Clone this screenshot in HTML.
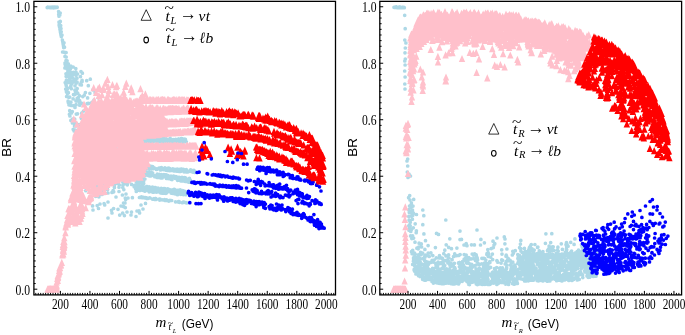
<!DOCTYPE html>
<html><head><meta charset="utf-8"><title>BR plots</title>
<style>html,body{margin:0;padding:0;background:#fff}body{width:685px;height:335px;overflow:hidden}svg{display:block;will-change:transform}</style>
</head><body>
<svg width="685" height="335" viewBox="0 0 685 335">
<rect width="685" height="335" fill="#fff"/>
<g>
<path d="M50.2,7.3h0M53.7,7.2h0M52.5,7.4h0M47.4,7.5h0M47.2,7.5h0M47.5,7.3h0M51.3,7.7h0M48.1,7.3h0M53.5,7.8h0M52.9,7.4h0M57.1,7.2h0M55.9,7.4h0M48.3,7.3h0M50.1,7.7h0M48.7,7.5h0M53.6,7.4h0M52.6,7.2h0M47.4,7.3h0M54,7.5h0M50.1,7.6h0M51.6,7.4h0M55.2,7.6h0M49.4,7.5h0M52.4,7.7h0M54.5,7.4h0M57.2,7.3h0M51.2,7.7h0M48.4,7.5h0M47.2,7.6h0M54.9,7.5h0M58.6,11.5h0M58.9,13h0M58.7,14.6h0M59,16.2h0M59,22h0M59.3,23.5h0M59.1,25h0M59.4,26.6h0M59.9,29h0M60.2,30.6h0M60.4,32h0M60.7,33.6h0M61,35h0M61.3,36.6h0M62.4,40h0M62.7,41.5h0M63,43h0M63.2,44.6h0M63.5,46h0M63.7,47.6h0M62.6,52h0M65.5,52.6h0M65,56.4h0M66,60.6h0M65.5,66h0M68,67h0M70.5,68.6h0M60.2,13.1h0M59.8,15.1h0M60.3,21.4h0M60.7,25.5h0M60.4,26.8h0M61,28.5h0M60.9,31h0M61.2,31.8h0M62,35.1h0M64,42.8h0M64.5,47.2h0M63.7,52.1h0M66.1,52.5h0M66.2,57h0M67.1,60.8h0M66.2,66.6h0M76.7,124.2h0M72.3,111.5h0M66.9,67.3h0M67.8,66.1h0M66,73.8h0M75.4,130.2h0M69.1,73.6h0M81,71.6h0M77.2,98.3h0M67,68.7h0M81.2,126.7h0M68.3,63.8h0M74.2,73.4h0M98.5,138.3h0M67.7,82.4h0M75.8,75h0M75.3,122.8h0M102.2,138.8h0M79.4,125.8h0M91.9,102.4h0M65.1,64.3h0M84,116h0M106,135.1h0M76.3,90.4h0M69.3,79.7h0M89.5,132.2h0M71.5,112.9h0M94.6,113.5h0M89.1,120.5h0M72.1,75.9h0M84.6,124.5h0M89.9,93.3h0M75.9,75.3h0M96.1,124.9h0M93.7,126.5h0M67.3,89.3h0M77,137.7h0M81.3,103.1h0M80,130h0M66.1,81.6h0M81.4,82.2h0M70.8,72.2h0M78.3,97.7h0M82.3,133.6h0M81.9,103.5h0M66.1,76.3h0M93.5,124.3h0M71.1,105.4h0M68.3,102.4h0M73.9,105.7h0M80.9,83.6h0M97.6,105.8h0M82.8,96.6h0M69.9,116h0M87.1,103.6h0M81.7,130.4h0M95.2,105.6h0M68.9,72.7h0M66.6,96.5h0M98.5,114.2h0M77.6,74h0M82.4,73.2h0M75.1,79.1h0M94,100h0M68.1,74.6h0M70.9,102.2h0M81.3,118.3h0M79.7,105.2h0M69.7,110.7h0M73.2,67h0M75.7,137.8h0M75,122.8h0M76,72.1h0M77.1,82.2h0M75.9,133.7h0M66.4,66.5h0M84.3,95.2h0M79,124.5h0M82.6,128.8h0M77.2,88.5h0M86,134.3h0M75.2,80.6h0M67,74.6h0M75,85.8h0M78.1,101h0M65.7,89.1h0M72.6,119.2h0M69,76.8h0M74.5,125.9h0M79.6,100.6h0M79.4,101.5h0M93.2,126.9h0M67.4,93.6h0M70.8,66.2h0M73.7,81.9h0M75.8,68.6h0M69.4,114.3h0M77.9,97.8h0M76.1,104.7h0M75.6,137.3h0M66.4,91.8h0M68.1,101.2h0M65.2,82.6h0M77.7,93.2h0M66.4,80.2h0M88.7,103.3h0M82.6,117.8h0M70.5,87.4h0M95.3,118.5h0M80.6,131.6h0M74.7,119.2h0M79.7,102.9h0M93.6,126.5h0M77,131.6h0M66.8,64.4h0M74.9,90.1h0M83.5,111h0M93.8,115.1h0M70.9,120.4h0M87.8,103.7h0M73,81.7h0M71.3,82.7h0M86.6,119.7h0M75.5,91.8h0M89.8,110.1h0M64.9,68h0M88.3,85.7h0M65,63h0M89.8,116h0M80.1,84.7h0M67.9,71.2h0M76.1,138.3h0M98.3,97.8h0M69.7,97.1h0M70.1,78.4h0M73.6,72.3h0M81,131.2h0M78.8,132h0M67.9,63.9h0M66.2,85.6h0M66.1,88.8h0M74.4,120.6h0M104,134.3h0M66,84.6h0M85.4,92.6h0M66.4,90.1h0M68.8,69.9h0M78.8,135h0M69.7,82.7h0M101.8,136.6h0M99.4,111.2h0M68.9,104.8h0M82.6,119.1h0M71.5,120.7h0M78.6,134.3h0M73.1,98.8h0M97.1,138.2h0M81.7,113.2h0M67.9,75.1h0M77,78.2h0M90.3,79.2h0M68.4,97.1h0M71.3,88.7h0M86.7,80.7h0M82.7,120.5h0M75.1,94.3h0M67.5,66.8h0M94.8,137.5h0M73.2,129.3h0M76.4,83.1h0M103.7,136.4h0M66.4,63.7h0M85.2,117.3h0M92.4,107.8h0M104.1,126.4h0M82.1,81.4h0M72.8,74h0M99.9,118.3h0M74.5,121.7h0M72.4,123h0M76.5,133.8h0M71,81.6h0M84.7,116.5h0M75,107.5h0M74.1,79.4h0M87.6,97.9h0M74.1,130.9h0M82.1,80.3h0M70.8,86h0M76,100.9h0M76.3,114.1h0M65.9,64.7h0M74,94.8h0M93.7,119.7h0M72.4,78h0M76.1,126h0M81.4,85h0M80.5,76.6h0M73.5,94.5h0M68.4,92.7h0M80,138h0M95.1,92.7h0M100.8,119.2h0M67.1,87.7h0M75.6,135h0M77.5,113.8h0M70.4,75.2h0M71.7,83.8h0M77.1,137.2h0M92.9,89.8h0M79.4,95.7h0M76.3,133.7h0M66.8,90.4h0M102.3,184.9h0M125.1,123.3h0M78.2,125h0M134.9,140.6h0M97.7,141.8h0M137.3,169.4h0M92.8,177.3h0M96.3,142.1h0M134.7,170.7h0M136.4,121.9h0M91,158h0M100.7,140.1h0M103.5,159.5h0M135.4,134.6h0M127.4,179.1h0M128.7,181.8h0M114.9,146.2h0M96.5,148.9h0M126.1,126.3h0M88.6,180.2h0M91.8,125.2h0M78.2,164.2h0M93,126.7h0M82.2,159.9h0M121.4,155.8h0M91,153.3h0M115.7,173.9h0M118.5,129.7h0M129.8,143.5h0M112.3,149.8h0M123.2,135.9h0M91.8,139.6h0M85.8,190.7h0M113,146.1h0M108.5,138.5h0M127.7,172.3h0M139.4,128.2h0M106.4,185.5h0M78.6,143.5h0M83.6,135.2h0M138.3,166.7h0M135.5,149.8h0M131.4,155.9h0M92.6,182.2h0M136.5,128.5h0M114.2,169.6h0M89.9,149.5h0M85,136.3h0M92.3,168h0M117.7,136.3h0M76.7,146.2h0M119.4,134.8h0M96,136.3h0M126.9,163.8h0M80,128.1h0M101.3,164h0M116.9,127.3h0M86.5,175.6h0M102.2,142.7h0M95.7,196.3h0M96,165.3h0M98.9,153.3h0M99.3,135.8h0M122.6,136.3h0M103.1,185.6h0M102,190.6h0M105.5,133h0M76.9,164.1h0M81.7,169.8h0M99.7,160.4h0M85.3,142.7h0M83,159.2h0M88.6,130.1h0M106.9,124.3h0M135.3,151h0M133.9,169.6h0M128.8,132.8h0M126.3,137.8h0M101.9,187.7h0M129.1,134.6h0M90,152h0M109.1,150.7h0M83.9,139.8h0M78.6,165h0M124.5,123.1h0M129.6,129.4h0M114.4,164h0M116.1,144.5h0M102.9,166.6h0M103.2,172.7h0M104.6,155.1h0M77.5,169.5h0M107.3,138.8h0M124.9,182.4h0M105.3,134.4h0M106.3,128.6h0M84.2,154.4h0M81.9,155.4h0M108.7,123.3h0M116.7,126.6h0M122.9,182.2h0M108.7,124.3h0M108.3,150.2h0M136.9,130.9h0M122.9,185.2h0M134.6,133.2h0M80.2,148.1h0M124.4,132.7h0M133.4,142h0M128.2,131.5h0M89.3,141h0M108.4,145.5h0M78.4,134.6h0M86.8,182.8h0M83.4,162.5h0M116.7,148.8h0M131.9,164.4h0M113.1,190.6h0M116.3,151.5h0M127.1,141.2h0M145.5,203.4h0M111.5,210.3h0M136.3,191.4h0M123.6,206.6h0M125.3,198h0M119.7,215.1h0M104.1,203.6h0M123.8,189.6h0M125.7,199.6h0M97.2,205.6h0M139,210.9h0M113.7,191.8h0M92.6,205.9h0M122.4,195h0M93,210h0M98.5,208.5h0M100,204h0M104.7,205h0M108,202h0M112,213h0M108,218h0M113.6,208.5h0M118,209.3h0M116,197h0M121,206h0M123.5,203h0M125.3,207.6h0M124.4,215.6h0M127,212h0M131.5,212h0M132.4,197.7h0M126,194h0M137,211h0M139.6,213h0M119,191.5h0M112,192.4h0M108,193h0M122.7,213h0M125,203h0M128,198h0M131,215h0M136,216.5h0M141,205h0M143,209h0M170.7,140.1h0M184.1,141.5h0M152.4,141.7h0M143,140.1h0M159.7,139.1h0M143.7,141.1h0M141.6,140.1h0M184.3,139.1h0M150.2,140.5h0M164.3,140.8h0M178.4,139.2h0M155.2,139.3h0M143.2,141.5h0M177,141.3h0M141.3,141.3h0M175.3,140.3h0M175.1,140.2h0M151.4,138.5h0M151.7,138.2h0M156.4,141.1h0M173,141.8h0M173.7,139.5h0M166.5,140h0M177.3,140.5h0M153.2,140.7h0M185.4,139.4h0M181.5,138.6h0M153,139h0M175.2,142.2h0M175.3,139.7h0M181.5,139.8h0M152,141.7h0M170,141.1h0M171.6,142.3h0M162.6,141.6h0M173.1,141.8h0M161.1,141.1h0M167.2,139.5h0M150.8,140.5h0M144.6,141.6h0M147.7,138.1h0M145.9,141.7h0M156.9,138.7h0M142.3,138.1h0M172.9,140.9h0M173.1,141.3h0M144,140.3h0M157.7,141.4h0M178.7,142h0M144,141.4h0M183.1,142.3h0M145.9,138.8h0M146.2,138.1h0M180,141.7h0M170.2,141.6h0M170.1,139.5h0M145.6,138.4h0M175.8,139.3h0M155.7,139.8h0M142,138.9h0M154,141h0M157.9,139.4h0M185.3,140.6h0M180.2,141h0M142.4,139.6h0M161.1,141.3h0M157,141h0M165.7,139.1h0M180.7,138.9h0M178.7,139.2h0M141.1,138.7h0M176.1,142.3h0M141.2,139.9h0M163.6,141.4h0M149.5,140h0M157,141.5h0M153,141.9h0M154.1,139h0M173.2,140.4h0M146.1,140.5h0M144.7,141.1h0M173.1,141.5h0M169.9,139.8h0M159.5,139.8h0M182,138.9h0M181.9,138.6h0M150.5,139.1h0M182.5,140.5h0M158.4,141.7h0M151.7,139.9h0M165.5,141.3h0M175.6,141h0M157,139.5h0M148.1,141.4h0M171.5,141.3h0M148.8,139.8h0M176.6,140.8h0M146.8,139.8h0M181.7,139.5h0M149.8,139.2h0M173.3,141.8h0M148.1,138.6h0M152.4,139.4h0M165,138.9h0M156.1,138.9h0M185.9,141.5h0M145.7,141.8h0M145.7,139.5h0M186.3,141.8h0M174.7,140.2h0M150,140.6h0M145.9,138.8h0M158.9,138.3h0M159.4,141.3h0M172.9,140.4h0M170.1,140.2h0M147.5,140.4h0M159.6,141.1h0M182.8,140.3h0M167.4,141.3h0M160.4,139.1h0M174.2,141.9h0M176.6,141.2h0M180.2,141.2h0M170.5,140.2h0M155.4,140.6h0M145.5,139.6h0M177,141.3h0M170,139.3h0M160.5,140h0M169.6,140h0M172.1,142.1h0M149.4,140.6h0M176.8,140h0M163.5,142.1h0M142.8,140.1h0M148.4,141.1h0M184.3,140.6h0M145.7,140.3h0M165.9,141.1h0M164.6,140.8h0M179.1,140.6h0M159.9,142h0M150.7,140.8h0M159.1,141.2h0M146.6,141.9h0M157.4,138.4h0M153.6,139.7h0M141.6,139.6h0M160.3,141h0M157.2,139.2h0M151.3,141h0M184.2,140.7h0M151.1,141.3h0M159,139h0M146.9,141.1h0M178.2,141h0M162.6,140.5h0M151.4,141.9h0M157.2,140.7h0M178.7,141.7h0M162.5,139.4h0M166.2,138.8h0M179.4,139.9h0M180.1,139.6h0M158.3,139.2h0M160.6,138.9h0M141.1,140.8h0M153.9,139.1h0M154.9,140h0M160.7,140.7h0M171.3,139.8h0M183.7,142h0M143.6,141.3h0M182.7,141.7h0M147.5,141.3h0M170.1,138.4h0M141.5,141.7h0M171.2,139.4h0M145.7,138.5h0M151.7,141.2h0M156.9,138.8h0M182.6,141.7h0M148.7,141.6h0M169,141.5h0M171.7,141.9h0M177.3,141.8h0M150.1,140.8h0M165.4,141.2h0M161.2,141.7h0M166.5,139.3h0M151.8,138.6h0M163.7,138.5h0M162.5,138.8h0M163.6,140.2h0M165.8,141.7h0M141.3,141.3h0M162.5,140.5h0M171.6,141.7h0M158.2,139.8h0M193.9,170.3h0M176.8,170.3h0M144.5,167.4h0M179.2,171.4h0M160.5,169.9h0M170.1,169.3h0M190.6,169.9h0M181.1,170.7h0M160.9,169.6h0M162.4,168.6h0M170.9,170.2h0M154.2,167.8h0M165.4,169.1h0M186.8,170.3h0M186.9,170.6h0M169.7,168.7h0M169.8,170.7h0M177.7,170.9h0M160.5,168h0M158.9,168.6h0M176.6,170.7h0M145.1,167.8h0M189.9,171.2h0M145.6,166.7h0M143.3,166.2h0M191.8,171.6h0M177.9,170.9h0M191.2,171.5h0M175.7,170.2h0M179.9,170.5h0M179.1,169.4h0M178.4,170h0M183.4,169.4h0M152.6,166.5h0M184.1,171.8h0M177.8,169.7h0M186.6,171.6h0M172.8,168.9h0M159,168.2h0M159.9,168.3h0M177,171.2h0M145.9,167.4h0M145.1,166.1h0M185.9,171h0M191.7,171.1h0M143.7,166.7h0M174.4,171h0M195,171.5h0M164.9,167.8h0M177.2,169.2h0M151,166.3h0M143.3,167.5h0M149.4,168.9h0M147.7,168.4h0M149.8,166.2h0M181.1,169.6h0M181.9,169.5h0M145.7,168h0M180.8,171.3h0M181.7,169.2h0M176.3,170.5h0M167.4,170.4h0M156.5,169.5h0M181,169h0M143.8,167.5h0M186.3,169.6h0M159.5,169.1h0M151.8,168.8h0M168.8,168h0M162.5,168.9h0M166.3,169.5h0M150.7,168.5h0M162.3,169.1h0M176.4,169.7h0M163.4,169.6h0M193.1,172.2h0M173,169.1h0M146.2,168.6h0M180.3,171.2h0M160.6,168.8h0M194.8,172.5h0M174.9,169.3h0M165.7,170.1h0M163,169.3h0M174.9,170.9h0M185.8,170.1h0M143.1,166.3h0M165.4,169.2h0M186.2,171.9h0M145.2,168.1h0M186,171.8h0M173.3,169h0M188.1,171.8h0M179.3,171.3h0M161.4,167.5h0M172.3,170.4h0M153.6,168.6h0M192.4,170.6h0M175.2,170.3h0M167.7,168.3h0M156.5,168.9h0M185,170.6h0M147.6,168.3h0M183.9,169.8h0M173.7,170.8h0M189.9,171.2h0M168.3,169.5h0M153,167h0M152.6,168.4h0M162.2,168.9h0M159.1,175.8h0M145.8,171.9h0M190.3,180h0M143.6,173.9h0M179.3,177.4h0M169.4,176.7h0M165.3,174.8h0M139.8,174.7h0M183.5,179.4h0M167.8,176.1h0M178.9,178.5h0M187.7,181.2h0M181,180.9h0M151.3,172.7h0M148.6,172.8h0M142.4,171.4h0M167.3,178.5h0M162.1,178h0M185.8,178.1h0M169.4,176.9h0M144.3,175.3h0M151.5,174.8h0M171.6,179.5h0M173.2,177.4h0M161.5,174.7h0M188.7,182.2h0M149.6,172.4h0M151.4,174h0M185.4,181.4h0M182,177.4h0M179.3,179.6h0M172,179.6h0M140.9,171.5h0M177.6,180.3h0M173.5,177.1h0M169.1,178.3h0M143.5,172.6h0M151.5,173.1h0M163.3,175h0M150.5,173h0M173.6,176h0M175.7,177h0M139.9,174.5h0M149.6,176h0M183.5,181h0M145.3,173.4h0M143.1,175h0M182.2,179.8h0M161.7,175.5h0M181.2,179h0M171,176.1h0M149.6,172.5h0M175.5,178.4h0M145.6,175.1h0M152,174.3h0M146.2,172.8h0M182.1,178.6h0M146.8,173.8h0M154.7,176.7h0M144,175.3h0M141,174.5h0M173.1,176.7h0M163.1,175.5h0M151.5,173.4h0M157.1,177.4h0M190.4,182.2h0M143.1,172.4h0M185.1,177.9h0M176.1,177.5h0M189.4,178.4h0M180.4,178.3h0M145.4,171.6h0M181.7,179.3h0M147.8,173.7h0M185.9,178.7h0M168,175.6h0M147.5,175h0M175.4,177h0M142.2,171.5h0M169.9,177.4h0M152.4,173.5h0M170.2,178.2h0M180.6,179.3h0M148.6,172.4h0M176.5,178h0M175.9,176.5h0M180.6,178.3h0M182.2,180.7h0M163.9,174.5h0M185.8,179.7h0M183.8,178.6h0M147.8,175.3h0M157.3,174.1h0M157.5,175.9h0M138.2,172.6h0M161.4,176.1h0M144.3,174.3h0M180.9,180.5h0M154.9,175.9h0M158,176.6h0M141.2,174.5h0M188.1,180.1h0M164.9,176.7h0M166.2,174.9h0M188.8,179.2h0M147.6,172.4h0M151.1,175.8h0M139.6,171.1h0M174.7,176.9h0M138.9,173h0M168.3,177.2h0M174.9,176.5h0M183.7,180.3h0M140.4,171.4h0M163.9,176.5h0M152.7,173.2h0M159.3,174.3h0M169.1,178.7h0M145.7,174h0M177.2,177.1h0M181.4,180.9h0M158.4,175.3h0M182.1,179.3h0M158.8,177.4h0M178.8,178.1h0M150.6,173.8h0M160.9,177.9h0M180.2,180.6h0M180.8,180.4h0M140.8,173h0M188.3,181.9h0M151.1,174.2h0M171.2,177h0M165.9,175h0M160.7,176h0M139.1,171.2h0M188.9,181.4h0M187.2,180.6h0M180.5,180.5h0M184.4,177.7h0M171.7,176.7h0M173.6,177h0M166.5,178.5h0M170.6,176.5h0M165.3,176.4h0M187.9,179.3h0M154,175.5h0M144.3,173.8h0M188.2,180.2h0M152.1,174.5h0M162.3,188.8h0M140.6,186.5h0M149.6,188.8h0M149.3,187.9h0M138.7,188.4h0M178.5,192.8h0M164.2,191.6h0M144.7,189.9h0M158.4,190.4h0M166.5,190.8h0M150.5,188h0M145.7,189h0M154.3,190.2h0M134.6,187h0M179.7,191h0M163.5,190.7h0M149.1,191.8h0M149.7,190.7h0M142.4,186.3h0M180.2,192.1h0M137.3,187.5h0M157.3,191.3h0M139.8,186.9h0M184.8,194.1h0M142.2,187.7h0M152.7,190.5h0M166.7,192.8h0M177.5,192.2h0M173.2,193h0M174.3,191.7h0M175.6,193h0M182.5,190.7h0M180.2,189.8h0M174.6,192.3h0M160.4,192.8h0M164.3,190.4h0M175.5,193.9h0M166.2,190.4h0M158,189.9h0M172.3,190.5h0M154.7,190.1h0M154.4,188.8h0M175.7,193.8h0M160.5,190.1h0M143.8,187.7h0M141.7,188.9h0M164.8,188.7h0M182.8,191.8h0M178.7,194h0M184.8,191.3h0M156.6,192.1h0M134.6,185.4h0M163.9,190.7h0M182.8,194.1h0M162.5,193.2h0M161.4,190.6h0M170.3,190.8h0M153,190.1h0M152.6,191.9h0M169.9,191.5h0M139.2,187.6h0M155.2,190.2h0M164.4,192.8h0M185.1,192.8h0M157.3,190.7h0M186.8,192.3h0M162.1,192.2h0M143,187.7h0M185.9,194.7h0M161.2,188.4h0M181.4,193.5h0M177.5,194.7h0M181.1,192.1h0M142.3,187.5h0M161.1,190.5h0M144,187.1h0M167.4,191.6h0M152.7,192.2h0M167.7,188.8h0M155.8,191.4h0M150.3,190.3h0M134.2,186.7h0M178.6,192.7h0M169.4,189.7h0M160.4,190.7h0M148.1,189.9h0M162.2,193.2h0M164.4,190.3h0M140.4,186.6h0M174.3,189.8h0M139.3,186.5h0M161.7,192.2h0M166.5,192.6h0M137.3,185.5h0M174.8,190.9h0M171.9,190.8h0M143,187.4h0M139.3,190.3h0M164.9,190.1h0M157.8,189.5h0M136.9,190h0M164.9,193.2h0M157.3,190.7h0M147.2,186.7h0M183.3,194.6h0M150.7,191.5h0M177.2,191.1h0M165.9,193.3h0M160.3,192.7h0M146.9,188.4h0M172.1,190.1h0M150.4,191.3h0M159.7,191.8h0M146.9,187.3h0M153,188h0M185.5,191.9h0M163.8,188.7h0M162.3,190h0M155.4,187.6h0M140.5,190.1h0M152.6,188.3h0M144.1,187.6h0M146.6,186.6h0M169.2,190.5h0M142.3,189.6h0M138.9,187h0M178.3,190.3h0M157.5,191.8h0M176.7,190.3h0M152.7,190.8h0M154,192.1h0M145,191.2h0M160.8,189h0M158,188.2h0M171.4,190.3h0M181.7,193h0M153.5,188.4h0M166.2,189.5h0M180.2,190.4h0M161.2,190.7h0M148.3,190.6h0M154.4,190.6h0M164.1,189.8h0M154.7,187.7h0M143.4,190.5h0M151,190.3h0M139.8,188.6h0M153.2,189.7h0M149.7,187h0M150.5,188h0M140.7,189.5h0M149,188.7h0M182.2,194h0M180.8,194.3h0M141,187.3h0M135.6,188.8h0M169.2,190.5h0M155.9,190.8h0M171.1,190.2h0M178.9,191.5h0M167.3,189.4h0M140.1,190.5h0M172.9,192.8h0M136.1,185.5h0M142.6,187h0M150.1,188.7h0M136.1,186.9h0M167.8,189.5h0M178.5,192.6h0M172,190.3h0M157.1,191h0M152.5,187h0M178.2,193.6h0M149.2,186.9h0M179.3,192.9h0M136.5,186.6h0M139.9,189.8h0M145.1,191h0M173.7,189.6h0M170.8,190.9h0M173.6,193.4h0M148.9,187.1h0M184.2,192.4h0M183.3,193.7h0M173.1,193.4h0M167.3,190.8h0M136.9,189h0M156.7,190.1h0M183.2,190.8h0M174.4,189.4h0M171.2,193.1h0M147.8,189.4h0M185.4,193.6h0M162.8,189.3h0M137.1,187.3h0M155.8,188.4h0M150.5,187.5h0M171.5,192.4h0M146.6,187.6h0M161.3,190.2h0M183.9,202.2h0M152.7,199.2h0M145,197.9h0M154.3,199.3h0M164.9,200.4h0M146.3,198.2h0M167.3,200.4h0M175.5,201.8h0M143.6,197.4h0M155.7,198.7h0M141,197.1h0M147.7,198.4h0M160,199.1h0M153.9,198.8h0M155.8,198.7h0M141.5,196.8h0M186.6,202.9h0M142.1,197.7h0M186,202.7h0M143.3,197.6h0M159.3,199.1h0M164.6,199.5h0M183.1,202.4h0M168.8,201.1h0M170,200.4h0M150.1,198h0M139.4,197.5h0M179.1,201.6h0M147.1,198.2h0M179.4,202.3h0M146.3,198.3h0M178.7,202h0M154,198.5h0M178.4,201.5h0M156.1,199.2h0M156.1,199.5h0M149.7,197.8h0M165.8,200.4h0M178.2,201.9h0M182.4,202.7h0M162.2,199.8h0M145.7,197.7h0M166.5,199.8h0M171.7,200.5h0M159.7,200.1h0M112.4,167.3h0M133.2,176.2h0M103,185.1h0M116.9,176h0M106.3,176.7h0M140.2,166.2h0M103.7,176.8h0M119.8,173.2h0M105.4,177.5h0M143.7,183.6h0M134.7,162.3h0M126.6,183.1h0M103.8,181.7h0M143.2,178.3h0M124.8,171.4h0M126.7,177h0M91.1,185.1h0M108.3,182.1h0M111,180.1h0M119.9,175.1h0M139.4,180.8h0M92.7,192.8h0M117.8,169.6h0M115.4,181.1h0M99.6,181.8h0M92.8,179.5h0M119,187.2h0M131.4,164.4h0M92.1,191.5h0M109.5,166.5h0M143.6,181.4h0M132.5,165.2h0M132.6,162.2h0M100.2,174.1h0M98.8,171.4h0M128.4,176.2h0M139.3,183.6h0M138.3,181.4h0M96.1,188.3h0M106.5,189h0M93.4,174.2h0M122.2,163.8h0M126.5,169.7h0M97.6,177h0M136.3,182.1h0M92.6,190.4h0M97.1,181.1h0M103.4,186.1h0M138.5,180.5h0M134,161.3h0M96.9,191.1h0M126.8,174.9h0M114.5,166h0M136.7,174.9h0M138.4,183.2h0M90.6,172.5h0M99,194h0M96.2,173.7h0M114.1,181.9h0M109.3,173.4h0M126.3,170.4h0M102.4,179h0M101.7,181.6h0M124,184.1h0M107.8,170.7h0M142.3,185.9h0M104.2,189h0M130.4,179.3h0M124.1,173.3h0M119,175.4h0M89.6,172.8h0M114.9,174h0M100.6,168.9h0M113.2,176.9h0M120.1,171.5h0M104.1,171.7h0M129.6,180.9h0M142.2,172.9h0M141.3,182.2h0M107.4,189.4h0M90.1,178.4h0M139.9,170.5h0M95.9,170.2h0M128.3,168.3h0M110,167.6h0M124.9,167.5h0M97.3,180.4h0M138.5,184.3h0M141.4,168.1h0M105.6,188.5h0M124.9,175.4h0M126.7,172.8h0M89.4,175.7h0M88.7,183.8h0M106.1,178.8h0M121.9,169.8h0M141.5,181.4h0M122.8,187.5h0M132,163.4h0M134.8,176.1h0M118.3,182.4h0M119.3,185h0M122.1,172.6h0M130.5,169.8h0M132.6,171.8h0M113.2,170.6h0M114.5,184.9h0M132.4,173.8h0M131.4,163.4h0M89.6,179.1h0M119.3,166.9h0M142.4,173.9h0M132.7,169.2h0M144.9,179h0M124.2,173.1h0M134,177.5h0M92.5,187.9h0M89.9,184.5h0M89.6,181.4h0M142.7,183.8h0M99.4,169.6h0M101.7,176.5h0M99.9,167.7h0M131.6,184.4h0M99,181.6h0M95.4,192.8h0M138.2,170.2h0M103,172.6h0M95.7,185.9h0M121.9,177.2h0M98.6,193.6h0M107.6,189.6h0M137.8,166.9h0M95,188h0M127,163.4h0M100.1,190.1h0M116.3,168.8h0M105,193.4h0M93.2,178.5h0M94.1,176.3h0M96.7,186h0M94.9,188.1h0M107.2,178.9h0M141.1,173.3h0M98.9,196.8h0M88.6,179.3h0M110.5,181.2h0M127.3,184.8h0M118.6,180.9h0M110,172.1h0M109.2,174.6h0M101.3,183.2h0M108.6,169.1h0M140.5,161.9h0M127.7,172.3h0M124.8,180.9h0M137.2,179.4h0M100.1,183.9h0M130.6,174.4h0M128.7,175h0M117.6,183.3h0M126.6,172.2h0M123.7,180.6h0M99.4,183.3h0M101.9,194.5h0M114.4,187.4h0M117.3,178.1h0M141.6,180.1h0M117.4,180h0M134.8,169.1h0" stroke="#add8e6" stroke-width="3.7" stroke-linecap="round" fill="none"/>
<path d="M47.6,285.4l3.2,7.2h-6.4zM47.8,285.6l3.2,7.2h-6.4zM48.1,285.5l3.2,7.2h-6.4zM48.3,285.6l3.2,7.2h-6.4zM48.5,285.6l3.2,7.2h-6.4zM48.8,285.7l3.2,7.2h-6.4zM49,285.6l3.2,7.2h-6.4zM49.3,285.3l3.2,7.2h-6.4zM49.5,285.5l3.2,7.2h-6.4zM49.7,285.6l3.2,7.2h-6.4zM50,285.6l3.2,7.2h-6.4zM50.2,285.3l3.2,7.2h-6.4zM50.4,285.4l3.2,7.2h-6.4zM50.7,285.4l3.2,7.2h-6.4zM50.9,285.3l3.2,7.2h-6.4zM51.1,285.4l3.2,7.2h-6.4zM51.4,285.6l3.2,7.2h-6.4zM51.6,285.5l3.2,7.2h-6.4zM51.8,285.5l3.2,7.2h-6.4zM52.1,285.3l3.2,7.2h-6.4zM52.3,285.5l3.2,7.2h-6.4zM52.6,285.7l3.2,7.2h-6.4zM52.8,285.6l3.2,7.2h-6.4zM53,285.5l3.2,7.2h-6.4zM53.3,285.5l3.2,7.2h-6.4zM53.5,285.6l3.2,7.2h-6.4zM53.7,285.6l3.2,7.2h-6.4zM54,285.4l3.2,7.2h-6.4zM54.2,285.6l3.2,7.2h-6.4zM54.4,285.4l3.2,7.2h-6.4zM54.7,285.5l3.2,7.2h-6.4zM54.9,285.4l3.2,7.2h-6.4zM55.1,285.4l3.2,7.2h-6.4zM55.4,285.4l3.2,7.2h-6.4zM55.6,285.5l3.2,7.2h-6.4zM55.9,285.3l3.2,7.2h-6.4zM56.1,285.4l3.2,7.2h-6.4zM56.3,285.5l3.2,7.2h-6.4zM56.6,285.3l3.2,7.2h-6.4zM56.8,285.4l3.2,7.2h-6.4zM59.5,264.2l3.2,7.2h-6.4zM63.9,237.4l3.2,7.2h-6.4zM57.7,272.1l3.2,7.2h-6.4zM61.8,258.7l3.2,7.2h-6.4zM65.4,229.1l3.2,7.2h-6.4zM59,269.3l3.2,7.2h-6.4zM63,240.7l3.2,7.2h-6.4zM63.1,245.5l3.2,7.2h-6.4zM59.6,263.9l3.2,7.2h-6.4zM64.1,243.1l3.2,7.2h-6.4zM58.4,270.5l3.2,7.2h-6.4zM64.2,241.6l3.2,7.2h-6.4zM56.7,278.3l3.2,7.2h-6.4zM56.7,281.5l3.2,7.2h-6.4zM64.5,240.7l3.2,7.2h-6.4zM63.4,237.8l3.2,7.2h-6.4zM59.2,266.8l3.2,7.2h-6.4zM62.5,251.2l3.2,7.2h-6.4zM57.8,276.7l3.2,7.2h-6.4zM67.9,217.1l3.2,7.2h-6.4zM63.1,246.9l3.2,7.2h-6.4zM58.1,272.5l3.2,7.2h-6.4zM63.9,247.6l3.2,7.2h-6.4zM63.4,245.3l3.2,7.2h-6.4zM63.3,250.2l3.2,7.2h-6.4zM61,261l3.2,7.2h-6.4zM62.8,242.7l3.2,7.2h-6.4zM60.6,261.6l3.2,7.2h-6.4zM59.6,267.7l3.2,7.2h-6.4zM65.7,223.4l3.2,7.2h-6.4zM67.9,220.6l3.2,7.2h-6.4zM65.6,222.3l3.2,7.2h-6.4zM59.5,266.6l3.2,7.2h-6.4zM67.8,219.1l3.2,7.2h-6.4zM60,263.8l3.2,7.2h-6.4zM67.9,219.1l3.2,7.2h-6.4zM63.8,243.8l3.2,7.2h-6.4zM56.7,283.3l3.2,7.2h-6.4zM57.3,274.7l3.2,7.2h-6.4zM64.5,238.1l3.2,7.2h-6.4zM69.4,215.8l3.2,7.2h-6.4zM64.3,234.1l3.2,7.2h-6.4zM64,236.7l3.2,7.2h-6.4zM58,273.8l3.2,7.2h-6.4zM62.5,250.1l3.2,7.2h-6.4zM66.8,218.9l3.2,7.2h-6.4zM80.5,202.4l3.2,7.2h-6.4zM78.5,205.8l3.2,7.2h-6.4zM81.8,202.2l3.2,7.2h-6.4zM87.6,197.3l3.2,7.2h-6.4zM80.4,203.5l3.2,7.2h-6.4zM81.3,200.9l3.2,7.2h-6.4zM73.4,214.9l3.2,7.2h-6.4zM73.9,212.4l3.2,7.2h-6.4zM78,217.3l3.2,7.2h-6.4zM83.3,192.8l3.2,7.2h-6.4zM89.3,193.5l3.2,7.2h-6.4zM82.1,196.7l3.2,7.2h-6.4zM74,197.6l3.2,7.2h-6.4zM88.6,195.7l3.2,7.2h-6.4zM77.2,210.8l3.2,7.2h-6.4zM84.5,196l3.2,7.2h-6.4zM67.5,211.9l3.2,7.2h-6.4zM67.1,216.1l3.2,7.2h-6.4zM73.9,198.3l3.2,7.2h-6.4zM81.7,200.8l3.2,7.2h-6.4zM81.1,195.9l3.2,7.2h-6.4zM88.7,195.9l3.2,7.2h-6.4zM76.6,192.4l3.2,7.2h-6.4zM76.3,210.3l3.2,7.2h-6.4zM72,207.5l3.2,7.2h-6.4zM68.5,205.1l3.2,7.2h-6.4zM85.7,204.1l3.2,7.2h-6.4zM84.3,194.8l3.2,7.2h-6.4zM88.4,195l3.2,7.2h-6.4zM73.9,201.7l3.2,7.2h-6.4zM91.1,194.1l3.2,7.2h-6.4zM79.1,216.9l3.2,7.2h-6.4zM82.1,207.4l3.2,7.2h-6.4zM73.3,217.7l3.2,7.2h-6.4zM88.8,198.1l3.2,7.2h-6.4zM91,192.4l3.2,7.2h-6.4zM75.3,219.3l3.2,7.2h-6.4zM83.7,192.9l3.2,7.2h-6.4zM75,204.7l3.2,7.2h-6.4zM72.7,213.3l3.2,7.2h-6.4zM70.8,214.6l3.2,7.2h-6.4zM74.1,193.4l3.2,7.2h-6.4zM81.1,194.2l3.2,7.2h-6.4zM80.9,214.6l3.2,7.2h-6.4zM82.1,205l3.2,7.2h-6.4zM68.6,210.5l3.2,7.2h-6.4zM69.6,208.5l3.2,7.2h-6.4zM75.5,202.5l3.2,7.2h-6.4zM83.9,196.2l3.2,7.2h-6.4zM75,216.2l3.2,7.2h-6.4zM89.7,194.9l3.2,7.2h-6.4zM79.4,207.2l3.2,7.2h-6.4zM69.2,205.2l3.2,7.2h-6.4zM70.4,207.2l3.2,7.2h-6.4zM79.7,202.2l3.2,7.2h-6.4zM71.3,203.3l3.2,7.2h-6.4zM71.5,195.1l3.2,7.2h-6.4zM72.5,217.1l3.2,7.2h-6.4zM79.5,217.7l3.2,7.2h-6.4zM66.4,219.2l3.2,7.2h-6.4zM79.2,214.7l3.2,7.2h-6.4zM81.4,211.7l3.2,7.2h-6.4zM76.2,217.9l3.2,7.2h-6.4zM77,213.4l3.2,7.2h-6.4zM75.6,209.4l3.2,7.2h-6.4zM67,218.9l3.2,7.2h-6.4zM68,214.4l3.2,7.2h-6.4zM82.5,209.9l3.2,7.2h-6.4zM77.3,177.1l3.2,7.2h-6.4zM74.6,175.2l3.2,7.2h-6.4zM74.9,172.2l3.2,7.2h-6.4zM75.2,184.4l3.2,7.2h-6.4zM72,193.7l3.2,7.2h-6.4zM74.7,185.9l3.2,7.2h-6.4zM80.1,186.3l3.2,7.2h-6.4zM72.5,189.2l3.2,7.2h-6.4zM76.6,177.5l3.2,7.2h-6.4zM71,196l3.2,7.2h-6.4zM79.3,186.9l3.2,7.2h-6.4zM75.6,191.8l3.2,7.2h-6.4zM77.1,191.7l3.2,7.2h-6.4zM70.9,194.4l3.2,7.2h-6.4zM76.5,194.9l3.2,7.2h-6.4zM73.5,181.6l3.2,7.2h-6.4zM77.3,177.5l3.2,7.2h-6.4zM73.6,188.4l3.2,7.2h-6.4zM73.9,180l3.2,7.2h-6.4zM74.4,176.4l3.2,7.2h-6.4zM79.5,179.7l3.2,7.2h-6.4zM82.2,196.3l3.2,7.2h-6.4zM76.9,183.4l3.2,7.2h-6.4zM82.6,190.9l3.2,7.2h-6.4zM79.1,190.2l3.2,7.2h-6.4zM76.5,176.4l3.2,7.2h-6.4zM81.4,192.5l3.2,7.2h-6.4zM76.2,173.7l3.2,7.2h-6.4zM74.1,180.1l3.2,7.2h-6.4zM80.3,195.5l3.2,7.2h-6.4zM73.2,190l3.2,7.2h-6.4zM83.2,192.1l3.2,7.2h-6.4zM81.1,194l3.2,7.2h-6.4zM81.5,192.2l3.2,7.2h-6.4zM76.7,186.2l3.2,7.2h-6.4zM81.3,192l3.2,7.2h-6.4zM75,193.2l3.2,7.2h-6.4zM78.2,195.4l3.2,7.2h-6.4zM72.3,195l3.2,7.2h-6.4zM82,195.6l3.2,7.2h-6.4zM77.9,177.7l3.2,7.2h-6.4zM74.3,177.2l3.2,7.2h-6.4zM74.6,182.8l3.2,7.2h-6.4zM80.5,183.7l3.2,7.2h-6.4zM79.8,188.5l3.2,7.2h-6.4zM78.7,181.2l3.2,7.2h-6.4zM79.8,191.2l3.2,7.2h-6.4zM82.4,194.9l3.2,7.2h-6.4zM73.5,181.6l3.2,7.2h-6.4zM81,187.7l3.2,7.2h-6.4zM77,179.9l3.2,7.2h-6.4zM81.4,192.3l3.2,7.2h-6.4zM75.1,171.5l3.2,7.2h-6.4zM74.1,171.8l3.2,7.2h-6.4zM76.6,191.7l3.2,7.2h-6.4zM76.9,186.5l3.2,7.2h-6.4zM74.4,179.8l3.2,7.2h-6.4zM78.8,180.2l3.2,7.2h-6.4zM75.2,186.9l3.2,7.2h-6.4zM74.6,173.6l3.2,7.2h-6.4zM125.9,139.1l3.2,7.2h-6.4zM133.7,108l3.2,7.2h-6.4zM77.1,175.8l3.2,7.2h-6.4zM140.1,134.5l3.2,7.2h-6.4zM135.5,112.1l3.2,7.2h-6.4zM133.9,120.6l3.2,7.2h-6.4zM81.5,149.7l3.2,7.2h-6.4zM112,132.8l3.2,7.2h-6.4zM140.1,160.7l3.2,7.2h-6.4zM120.2,139.3l3.2,7.2h-6.4zM100.8,160.2l3.2,7.2h-6.4zM101.8,146.8l3.2,7.2h-6.4zM141.1,144.5l3.2,7.2h-6.4zM135.8,162.4l3.2,7.2h-6.4zM127.9,168.8l3.2,7.2h-6.4zM98.1,109.6l3.2,7.2h-6.4zM140,110.3l3.2,7.2h-6.4zM116.7,100.9l3.2,7.2h-6.4zM129.3,158.3l3.2,7.2h-6.4zM130.4,124.5l3.2,7.2h-6.4zM125.1,123.2l3.2,7.2h-6.4zM99.7,109.9l3.2,7.2h-6.4zM138.9,112l3.2,7.2h-6.4zM86.6,126.5l3.2,7.2h-6.4zM96,133.4l3.2,7.2h-6.4zM96.9,187.5l3.2,7.2h-6.4zM97.7,138.7l3.2,7.2h-6.4zM93.3,134.4l3.2,7.2h-6.4zM135.9,157.9l3.2,7.2h-6.4zM97.3,111.1l3.2,7.2h-6.4zM108.8,150.3l3.2,7.2h-6.4zM129.7,123l3.2,7.2h-6.4zM141.9,147.5l3.2,7.2h-6.4zM120.6,121.5l3.2,7.2h-6.4zM92,103.1l3.2,7.2h-6.4zM129.8,161.8l3.2,7.2h-6.4zM133.8,107.1l3.2,7.2h-6.4zM120.9,163.2l3.2,7.2h-6.4zM99.3,134.3l3.2,7.2h-6.4zM99.9,114.3l3.2,7.2h-6.4zM113.4,146.7l3.2,7.2h-6.4zM140.7,109.3l3.2,7.2h-6.4zM78.9,136.3l3.2,7.2h-6.4zM137,160.8l3.2,7.2h-6.4zM103.9,151.8l3.2,7.2h-6.4zM85.2,161.2l3.2,7.2h-6.4zM139,109.1l3.2,7.2h-6.4zM126.1,155.5l3.2,7.2h-6.4zM79,154.6l3.2,7.2h-6.4zM94.2,117l3.2,7.2h-6.4zM133.4,131.1l3.2,7.2h-6.4zM79.3,177.3l3.2,7.2h-6.4zM74.3,157.1l3.2,7.2h-6.4zM94.4,102.1l3.2,7.2h-6.4zM115.1,174.3l3.2,7.2h-6.4zM135.2,107.1l3.2,7.2h-6.4zM120.6,129.2l3.2,7.2h-6.4zM116.1,117.4l3.2,7.2h-6.4zM113.7,99.3l3.2,7.2h-6.4zM76.1,145.1l3.2,7.2h-6.4zM78.7,157.2l3.2,7.2h-6.4zM117.3,135l3.2,7.2h-6.4zM117.6,118.2l3.2,7.2h-6.4zM109.4,109.3l3.2,7.2h-6.4zM124.5,164.8l3.2,7.2h-6.4zM99.3,114.7l3.2,7.2h-6.4zM94.9,115.1l3.2,7.2h-6.4zM112.2,138.7l3.2,7.2h-6.4zM126.1,115.4l3.2,7.2h-6.4zM142.1,166.1l3.2,7.2h-6.4zM127.4,157.2l3.2,7.2h-6.4zM100.3,112.2l3.2,7.2h-6.4zM107.7,106.3l3.2,7.2h-6.4zM85.4,171.4l3.2,7.2h-6.4zM132.8,142.4l3.2,7.2h-6.4zM115.7,145.4l3.2,7.2h-6.4zM128.2,133.5l3.2,7.2h-6.4zM136.3,109.3l3.2,7.2h-6.4zM89.8,152.9l3.2,7.2h-6.4zM132.2,141.1l3.2,7.2h-6.4zM139.8,147.9l3.2,7.2h-6.4zM97.9,156.7l3.2,7.2h-6.4zM109.9,158.1l3.2,7.2h-6.4zM81.7,153.5l3.2,7.2h-6.4zM88.8,140.4l3.2,7.2h-6.4zM121.1,164.6l3.2,7.2h-6.4zM79,166.3l3.2,7.2h-6.4zM108.8,135l3.2,7.2h-6.4zM126.8,119.5l3.2,7.2h-6.4zM125.2,141.9l3.2,7.2h-6.4zM141.3,154.2l3.2,7.2h-6.4zM90.9,134.3l3.2,7.2h-6.4zM135,157.6l3.2,7.2h-6.4zM91.8,186.2l3.2,7.2h-6.4zM93.5,111.2l3.2,7.2h-6.4zM130,106.4l3.2,7.2h-6.4zM126.5,114.4l3.2,7.2h-6.4zM86,145.8l3.2,7.2h-6.4zM141.8,96.6l3.2,7.2h-6.4zM119.9,153.8l3.2,7.2h-6.4zM114.4,124.5l3.2,7.2h-6.4zM74.6,168.3l3.2,7.2h-6.4zM83,159.1l3.2,7.2h-6.4zM105.7,107.1l3.2,7.2h-6.4zM114.4,130.4l3.2,7.2h-6.4zM136.8,106.2l3.2,7.2h-6.4zM96.4,170l3.2,7.2h-6.4zM130.9,97.1l3.2,7.2h-6.4zM82.4,163.2l3.2,7.2h-6.4zM112.5,140.4l3.2,7.2h-6.4zM119.2,159l3.2,7.2h-6.4zM136,165.6l3.2,7.2h-6.4zM139,113.8l3.2,7.2h-6.4zM106.7,164.6l3.2,7.2h-6.4zM96.2,130l3.2,7.2h-6.4zM81,139.1l3.2,7.2h-6.4zM94.3,120.5l3.2,7.2h-6.4zM81.8,176.1l3.2,7.2h-6.4zM120.4,131.8l3.2,7.2h-6.4zM113.3,159.1l3.2,7.2h-6.4zM95.3,183.9l3.2,7.2h-6.4zM87,138.7l3.2,7.2h-6.4zM92.4,121.2l3.2,7.2h-6.4zM125.1,116.6l3.2,7.2h-6.4zM145.4,158.5l3.2,7.2h-6.4zM122.6,154.1l3.2,7.2h-6.4zM96.5,102.6l3.2,7.2h-6.4zM75.1,131.3l3.2,7.2h-6.4zM82.4,144l3.2,7.2h-6.4zM124.9,122.8l3.2,7.2h-6.4zM96.4,135.9l3.2,7.2h-6.4zM106.9,166.7l3.2,7.2h-6.4zM135.6,99.4l3.2,7.2h-6.4zM123.6,123.2l3.2,7.2h-6.4zM88.1,183.7l3.2,7.2h-6.4zM122.8,153l3.2,7.2h-6.4zM87.4,110.3l3.2,7.2h-6.4zM122.3,151.4l3.2,7.2h-6.4zM137.1,109l3.2,7.2h-6.4zM100.9,166.1l3.2,7.2h-6.4zM132.3,120.7l3.2,7.2h-6.4zM112.7,107.2l3.2,7.2h-6.4zM132.9,123.9l3.2,7.2h-6.4zM130.6,118l3.2,7.2h-6.4zM90.2,133.5l3.2,7.2h-6.4zM121.5,141.9l3.2,7.2h-6.4zM77.7,160.4l3.2,7.2h-6.4zM106.4,107.6l3.2,7.2h-6.4zM126.7,105.4l3.2,7.2h-6.4zM109.5,113.2l3.2,7.2h-6.4zM106.6,107.8l3.2,7.2h-6.4zM100.7,141.7l3.2,7.2h-6.4zM115.1,103.3l3.2,7.2h-6.4zM129.1,150.7l3.2,7.2h-6.4zM112.8,119.5l3.2,7.2h-6.4zM138,116.9l3.2,7.2h-6.4zM128.1,103.6l3.2,7.2h-6.4zM97.5,116.2l3.2,7.2h-6.4zM100.7,108l3.2,7.2h-6.4zM109.6,113.8l3.2,7.2h-6.4zM122.3,146.1l3.2,7.2h-6.4zM108.8,167.9l3.2,7.2h-6.4zM91.3,144.6l3.2,7.2h-6.4zM122.2,110.4l3.2,7.2h-6.4zM101.2,183.5l3.2,7.2h-6.4zM90.8,154.1l3.2,7.2h-6.4zM76.7,138.8l3.2,7.2h-6.4zM88.2,168.7l3.2,7.2h-6.4zM124.3,97.6l3.2,7.2h-6.4zM91.2,142.4l3.2,7.2h-6.4zM90,176.9l3.2,7.2h-6.4zM97.8,135.7l3.2,7.2h-6.4zM123.5,98.6l3.2,7.2h-6.4zM86,176.3l3.2,7.2h-6.4zM119,121.3l3.2,7.2h-6.4zM115.6,165.1l3.2,7.2h-6.4zM91.8,108l3.2,7.2h-6.4zM112.6,152.5l3.2,7.2h-6.4zM86.4,152.9l3.2,7.2h-6.4zM95.4,124.3l3.2,7.2h-6.4zM138.4,136.9l3.2,7.2h-6.4zM111.9,107.7l3.2,7.2h-6.4zM122.7,153l3.2,7.2h-6.4zM140.4,151.4l3.2,7.2h-6.4zM125.2,121.1l3.2,7.2h-6.4zM101.1,147l3.2,7.2h-6.4zM79.4,167.9l3.2,7.2h-6.4zM108.9,161.3l3.2,7.2h-6.4zM74.7,142.3l3.2,7.2h-6.4zM126.5,158.9l3.2,7.2h-6.4zM91.2,138l3.2,7.2h-6.4zM89.3,135.9l3.2,7.2h-6.4zM140.6,118.8l3.2,7.2h-6.4zM100.6,160.4l3.2,7.2h-6.4zM83.4,117.9l3.2,7.2h-6.4zM84.1,135.6l3.2,7.2h-6.4zM79.8,152.6l3.2,7.2h-6.4zM116.7,130.7l3.2,7.2h-6.4zM106.4,113.3l3.2,7.2h-6.4zM75.3,161.6l3.2,7.2h-6.4zM135.8,158.4l3.2,7.2h-6.4zM88.5,170.3l3.2,7.2h-6.4zM117.6,115.5l3.2,7.2h-6.4zM113.6,166.4l3.2,7.2h-6.4zM86.8,163.6l3.2,7.2h-6.4zM91,122l3.2,7.2h-6.4zM98.8,146.8l3.2,7.2h-6.4zM104.9,142.6l3.2,7.2h-6.4zM120.2,163.6l3.2,7.2h-6.4zM132.6,166.7l3.2,7.2h-6.4zM110.4,114.6l3.2,7.2h-6.4zM115.5,101.3l3.2,7.2h-6.4zM125.3,133.6l3.2,7.2h-6.4zM81,153l3.2,7.2h-6.4zM91.1,105.4l3.2,7.2h-6.4zM115.8,109.7l3.2,7.2h-6.4zM117.1,106.8l3.2,7.2h-6.4zM91.8,121.3l3.2,7.2h-6.4zM113.5,166.3l3.2,7.2h-6.4zM127.6,117.7l3.2,7.2h-6.4zM121.3,163.1l3.2,7.2h-6.4zM140.7,116.1l3.2,7.2h-6.4zM123,121.6l3.2,7.2h-6.4zM132.8,126.3l3.2,7.2h-6.4zM127.4,101.8l3.2,7.2h-6.4zM112,111l3.2,7.2h-6.4zM138.9,141l3.2,7.2h-6.4zM82.8,145.3l3.2,7.2h-6.4zM100.9,165.5l3.2,7.2h-6.4zM131.4,106.6l3.2,7.2h-6.4zM102.6,143.1l3.2,7.2h-6.4zM123.5,117.8l3.2,7.2h-6.4zM109.3,165.1l3.2,7.2h-6.4zM101.5,139.5l3.2,7.2h-6.4zM143.1,156.1l3.2,7.2h-6.4zM107.7,157.9l3.2,7.2h-6.4zM141.3,108.8l3.2,7.2h-6.4zM119.8,125.3l3.2,7.2h-6.4zM129.6,170.8l3.2,7.2h-6.4zM80.3,134.4l3.2,7.2h-6.4zM95.3,170.5l3.2,7.2h-6.4zM86.1,147.7l3.2,7.2h-6.4zM86.5,113.2l3.2,7.2h-6.4zM105.5,129l3.2,7.2h-6.4zM82.7,121.4l3.2,7.2h-6.4zM118.7,124.3l3.2,7.2h-6.4zM127,167.2l3.2,7.2h-6.4zM81.9,174.9l3.2,7.2h-6.4zM92.3,121l3.2,7.2h-6.4zM137.2,127.4l3.2,7.2h-6.4zM129.1,129.4l3.2,7.2h-6.4zM116.5,97.4l3.2,7.2h-6.4zM93.7,131.7l3.2,7.2h-6.4zM100.1,132.9l3.2,7.2h-6.4zM129.9,120l3.2,7.2h-6.4zM92.7,159.7l3.2,7.2h-6.4zM136.1,109.3l3.2,7.2h-6.4zM98.9,175.6l3.2,7.2h-6.4zM139,109.8l3.2,7.2h-6.4zM129.1,161.7l3.2,7.2h-6.4zM114.5,140.4l3.2,7.2h-6.4zM89.8,129.3l3.2,7.2h-6.4zM81.4,128l3.2,7.2h-6.4zM132.9,118.3l3.2,7.2h-6.4zM79,167.9l3.2,7.2h-6.4zM108.2,135.2l3.2,7.2h-6.4zM81.8,153.1l3.2,7.2h-6.4zM112.4,143.1l3.2,7.2h-6.4zM139.2,160.6l3.2,7.2h-6.4zM100.8,131.5l3.2,7.2h-6.4zM125.5,108.4l3.2,7.2h-6.4zM76.6,153.4l3.2,7.2h-6.4zM127.1,137.8l3.2,7.2h-6.4zM100.4,117.9l3.2,7.2h-6.4zM133.3,117.5l3.2,7.2h-6.4zM88.9,125.5l3.2,7.2h-6.4zM128.2,114.4l3.2,7.2h-6.4zM111,160.9l3.2,7.2h-6.4zM115.5,173.1l3.2,7.2h-6.4zM141.4,149.6l3.2,7.2h-6.4zM138.3,131.3l3.2,7.2h-6.4zM143,150.4l3.2,7.2h-6.4zM120.7,173.9l3.2,7.2h-6.4zM118.6,121.4l3.2,7.2h-6.4zM105.1,145.9l3.2,7.2h-6.4zM99.2,165.6l3.2,7.2h-6.4zM91.5,121.1l3.2,7.2h-6.4zM87,154.6l3.2,7.2h-6.4zM88.9,152.9l3.2,7.2h-6.4zM129.4,165.1l3.2,7.2h-6.4zM106.8,104.7l3.2,7.2h-6.4zM133,161.8l3.2,7.2h-6.4zM108,158l3.2,7.2h-6.4zM98.9,170.4l3.2,7.2h-6.4zM88.7,112l3.2,7.2h-6.4zM119.7,125.7l3.2,7.2h-6.4zM90.2,104.6l3.2,7.2h-6.4zM97.4,145.1l3.2,7.2h-6.4zM109.5,138.8l3.2,7.2h-6.4zM108.9,115.5l3.2,7.2h-6.4zM84.7,112.7l3.2,7.2h-6.4zM103.9,130.6l3.2,7.2h-6.4zM100,163.1l3.2,7.2h-6.4zM127.9,130.6l3.2,7.2h-6.4zM106,125.2l3.2,7.2h-6.4zM84.8,131.7l3.2,7.2h-6.4zM132.5,153.3l3.2,7.2h-6.4zM103.8,114l3.2,7.2h-6.4zM140.4,173.6l3.2,7.2h-6.4zM97.9,142.7l3.2,7.2h-6.4zM121.3,142.4l3.2,7.2h-6.4zM102.6,155.2l3.2,7.2h-6.4zM93.3,132.2l3.2,7.2h-6.4zM94.4,128.5l3.2,7.2h-6.4zM85.9,163l3.2,7.2h-6.4zM133.6,110.6l3.2,7.2h-6.4zM102.5,105.4l3.2,7.2h-6.4zM129.8,154l3.2,7.2h-6.4zM126.4,157.2l3.2,7.2h-6.4zM86,113.9l3.2,7.2h-6.4zM102.9,120.8l3.2,7.2h-6.4zM126.2,113.3l3.2,7.2h-6.4zM85.3,130.3l3.2,7.2h-6.4zM78.4,147.6l3.2,7.2h-6.4zM76.5,138.8l3.2,7.2h-6.4zM116.6,140l3.2,7.2h-6.4zM118.5,128.9l3.2,7.2h-6.4zM141.7,150.5l3.2,7.2h-6.4zM87,133.4l3.2,7.2h-6.4zM112.1,96.9l3.2,7.2h-6.4zM104.6,161l3.2,7.2h-6.4zM127.9,135.8l3.2,7.2h-6.4zM119.5,126.9l3.2,7.2h-6.4zM124.9,127.1l3.2,7.2h-6.4zM93.4,155.4l3.2,7.2h-6.4zM137.5,143.6l3.2,7.2h-6.4zM142.8,169.4l3.2,7.2h-6.4zM130.3,151.7l3.2,7.2h-6.4zM117.4,137.6l3.2,7.2h-6.4zM80.5,171.4l3.2,7.2h-6.4zM94.5,107.4l3.2,7.2h-6.4zM106.7,166.5l3.2,7.2h-6.4zM128,159l3.2,7.2h-6.4zM110.5,166.1l3.2,7.2h-6.4zM122.4,123.2l3.2,7.2h-6.4zM82.8,168.7l3.2,7.2h-6.4zM124.3,101.6l3.2,7.2h-6.4zM114,167.8l3.2,7.2h-6.4zM121.1,132.7l3.2,7.2h-6.4zM134.3,99.6l3.2,7.2h-6.4zM76.5,141.2l3.2,7.2h-6.4zM127.2,166.8l3.2,7.2h-6.4zM84.1,175l3.2,7.2h-6.4zM87.8,144.7l3.2,7.2h-6.4zM109.1,172.2l3.2,7.2h-6.4zM141.5,117.7l3.2,7.2h-6.4zM131.1,157.3l3.2,7.2h-6.4zM137.3,139.2l3.2,7.2h-6.4zM124.5,168.3l3.2,7.2h-6.4zM124.6,149.9l3.2,7.2h-6.4zM86.4,109.6l3.2,7.2h-6.4zM110.5,122.2l3.2,7.2h-6.4zM115,169.9l3.2,7.2h-6.4zM84.4,152.6l3.2,7.2h-6.4zM102.5,149.2l3.2,7.2h-6.4zM83.2,123.8l3.2,7.2h-6.4zM124.7,131.4l3.2,7.2h-6.4zM120.9,148.8l3.2,7.2h-6.4zM123.6,131.2l3.2,7.2h-6.4zM96.2,189.9l3.2,7.2h-6.4zM74.7,149.8l3.2,7.2h-6.4zM111.6,107.8l3.2,7.2h-6.4zM126.8,96.6l3.2,7.2h-6.4zM97.2,151.3l3.2,7.2h-6.4zM135,97.7l3.2,7.2h-6.4zM87.3,176.7l3.2,7.2h-6.4zM139.2,146.2l3.2,7.2h-6.4zM125.6,102.9l3.2,7.2h-6.4zM129.2,122.5l3.2,7.2h-6.4zM120.1,159.5l3.2,7.2h-6.4zM127.7,149.6l3.2,7.2h-6.4zM140.6,121l3.2,7.2h-6.4zM85.7,110.8l3.2,7.2h-6.4zM133.3,111.8l3.2,7.2h-6.4zM116.5,150.5l3.2,7.2h-6.4zM114.2,97.9l3.2,7.2h-6.4zM105.3,119.2l3.2,7.2h-6.4zM91.9,175.9l3.2,7.2h-6.4zM80.9,142.5l3.2,7.2h-6.4zM98.8,170.2l3.2,7.2h-6.4zM118.7,113.9l3.2,7.2h-6.4zM80.1,128.4l3.2,7.2h-6.4zM122,137.3l3.2,7.2h-6.4zM92.1,111.3l3.2,7.2h-6.4zM105.7,112.4l3.2,7.2h-6.4zM85.6,156.7l3.2,7.2h-6.4zM111.5,128.8l3.2,7.2h-6.4zM128.9,165.6l3.2,7.2h-6.4zM86.4,161l3.2,7.2h-6.4zM122.9,105.2l3.2,7.2h-6.4zM103.5,115.5l3.2,7.2h-6.4zM98.8,122.1l3.2,7.2h-6.4zM90.5,135.1l3.2,7.2h-6.4zM105.9,111.4l3.2,7.2h-6.4zM111.2,143.5l3.2,7.2h-6.4zM123.6,144.2l3.2,7.2h-6.4zM109,110l3.2,7.2h-6.4zM83.4,162.6l3.2,7.2h-6.4zM82.4,127.5l3.2,7.2h-6.4zM117.1,166.2l3.2,7.2h-6.4zM125.5,131.8l3.2,7.2h-6.4zM106.4,96.7l3.2,7.2h-6.4zM121.1,111.4l3.2,7.2h-6.4zM127,107.5l3.2,7.2h-6.4zM123.7,96.7l3.2,7.2h-6.4zM138,153.2l3.2,7.2h-6.4zM115.9,115.4l3.2,7.2h-6.4zM109.7,129l3.2,7.2h-6.4zM111.8,153.1l3.2,7.2h-6.4zM94.5,144.9l3.2,7.2h-6.4zM105,160.5l3.2,7.2h-6.4zM113.4,123l3.2,7.2h-6.4zM126.1,171.8l3.2,7.2h-6.4zM101.8,124.4l3.2,7.2h-6.4zM128.1,116.9l3.2,7.2h-6.4zM100.5,126l3.2,7.2h-6.4zM129.8,167.2l3.2,7.2h-6.4zM124,157.7l3.2,7.2h-6.4zM94.2,102.3l3.2,7.2h-6.4zM133.5,118.5l3.2,7.2h-6.4zM110.1,132l3.2,7.2h-6.4zM106.5,137l3.2,7.2h-6.4zM85.7,123.5l3.2,7.2h-6.4zM137.1,128.4l3.2,7.2h-6.4zM139.9,137.6l3.2,7.2h-6.4zM131.2,132.6l3.2,7.2h-6.4zM140.8,138.8l3.2,7.2h-6.4zM118.1,121l3.2,7.2h-6.4zM102.9,133l3.2,7.2h-6.4zM101.5,169.9l3.2,7.2h-6.4zM124.3,156.7l3.2,7.2h-6.4zM75.5,161.5l3.2,7.2h-6.4zM95.7,115.7l3.2,7.2h-6.4zM141.3,118.9l3.2,7.2h-6.4zM116.5,127.5l3.2,7.2h-6.4zM98.1,158.6l3.2,7.2h-6.4zM111.7,108.2l3.2,7.2h-6.4zM97,136.6l3.2,7.2h-6.4zM140.8,107.6l3.2,7.2h-6.4zM91.8,179.1l3.2,7.2h-6.4zM117.5,132.8l3.2,7.2h-6.4zM132.9,174.6l3.2,7.2h-6.4zM131.4,142.6l3.2,7.2h-6.4zM78,133.1l3.2,7.2h-6.4zM114.6,133.8l3.2,7.2h-6.4zM81.7,121.5l3.2,7.2h-6.4zM80.7,141l3.2,7.2h-6.4zM80.7,132l3.2,7.2h-6.4zM111.6,124.3l3.2,7.2h-6.4zM86.5,145.7l3.2,7.2h-6.4zM101.5,179.5l3.2,7.2h-6.4zM138.9,130.9l3.2,7.2h-6.4zM119.5,150.8l3.2,7.2h-6.4zM101.3,107.4l3.2,7.2h-6.4zM113.4,128l3.2,7.2h-6.4zM136.5,129.1l3.2,7.2h-6.4zM103.7,112l3.2,7.2h-6.4zM123.2,139.5l3.2,7.2h-6.4zM91.2,172.6l3.2,7.2h-6.4zM135.6,132.6l3.2,7.2h-6.4zM145.1,162.2l3.2,7.2h-6.4zM110.8,142l3.2,7.2h-6.4zM86.8,158.7l3.2,7.2h-6.4zM93.1,158.6l3.2,7.2h-6.4zM119.4,113l3.2,7.2h-6.4zM97.2,149.5l3.2,7.2h-6.4zM109.8,155.9l3.2,7.2h-6.4zM96.8,161.9l3.2,7.2h-6.4zM90.4,139.1l3.2,7.2h-6.4zM115.9,169.1l3.2,7.2h-6.4zM134.8,159.4l3.2,7.2h-6.4zM119.3,99.6l3.2,7.2h-6.4zM93.8,178l3.2,7.2h-6.4zM135.3,146.6l3.2,7.2h-6.4zM139.9,138.9l3.2,7.2h-6.4zM124.9,147.8l3.2,7.2h-6.4zM75.9,128.9l3.2,7.2h-6.4zM79.3,156.6l3.2,7.2h-6.4zM85.8,124.6l3.2,7.2h-6.4zM106.6,173.2l3.2,7.2h-6.4zM128.2,118.4l3.2,7.2h-6.4zM142.5,149.7l3.2,7.2h-6.4zM137.8,110.2l3.2,7.2h-6.4zM108.3,172.3l3.2,7.2h-6.4zM92.3,163.5l3.2,7.2h-6.4zM90.6,117.4l3.2,7.2h-6.4zM101.2,145.6l3.2,7.2h-6.4zM138.8,130.8l3.2,7.2h-6.4zM99.7,167.1l3.2,7.2h-6.4zM104,147l3.2,7.2h-6.4zM142,141.9l3.2,7.2h-6.4zM132.2,115.5l3.2,7.2h-6.4zM100.1,174.8l3.2,7.2h-6.4zM94.4,157.7l3.2,7.2h-6.4zM101.9,152.2l3.2,7.2h-6.4zM133.1,120.9l3.2,7.2h-6.4zM114.9,154.4l3.2,7.2h-6.4zM83.3,171.4l3.2,7.2h-6.4zM134.3,138.5l3.2,7.2h-6.4zM81.5,136.2l3.2,7.2h-6.4zM85,117.7l3.2,7.2h-6.4zM102.7,110.8l3.2,7.2h-6.4zM116.7,114.7l3.2,7.2h-6.4zM113.8,138.8l3.2,7.2h-6.4zM135.9,98l3.2,7.2h-6.4zM130.8,151.4l3.2,7.2h-6.4zM90.1,171.8l3.2,7.2h-6.4zM127.8,118.4l3.2,7.2h-6.4zM122,132.3l3.2,7.2h-6.4zM78.8,158.5l3.2,7.2h-6.4zM85.4,149.5l3.2,7.2h-6.4zM80.4,143.6l3.2,7.2h-6.4zM96.2,140.9l3.2,7.2h-6.4zM132.3,166.1l3.2,7.2h-6.4zM98.4,106.8l3.2,7.2h-6.4zM130,136.1l3.2,7.2h-6.4zM103,126.6l3.2,7.2h-6.4zM106.6,138.6l3.2,7.2h-6.4zM135.5,142.3l3.2,7.2h-6.4zM122.9,150.4l3.2,7.2h-6.4zM116.5,120.1l3.2,7.2h-6.4zM138,104.1l3.2,7.2h-6.4zM75,156.9l3.2,7.2h-6.4zM136.4,141.8l3.2,7.2h-6.4zM96.2,165.2l3.2,7.2h-6.4zM89.1,158.4l3.2,7.2h-6.4zM122.7,98.5l3.2,7.2h-6.4zM98,154l3.2,7.2h-6.4zM83.5,161.1l3.2,7.2h-6.4zM132.5,125.9l3.2,7.2h-6.4zM133.8,107.6l3.2,7.2h-6.4zM75.9,166.3l3.2,7.2h-6.4zM87.3,134.5l3.2,7.2h-6.4zM104.7,108.2l3.2,7.2h-6.4zM106.2,118.4l3.2,7.2h-6.4zM97.8,158.8l3.2,7.2h-6.4zM103.1,169.3l3.2,7.2h-6.4zM107.2,180.7l3.2,7.2h-6.4zM106.6,170l3.2,7.2h-6.4zM85.3,146.5l3.2,7.2h-6.4zM91.6,150.5l3.2,7.2h-6.4zM76.5,139.3l3.2,7.2h-6.4zM96.4,153l3.2,7.2h-6.4zM82.1,125.5l3.2,7.2h-6.4zM75.4,132.6l3.2,7.2h-6.4zM109,97.9l3.2,7.2h-6.4zM90.5,104.3l3.2,7.2h-6.4zM88.4,146.4l3.2,7.2h-6.4zM134.8,136.6l3.2,7.2h-6.4zM91.8,177.4l3.2,7.2h-6.4zM128.9,105.8l3.2,7.2h-6.4zM104.2,154.1l3.2,7.2h-6.4zM125.3,153.1l3.2,7.2h-6.4zM94.6,144.3l3.2,7.2h-6.4zM106.3,123.6l3.2,7.2h-6.4zM96.1,122.9l3.2,7.2h-6.4zM90.9,107.5l3.2,7.2h-6.4zM111.3,165.8l3.2,7.2h-6.4zM87,121.4l3.2,7.2h-6.4zM88.4,141l3.2,7.2h-6.4zM81.1,160.2l3.2,7.2h-6.4zM109.2,159.1l3.2,7.2h-6.4zM105.4,132.5l3.2,7.2h-6.4zM128.8,159.1l3.2,7.2h-6.4zM116.1,146.1l3.2,7.2h-6.4zM108.5,177.4l3.2,7.2h-6.4zM93.8,172.4l3.2,7.2h-6.4zM97.1,132l3.2,7.2h-6.4zM123.5,112.8l3.2,7.2h-6.4zM116,116.9l3.2,7.2h-6.4zM127.1,118l3.2,7.2h-6.4zM98.4,178.3l3.2,7.2h-6.4zM93.8,134.5l3.2,7.2h-6.4zM106.2,133.1l3.2,7.2h-6.4zM137.8,132.6l3.2,7.2h-6.4zM81.4,164.9l3.2,7.2h-6.4zM111.3,120.2l3.2,7.2h-6.4zM83.2,178.2l3.2,7.2h-6.4zM114.7,174.8l3.2,7.2h-6.4zM113.9,122.1l3.2,7.2h-6.4zM88.2,164.8l3.2,7.2h-6.4zM131.7,157l3.2,7.2h-6.4zM115.9,127.9l3.2,7.2h-6.4zM101.5,106.3l3.2,7.2h-6.4zM131.6,139.4l3.2,7.2h-6.4zM130.2,127.1l3.2,7.2h-6.4zM119.9,174.5l3.2,7.2h-6.4zM110.5,128.7l3.2,7.2h-6.4zM132.7,157.4l3.2,7.2h-6.4zM79.6,140.1l3.2,7.2h-6.4zM109.6,136.2l3.2,7.2h-6.4zM117.4,119.3l3.2,7.2h-6.4zM110.4,134.5l3.2,7.2h-6.4zM111.4,127.6l3.2,7.2h-6.4zM98.8,97.6l3.2,7.2h-6.4zM78.1,137.2l3.2,7.2h-6.4zM135.9,152.9l3.2,7.2h-6.4zM74.9,133.4l3.2,7.2h-6.4zM119.9,102.7l3.2,7.2h-6.4zM101.8,143.9l3.2,7.2h-6.4zM118.3,107.6l3.2,7.2h-6.4zM130.1,100.8l3.2,7.2h-6.4zM123.2,123.1l3.2,7.2h-6.4zM92.3,152.1l3.2,7.2h-6.4zM95.9,169.9l3.2,7.2h-6.4zM98.6,148.8l3.2,7.2h-6.4zM76.2,140.8l3.2,7.2h-6.4zM120.1,142.5l3.2,7.2h-6.4zM138.9,102.2l3.2,7.2h-6.4zM76.3,158.9l3.2,7.2h-6.4zM91.6,133.2l3.2,7.2h-6.4zM126.2,147.4l3.2,7.2h-6.4zM98.1,153l3.2,7.2h-6.4zM92.3,146.2l3.2,7.2h-6.4zM99.6,173.9l3.2,7.2h-6.4zM78.8,128.2l3.2,7.2h-6.4zM83.9,125.7l3.2,7.2h-6.4zM117,108.2l3.2,7.2h-6.4zM111.5,110.2l3.2,7.2h-6.4zM134.7,117.3l3.2,7.2h-6.4zM134,118.5l3.2,7.2h-6.4zM97.2,162.4l3.2,7.2h-6.4zM136.8,151.1l3.2,7.2h-6.4zM92.6,148.8l3.2,7.2h-6.4zM91.9,163.7l3.2,7.2h-6.4zM96.7,105.9l3.2,7.2h-6.4zM131.1,141.4l3.2,7.2h-6.4zM99.8,181.3l3.2,7.2h-6.4zM79.4,169.1l3.2,7.2h-6.4zM123.4,104.5l3.2,7.2h-6.4zM104.3,139.8l3.2,7.2h-6.4zM99.2,119.8l3.2,7.2h-6.4zM126.9,172.1l3.2,7.2h-6.4zM125.8,108.7l3.2,7.2h-6.4zM95.7,123.6l3.2,7.2h-6.4zM89.8,127.8l3.2,7.2h-6.4zM137.9,158l3.2,7.2h-6.4zM107.3,151.1l3.2,7.2h-6.4zM93,121.4l3.2,7.2h-6.4zM111.1,170.6l3.2,7.2h-6.4zM109.6,133.3l3.2,7.2h-6.4zM140,132.7l3.2,7.2h-6.4zM122.8,126.1l3.2,7.2h-6.4zM95.3,139.4l3.2,7.2h-6.4zM142.2,158.2l3.2,7.2h-6.4zM134.6,132.5l3.2,7.2h-6.4zM89.8,169l3.2,7.2h-6.4zM104.4,115.4l3.2,7.2h-6.4zM128.1,105l3.2,7.2h-6.4zM90.4,132.6l3.2,7.2h-6.4zM143.9,157.5l3.2,7.2h-6.4zM112.4,152.7l3.2,7.2h-6.4zM100,136.7l3.2,7.2h-6.4zM143.5,153.4l3.2,7.2h-6.4zM105.5,120.5l3.2,7.2h-6.4zM110.5,139.5l3.2,7.2h-6.4zM115.7,116.4l3.2,7.2h-6.4zM85.8,129.8l3.2,7.2h-6.4zM139.8,119.2l3.2,7.2h-6.4zM106.7,148.3l3.2,7.2h-6.4zM123.4,162.9l3.2,7.2h-6.4zM96.3,102.9l3.2,7.2h-6.4zM122.4,118.1l3.2,7.2h-6.4zM110,99.7l3.2,7.2h-6.4zM120.3,123.3l3.2,7.2h-6.4zM91.2,114.3l3.2,7.2h-6.4zM134.4,140.1l3.2,7.2h-6.4zM122.4,134.3l3.2,7.2h-6.4zM123.7,147.8l3.2,7.2h-6.4zM81.4,128.7l3.2,7.2h-6.4zM136.4,97.6l3.2,7.2h-6.4zM96.3,118.8l3.2,7.2h-6.4zM96.1,166.2l3.2,7.2h-6.4zM130.3,151.7l3.2,7.2h-6.4zM138.9,99.3l3.2,7.2h-6.4zM102.7,170.7l3.2,7.2h-6.4zM129.9,143.6l3.2,7.2h-6.4zM131.1,117.4l3.2,7.2h-6.4zM106.8,167.1l3.2,7.2h-6.4zM89.2,148l3.2,7.2h-6.4zM127.9,115.5l3.2,7.2h-6.4zM99.4,105.7l3.2,7.2h-6.4zM128,152.1l3.2,7.2h-6.4zM128.1,107.7l3.2,7.2h-6.4zM92.6,146.1l3.2,7.2h-6.4zM115.5,121l3.2,7.2h-6.4zM98.4,127.4l3.2,7.2h-6.4zM105.8,183.1l3.2,7.2h-6.4zM135.8,126.2l3.2,7.2h-6.4zM140.6,122.7l3.2,7.2h-6.4zM82.6,131.8l3.2,7.2h-6.4zM87.3,120.5l3.2,7.2h-6.4zM107,125.8l3.2,7.2h-6.4zM131.3,166.3l3.2,7.2h-6.4zM109.2,128.2l3.2,7.2h-6.4zM139.5,155.1l3.2,7.2h-6.4zM76.5,164l3.2,7.2h-6.4zM113.6,176.9l3.2,7.2h-6.4zM110.9,160.6l3.2,7.2h-6.4zM120.4,137.4l3.2,7.2h-6.4zM87.9,165l3.2,7.2h-6.4zM94.3,107.8l3.2,7.2h-6.4zM113.1,113.2l3.2,7.2h-6.4zM81.1,156.5l3.2,7.2h-6.4zM83.4,117.4l3.2,7.2h-6.4zM99,134.8l3.2,7.2h-6.4zM88.8,149.1l3.2,7.2h-6.4zM129.5,154.4l3.2,7.2h-6.4zM132,166.2l3.2,7.2h-6.4zM124.7,136l3.2,7.2h-6.4zM102.4,173.9l3.2,7.2h-6.4zM134.1,125.5l3.2,7.2h-6.4zM75.9,143.6l3.2,7.2h-6.4zM137.6,161.8l3.2,7.2h-6.4zM126.1,166.6l3.2,7.2h-6.4zM106.5,153.8l3.2,7.2h-6.4zM89.5,110.5l3.2,7.2h-6.4zM123.2,152.7l3.2,7.2h-6.4zM104.6,187.7l3.2,7.2h-6.4zM105,101.9l3.2,7.2h-6.4zM136.2,167l3.2,7.2h-6.4zM125.5,144l3.2,7.2h-6.4zM84.7,145.8l3.2,7.2h-6.4zM93.7,119.5l3.2,7.2h-6.4zM121.9,151.4l3.2,7.2h-6.4zM111.8,145.9l3.2,7.2h-6.4zM98.3,126.6l3.2,7.2h-6.4zM104.9,99.7l3.2,7.2h-6.4zM128,169.6l3.2,7.2h-6.4zM128,116.3l3.2,7.2h-6.4zM118.1,171.2l3.2,7.2h-6.4zM89.6,106.7l3.2,7.2h-6.4zM129.2,158.9l3.2,7.2h-6.4zM112.2,150.7l3.2,7.2h-6.4zM122,159.7l3.2,7.2h-6.4zM110.5,169.4l3.2,7.2h-6.4zM83.5,137.5l3.2,7.2h-6.4zM106,150.5l3.2,7.2h-6.4zM102.9,137.6l3.2,7.2h-6.4zM75.3,166l3.2,7.2h-6.4zM107.2,153.5l3.2,7.2h-6.4zM95.2,141.3l3.2,7.2h-6.4zM135.9,119.7l3.2,7.2h-6.4zM125.7,173.3l3.2,7.2h-6.4zM102.7,118.9l3.2,7.2h-6.4zM82.5,153.7l3.2,7.2h-6.4zM126.9,140.7l3.2,7.2h-6.4zM78.5,167l3.2,7.2h-6.4zM133.9,160.6l3.2,7.2h-6.4zM119.6,106l3.2,7.2h-6.4zM105.1,120.5l3.2,7.2h-6.4zM128,108.1l3.2,7.2h-6.4zM99.4,151.7l3.2,7.2h-6.4zM106.5,174.9l3.2,7.2h-6.4zM127.3,128.3l3.2,7.2h-6.4zM118.8,107.1l3.2,7.2h-6.4zM120.1,158l3.2,7.2h-6.4zM115.5,112.9l3.2,7.2h-6.4zM112.1,121l3.2,7.2h-6.4zM94.4,171.9l3.2,7.2h-6.4zM93.4,138.7l3.2,7.2h-6.4zM86.2,115l3.2,7.2h-6.4zM89.8,128.5l3.2,7.2h-6.4zM130.2,135.4l3.2,7.2h-6.4zM124.5,133.2l3.2,7.2h-6.4zM125.7,140.9l3.2,7.2h-6.4zM89.3,113.5l3.2,7.2h-6.4zM124.4,148.8l3.2,7.2h-6.4zM126.6,138.2l3.2,7.2h-6.4zM93.2,116.8l3.2,7.2h-6.4zM114.7,127.9l3.2,7.2h-6.4zM95.5,123.4l3.2,7.2h-6.4zM139.5,159.5l3.2,7.2h-6.4zM93.1,147.4l3.2,7.2h-6.4zM117.3,137.9l3.2,7.2h-6.4zM99.3,100.8l3.2,7.2h-6.4zM92.9,178.2l3.2,7.2h-6.4zM122.3,130.8l3.2,7.2h-6.4zM96,106.1l3.2,7.2h-6.4zM121.6,162.2l3.2,7.2h-6.4zM94.2,104.8l3.2,7.2h-6.4zM77.2,155.5l3.2,7.2h-6.4zM87.8,138.5l3.2,7.2h-6.4zM92.3,112.3l3.2,7.2h-6.4zM122.6,145.7l3.2,7.2h-6.4zM138.7,107.1l3.2,7.2h-6.4zM91.9,146l3.2,7.2h-6.4zM108.7,100.4l3.2,7.2h-6.4zM84.6,154.5l3.2,7.2h-6.4zM83.5,124.8l3.2,7.2h-6.4zM125,106.9l3.2,7.2h-6.4zM132.8,135.8l3.2,7.2h-6.4zM122.8,127.2l3.2,7.2h-6.4zM86.2,135.2l3.2,7.2h-6.4zM102.5,149.6l3.2,7.2h-6.4zM103.9,173.6l3.2,7.2h-6.4zM142.1,170.2l3.2,7.2h-6.4zM132.3,151.6l3.2,7.2h-6.4zM92.9,105.8l3.2,7.2h-6.4zM97.8,135.7l3.2,7.2h-6.4zM81.5,164.5l3.2,7.2h-6.4zM97.5,110.4l3.2,7.2h-6.4zM125.3,132.3l3.2,7.2h-6.4zM134.1,129.2l3.2,7.2h-6.4zM100.1,163.3l3.2,7.2h-6.4zM137.7,169.7l3.2,7.2h-6.4zM100.8,122.8l3.2,7.2h-6.4zM133.3,125.8l3.2,7.2h-6.4zM115,148.5l3.2,7.2h-6.4zM115.2,105.1l3.2,7.2h-6.4zM123.8,158.2l3.2,7.2h-6.4zM91.5,171.6l3.2,7.2h-6.4zM113.3,170.7l3.2,7.2h-6.4zM129.3,134.8l3.2,7.2h-6.4zM124.4,125.8l3.2,7.2h-6.4zM110,173.4l3.2,7.2h-6.4zM139.2,162.5l3.2,7.2h-6.4zM140.4,165.3l3.2,7.2h-6.4zM136.9,110.8l3.2,7.2h-6.4zM126.8,175.9l3.2,7.2h-6.4zM147.6,159l3.2,7.2h-6.4zM116.2,127.5l3.2,7.2h-6.4zM107.1,103.9l3.2,7.2h-6.4zM136,150.3l3.2,7.2h-6.4zM96.8,154.6l3.2,7.2h-6.4zM127.8,176.1l3.2,7.2h-6.4zM83.2,129.7l3.2,7.2h-6.4zM90.4,117.8l3.2,7.2h-6.4zM94.3,101.9l3.2,7.2h-6.4zM96.2,161.4l3.2,7.2h-6.4zM118.2,125.3l3.2,7.2h-6.4zM125,165.3l3.2,7.2h-6.4zM108.3,124l3.2,7.2h-6.4zM108.5,155.9l3.2,7.2h-6.4zM110.1,113.4l3.2,7.2h-6.4zM100.1,130.1l3.2,7.2h-6.4zM82.3,177.8l3.2,7.2h-6.4zM141.2,128.2l3.2,7.2h-6.4zM117.6,176.1l3.2,7.2h-6.4zM115.5,131.2l3.2,7.2h-6.4zM138.9,121.2l3.2,7.2h-6.4zM75.4,136.6l3.2,7.2h-6.4zM92.8,131.8l3.2,7.2h-6.4zM91.5,164.8l3.2,7.2h-6.4zM79.3,163.6l3.2,7.2h-6.4zM94.3,146.4l3.2,7.2h-6.4zM128,161l3.2,7.2h-6.4zM104.3,150.3l3.2,7.2h-6.4zM88.7,179.3l3.2,7.2h-6.4zM113.7,151.9l3.2,7.2h-6.4zM87.7,136.1l3.2,7.2h-6.4zM80.8,165.2l3.2,7.2h-6.4zM139.2,113.2l3.2,7.2h-6.4zM129.8,154.2l3.2,7.2h-6.4zM75.4,138l3.2,7.2h-6.4zM125.4,106.8l3.2,7.2h-6.4zM98,126.9l3.2,7.2h-6.4zM86,135.2l3.2,7.2h-6.4zM98,173.2l3.2,7.2h-6.4zM81.5,156.9l3.2,7.2h-6.4zM141.9,106.5l3.2,7.2h-6.4zM123.6,132.1l3.2,7.2h-6.4zM119.3,169.6l3.2,7.2h-6.4zM109,162.6l3.2,7.2h-6.4zM105.3,114.4l3.2,7.2h-6.4zM98.3,117.9l3.2,7.2h-6.4zM128.6,120.3l3.2,7.2h-6.4zM89,129.7l3.2,7.2h-6.4zM78.8,125.9l3.2,7.2h-6.4zM129.1,157.2l3.2,7.2h-6.4zM123.6,96.5l3.2,7.2h-6.4zM76.7,138.1l3.2,7.2h-6.4zM112.9,157.4l3.2,7.2h-6.4zM137.4,136.3l3.2,7.2h-6.4zM100.5,156.2l3.2,7.2h-6.4zM93.5,171.7l3.2,7.2h-6.4zM92.5,127.3l3.2,7.2h-6.4zM111,99.9l3.2,7.2h-6.4zM119.1,174.5l3.2,7.2h-6.4zM131.7,134.1l3.2,7.2h-6.4zM105.2,138.7l3.2,7.2h-6.4zM128.4,164l3.2,7.2h-6.4zM120.7,126.6l3.2,7.2h-6.4zM75.5,129.3l3.2,7.2h-6.4zM132.4,172.8l3.2,7.2h-6.4zM112.2,119l3.2,7.2h-6.4zM82.9,127.8l3.2,7.2h-6.4zM80.1,168.8l3.2,7.2h-6.4zM98,129.4l3.2,7.2h-6.4zM78.5,138.4l3.2,7.2h-6.4zM125.9,146.6l3.2,7.2h-6.4zM98.9,136.3l3.2,7.2h-6.4zM116.4,135.8l3.2,7.2h-6.4zM97,108.3l3.2,7.2h-6.4zM127,167l3.2,7.2h-6.4zM119.8,118.3l3.2,7.2h-6.4zM103.2,122.4l3.2,7.2h-6.4zM138,157.4l3.2,7.2h-6.4zM86.7,121.9l3.2,7.2h-6.4zM78.4,125.6l3.2,7.2h-6.4zM116.7,157.9l3.2,7.2h-6.4zM132.1,131.8l3.2,7.2h-6.4zM90.4,159.9l3.2,7.2h-6.4zM75.5,144.1l3.2,7.2h-6.4zM93.2,133.3l3.2,7.2h-6.4zM92,127.7l3.2,7.2h-6.4zM100.6,127.7l3.2,7.2h-6.4zM136,167.6l3.2,7.2h-6.4zM140.6,140.5l3.2,7.2h-6.4zM83,144.8l3.2,7.2h-6.4zM82.7,127.2l3.2,7.2h-6.4zM123.8,157l3.2,7.2h-6.4zM102,103l3.2,7.2h-6.4zM141,103.7l3.2,7.2h-6.4zM86.7,129.8l3.2,7.2h-6.4zM135.6,133.2l3.2,7.2h-6.4zM93.2,151.8l3.2,7.2h-6.4zM91.3,133.2l3.2,7.2h-6.4zM133,114.2l3.2,7.2h-6.4zM94.6,158.2l3.2,7.2h-6.4zM89.5,148l3.2,7.2h-6.4zM91.9,110.6l3.2,7.2h-6.4zM117.8,147.5l3.2,7.2h-6.4zM81,151l3.2,7.2h-6.4zM79.9,171l3.2,7.2h-6.4zM117.6,147.5l3.2,7.2h-6.4zM105.3,148.5l3.2,7.2h-6.4zM113.9,165.6l3.2,7.2h-6.4zM130.2,117.3l3.2,7.2h-6.4zM106.5,118.7l3.2,7.2h-6.4zM90.4,164.9l3.2,7.2h-6.4zM105.6,164.6l3.2,7.2h-6.4zM133.2,121.9l3.2,7.2h-6.4zM107.1,130.9l3.2,7.2h-6.4zM108.8,147.8l3.2,7.2h-6.4zM81.8,143.1l3.2,7.2h-6.4zM86.7,139.2l3.2,7.2h-6.4zM111,147.6l3.2,7.2h-6.4zM94.8,130.3l3.2,7.2h-6.4zM128.9,144l3.2,7.2h-6.4zM89.3,132l3.2,7.2h-6.4zM121.5,153.8l3.2,7.2h-6.4zM98.7,99.9l3.2,7.2h-6.4zM113.5,152.6l3.2,7.2h-6.4zM129.1,132.5l3.2,7.2h-6.4zM94.4,182.7l3.2,7.2h-6.4zM94,143.4l3.2,7.2h-6.4zM82.6,116.7l3.2,7.2h-6.4zM79.6,136.4l3.2,7.2h-6.4zM126.7,172.9l3.2,7.2h-6.4zM139.9,130.9l3.2,7.2h-6.4zM93.1,110.9l3.2,7.2h-6.4zM138.7,151.8l3.2,7.2h-6.4zM85.2,142.7l3.2,7.2h-6.4zM82,121.8l3.2,7.2h-6.4zM127.5,145.5l3.2,7.2h-6.4zM118,101.3l3.2,7.2h-6.4zM86.2,119.6l3.2,7.2h-6.4zM111.9,152.6l3.2,7.2h-6.4zM108.8,110l3.2,7.2h-6.4zM113.8,126.2l3.2,7.2h-6.4zM102.8,139.8l3.2,7.2h-6.4zM84.3,145.2l3.2,7.2h-6.4zM139.8,139.9l3.2,7.2h-6.4zM107.8,146.3l3.2,7.2h-6.4zM87.8,123.4l3.2,7.2h-6.4zM74.9,155.4l3.2,7.2h-6.4zM129.5,137.3l3.2,7.2h-6.4zM90.5,181.1l3.2,7.2h-6.4zM79.6,133.9l3.2,7.2h-6.4zM100.3,165.6l3.2,7.2h-6.4zM112.2,148.5l3.2,7.2h-6.4zM116.9,139.4l3.2,7.2h-6.4zM135.5,163.1l3.2,7.2h-6.4zM93.5,157.8l3.2,7.2h-6.4zM118.3,107.8l3.2,7.2h-6.4zM83.6,155.3l3.2,7.2h-6.4zM137.5,97.4l3.2,7.2h-6.4zM93.6,180l3.2,7.2h-6.4zM115.6,155.1l3.2,7.2h-6.4zM118.9,155.6l3.2,7.2h-6.4zM112.3,107.4l3.2,7.2h-6.4zM122.3,104.1l3.2,7.2h-6.4zM91.7,151l3.2,7.2h-6.4zM101.3,138.3l3.2,7.2h-6.4zM147.1,158l3.2,7.2h-6.4zM117.1,127.4l3.2,7.2h-6.4zM126.8,98.4l3.2,7.2h-6.4zM97.2,154.2l3.2,7.2h-6.4zM108.6,157.2l3.2,7.2h-6.4zM92.9,145.6l3.2,7.2h-6.4zM90.5,170.2l3.2,7.2h-6.4zM100.3,120.9l3.2,7.2h-6.4zM92.4,103.3l3.2,7.2h-6.4zM124.3,128.9l3.2,7.2h-6.4zM124.5,111.9l3.2,7.2h-6.4zM132.2,162.1l3.2,7.2h-6.4zM121.4,151.7l3.2,7.2h-6.4zM108.7,146.3l3.2,7.2h-6.4zM100.2,115.5l3.2,7.2h-6.4zM111.7,142.3l3.2,7.2h-6.4zM130.4,104.8l3.2,7.2h-6.4zM125.9,154l3.2,7.2h-6.4zM111,99.9l3.2,7.2h-6.4zM135.8,154.5l3.2,7.2h-6.4zM114.3,112.3l3.2,7.2h-6.4zM121.8,174.3l3.2,7.2h-6.4zM108.3,174.6l3.2,7.2h-6.4zM81.8,152l3.2,7.2h-6.4zM98.6,110.8l3.2,7.2h-6.4zM77.4,159.8l3.2,7.2h-6.4zM141,170.5l3.2,7.2h-6.4zM138.3,148.8l3.2,7.2h-6.4zM110.4,104.2l3.2,7.2h-6.4zM110.4,127.9l3.2,7.2h-6.4zM126.5,140.8l3.2,7.2h-6.4zM105.1,165.4l3.2,7.2h-6.4zM85.7,143.1l3.2,7.2h-6.4zM131.1,125.9l3.2,7.2h-6.4zM77.6,164.3l3.2,7.2h-6.4zM109.7,160.5l3.2,7.2h-6.4zM87.5,163.5l3.2,7.2h-6.4zM111.8,164.9l3.2,7.2h-6.4zM102.4,149.7l3.2,7.2h-6.4zM100,100.2l3.2,7.2h-6.4zM141.2,159.5l3.2,7.2h-6.4zM137.3,123.7l3.2,7.2h-6.4zM122.2,154.8l3.2,7.2h-6.4zM92.8,136l3.2,7.2h-6.4zM124.7,143.7l3.2,7.2h-6.4zM139.1,103.1l3.2,7.2h-6.4zM124.8,148l3.2,7.2h-6.4zM93.1,117.9l3.2,7.2h-6.4zM112.1,106.5l3.2,7.2h-6.4zM79.5,144.8l3.2,7.2h-6.4zM130.4,131.5l3.2,7.2h-6.4zM121.8,133.9l3.2,7.2h-6.4zM119,147.2l3.2,7.2h-6.4zM140.2,127.9l3.2,7.2h-6.4zM131.6,158.9l3.2,7.2h-6.4zM140.5,131.5l3.2,7.2h-6.4zM121,102.3l3.2,7.2h-6.4zM128.7,111.6l3.2,7.2h-6.4zM127,149.2l3.2,7.2h-6.4zM133.7,157.1l3.2,7.2h-6.4zM87.2,129.1l3.2,7.2h-6.4zM137.6,171.8l3.2,7.2h-6.4zM78.6,128l3.2,7.2h-6.4zM120.7,138.9l3.2,7.2h-6.4zM112.9,142.6l3.2,7.2h-6.4zM84.8,145.3l3.2,7.2h-6.4zM106,102.1l3.2,7.2h-6.4zM84.2,181.7l3.2,7.2h-6.4zM122.1,110.5l3.2,7.2h-6.4zM105.2,169.3l3.2,7.2h-6.4zM105,135.2l3.2,7.2h-6.4zM94.8,188.4l3.2,7.2h-6.4zM83.8,149.3l3.2,7.2h-6.4zM127.4,100.2l3.2,7.2h-6.4zM106,127l3.2,7.2h-6.4zM94.8,161l3.2,7.2h-6.4zM126.4,124.5l3.2,7.2h-6.4zM115.2,165.7l3.2,7.2h-6.4zM105.8,104.7l3.2,7.2h-6.4zM84.9,114.1l3.2,7.2h-6.4zM123,129.3l3.2,7.2h-6.4zM91.3,120.1l3.2,7.2h-6.4zM84.7,162.2l3.2,7.2h-6.4zM105.7,155.1l3.2,7.2h-6.4zM106.6,105.2l3.2,7.2h-6.4zM121.3,104.9l3.2,7.2h-6.4zM138,132.4l3.2,7.2h-6.4zM112,120.8l3.2,7.2h-6.4zM83.5,162.7l3.2,7.2h-6.4zM136,98.8l3.2,7.2h-6.4zM119.6,156.2l3.2,7.2h-6.4zM105.4,110.5l3.2,7.2h-6.4zM94.3,108.2l3.2,7.2h-6.4zM116.7,123.1l3.2,7.2h-6.4zM89.5,158.9l3.2,7.2h-6.4zM98.1,104.1l3.2,7.2h-6.4zM112.7,175.3l3.2,7.2h-6.4zM87.7,125.9l3.2,7.2h-6.4zM91.2,157.6l3.2,7.2h-6.4zM80.1,164.7l3.2,7.2h-6.4zM82.3,142l3.2,7.2h-6.4zM102.9,150.2l3.2,7.2h-6.4zM111.4,100.6l3.2,7.2h-6.4zM116.9,129.9l3.2,7.2h-6.4zM102,154.6l3.2,7.2h-6.4zM128.4,112.1l3.2,7.2h-6.4zM86.1,159.5l3.2,7.2h-6.4zM147.3,160.1l3.2,7.2h-6.4zM110.2,179.2l3.2,7.2h-6.4zM135.8,142.3l3.2,7.2h-6.4zM104.1,103.7l3.2,7.2h-6.4zM90.2,164.1l3.2,7.2h-6.4zM125,156l3.2,7.2h-6.4zM124.5,134.7l3.2,7.2h-6.4zM135.1,170.1l3.2,7.2h-6.4zM134.8,161.9l3.2,7.2h-6.4zM133.4,140.3l3.2,7.2h-6.4zM132.9,159.6l3.2,7.2h-6.4zM138.7,99.5l3.2,7.2h-6.4zM108.4,105.8l3.2,7.2h-6.4zM90.7,109.3l3.2,7.2h-6.4zM124.1,136l3.2,7.2h-6.4zM111.6,148.5l3.2,7.2h-6.4zM104.5,163l3.2,7.2h-6.4zM130.3,148.8l3.2,7.2h-6.4zM109.5,179.2l3.2,7.2h-6.4zM98.8,146l3.2,7.2h-6.4zM107.2,125.6l3.2,7.2h-6.4zM103,136.9l3.2,7.2h-6.4zM109.7,164.5l3.2,7.2h-6.4zM123,144l3.2,7.2h-6.4zM89.2,111.2l3.2,7.2h-6.4zM112.3,100.5l3.2,7.2h-6.4zM111.8,113.2l3.2,7.2h-6.4zM140.9,139.3l3.2,7.2h-6.4zM118.2,107.3l3.2,7.2h-6.4zM121.9,105l3.2,7.2h-6.4zM96.9,168.3l3.2,7.2h-6.4zM141.3,155l3.2,7.2h-6.4zM78.6,136.6l3.2,7.2h-6.4zM129.1,170.2l3.2,7.2h-6.4zM119.8,132.6l3.2,7.2h-6.4zM113.3,160.8l3.2,7.2h-6.4zM136,111.9l3.2,7.2h-6.4zM101.1,188.3l3.2,7.2h-6.4zM76.6,169.9l3.2,7.2h-6.4zM129.7,97.1l3.2,7.2h-6.4zM100.5,104.5l3.2,7.2h-6.4zM99.6,167.7l3.2,7.2h-6.4zM115.8,147.2l3.2,7.2h-6.4zM97.8,117.6l3.2,7.2h-6.4zM119.4,127.7l3.2,7.2h-6.4zM116.4,176.2l3.2,7.2h-6.4zM136.7,145.4l3.2,7.2h-6.4zM91.6,163.6l3.2,7.2h-6.4zM127.4,152.8l3.2,7.2h-6.4zM96.3,169l3.2,7.2h-6.4zM120.8,149l3.2,7.2h-6.4zM98.3,142.4l3.2,7.2h-6.4zM129.4,103.4l3.2,7.2h-6.4zM93.2,153.3l3.2,7.2h-6.4zM89.3,118.7l3.2,7.2h-6.4zM93.9,149.9l3.2,7.2h-6.4zM143,157.3l3.2,7.2h-6.4zM112.4,144.2l3.2,7.2h-6.4zM139.3,103.2l3.2,7.2h-6.4zM116.4,167.3l3.2,7.2h-6.4zM103.6,144.5l3.2,7.2h-6.4zM90,121.6l3.2,7.2h-6.4zM136.6,163.7l3.2,7.2h-6.4zM111.7,151.7l3.2,7.2h-6.4zM74.5,139.2l3.2,7.2h-6.4zM89.2,141.5l3.2,7.2h-6.4zM92.9,175.9l3.2,7.2h-6.4zM114.3,162.1l3.2,7.2h-6.4zM81.8,175.9l3.2,7.2h-6.4zM144.9,161.9l3.2,7.2h-6.4zM126.6,127.1l3.2,7.2h-6.4zM117,163l3.2,7.2h-6.4zM83.4,127.8l3.2,7.2h-6.4zM115.7,109.4l3.2,7.2h-6.4zM109.2,97.8l3.2,7.2h-6.4zM107.3,109.3l3.2,7.2h-6.4zM97.3,148.7l3.2,7.2h-6.4zM119.7,133.8l3.2,7.2h-6.4zM105.2,126.9l3.2,7.2h-6.4zM139.3,162.9l3.2,7.2h-6.4zM111.5,178.4l3.2,7.2h-6.4zM123.8,102.4l3.2,7.2h-6.4zM93.9,155.1l3.2,7.2h-6.4zM107.7,148.3l3.2,7.2h-6.4zM139.9,123.6l3.2,7.2h-6.4zM87.6,107.3l3.2,7.2h-6.4zM96.5,102.8l3.2,7.2h-6.4zM111.2,97.9l3.2,7.2h-6.4zM109,162.2l3.2,7.2h-6.4zM83.1,128.3l3.2,7.2h-6.4zM122.2,125.3l3.2,7.2h-6.4zM141.7,169.2l3.2,7.2h-6.4zM81,158.8l3.2,7.2h-6.4zM123.3,161.3l3.2,7.2h-6.4zM109.3,116.9l3.2,7.2h-6.4zM120.7,163.1l3.2,7.2h-6.4zM131.7,146.1l3.2,7.2h-6.4zM110.4,169.3l3.2,7.2h-6.4zM94.6,146.2l3.2,7.2h-6.4zM138.4,165.8l3.2,7.2h-6.4zM111.6,152.7l3.2,7.2h-6.4zM108,145.6l3.2,7.2h-6.4zM139.2,146.2l3.2,7.2h-6.4zM124.3,107.9l3.2,7.2h-6.4zM97.2,130.6l3.2,7.2h-6.4zM128.3,132.2l3.2,7.2h-6.4zM97.7,110.3l3.2,7.2h-6.4zM104.7,130.2l3.2,7.2h-6.4zM141.8,170.4l3.2,7.2h-6.4zM101.3,97.1l3.2,7.2h-6.4zM99.2,113.5l3.2,7.2h-6.4zM83.8,159.4l3.2,7.2h-6.4zM92.3,162.6l3.2,7.2h-6.4zM95.7,121.9l3.2,7.2h-6.4zM122.3,149.3l3.2,7.2h-6.4zM95,137.3l3.2,7.2h-6.4zM84.7,153.5l3.2,7.2h-6.4zM134.1,168.7l3.2,7.2h-6.4zM114.8,104.2l3.2,7.2h-6.4zM95.1,190.1l3.2,7.2h-6.4zM84.4,133.2l3.2,7.2h-6.4zM133.1,128.9l3.2,7.2h-6.4zM81.3,166.2l3.2,7.2h-6.4zM130.5,115.6l3.2,7.2h-6.4zM85.5,166.4l3.2,7.2h-6.4zM108.5,121.2l3.2,7.2h-6.4zM127.2,162.4l3.2,7.2h-6.4zM77.2,158.2l3.2,7.2h-6.4zM140.4,131.3l3.2,7.2h-6.4zM122.1,146.2l3.2,7.2h-6.4zM110.3,99.6l3.2,7.2h-6.4zM104.6,128.7l3.2,7.2h-6.4zM90.4,126.5l3.2,7.2h-6.4zM139.5,140.4l3.2,7.2h-6.4zM83.3,146.2l3.2,7.2h-6.4zM131.8,133.8l3.2,7.2h-6.4zM145.1,155.2l3.2,7.2h-6.4zM99.6,107.3l3.2,7.2h-6.4zM129.9,151.4l3.2,7.2h-6.4zM117,154.1l3.2,7.2h-6.4zM80.7,164.5l3.2,7.2h-6.4zM123.3,121l3.2,7.2h-6.4zM130.8,158.2l3.2,7.2h-6.4zM80.6,171.2l3.2,7.2h-6.4zM120.3,147.9l3.2,7.2h-6.4zM105,160.9l3.2,7.2h-6.4zM79.7,145.6l3.2,7.2h-6.4zM89.5,110.4l3.2,7.2h-6.4zM105.6,159.9l3.2,7.2h-6.4zM105,98.6l3.2,7.2h-6.4zM133.8,107.4l3.2,7.2h-6.4zM112.9,147.1l3.2,7.2h-6.4zM82.2,161.7l3.2,7.2h-6.4zM80.8,142.6l3.2,7.2h-6.4zM131.5,107.2l3.2,7.2h-6.4zM118.7,121.2l3.2,7.2h-6.4zM113,132.9l3.2,7.2h-6.4zM80.7,137l3.2,7.2h-6.4zM103.5,145.2l3.2,7.2h-6.4zM134.1,167.5l3.2,7.2h-6.4zM126.7,115.7l3.2,7.2h-6.4zM87,130.4l3.2,7.2h-6.4zM144.2,155.7l3.2,7.2h-6.4zM137.3,99.8l3.2,7.2h-6.4zM122,171.3l3.2,7.2h-6.4zM80.2,146.9l3.2,7.2h-6.4zM124.9,113.7l3.2,7.2h-6.4zM123.8,138.9l3.2,7.2h-6.4zM108.6,108.4l3.2,7.2h-6.4zM94.7,113.2l3.2,7.2h-6.4zM126.6,139.7l3.2,7.2h-6.4zM115.7,126.5l3.2,7.2h-6.4zM77.2,157.8l3.2,7.2h-6.4zM105.1,148.7l3.2,7.2h-6.4zM112.9,150.8l3.2,7.2h-6.4zM132.4,143.2l3.2,7.2h-6.4zM142.2,156.6l3.2,7.2h-6.4zM114.6,109l3.2,7.2h-6.4zM84,138.4l3.2,7.2h-6.4zM118.9,118.4l3.2,7.2h-6.4zM75,165.4l3.2,7.2h-6.4zM110,137.1l3.2,7.2h-6.4zM100,146.9l3.2,7.2h-6.4zM110.4,144.6l3.2,7.2h-6.4zM82.7,118.1l3.2,7.2h-6.4zM110.4,140.2l3.2,7.2h-6.4zM110.7,106.5l3.2,7.2h-6.4zM112.4,112.6l3.2,7.2h-6.4zM84.3,122.1l3.2,7.2h-6.4zM98.9,186.1l3.2,7.2h-6.4zM91.6,126.3l3.2,7.2h-6.4zM81.6,161.4l3.2,7.2h-6.4zM77.7,143l3.2,7.2h-6.4zM83,119.9l3.2,7.2h-6.4zM116.6,109l3.2,7.2h-6.4zM129.8,142l3.2,7.2h-6.4zM92.8,114.9l3.2,7.2h-6.4zM118,146.4l3.2,7.2h-6.4zM113.2,126.8l3.2,7.2h-6.4zM110,109.9l3.2,7.2h-6.4zM133.4,129l3.2,7.2h-6.4zM118.9,168.4l3.2,7.2h-6.4zM90.5,104l3.2,7.2h-6.4zM107.4,108.4l3.2,7.2h-6.4zM93.6,121.7l3.2,7.2h-6.4zM106.3,139.9l3.2,7.2h-6.4zM96.1,165l3.2,7.2h-6.4zM74.6,162.5l3.2,7.2h-6.4zM127.2,127.4l3.2,7.2h-6.4zM136.4,109.9l3.2,7.2h-6.4zM106.1,122.9l3.2,7.2h-6.4zM113.1,147.3l3.2,7.2h-6.4zM78.4,157.3l3.2,7.2h-6.4zM125.4,134.7l3.2,7.2h-6.4zM75.4,149.9l3.2,7.2h-6.4zM90.8,147.1l3.2,7.2h-6.4zM139.5,103.1l3.2,7.2h-6.4zM111.6,148.4l3.2,7.2h-6.4zM82.6,175.8l3.2,7.2h-6.4zM129.9,134.1l3.2,7.2h-6.4zM131.9,102l3.2,7.2h-6.4zM116,165.7l3.2,7.2h-6.4zM118.9,167.4l3.2,7.2h-6.4zM101.3,147.2l3.2,7.2h-6.4zM136.1,122.5l3.2,7.2h-6.4zM103,159.3l3.2,7.2h-6.4zM128.1,136.2l3.2,7.2h-6.4zM102.5,151.6l3.2,7.2h-6.4zM108,99.2l3.2,7.2h-6.4zM99,159.1l3.2,7.2h-6.4zM109.9,122.5l3.2,7.2h-6.4zM124.9,146.4l3.2,7.2h-6.4zM120.1,104.5l3.2,7.2h-6.4zM100,178.4l3.2,7.2h-6.4zM122.1,96.9l3.2,7.2h-6.4zM107,140.3l3.2,7.2h-6.4zM101.6,118.6l3.2,7.2h-6.4zM120.4,101.7l3.2,7.2h-6.4zM95.7,152.2l3.2,7.2h-6.4zM83.6,118.1l3.2,7.2h-6.4zM106.9,123.8l3.2,7.2h-6.4zM139.5,103.3l3.2,7.2h-6.4zM82.3,126.3l3.2,7.2h-6.4zM106,131.5l3.2,7.2h-6.4zM105.1,158.5l3.2,7.2h-6.4zM139.5,109.9l3.2,7.2h-6.4zM140.7,163.7l3.2,7.2h-6.4zM79,156.1l3.2,7.2h-6.4zM128.5,173.1l3.2,7.2h-6.4zM119.9,131.7l3.2,7.2h-6.4zM101,117.7l3.2,7.2h-6.4zM105.6,139.1l3.2,7.2h-6.4zM113.3,133.8l3.2,7.2h-6.4zM113,130.7l3.2,7.2h-6.4zM123.8,143.5l3.2,7.2h-6.4zM135.5,169.9l3.2,7.2h-6.4zM109.2,143.2l3.2,7.2h-6.4zM128.4,128.7l3.2,7.2h-6.4zM101.8,161.4l3.2,7.2h-6.4zM131.5,133.2l3.2,7.2h-6.4zM106.1,154.8l3.2,7.2h-6.4zM127.5,165.8l3.2,7.2h-6.4zM105.2,107.8l3.2,7.2h-6.4zM138.9,166l3.2,7.2h-6.4zM111,146l3.2,7.2h-6.4zM110.2,140.6l3.2,7.2h-6.4zM141.2,113.5l3.2,7.2h-6.4zM102.2,154l3.2,7.2h-6.4zM128.7,125.4l3.2,7.2h-6.4zM101.4,171.9l3.2,7.2h-6.4zM140.3,147.1l3.2,7.2h-6.4zM100.8,136.9l3.2,7.2h-6.4zM99.3,136.2l3.2,7.2h-6.4zM132.5,150.4l3.2,7.2h-6.4zM102.3,144.6l3.2,7.2h-6.4zM107.1,158.2l3.2,7.2h-6.4zM116.6,114.2l3.2,7.2h-6.4zM98.1,121.7l3.2,7.2h-6.4zM101.8,99.5l3.2,7.2h-6.4zM114.8,152.4l3.2,7.2h-6.4zM119.6,135.7l3.2,7.2h-6.4zM140.3,154l3.2,7.2h-6.4zM120.1,136.2l3.2,7.2h-6.4zM135.4,109.1l3.2,7.2h-6.4zM97,120.7l3.2,7.2h-6.4zM81.9,122.2l3.2,7.2h-6.4zM95.4,132.4l3.2,7.2h-6.4zM100.2,161l3.2,7.2h-6.4zM77.2,152.3l3.2,7.2h-6.4zM123.5,102.7l3.2,7.2h-6.4zM125.1,111.9l3.2,7.2h-6.4zM129.7,157.9l3.2,7.2h-6.4zM111.8,159.7l3.2,7.2h-6.4zM103.4,177.1l3.2,7.2h-6.4zM99.5,138.2l3.2,7.2h-6.4zM89.5,130.6l3.2,7.2h-6.4zM87.9,142.5l3.2,7.2h-6.4zM116.8,171l3.2,7.2h-6.4zM110,114.5l3.2,7.2h-6.4zM124.2,117.7l3.2,7.2h-6.4zM96.4,128.1l3.2,7.2h-6.4zM138.7,172.8l3.2,7.2h-6.4zM107.8,115.8l3.2,7.2h-6.4zM103.2,115.3l3.2,7.2h-6.4zM96.3,143.4l3.2,7.2h-6.4zM125.1,146l3.2,7.2h-6.4zM127.4,168.2l3.2,7.2h-6.4zM92.6,154.1l3.2,7.2h-6.4zM143.3,165.9l3.2,7.2h-6.4zM100.7,103.9l3.2,7.2h-6.4zM131.2,107.7l3.2,7.2h-6.4zM124.7,141.7l3.2,7.2h-6.4zM138.6,127.4l3.2,7.2h-6.4zM117.4,139.9l3.2,7.2h-6.4zM126.2,175.4l3.2,7.2h-6.4zM111.4,148.8l3.2,7.2h-6.4zM75.2,174.8l3.2,7.2h-6.4zM128.8,167.8l3.2,7.2h-6.4zM141.6,101.8l3.2,7.2h-6.4zM86.1,157.8l3.2,7.2h-6.4zM86.9,148.5l3.2,7.2h-6.4zM108.4,97.6l3.2,7.2h-6.4zM92.8,105.2l3.2,7.2h-6.4zM85.2,135.1l3.2,7.2h-6.4zM108.3,112.2l3.2,7.2h-6.4zM138.8,127.6l3.2,7.2h-6.4zM122.1,169.4l3.2,7.2h-6.4zM139.9,110.6l3.2,7.2h-6.4zM136.8,138.5l3.2,7.2h-6.4zM136.8,133.1l3.2,7.2h-6.4zM96.9,130.4l3.2,7.2h-6.4zM125.1,138.3l3.2,7.2h-6.4zM101,124.5l3.2,7.2h-6.4zM94,101l3.2,7.2h-6.4zM101.8,163.1l3.2,7.2h-6.4zM122.5,98.6l3.2,7.2h-6.4zM130.4,115.1l3.2,7.2h-6.4zM79,148.9l3.2,7.2h-6.4zM136.7,136.5l3.2,7.2h-6.4zM128.3,137.7l3.2,7.2h-6.4zM105.6,155l3.2,7.2h-6.4zM140,127.7l3.2,7.2h-6.4zM123.2,162.7l3.2,7.2h-6.4zM134.8,108.5l3.2,7.2h-6.4zM123.3,105.5l3.2,7.2h-6.4zM121.5,125.9l3.2,7.2h-6.4zM94.6,143.3l3.2,7.2h-6.4zM140,166.2l3.2,7.2h-6.4zM129.5,149l3.2,7.2h-6.4zM90.3,159.2l3.2,7.2h-6.4zM121.6,129.9l3.2,7.2h-6.4zM129.3,139.5l3.2,7.2h-6.4zM119,104l3.2,7.2h-6.4zM122.8,115.4l3.2,7.2h-6.4zM124.8,112.3l3.2,7.2h-6.4zM133.3,142.1l3.2,7.2h-6.4zM143.4,163.6l3.2,7.2h-6.4zM101.6,164.3l3.2,7.2h-6.4zM86.3,140.4l3.2,7.2h-6.4zM109.1,106l3.2,7.2h-6.4zM89.8,186.7l3.2,7.2h-6.4zM120.7,158.5l3.2,7.2h-6.4zM120.4,149.4l3.2,7.2h-6.4zM87.7,142.4l3.2,7.2h-6.4zM119.7,119.9l3.2,7.2h-6.4zM139.1,101.5l3.2,7.2h-6.4zM112,137.9l3.2,7.2h-6.4zM95.6,140l3.2,7.2h-6.4zM88.6,127l3.2,7.2h-6.4zM97.5,146.7l3.2,7.2h-6.4zM116,100.6l3.2,7.2h-6.4zM123.8,109l3.2,7.2h-6.4zM115.1,153.9l3.2,7.2h-6.4zM98.8,132l3.2,7.2h-6.4zM131.9,163.4l3.2,7.2h-6.4zM86.9,130.1l3.2,7.2h-6.4zM125.1,140.9l3.2,7.2h-6.4zM136.2,105.7l3.2,7.2h-6.4zM104.8,111.1l3.2,7.2h-6.4zM125.9,150.8l3.2,7.2h-6.4zM125,174.3l3.2,7.2h-6.4zM140.8,126.7l3.2,7.2h-6.4zM139.4,171.9l3.2,7.2h-6.4zM107.9,153.1l3.2,7.2h-6.4zM104.8,183.1l3.2,7.2h-6.4zM112.5,110.4l3.2,7.2h-6.4zM95.5,101l3.2,7.2h-6.4zM119.9,134.6l3.2,7.2h-6.4zM114.4,162.3l3.2,7.2h-6.4zM98.4,98.4l3.2,7.2h-6.4zM136.9,109.5l3.2,7.2h-6.4zM101.9,161.3l3.2,7.2h-6.4zM94.6,128.1l3.2,7.2h-6.4zM136.6,106l3.2,7.2h-6.4zM123.6,153.6l3.2,7.2h-6.4zM102.2,135.6l3.2,7.2h-6.4zM134.2,135.5l3.2,7.2h-6.4zM74.9,137.8l3.2,7.2h-6.4zM93,135.3l3.2,7.2h-6.4zM126.4,123.9l3.2,7.2h-6.4zM111.3,119.3l3.2,7.2h-6.4zM129.3,145.1l3.2,7.2h-6.4zM99.8,151.4l3.2,7.2h-6.4zM102.7,150.4l3.2,7.2h-6.4zM87.5,180.8l3.2,7.2h-6.4zM141.1,105.6l3.2,7.2h-6.4zM114.3,135.9l3.2,7.2h-6.4zM139.4,127.2l3.2,7.2h-6.4zM129.8,134l3.2,7.2h-6.4zM125.1,151.2l3.2,7.2h-6.4zM85.9,129.5l3.2,7.2h-6.4zM141.1,141.4l3.2,7.2h-6.4zM82.1,158.1l3.2,7.2h-6.4zM125.3,125.1l3.2,7.2h-6.4zM93.9,166.2l3.2,7.2h-6.4zM141.5,136.3l3.2,7.2h-6.4zM133.8,121.1l3.2,7.2h-6.4zM110.2,139.3l3.2,7.2h-6.4zM90.8,168.6l3.2,7.2h-6.4zM113.5,101.6l3.2,7.2h-6.4zM85.1,152.4l3.2,7.2h-6.4zM102.3,141.3l3.2,7.2h-6.4zM86.7,160.8l3.2,7.2h-6.4zM81.9,117.9l3.2,7.2h-6.4zM101,143.7l3.2,7.2h-6.4zM81.5,151.8l3.2,7.2h-6.4zM93.1,130.7l3.2,7.2h-6.4zM139.6,171.4l3.2,7.2h-6.4zM79.1,130.9l3.2,7.2h-6.4zM106.1,134.1l3.2,7.2h-6.4zM77,158.9l3.2,7.2h-6.4zM82.3,136.7l3.2,7.2h-6.4zM93.4,147.6l3.2,7.2h-6.4zM114.9,134.1l3.2,7.2h-6.4zM98.8,141.4l3.2,7.2h-6.4zM138.2,131.8l3.2,7.2h-6.4zM87.1,148.7l3.2,7.2h-6.4zM141.6,131.8l3.2,7.2h-6.4zM115.9,129.3l3.2,7.2h-6.4zM142.9,163.3l3.2,7.2h-6.4zM115.9,156.1l3.2,7.2h-6.4zM135.6,158.2l3.2,7.2h-6.4zM96.5,170l3.2,7.2h-6.4zM131.2,161.9l3.2,7.2h-6.4zM125.5,133.5l3.2,7.2h-6.4zM141,161.2l3.2,7.2h-6.4zM111,100.8l3.2,7.2h-6.4zM135.5,153.8l3.2,7.2h-6.4zM133.5,98.5l3.2,7.2h-6.4zM92.5,155.1l3.2,7.2h-6.4zM104.4,107.5l3.2,7.2h-6.4zM135.8,141.6l3.2,7.2h-6.4zM77.5,127.5l3.2,7.2h-6.4zM116.4,117.9l3.2,7.2h-6.4zM80.9,125l3.2,7.2h-6.4zM95.4,117l3.2,7.2h-6.4zM133.7,123l3.2,7.2h-6.4zM134.2,173.2l3.2,7.2h-6.4zM118.7,137.5l3.2,7.2h-6.4zM113.5,130.4l3.2,7.2h-6.4zM108.9,114.5l3.2,7.2h-6.4zM135.7,159.5l3.2,7.2h-6.4zM104,170.3l3.2,7.2h-6.4zM111.4,162.3l3.2,7.2h-6.4zM98.5,98l3.2,7.2h-6.4zM86.3,154.4l3.2,7.2h-6.4zM127.5,107.2l3.2,7.2h-6.4zM87.7,165.9l3.2,7.2h-6.4zM125.8,163.8l3.2,7.2h-6.4zM108.6,165.4l3.2,7.2h-6.4zM140.3,128.5l3.2,7.2h-6.4zM117.7,119.6l3.2,7.2h-6.4zM124.8,109.4l3.2,7.2h-6.4zM117.1,104.3l3.2,7.2h-6.4zM134.5,159.6l3.2,7.2h-6.4zM111.6,124.5l3.2,7.2h-6.4zM126.1,160.6l3.2,7.2h-6.4zM111.9,140.3l3.2,7.2h-6.4zM101.9,109.9l3.2,7.2h-6.4zM85.5,143.9l3.2,7.2h-6.4zM102.7,172.3l3.2,7.2h-6.4zM95,176.5l3.2,7.2h-6.4zM127.6,122.8l3.2,7.2h-6.4zM108.8,120.2l3.2,7.2h-6.4zM106.6,167.8l3.2,7.2h-6.4zM124.5,121.6l3.2,7.2h-6.4zM78.8,134.4l3.2,7.2h-6.4zM97.4,114.3l3.2,7.2h-6.4zM140.3,158.7l3.2,7.2h-6.4zM105.9,118.5l3.2,7.2h-6.4zM105,139.2l3.2,7.2h-6.4zM96,139.7l3.2,7.2h-6.4zM96.7,148.5l3.2,7.2h-6.4zM98.8,157.1l3.2,7.2h-6.4zM135.5,150.1l3.2,7.2h-6.4zM116.4,163.7l3.2,7.2h-6.4zM84.9,131.5l3.2,7.2h-6.4zM75.1,170.6l3.2,7.2h-6.4zM109.5,164.4l3.2,7.2h-6.4zM83.3,165.6l3.2,7.2h-6.4zM138.3,145.4l3.2,7.2h-6.4zM137.6,135.8l3.2,7.2h-6.4zM106.1,170.6l3.2,7.2h-6.4zM129.4,146l3.2,7.2h-6.4zM110.6,152.5l3.2,7.2h-6.4zM116,150.3l3.2,7.2h-6.4zM91.9,171.2l3.2,7.2h-6.4zM126.8,123.6l3.2,7.2h-6.4zM131.4,99.5l3.2,7.2h-6.4zM112.7,120l3.2,7.2h-6.4zM115,167.9l3.2,7.2h-6.4zM120.9,135.3l3.2,7.2h-6.4zM127.8,131.9l3.2,7.2h-6.4zM84.8,155.2l3.2,7.2h-6.4zM91.5,160.7l3.2,7.2h-6.4zM142.2,160.9l3.2,7.2h-6.4zM128.2,155.7l3.2,7.2h-6.4zM141.3,138.3l3.2,7.2h-6.4zM88.1,120l3.2,7.2h-6.4zM84.7,119.3l3.2,7.2h-6.4zM75.4,155.5l3.2,7.2h-6.4zM126.5,121.4l3.2,7.2h-6.4zM138,131.8l3.2,7.2h-6.4zM114,110l3.2,7.2h-6.4zM83.6,159.2l3.2,7.2h-6.4zM101.3,165.1l3.2,7.2h-6.4zM119,136.7l3.2,7.2h-6.4zM131.4,114.2l3.2,7.2h-6.4zM130.3,138.6l3.2,7.2h-6.4zM89.2,109.9l3.2,7.2h-6.4zM101.4,150.7l3.2,7.2h-6.4zM93.7,112.1l3.2,7.2h-6.4zM106,111.1l3.2,7.2h-6.4zM85.4,118.5l3.2,7.2h-6.4zM115.4,171.4l3.2,7.2h-6.4zM105.2,138.6l3.2,7.2h-6.4zM105.3,176.8l3.2,7.2h-6.4zM113.5,149.5l3.2,7.2h-6.4zM93.2,157.5l3.2,7.2h-6.4zM105.1,109l3.2,7.2h-6.4zM95.9,106.5l3.2,7.2h-6.4zM115.4,122.6l3.2,7.2h-6.4zM100,152.9l3.2,7.2h-6.4zM108.4,152.4l3.2,7.2h-6.4zM118.8,148.7l3.2,7.2h-6.4zM82.8,136.4l3.2,7.2h-6.4zM114.4,153.6l3.2,7.2h-6.4zM139.5,155.1l3.2,7.2h-6.4zM107.4,75.7l3.2,7.2h-6.4zM93.7,84l3.2,7.2h-6.4zM112.5,81l3.2,7.2h-6.4zM98,84.9l3.2,7.2h-6.4zM73.8,115.2l3.2,7.2h-6.4zM84,100.4l3.2,7.2h-6.4zM92.6,99.9l3.2,7.2h-6.4zM77,120.4l3.2,7.2h-6.4zM108.1,82.7l3.2,7.2h-6.4zM142.3,91.7l3.2,7.2h-6.4zM130.8,85.8l3.2,7.2h-6.4zM116.9,81.7l3.2,7.2h-6.4zM115,90.8l3.2,7.2h-6.4zM96.1,88.7l3.2,7.2h-6.4zM82.1,110.7l3.2,7.2h-6.4zM140.5,85l3.2,7.2h-6.4zM140.5,94.3l3.2,7.2h-6.4zM91.9,100.2l3.2,7.2h-6.4zM145.4,90.2l3.2,7.2h-6.4zM116.9,90.3l3.2,7.2h-6.4zM124.2,92.2l3.2,7.2h-6.4zM102.6,85.8l3.2,7.2h-6.4zM116.1,83.1l3.2,7.2h-6.4zM98.9,91.7l3.2,7.2h-6.4zM115.8,92.9l3.2,7.2h-6.4zM113.3,90.8l3.2,7.2h-6.4zM86.7,108l3.2,7.2h-6.4zM120.8,94.2l3.2,7.2h-6.4zM103.8,85.4l3.2,7.2h-6.4zM118.3,92.9l3.2,7.2h-6.4zM108.1,90.3l3.2,7.2h-6.4zM123.6,96.4l3.2,7.2h-6.4zM99.4,83.5l3.2,7.2h-6.4zM107.6,94.3l3.2,7.2h-6.4zM85.8,103.9l3.2,7.2h-6.4zM124.2,93.4l3.2,7.2h-6.4zM108.9,86.9l3.2,7.2h-6.4zM105.3,79.5l3.2,7.2h-6.4zM126.3,79.6l3.2,7.2h-6.4zM105.4,96.4l3.2,7.2h-6.4zM118,93.6l3.2,7.2h-6.4zM123.7,88.6l3.2,7.2h-6.4zM132.4,88l3.2,7.2h-6.4zM125.3,82.9l3.2,7.2h-6.4zM102,91.1l3.2,7.2h-6.4zM131.2,84.2l3.2,7.2h-6.4zM94.3,96.4l3.2,7.2h-6.4zM114.4,90.6l3.2,7.2h-6.4zM176.5,96.7l3.2,7.2h-6.4zM161,96.7l3.2,7.2h-6.4zM180.8,96.6l3.2,7.2h-6.4zM179.8,96.9l3.2,7.2h-6.4zM141,97.1l3.2,7.2h-6.4zM161.8,96.7l3.2,7.2h-6.4zM176.2,96l3.2,7.2h-6.4zM168.6,96l3.2,7.2h-6.4zM176,96.2l3.2,7.2h-6.4zM158,96.2l3.2,7.2h-6.4zM179.9,96.5l3.2,7.2h-6.4zM154.1,96.6l3.2,7.2h-6.4zM148.4,96.7l3.2,7.2h-6.4zM169.5,96.7l3.2,7.2h-6.4zM170.1,96.9l3.2,7.2h-6.4zM174.1,96.4l3.2,7.2h-6.4zM168.8,96.5l3.2,7.2h-6.4zM153.4,96.2l3.2,7.2h-6.4zM179.3,96.7l3.2,7.2h-6.4zM187.7,96.6l3.2,7.2h-6.4zM164.5,96.3l3.2,7.2h-6.4zM174.6,96.5l3.2,7.2h-6.4zM186.6,96.6l3.2,7.2h-6.4zM158.4,96.2l3.2,7.2h-6.4zM141.3,96.9l3.2,7.2h-6.4zM160.6,96.3l3.2,7.2h-6.4zM141.7,96.4l3.2,7.2h-6.4zM184.4,96.2l3.2,7.2h-6.4zM176.5,96.7l3.2,7.2h-6.4zM172.3,96.5l3.2,7.2h-6.4zM151.6,96.6l3.2,7.2h-6.4zM168.5,96.9l3.2,7.2h-6.4zM165,96.3l3.2,7.2h-6.4zM184.8,96.5l3.2,7.2h-6.4zM156.2,96.5l3.2,7.2h-6.4zM146.7,96l3.2,7.2h-6.4zM183.7,96.4l3.2,7.2h-6.4zM179.5,96.1l3.2,7.2h-6.4zM162.8,96.1l3.2,7.2h-6.4zM179.5,96.5l3.2,7.2h-6.4zM158.9,96.3l3.2,7.2h-6.4zM149.7,96.1l3.2,7.2h-6.4zM173.9,96.2l3.2,7.2h-6.4zM144.3,96.3l3.2,7.2h-6.4zM161.9,96.9l3.2,7.2h-6.4zM158.5,96.3l3.2,7.2h-6.4zM188.1,96.6l3.2,7.2h-6.4zM162.2,96.3l3.2,7.2h-6.4zM150.4,96.1l3.2,7.2h-6.4zM162.9,96.5l3.2,7.2h-6.4zM144.3,96.4l3.2,7.2h-6.4zM147.7,96.5l3.2,7.2h-6.4zM156.4,96.6l3.2,7.2h-6.4zM178.5,96.3l3.2,7.2h-6.4zM158.3,96l3.2,7.2h-6.4zM149.7,96.5l3.2,7.2h-6.4zM179.7,96l3.2,7.2h-6.4zM188.3,96.8l3.2,7.2h-6.4zM157.5,96.4l3.2,7.2h-6.4zM173,96.2l3.2,7.2h-6.4zM157.5,96.6l3.2,7.2h-6.4zM163.5,96.3l3.2,7.2h-6.4zM167.4,96l3.2,7.2h-6.4zM162.8,96.2l3.2,7.2h-6.4zM147.4,96.4l3.2,7.2h-6.4zM174.5,96.4l3.2,7.2h-6.4zM164.2,96.6l3.2,7.2h-6.4zM160.3,96.9l3.2,7.2h-6.4zM149.8,95.9l3.2,7.2h-6.4zM167.7,96.6l3.2,7.2h-6.4zM158.3,96.3l3.2,7.2h-6.4zM156.3,96.1l3.2,7.2h-6.4zM179,96.8l3.2,7.2h-6.4zM153.1,96.5l3.2,7.2h-6.4zM162.2,96l3.2,7.2h-6.4zM176,96.4l3.2,7.2h-6.4zM189,96.8l3.2,7.2h-6.4zM184.6,96.2l3.2,7.2h-6.4zM144.5,96.8l3.2,7.2h-6.4zM144.5,96.7l3.2,7.2h-6.4zM147.9,96.6l3.2,7.2h-6.4zM141.7,95.8l3.2,7.2h-6.4zM182.8,96.4l3.2,7.2h-6.4zM161.8,96.9l3.2,7.2h-6.4zM178.6,96.1l3.2,7.2h-6.4zM174.7,96.3l3.2,7.2h-6.4zM162.4,96.2l3.2,7.2h-6.4zM150.5,96.2l3.2,7.2h-6.4zM152.8,96.1l3.2,7.2h-6.4zM183.1,96.3l3.2,7.2h-6.4zM167.3,96.7l3.2,7.2h-6.4zM173.3,96.1l3.2,7.2h-6.4zM187.1,96.8l3.2,7.2h-6.4zM181.4,96.2l3.2,7.2h-6.4zM180.9,96.5l3.2,7.2h-6.4zM140.6,96.3l3.2,7.2h-6.4zM174.3,96.4l3.2,7.2h-6.4zM186.9,96.7l3.2,7.2h-6.4zM181.2,96.9l3.2,7.2h-6.4zM156.3,96.8l3.2,7.2h-6.4zM139.1,97l3.2,7.2h-6.4zM143.4,96.4l3.2,7.2h-6.4zM161.3,96l3.2,7.2h-6.4zM171.1,96.7l3.2,7.2h-6.4zM150.3,96.1l3.2,7.2h-6.4zM177.9,96.4l3.2,7.2h-6.4zM139.9,96.1l3.2,7.2h-6.4zM186.7,96.2l3.2,7.2h-6.4zM153.6,96.4l3.2,7.2h-6.4zM183.8,96.7l3.2,7.2h-6.4zM158.4,96.6l3.2,7.2h-6.4zM140.4,95.7l3.2,7.2h-6.4zM157.8,96.5l3.2,7.2h-6.4zM146.1,95.8l3.2,7.2h-6.4zM182.1,96.1l3.2,7.2h-6.4zM141.8,95.8l3.2,7.2h-6.4zM143,96.1l3.2,7.2h-6.4zM168.2,96.6l3.2,7.2h-6.4zM153.4,96.4l3.2,7.2h-6.4zM155.8,96.5l3.2,7.2h-6.4zM144.4,107.6l3.2,7.2h-6.4zM139,110.4l3.2,7.2h-6.4zM149.4,107l3.2,7.2h-6.4zM148.3,106.2l3.2,7.2h-6.4zM152.1,107.5l3.2,7.2h-6.4zM177.6,107.4l3.2,7.2h-6.4zM187.2,105.9l3.2,7.2h-6.4zM166.2,106.1l3.2,7.2h-6.4zM153.3,106.6l3.2,7.2h-6.4zM187.2,104.5l3.2,7.2h-6.4zM176,105.7l3.2,7.2h-6.4zM168.6,105.7l3.2,7.2h-6.4zM174.6,106.3l3.2,7.2h-6.4zM154.3,106.3l3.2,7.2h-6.4zM139.2,103l3.2,7.2h-6.4zM183.9,104.7l3.2,7.2h-6.4zM158.7,107.4l3.2,7.2h-6.4zM140.8,110.3l3.2,7.2h-6.4zM149.2,109.8l3.2,7.2h-6.4zM160.5,107l3.2,7.2h-6.4zM168.9,105.1l3.2,7.2h-6.4zM164.1,107.5l3.2,7.2h-6.4zM178.1,107l3.2,7.2h-6.4zM172.7,105.1l3.2,7.2h-6.4zM159.3,106.6l3.2,7.2h-6.4zM141,108.9l3.2,7.2h-6.4zM144.1,107.1l3.2,7.2h-6.4zM152.2,104.5l3.2,7.2h-6.4zM186.2,106.4l3.2,7.2h-6.4zM175.3,106.7l3.2,7.2h-6.4zM166.9,107.8l3.2,7.2h-6.4zM142.1,105.6l3.2,7.2h-6.4zM149.8,107.3l3.2,7.2h-6.4zM158.5,108.7l3.2,7.2h-6.4zM150.5,105.1l3.2,7.2h-6.4zM184.4,106.8l3.2,7.2h-6.4zM160.2,106l3.2,7.2h-6.4zM175.3,105.1l3.2,7.2h-6.4zM174.7,105.4l3.2,7.2h-6.4zM178.9,104.8l3.2,7.2h-6.4zM184.3,107.3l3.2,7.2h-6.4zM140.2,103.6l3.2,7.2h-6.4zM184.3,107.2l3.2,7.2h-6.4zM153.4,108.4l3.2,7.2h-6.4zM167.7,105.7l3.2,7.2h-6.4zM173,106.1l3.2,7.2h-6.4zM146,109.3l3.2,7.2h-6.4zM174.5,105.5l3.2,7.2h-6.4zM160.1,107.4l3.2,7.2h-6.4zM157.4,105.3l3.2,7.2h-6.4zM165.1,108.2l3.2,7.2h-6.4zM143.7,104.6l3.2,7.2h-6.4zM162.9,108.6l3.2,7.2h-6.4zM188.1,104.4l3.2,7.2h-6.4zM170.8,105.2l3.2,7.2h-6.4zM149.2,104.1l3.2,7.2h-6.4zM163.7,108.5l3.2,7.2h-6.4zM186.8,105.6l3.2,7.2h-6.4zM183.5,106.7l3.2,7.2h-6.4zM142.7,109.9l3.2,7.2h-6.4zM152.5,109.6l3.2,7.2h-6.4zM145.5,109.7l3.2,7.2h-6.4zM164.4,106.7l3.2,7.2h-6.4zM148.1,106.5l3.2,7.2h-6.4zM176.6,106.5l3.2,7.2h-6.4zM187.5,106.2l3.2,7.2h-6.4zM183.8,104.8l3.2,7.2h-6.4zM175.5,106.7l3.2,7.2h-6.4zM182.7,105.6l3.2,7.2h-6.4zM161.9,107.9l3.2,7.2h-6.4zM151.7,105.8l3.2,7.2h-6.4zM180.9,106.7l3.2,7.2h-6.4zM163.2,104.7l3.2,7.2h-6.4zM176.8,106l3.2,7.2h-6.4zM150.8,105.9l3.2,7.2h-6.4zM145.8,109.2l3.2,7.2h-6.4zM178.5,107.8l3.2,7.2h-6.4zM172.4,105.2l3.2,7.2h-6.4zM159.9,108.9l3.2,7.2h-6.4zM139,105.2l3.2,7.2h-6.4zM146.4,104.1l3.2,7.2h-6.4zM152.6,107.3l3.2,7.2h-6.4zM142.3,109.7l3.2,7.2h-6.4zM160.3,105.1l3.2,7.2h-6.4zM144,106.8l3.2,7.2h-6.4zM156.3,106.6l3.2,7.2h-6.4zM144.3,105.5l3.2,7.2h-6.4zM164,105l3.2,7.2h-6.4zM163.8,107.9l3.2,7.2h-6.4zM168.2,105.3l3.2,7.2h-6.4zM170.3,105l3.2,7.2h-6.4zM146,102.9l3.2,7.2h-6.4zM165.3,105.4l3.2,7.2h-6.4zM152.8,104.3l3.2,7.2h-6.4zM183.3,104.9l3.2,7.2h-6.4zM172.4,107.4l3.2,7.2h-6.4zM161.2,107l3.2,7.2h-6.4zM155.5,108.4l3.2,7.2h-6.4zM172.9,104.9l3.2,7.2h-6.4zM173.8,105.1l3.2,7.2h-6.4zM162.8,105.3l3.2,7.2h-6.4zM163,107.2l3.2,7.2h-6.4zM175.3,105.7l3.2,7.2h-6.4zM141.7,106.2l3.2,7.2h-6.4zM184.3,106.3l3.2,7.2h-6.4zM169.7,107.4l3.2,7.2h-6.4zM170.6,108l3.2,7.2h-6.4zM186.3,106.8l3.2,7.2h-6.4zM179,105l3.2,7.2h-6.4zM152.1,107.9l3.2,7.2h-6.4zM167.7,107.8l3.2,7.2h-6.4zM177.3,105.7l3.2,7.2h-6.4zM147.5,107.7l3.2,7.2h-6.4zM144.5,106.6l3.2,7.2h-6.4zM152.6,106l3.2,7.2h-6.4zM171.4,106.9l3.2,7.2h-6.4zM169.6,105l3.2,7.2h-6.4zM183.3,106.8l3.2,7.2h-6.4zM183.9,106.5l3.2,7.2h-6.4zM171,107.8l3.2,7.2h-6.4zM175.9,106.8l3.2,7.2h-6.4zM141,102.5l3.2,7.2h-6.4zM174.5,107.5l3.2,7.2h-6.4zM158.1,105.1l3.2,7.2h-6.4zM160.8,108.1l3.2,7.2h-6.4zM176.4,105l3.2,7.2h-6.4zM149,104.6l3.2,7.2h-6.4zM175.9,105.5l3.2,7.2h-6.4zM183,105.8l3.2,7.2h-6.4zM148.6,106l3.2,7.2h-6.4zM145.9,109.5l3.2,7.2h-6.4zM140.1,105.9l3.2,7.2h-6.4zM157.7,104.2l3.2,7.2h-6.4zM150,109.9l3.2,7.2h-6.4zM181.5,105.9l3.2,7.2h-6.4zM182.2,107.5l3.2,7.2h-6.4zM181.4,106.9l3.2,7.2h-6.4zM167.1,106.6l3.2,7.2h-6.4zM174.5,106.7l3.2,7.2h-6.4zM187.2,104.9l3.2,7.2h-6.4zM183.5,107l3.2,7.2h-6.4zM160.9,108.2l3.2,7.2h-6.4zM153.2,105.9l3.2,7.2h-6.4zM167.6,108.1l3.2,7.2h-6.4zM151,108.9l3.2,7.2h-6.4zM171.5,107.8l3.2,7.2h-6.4zM153.8,107.6l3.2,7.2h-6.4zM183,107.4l3.2,7.2h-6.4zM173.6,107.5l3.2,7.2h-6.4zM170.4,106.6l3.2,7.2h-6.4zM148.5,106.7l3.2,7.2h-6.4zM187.4,107.5l3.2,7.2h-6.4zM141.1,104.9l3.2,7.2h-6.4zM150.9,108.8l3.2,7.2h-6.4zM148,108.5l3.2,7.2h-6.4zM148.7,105.5l3.2,7.2h-6.4zM187.1,104.7l3.2,7.2h-6.4zM167.8,105.8l3.2,7.2h-6.4zM176.4,104.8l3.2,7.2h-6.4zM172.5,105.6l3.2,7.2h-6.4zM186.4,105.4l3.2,7.2h-6.4zM172.1,104.8l3.2,7.2h-6.4zM185.5,106.5l3.2,7.2h-6.4zM184.3,106.9l3.2,7.2h-6.4zM142,108.6l3.2,7.2h-6.4zM157.9,105.1l3.2,7.2h-6.4zM183.1,106.7l3.2,7.2h-6.4zM156.3,104.3l3.2,7.2h-6.4zM171.1,104.9l3.2,7.2h-6.4zM150.8,103.6l3.2,7.2h-6.4zM147.5,108.4l3.2,7.2h-6.4zM152.2,109.6l3.2,7.2h-6.4zM152.8,108.4l3.2,7.2h-6.4zM175.4,106.8l3.2,7.2h-6.4zM168.9,105.3l3.2,7.2h-6.4zM180,107.6l3.2,7.2h-6.4zM165.3,105.5l3.2,7.2h-6.4zM143.3,104.6l3.2,7.2h-6.4zM187.1,105.4l3.2,7.2h-6.4zM152.9,106.8l3.2,7.2h-6.4zM140.7,109.1l3.2,7.2h-6.4zM177.6,105.6l3.2,7.2h-6.4zM140.5,110.1l3.2,7.2h-6.4zM179.1,107.1l3.2,7.2h-6.4zM149.4,109.7l3.2,7.2h-6.4zM170.7,104.9l3.2,7.2h-6.4zM187.6,106.7l3.2,7.2h-6.4zM148.1,109.4l3.2,7.2h-6.4zM168.6,107l3.2,7.2h-6.4zM140.4,104.1l3.2,7.2h-6.4zM181,117.2l3.2,7.2h-6.4zM149.3,116.3l3.2,7.2h-6.4zM169.9,118.1l3.2,7.2h-6.4zM180.6,118.4l3.2,7.2h-6.4zM180.5,119.7l3.2,7.2h-6.4zM190.5,117.2l3.2,7.2h-6.4zM158.3,121.2l3.2,7.2h-6.4zM156.6,122.2l3.2,7.2h-6.4zM156.8,120.4l3.2,7.2h-6.4zM152.6,121.2l3.2,7.2h-6.4zM154,119.1l3.2,7.2h-6.4zM177.3,119.7l3.2,7.2h-6.4zM146.4,116.8l3.2,7.2h-6.4zM150.2,121.6l3.2,7.2h-6.4zM174.7,119.5l3.2,7.2h-6.4zM181.8,117.8l3.2,7.2h-6.4zM165.3,117.4l3.2,7.2h-6.4zM157.7,120.2l3.2,7.2h-6.4zM152.8,121.6l3.2,7.2h-6.4zM150.3,119.2l3.2,7.2h-6.4zM175.3,118.1l3.2,7.2h-6.4zM174.2,118.6l3.2,7.2h-6.4zM141.6,115.8l3.2,7.2h-6.4zM173.6,119.8l3.2,7.2h-6.4zM175,119.9l3.2,7.2h-6.4zM174.3,119.7l3.2,7.2h-6.4zM183.4,118.7l3.2,7.2h-6.4zM167.2,118.1l3.2,7.2h-6.4zM151.5,116.6l3.2,7.2h-6.4zM144.9,118.6l3.2,7.2h-6.4zM154.5,120l3.2,7.2h-6.4zM182.9,117.8l3.2,7.2h-6.4zM186.4,119.2l3.2,7.2h-6.4zM149.2,120.3l3.2,7.2h-6.4zM149.5,116.2l3.2,7.2h-6.4zM150.7,117.4l3.2,7.2h-6.4zM139.4,114.8l3.2,7.2h-6.4zM181.8,119.5l3.2,7.2h-6.4zM184.8,117.2l3.2,7.2h-6.4zM140.2,123.2l3.2,7.2h-6.4zM158.9,118.8l3.2,7.2h-6.4zM176.1,118.9l3.2,7.2h-6.4zM156.5,117.5l3.2,7.2h-6.4zM145.1,121.5l3.2,7.2h-6.4zM187,117l3.2,7.2h-6.4zM150.8,119.8l3.2,7.2h-6.4zM153.1,119.5l3.2,7.2h-6.4zM165.6,118.4l3.2,7.2h-6.4zM145.2,118.9l3.2,7.2h-6.4zM182,117.5l3.2,7.2h-6.4zM167.5,120.3l3.2,7.2h-6.4zM169.2,118.7l3.2,7.2h-6.4zM188.2,119l3.2,7.2h-6.4zM191.8,117.4l3.2,7.2h-6.4zM164.6,119.2l3.2,7.2h-6.4zM183.5,118.8l3.2,7.2h-6.4zM168.2,119.2l3.2,7.2h-6.4zM186.2,117.9l3.2,7.2h-6.4zM146,116.8l3.2,7.2h-6.4zM151.9,116.7l3.2,7.2h-6.4zM190.8,118.2l3.2,7.2h-6.4zM181.3,118.4l3.2,7.2h-6.4zM166.6,118.3l3.2,7.2h-6.4zM186.2,118.1l3.2,7.2h-6.4zM160.5,120.8l3.2,7.2h-6.4zM185,119.7l3.2,7.2h-6.4zM164.5,119.1l3.2,7.2h-6.4zM182.8,118.3l3.2,7.2h-6.4zM149.7,119.4l3.2,7.2h-6.4zM155.2,118.1l3.2,7.2h-6.4zM179.9,118.2l3.2,7.2h-6.4zM172.1,118.4l3.2,7.2h-6.4zM145.1,122.1l3.2,7.2h-6.4zM180.1,119.2l3.2,7.2h-6.4zM171.3,118.1l3.2,7.2h-6.4zM165.6,120.6l3.2,7.2h-6.4zM180.6,118.8l3.2,7.2h-6.4zM172.4,118.1l3.2,7.2h-6.4zM141.9,122.9l3.2,7.2h-6.4zM140,117.1l3.2,7.2h-6.4zM160.2,120.6l3.2,7.2h-6.4zM175.9,119.8l3.2,7.2h-6.4zM188.3,117.5l3.2,7.2h-6.4zM152.2,116.9l3.2,7.2h-6.4zM156.5,117.2l3.2,7.2h-6.4zM189.9,118.3l3.2,7.2h-6.4zM165,117.6l3.2,7.2h-6.4zM187.3,117.5l3.2,7.2h-6.4zM179.8,117.8l3.2,7.2h-6.4zM153.3,117.1l3.2,7.2h-6.4zM167.4,118.5l3.2,7.2h-6.4zM169.3,119.8l3.2,7.2h-6.4zM151,116.9l3.2,7.2h-6.4zM166.3,118.9l3.2,7.2h-6.4zM162.7,118.9l3.2,7.2h-6.4zM147.7,116.5l3.2,7.2h-6.4zM177.5,119.1l3.2,7.2h-6.4zM175.5,119.2l3.2,7.2h-6.4zM166.2,118.2l3.2,7.2h-6.4zM187.4,118.3l3.2,7.2h-6.4zM163.3,118.4l3.2,7.2h-6.4zM159,122.2l3.2,7.2h-6.4zM160.5,121.1l3.2,7.2h-6.4zM145.6,120.5l3.2,7.2h-6.4zM153.4,117.8l3.2,7.2h-6.4zM155.1,118.9l3.2,7.2h-6.4zM173.1,118.7l3.2,7.2h-6.4zM184.6,117.4l3.2,7.2h-6.4zM184.3,118.2l3.2,7.2h-6.4zM181,118.3l3.2,7.2h-6.4zM152.6,122.3l3.2,7.2h-6.4zM172.7,119.6l3.2,7.2h-6.4zM166.7,120l3.2,7.2h-6.4zM189.7,118.8l3.2,7.2h-6.4zM190.4,117.7l3.2,7.2h-6.4zM154.8,122.1l3.2,7.2h-6.4zM183.2,119.5l3.2,7.2h-6.4zM162.1,119.1l3.2,7.2h-6.4zM189.2,117.3l3.2,7.2h-6.4zM147.8,116.9l3.2,7.2h-6.4zM155,119.1l3.2,7.2h-6.4zM159.3,119.4l3.2,7.2h-6.4zM140.9,118.1l3.2,7.2h-6.4zM165.9,117.6l3.2,7.2h-6.4zM164.5,121l3.2,7.2h-6.4zM173.6,120.2l3.2,7.2h-6.4zM184.6,118.4l3.2,7.2h-6.4zM140.1,115.2l3.2,7.2h-6.4zM169.5,120.1l3.2,7.2h-6.4zM156.6,117.4l3.2,7.2h-6.4zM179.2,118.7l3.2,7.2h-6.4zM163.8,117.8l3.2,7.2h-6.4zM168.4,119.4l3.2,7.2h-6.4zM176.7,119.9l3.2,7.2h-6.4zM143,122.7l3.2,7.2h-6.4zM156,119.1l3.2,7.2h-6.4zM157.2,121.4l3.2,7.2h-6.4zM162.4,117.5l3.2,7.2h-6.4zM164.1,117.9l3.2,7.2h-6.4zM139.8,115.1l3.2,7.2h-6.4zM159.2,119.3l3.2,7.2h-6.4zM139,115.9l3.2,7.2h-6.4zM186.8,118.4l3.2,7.2h-6.4zM190.9,118.2l3.2,7.2h-6.4zM189.6,118.7l3.2,7.2h-6.4zM159.5,117.2l3.2,7.2h-6.4zM146.8,122l3.2,7.2h-6.4zM174.1,118.3l3.2,7.2h-6.4zM147.7,120.7l3.2,7.2h-6.4zM188.3,117.5l3.2,7.2h-6.4zM191.8,118.1l3.2,7.2h-6.4zM150,117.2l3.2,7.2h-6.4zM176.7,120l3.2,7.2h-6.4zM149.8,117.6l3.2,7.2h-6.4zM146.6,117.1l3.2,7.2h-6.4zM151,119l3.2,7.2h-6.4zM151.6,120.8l3.2,7.2h-6.4zM151.7,117.9l3.2,7.2h-6.4zM161.2,117.9l3.2,7.2h-6.4zM141.7,115.7l3.2,7.2h-6.4zM139.3,121.4l3.2,7.2h-6.4zM141.6,119.4l3.2,7.2h-6.4zM186.1,118.6l3.2,7.2h-6.4zM155.2,119l3.2,7.2h-6.4zM161.6,118.7l3.2,7.2h-6.4zM141.8,116.3l3.2,7.2h-6.4zM146.6,117.1l3.2,7.2h-6.4zM156.5,117.2l3.2,7.2h-6.4zM171.6,118.2l3.2,7.2h-6.4zM166.1,120l3.2,7.2h-6.4zM165.4,120.3l3.2,7.2h-6.4zM180.3,118.4l3.2,7.2h-6.4zM150.3,116.2l3.2,7.2h-6.4zM175.7,118.4l3.2,7.2h-6.4zM154.4,116.9l3.2,7.2h-6.4zM148.5,122.7l3.2,7.2h-6.4zM164,120.9l3.2,7.2h-6.4zM183.8,117.7l3.2,7.2h-6.4zM151,122.4l3.2,7.2h-6.4zM151.5,120.3l3.2,7.2h-6.4zM188.6,118.1l3.2,7.2h-6.4zM161.5,121.7l3.2,7.2h-6.4zM184.7,119.6l3.2,7.2h-6.4zM176.5,118l3.2,7.2h-6.4zM141.5,115l3.2,7.2h-6.4zM187.9,118.3l3.2,7.2h-6.4zM185.8,119.6l3.2,7.2h-6.4zM151.6,123l3.2,7.2h-6.4zM153.5,117.4l3.2,7.2h-6.4zM153.4,123l3.2,7.2h-6.4zM193.5,127.5l3.2,7.2h-6.4zM167,129.6l3.2,7.2h-6.4zM185.6,128.4l3.2,7.2h-6.4zM160,128.7l3.2,7.2h-6.4zM168.7,129.5l3.2,7.2h-6.4zM174.6,129.1l3.2,7.2h-6.4zM150.4,129.4l3.2,7.2h-6.4zM192.2,127.8l3.2,7.2h-6.4zM185,128.4l3.2,7.2h-6.4zM164.7,129.7l3.2,7.2h-6.4zM179.1,128.5l3.2,7.2h-6.4zM169.2,129.3l3.2,7.2h-6.4zM190.1,128.3l3.2,7.2h-6.4zM160.3,129.9l3.2,7.2h-6.4zM170.9,129.3l3.2,7.2h-6.4zM152.9,129.3l3.2,7.2h-6.4zM153.9,130.7l3.2,7.2h-6.4zM180.2,128.1l3.2,7.2h-6.4zM145.3,127.2l3.2,7.2h-6.4zM173.3,129.1l3.2,7.2h-6.4zM158.9,128.1l3.2,7.2h-6.4zM173,129l3.2,7.2h-6.4zM164,129l3.2,7.2h-6.4zM159.1,128.6l3.2,7.2h-6.4zM186.1,128l3.2,7.2h-6.4zM180.4,128.5l3.2,7.2h-6.4zM152.3,128.4l3.2,7.2h-6.4zM177.9,128.9l3.2,7.2h-6.4zM192.2,127.5l3.2,7.2h-6.4zM154,127.7l3.2,7.2h-6.4zM150,128.8l3.2,7.2h-6.4zM180.7,128.8l3.2,7.2h-6.4zM173.3,128.6l3.2,7.2h-6.4zM160.8,128.5l3.2,7.2h-6.4zM155.2,129.7l3.2,7.2h-6.4zM168.1,128.9l3.2,7.2h-6.4zM155,131l3.2,7.2h-6.4zM175.6,128.8l3.2,7.2h-6.4zM157.7,128.7l3.2,7.2h-6.4zM183.2,127.9l3.2,7.2h-6.4zM176.9,129l3.2,7.2h-6.4zM175.8,128.3l3.2,7.2h-6.4zM141,131.5l3.2,7.2h-6.4zM149.7,129l3.2,7.2h-6.4zM176.8,128.8l3.2,7.2h-6.4zM155.7,130.1l3.2,7.2h-6.4zM192,127.7l3.2,7.2h-6.4zM162,129.8l3.2,7.2h-6.4zM189.6,128l3.2,7.2h-6.4zM192.8,127.9l3.2,7.2h-6.4zM194.5,127.4l3.2,7.2h-6.4zM178,128.3l3.2,7.2h-6.4zM145.8,128.4l3.2,7.2h-6.4zM193.9,127.5l3.2,7.2h-6.4zM156.9,130.9l3.2,7.2h-6.4zM195.9,127.7l3.2,7.2h-6.4zM159.4,130.3l3.2,7.2h-6.4zM142.8,126l3.2,7.2h-6.4zM142.7,128.3l3.2,7.2h-6.4zM153,131l3.2,7.2h-6.4zM164.9,129.9l3.2,7.2h-6.4zM167.3,129.1l3.2,7.2h-6.4zM158.7,128l3.2,7.2h-6.4zM165.4,130l3.2,7.2h-6.4zM195.4,127.9l3.2,7.2h-6.4zM144.7,129l3.2,7.2h-6.4zM187.4,127.7l3.2,7.2h-6.4zM142.8,127.4l3.2,7.2h-6.4zM143.9,131l3.2,7.2h-6.4zM180.3,128.8l3.2,7.2h-6.4zM141.9,130.8l3.2,7.2h-6.4zM185,127.9l3.2,7.2h-6.4zM143.6,132.6l3.2,7.2h-6.4zM184.8,127.8l3.2,7.2h-6.4zM149.9,130.2l3.2,7.2h-6.4zM148.9,129.1l3.2,7.2h-6.4zM147.7,127.1l3.2,7.2h-6.4zM167.1,129.3l3.2,7.2h-6.4zM188.1,127.6l3.2,7.2h-6.4zM159.6,128.2l3.2,7.2h-6.4zM171.1,128.7l3.2,7.2h-6.4zM158.2,130.9l3.2,7.2h-6.4zM176.7,128.8l3.2,7.2h-6.4zM174.1,128.6l3.2,7.2h-6.4zM178.7,128.9l3.2,7.2h-6.4zM144.2,131.6l3.2,7.2h-6.4zM159,128.5l3.2,7.2h-6.4zM177,128.9l3.2,7.2h-6.4zM148.7,127.8l3.2,7.2h-6.4zM168,128.9l3.2,7.2h-6.4zM168.4,129.5l3.2,7.2h-6.4zM140.5,128.9l3.2,7.2h-6.4zM150.7,127.8l3.2,7.2h-6.4zM173.1,129.2l3.2,7.2h-6.4zM166.2,129.3l3.2,7.2h-6.4zM179.6,128.8l3.2,7.2h-6.4zM195.1,127.4l3.2,7.2h-6.4zM149.3,131.6l3.2,7.2h-6.4zM174.1,129.1l3.2,7.2h-6.4zM147.5,131.1l3.2,7.2h-6.4zM145.9,127.1l3.2,7.2h-6.4zM146,128.6l3.2,7.2h-6.4zM163.1,129.7l3.2,7.2h-6.4zM193.4,127.6l3.2,7.2h-6.4zM172.6,128.8l3.2,7.2h-6.4zM161.2,128.8l3.2,7.2h-6.4zM139.3,127.5l3.2,7.2h-6.4zM180.9,128.6l3.2,7.2h-6.4zM178.8,128.5l3.2,7.2h-6.4zM162.8,128.8l3.2,7.2h-6.4zM153.1,131.6l3.2,7.2h-6.4zM173.1,128.8l3.2,7.2h-6.4zM170,129l3.2,7.2h-6.4zM156,129.1l3.2,7.2h-6.4zM164,130.1l3.2,7.2h-6.4zM190.7,127.7l3.2,7.2h-6.4zM165.4,128.9l3.2,7.2h-6.4zM194.3,127.3l3.2,7.2h-6.4zM166.9,128.7l3.2,7.2h-6.4zM165.7,129.2l3.2,7.2h-6.4zM139.8,126.8l3.2,7.2h-6.4zM168,129.1l3.2,7.2h-6.4zM156.6,127.8l3.2,7.2h-6.4zM157.8,128.9l3.2,7.2h-6.4zM145,130l3.2,7.2h-6.4zM151.8,129.5l3.2,7.2h-6.4zM180.2,128.1l3.2,7.2h-6.4zM167.9,129.3l3.2,7.2h-6.4zM190.9,128l3.2,7.2h-6.4zM187.6,128.1l3.2,7.2h-6.4zM152,130.9l3.2,7.2h-6.4zM182.8,128.3l3.2,7.2h-6.4zM192.7,127.4l3.2,7.2h-6.4zM191.7,127.7l3.2,7.2h-6.4zM170.5,129.3l3.2,7.2h-6.4zM148.7,129.4l3.2,7.2h-6.4zM139.9,125.9l3.2,7.2h-6.4zM194.5,127.4l3.2,7.2h-6.4zM163.8,128.7l3.2,7.2h-6.4zM193.1,127.7l3.2,7.2h-6.4zM188.6,127.8l3.2,7.2h-6.4zM165.9,129l3.2,7.2h-6.4zM173.2,129l3.2,7.2h-6.4zM172.3,129l3.2,7.2h-6.4zM157,131l3.2,7.2h-6.4zM140.1,126.9l3.2,7.2h-6.4zM177.7,129l3.2,7.2h-6.4zM188.2,127.8l3.2,7.2h-6.4zM193.7,127.6l3.2,7.2h-6.4zM172.1,129l3.2,7.2h-6.4zM174.2,142.6l3.2,7.2h-6.4zM190.2,142.1l3.2,7.2h-6.4zM189.9,142.1l3.2,7.2h-6.4zM178,142l3.2,7.2h-6.4zM175.4,142.1l3.2,7.2h-6.4zM195.7,142.3l3.2,7.2h-6.4zM161.1,142.8l3.2,7.2h-6.4zM145.6,142.8l3.2,7.2h-6.4zM176,141.9l3.2,7.2h-6.4zM165.2,142.1l3.2,7.2h-6.4zM196,141.9l3.2,7.2h-6.4zM175.2,142.3l3.2,7.2h-6.4zM146.1,143l3.2,7.2h-6.4zM171.7,142.4l3.2,7.2h-6.4zM154,142.1l3.2,7.2h-6.4zM157.6,142l3.2,7.2h-6.4zM150.5,142.4l3.2,7.2h-6.4zM161.3,142.6l3.2,7.2h-6.4zM147.1,142.1l3.2,7.2h-6.4zM168.8,142.5l3.2,7.2h-6.4zM156.9,142.1l3.2,7.2h-6.4zM146.1,142.3l3.2,7.2h-6.4zM160.6,142.6l3.2,7.2h-6.4zM152.7,142.3l3.2,7.2h-6.4zM181.5,142l3.2,7.2h-6.4zM141.2,143.2l3.2,7.2h-6.4zM191.1,142.1l3.2,7.2h-6.4zM155.2,142.4l3.2,7.2h-6.4zM151,142.7l3.2,7.2h-6.4zM189.5,142.4l3.2,7.2h-6.4zM161.8,142.7l3.2,7.2h-6.4zM192.4,142l3.2,7.2h-6.4zM177.1,142l3.2,7.2h-6.4zM195.2,142.4l3.2,7.2h-6.4zM162.4,142.6l3.2,7.2h-6.4zM155.7,142l3.2,7.2h-6.4zM168.3,142l3.2,7.2h-6.4zM165,142.6l3.2,7.2h-6.4zM171.9,142.1l3.2,7.2h-6.4zM151.1,142.5l3.2,7.2h-6.4zM168,142.7l3.2,7.2h-6.4zM148.8,142.4l3.2,7.2h-6.4zM164.5,142.3l3.2,7.2h-6.4zM149.6,142.3l3.2,7.2h-6.4zM169.9,142.1l3.2,7.2h-6.4zM157.3,142.4l3.2,7.2h-6.4zM192.6,142.2l3.2,7.2h-6.4zM158.7,142l3.2,7.2h-6.4zM168.5,142.2l3.2,7.2h-6.4zM145.6,142.4l3.2,7.2h-6.4zM174.1,142.2l3.2,7.2h-6.4zM180.9,142.4l3.2,7.2h-6.4zM142.6,141.9l3.2,7.2h-6.4zM169,142.4l3.2,7.2h-6.4zM170.7,142.1l3.2,7.2h-6.4zM158.6,142.6l3.2,7.2h-6.4zM161.6,142.4l3.2,7.2h-6.4zM152,142.6l3.2,7.2h-6.4zM166.3,142l3.2,7.2h-6.4zM182,142.5l3.2,7.2h-6.4zM195.3,142.6l3.2,7.2h-6.4zM179,142.3l3.2,7.2h-6.4zM154.1,142.6l3.2,7.2h-6.4zM162.9,142.2l3.2,7.2h-6.4zM145.7,142.6l3.2,7.2h-6.4zM179.5,142.5l3.2,7.2h-6.4zM147.7,142.1l3.2,7.2h-6.4zM175.3,142l3.2,7.2h-6.4zM189.5,142.6l3.2,7.2h-6.4zM175,142.1l3.2,7.2h-6.4zM171.1,142.5l3.2,7.2h-6.4zM158.7,142.5l3.2,7.2h-6.4zM173.3,142.6l3.2,7.2h-6.4zM183.2,142.4l3.2,7.2h-6.4zM170.1,142.6l3.2,7.2h-6.4zM173.4,142.5l3.2,7.2h-6.4zM156.7,142.1l3.2,7.2h-6.4zM170.8,142.1l3.2,7.2h-6.4zM194.3,142l3.2,7.2h-6.4zM190,142.1l3.2,7.2h-6.4zM149.9,142.5l3.2,7.2h-6.4zM157.4,142.8l3.2,7.2h-6.4zM174.2,142l3.2,7.2h-6.4zM156.7,142.1l3.2,7.2h-6.4zM167.1,142.4l3.2,7.2h-6.4zM157,142.6l3.2,7.2h-6.4zM164.4,142.6l3.2,7.2h-6.4zM177.7,142.1l3.2,7.2h-6.4zM186.3,141.9l3.2,7.2h-6.4zM152.4,141.9l3.2,7.2h-6.4zM193.2,142.2l3.2,7.2h-6.4zM187,142.6l3.2,7.2h-6.4zM144.2,143l3.2,7.2h-6.4zM140.2,142.8l3.2,7.2h-6.4zM184.2,142.2l3.2,7.2h-6.4zM189.7,142.4l3.2,7.2h-6.4zM167.4,142.2l3.2,7.2h-6.4zM148.1,142l3.2,7.2h-6.4zM169.9,142.4l3.2,7.2h-6.4zM149.7,142.5l3.2,7.2h-6.4zM143.5,142.2l3.2,7.2h-6.4zM177.1,142l3.2,7.2h-6.4zM168.8,142.1l3.2,7.2h-6.4zM189.3,142l3.2,7.2h-6.4zM192.1,142.6l3.2,7.2h-6.4zM194,142l3.2,7.2h-6.4zM177.9,142l3.2,7.2h-6.4zM194.4,142.4l3.2,7.2h-6.4zM141.1,142l3.2,7.2h-6.4zM145,142.3l3.2,7.2h-6.4zM192.4,142.5l3.2,7.2h-6.4zM157.6,142.7l3.2,7.2h-6.4zM139.6,142.6l3.2,7.2h-6.4zM161.2,142l3.2,7.2h-6.4zM191.4,142.4l3.2,7.2h-6.4zM195.8,142.3l3.2,7.2h-6.4zM174.4,142l3.2,7.2h-6.4zM166.1,142.7l3.2,7.2h-6.4zM170.8,142.4l3.2,7.2h-6.4zM165.2,142.2l3.2,7.2h-6.4zM139.7,142.1l3.2,7.2h-6.4zM149.6,142l3.2,7.2h-6.4zM142.1,142.8l3.2,7.2h-6.4zM195.7,142.4l3.2,7.2h-6.4zM186.3,142l3.2,7.2h-6.4zM187.4,142.1l3.2,7.2h-6.4zM187.7,142l3.2,7.2h-6.4zM156,142.4l3.2,7.2h-6.4zM151.7,142.2l3.2,7.2h-6.4zM180.4,142.5l3.2,7.2h-6.4zM195,142.3l3.2,7.2h-6.4zM159,142.4l3.2,7.2h-6.4zM172.4,142.4l3.2,7.2h-6.4zM191.3,142.3l3.2,7.2h-6.4zM193.8,142.2l3.2,7.2h-6.4zM164.4,142l3.2,7.2h-6.4zM157.5,142.4l3.2,7.2h-6.4zM139.7,142.4l3.2,7.2h-6.4zM145.6,142.2l3.2,7.2h-6.4zM189.4,142.6l3.2,7.2h-6.4zM145.5,142.6l3.2,7.2h-6.4zM166.7,142l3.2,7.2h-6.4zM156,142.4l3.2,7.2h-6.4zM163.2,142.4l3.2,7.2h-6.4zM142.8,142.6l3.2,7.2h-6.4zM173.9,142.1l3.2,7.2h-6.4zM171.3,142.7l3.2,7.2h-6.4zM189.8,142.3l3.2,7.2h-6.4zM168.7,142.5l3.2,7.2h-6.4zM164.9,142.5l3.2,7.2h-6.4zM147.1,152.2l3.2,7.2h-6.4zM175.2,152.4l3.2,7.2h-6.4zM165,151.3l3.2,7.2h-6.4zM145.3,152.8l3.2,7.2h-6.4zM152.8,151.6l3.2,7.2h-6.4zM147.5,150.7l3.2,7.2h-6.4zM166.8,154l3.2,7.2h-6.4zM133.2,152.7l3.2,7.2h-6.4zM159.4,152.7l3.2,7.2h-6.4zM169.7,151.3l3.2,7.2h-6.4zM118.8,151.1l3.2,7.2h-6.4zM158.7,152.6l3.2,7.2h-6.4zM190.3,152.8l3.2,7.2h-6.4zM168.9,151.1l3.2,7.2h-6.4zM180,149.8l3.2,7.2h-6.4zM187,151.8l3.2,7.2h-6.4zM153.4,153l3.2,7.2h-6.4zM160.3,154.7l3.2,7.2h-6.4zM127.4,149.5l3.2,7.2h-6.4zM164.4,150.4l3.2,7.2h-6.4zM135.7,154.7l3.2,7.2h-6.4zM159.3,150.7l3.2,7.2h-6.4zM146.4,150.4l3.2,7.2h-6.4zM137.7,149.9l3.2,7.2h-6.4zM194.2,153.2l3.2,7.2h-6.4zM146.1,149.7l3.2,7.2h-6.4zM194.1,154.1l3.2,7.2h-6.4zM125.4,154l3.2,7.2h-6.4zM161,154.6l3.2,7.2h-6.4zM152.4,151.5l3.2,7.2h-6.4zM118.7,152.3l3.2,7.2h-6.4zM136.6,154l3.2,7.2h-6.4zM135.5,154l3.2,7.2h-6.4zM144,153.6l3.2,7.2h-6.4zM173.7,154.3l3.2,7.2h-6.4zM162.9,151.1l3.2,7.2h-6.4zM138.5,150.4l3.2,7.2h-6.4zM126,150.8l3.2,7.2h-6.4zM142.7,153.7l3.2,7.2h-6.4zM118.5,151.9l3.2,7.2h-6.4zM157.6,150l3.2,7.2h-6.4zM172.1,150.3l3.2,7.2h-6.4zM176,150l3.2,7.2h-6.4zM186.5,150.8l3.2,7.2h-6.4zM125.4,149.9l3.2,7.2h-6.4zM133.9,149.8l3.2,7.2h-6.4zM142.5,154.5l3.2,7.2h-6.4zM147.2,151.3l3.2,7.2h-6.4zM176.7,149.5l3.2,7.2h-6.4zM124.8,154l3.2,7.2h-6.4zM143.5,150.1l3.2,7.2h-6.4zM132.3,153.3l3.2,7.2h-6.4zM194.2,151.3l3.2,7.2h-6.4zM173.5,151.7l3.2,7.2h-6.4zM133.9,150.9l3.2,7.2h-6.4zM144.5,150.5l3.2,7.2h-6.4zM179.9,149.6l3.2,7.2h-6.4zM148.1,153.2l3.2,7.2h-6.4zM120.6,154.5l3.2,7.2h-6.4zM166,152.8l3.2,7.2h-6.4zM133,150.2l3.2,7.2h-6.4zM183.8,154.6l3.2,7.2h-6.4zM119.2,153.7l3.2,7.2h-6.4zM133.6,149.5l3.2,7.2h-6.4zM164.5,149.6l3.2,7.2h-6.4zM183.6,153.8l3.2,7.2h-6.4zM140.3,149.9l3.2,7.2h-6.4zM158,153.3l3.2,7.2h-6.4zM121,153l3.2,7.2h-6.4zM127.6,151.2l3.2,7.2h-6.4zM130.9,149.6l3.2,7.2h-6.4zM159.7,150.8l3.2,7.2h-6.4zM189.1,154.2l3.2,7.2h-6.4zM174.6,152l3.2,7.2h-6.4zM168.4,151l3.2,7.2h-6.4zM154.6,152.2l3.2,7.2h-6.4zM150.8,151.6l3.2,7.2h-6.4zM184.5,154.6l3.2,7.2h-6.4zM175.4,153.9l3.2,7.2h-6.4zM141.8,149.5l3.2,7.2h-6.4zM135.4,151.9l3.2,7.2h-6.4zM177.6,153.2l3.2,7.2h-6.4zM189.4,153.5l3.2,7.2h-6.4zM141.3,149.4l3.2,7.2h-6.4zM155.6,150.9l3.2,7.2h-6.4zM185.8,154.2l3.2,7.2h-6.4zM160,153.4l3.2,7.2h-6.4zM174.7,152l3.2,7.2h-6.4zM152.5,154.4l3.2,7.2h-6.4zM180.2,152.3l3.2,7.2h-6.4zM195,149.9l3.2,7.2h-6.4zM178,152.2l3.2,7.2h-6.4zM143.1,149.8l3.2,7.2h-6.4zM163.3,154l3.2,7.2h-6.4zM131.7,154.1l3.2,7.2h-6.4zM195,150.2l3.2,7.2h-6.4zM161.1,151.8l3.2,7.2h-6.4zM144.2,149.8l3.2,7.2h-6.4zM138.9,154.4l3.2,7.2h-6.4zM183.5,154.4l3.2,7.2h-6.4zM156.9,151.9l3.2,7.2h-6.4zM122.8,151.5l3.2,7.2h-6.4zM163.4,154.7l3.2,7.2h-6.4zM123,152.8l3.2,7.2h-6.4zM121.7,154.5l3.2,7.2h-6.4zM133.8,153l3.2,7.2h-6.4zM167.5,150.3l3.2,7.2h-6.4zM154,151.5l3.2,7.2h-6.4zM131.9,151.3l3.2,7.2h-6.4zM122.9,153.1l3.2,7.2h-6.4zM193.8,152.1l3.2,7.2h-6.4zM149.2,152l3.2,7.2h-6.4zM129.2,153.2l3.2,7.2h-6.4zM171.9,149.7l3.2,7.2h-6.4zM147.5,149.8l3.2,7.2h-6.4zM172.7,149.2l3.2,7.2h-6.4zM185.9,149.5l3.2,7.2h-6.4zM183.2,150.2l3.2,7.2h-6.4zM159.3,153.1l3.2,7.2h-6.4zM191.2,154l3.2,7.2h-6.4zM129.9,153.1l3.2,7.2h-6.4zM151.5,150l3.2,7.2h-6.4zM154,154.4l3.2,7.2h-6.4zM119.5,153l3.2,7.2h-6.4zM160.3,154l3.2,7.2h-6.4zM155.1,150.5l3.2,7.2h-6.4zM184.4,149.7l3.2,7.2h-6.4zM171.7,150.7l3.2,7.2h-6.4zM122.2,150l3.2,7.2h-6.4zM184.3,150l3.2,7.2h-6.4zM189.6,149.9l3.2,7.2h-6.4zM190.4,149.4l3.2,7.2h-6.4zM169.4,152.1l3.2,7.2h-6.4zM164.5,154.3l3.2,7.2h-6.4zM135.7,154.7l3.2,7.2h-6.4zM162.4,153.6l3.2,7.2h-6.4zM137.5,154.7l3.2,7.2h-6.4zM174.2,151.7l3.2,7.2h-6.4zM135,154l3.2,7.2h-6.4zM161.7,154.6l3.2,7.2h-6.4zM186.9,153.3l3.2,7.2h-6.4zM174.3,150l3.2,7.2h-6.4zM182.7,153.1l3.2,7.2h-6.4zM125.6,149.5l3.2,7.2h-6.4zM125.9,150.3l3.2,7.2h-6.4zM177.6,153.4l3.2,7.2h-6.4zM172.2,151.2l3.2,7.2h-6.4zM191.2,149.9l3.2,7.2h-6.4zM135.8,151.6l3.2,7.2h-6.4zM138.3,153.2l3.2,7.2h-6.4zM183.1,153.3l3.2,7.2h-6.4zM143.2,152.3l3.2,7.2h-6.4zM142.6,152.2l3.2,7.2h-6.4zM159.4,150l3.2,7.2h-6.4zM183.9,153.6l3.2,7.2h-6.4zM178.7,149.6l3.2,7.2h-6.4zM136.2,153.3l3.2,7.2h-6.4zM181,152.6l3.2,7.2h-6.4zM190.8,151.5l3.2,7.2h-6.4zM135.7,151.8l3.2,7.2h-6.4zM141.5,151.2l3.2,7.2h-6.4zM179,150.9l3.2,7.2h-6.4zM173.6,152.4l3.2,7.2h-6.4zM119.7,152l3.2,7.2h-6.4zM185.6,152.7l3.2,7.2h-6.4zM184.4,152.7l3.2,7.2h-6.4zM195.6,149.3l3.2,7.2h-6.4zM151.2,150.2l3.2,7.2h-6.4zM177,150.7l3.2,7.2h-6.4zM169.9,152.8l3.2,7.2h-6.4zM119.3,152.5l3.2,7.2h-6.4zM143.7,150.5l3.2,7.2h-6.4zM168.4,152.6l3.2,7.2h-6.4zM134.7,153.1l3.2,7.2h-6.4zM123.9,149.4l3.2,7.2h-6.4zM187.2,154.3l3.2,7.2h-6.4zM191.9,154.7l3.2,7.2h-6.4zM175.8,152.3l3.2,7.2h-6.4zM159.3,152.1l3.2,7.2h-6.4zM191.6,154.5l3.2,7.2h-6.4zM152,150.2l3.2,7.2h-6.4zM159.9,151.5l3.2,7.2h-6.4zM181.1,154.3l3.2,7.2h-6.4zM166.4,149.6l3.2,7.2h-6.4zM159.7,149.8l3.2,7.2h-6.4zM159.9,153.7l3.2,7.2h-6.4zM170.5,151.7l3.2,7.2h-6.4zM130.3,154.3l3.2,7.2h-6.4zM186,151.8l3.2,7.2h-6.4zM122.1,152.9l3.2,7.2h-6.4zM149.3,151.3l3.2,7.2h-6.4zM147.5,150.6l3.2,7.2h-6.4zM129,152.7l3.2,7.2h-6.4zM158.4,151.5l3.2,7.2h-6.4zM176.5,151.9l3.2,7.2h-6.4zM130.6,150.6l3.2,7.2h-6.4zM161.6,152.8l3.2,7.2h-6.4zM167.4,153.3l3.2,7.2h-6.4zM145.9,153.4l3.2,7.2h-6.4zM163.5,150.5l3.2,7.2h-6.4zM127.8,152.6l3.2,7.2h-6.4zM184.1,154.4l3.2,7.2h-6.4zM181.7,153.7l3.2,7.2h-6.4zM164,150.5l3.2,7.2h-6.4zM141.1,153.9l3.2,7.2h-6.4zM139.3,151.8l3.2,7.2h-6.4zM160.8,149.2l3.2,7.2h-6.4zM126.7,150.2l3.2,7.2h-6.4zM180.1,153.5l3.2,7.2h-6.4zM124.8,150l3.2,7.2h-6.4zM195,150l3.2,7.2h-6.4zM180.4,152.4l3.2,7.2h-6.4zM186,153.2l3.2,7.2h-6.4zM125.6,153.4l3.2,7.2h-6.4zM173.8,149.3l3.2,7.2h-6.4zM191.5,150.7l3.2,7.2h-6.4zM154.2,152l3.2,7.2h-6.4zM161.3,152.3l3.2,7.2h-6.4zM123.1,153.9l3.2,7.2h-6.4zM158.8,149.7l3.2,7.2h-6.4zM157.2,150.2l3.2,7.2h-6.4zM151.7,153.1l3.2,7.2h-6.4zM176.8,150l3.2,7.2h-6.4zM140.4,154.5l3.2,7.2h-6.4zM167,150.1l3.2,7.2h-6.4zM165.6,150.5l3.2,7.2h-6.4zM123.8,152.8l3.2,7.2h-6.4zM126.7,149.9l3.2,7.2h-6.4zM170.9,154.5l3.2,7.2h-6.4zM123.4,153.3l3.2,7.2h-6.4zM129.1,149.4l3.2,7.2h-6.4zM119.3,149.2l3.2,7.2h-6.4zM175,154.2l3.2,7.2h-6.4zM119,149.9l3.2,7.2h-6.4zM121.7,151.4l3.2,7.2h-6.4zM143.1,150.2l3.2,7.2h-6.4zM181.6,149.7l3.2,7.2h-6.4zM167.3,149.9l3.2,7.2h-6.4zM169,149.8l3.2,7.2h-6.4zM133.4,154.6l3.2,7.2h-6.4zM138.8,151.6l3.2,7.2h-6.4zM169.5,154.7l3.2,7.2h-6.4zM160.8,149.8l3.2,7.2h-6.4zM170.2,152.9l3.2,7.2h-6.4zM163.6,151.3l3.2,7.2h-6.4zM182,149.5l3.2,7.2h-6.4zM160.6,152.1l3.2,7.2h-6.4zM189.6,153.5l3.2,7.2h-6.4zM136.7,151.2l3.2,7.2h-6.4zM164.5,151.2l3.2,7.2h-6.4zM122.9,154.7l3.2,7.2h-6.4zM153.4,149.9l3.2,7.2h-6.4zM129.9,149.2l3.2,7.2h-6.4zM189.1,149.9l3.2,7.2h-6.4zM162,154.4l3.2,7.2h-6.4zM177.9,152.4l3.2,7.2h-6.4zM140.2,152.9l3.2,7.2h-6.4zM180.9,150.3l3.2,7.2h-6.4zM135.8,151.4l3.2,7.2h-6.4zM164.7,154.1l3.2,7.2h-6.4zM164.1,150.6l3.2,7.2h-6.4zM174.6,149.9l3.2,7.2h-6.4zM126.4,149.2l3.2,7.2h-6.4zM163,152.3l3.2,7.2h-6.4zM154.2,152.2l3.2,7.2h-6.4zM132.7,150.3l3.2,7.2h-6.4zM163.6,151.4l3.2,7.2h-6.4zM156.9,154.2l3.2,7.2h-6.4zM154.5,153.3l3.2,7.2h-6.4zM122.7,151.8l3.2,7.2h-6.4zM122.2,150.2l3.2,7.2h-6.4zM132.7,151.3l3.2,7.2h-6.4zM130.4,154.3l3.2,7.2h-6.4zM141.4,150.8l3.2,7.2h-6.4zM123.5,151.2l3.2,7.2h-6.4zM179.2,152.2l3.2,7.2h-6.4zM187.7,152.6l3.2,7.2h-6.4zM168.2,151.5l3.2,7.2h-6.4zM183.2,151.6l3.2,7.2h-6.4zM128.9,150.4l3.2,7.2h-6.4zM180.2,149.4l3.2,7.2h-6.4zM132.1,152.6l3.2,7.2h-6.4zM171.2,151.7l3.2,7.2h-6.4zM168.9,151.5l3.2,7.2h-6.4zM164,149.3l3.2,7.2h-6.4zM150.1,154.6l3.2,7.2h-6.4zM162.9,151l3.2,7.2h-6.4zM166.6,154.6l3.2,7.2h-6.4zM154.3,151.4l3.2,7.2h-6.4zM182.1,153.9l3.2,7.2h-6.4zM145.6,121.8l3.2,7.2h-6.4zM147.7,115.5l3.2,7.2h-6.4zM162.3,115.7l3.2,7.2h-6.4zM163.9,126.2l3.2,7.2h-6.4zM153.1,117.7l3.2,7.2h-6.4zM147.9,111.1l3.2,7.2h-6.4zM165.6,124.4l3.2,7.2h-6.4zM154.3,123l3.2,7.2h-6.4zM163.2,121.8l3.2,7.2h-6.4zM142.1,121.4l3.2,7.2h-6.4zM164.3,117.9l3.2,7.2h-6.4zM151.4,121.3l3.2,7.2h-6.4zM144.5,112.9l3.2,7.2h-6.4zM142.3,121.7l3.2,7.2h-6.4zM143.7,114.5l3.2,7.2h-6.4zM159.1,111.1l3.2,7.2h-6.4zM149.8,120.8l3.2,7.2h-6.4zM155.2,120.5l3.2,7.2h-6.4zM155,120.3l3.2,7.2h-6.4zM150.1,113.2l3.2,7.2h-6.4zM158.3,125.9l3.2,7.2h-6.4zM158.8,121.6l3.2,7.2h-6.4zM155.7,124.9l3.2,7.2h-6.4zM153.8,124.7l3.2,7.2h-6.4zM144.9,116.3l3.2,7.2h-6.4zM154.8,120.3l3.2,7.2h-6.4zM163.6,117.5l3.2,7.2h-6.4zM165.1,122.5l3.2,7.2h-6.4zM150.6,120.7l3.2,7.2h-6.4zM147.7,109.4l3.2,7.2h-6.4zM147.7,125.3l3.2,7.2h-6.4zM143.8,115.5l3.2,7.2h-6.4zM152.1,111.2l3.2,7.2h-6.4zM162.4,111.5l3.2,7.2h-6.4zM154.6,113.8l3.2,7.2h-6.4zM157.8,110.7l3.2,7.2h-6.4zM153.3,125.4l3.2,7.2h-6.4zM139.5,112.3l3.2,7.2h-6.4zM141.1,125.1l3.2,7.2h-6.4zM158.5,113.2l3.2,7.2h-6.4zM153.2,123l3.2,7.2h-6.4zM140.4,112.1l3.2,7.2h-6.4zM166.4,126.4l3.2,7.2h-6.4zM147.7,109.4l3.2,7.2h-6.4zM157.4,112.4l3.2,7.2h-6.4zM164.9,126.8l3.2,7.2h-6.4zM161.7,123.9l3.2,7.2h-6.4zM161.6,125l3.2,7.2h-6.4zM150,122.8l3.2,7.2h-6.4zM139.4,122.3l3.2,7.2h-6.4zM161.8,117.5l3.2,7.2h-6.4zM159.5,120.1l3.2,7.2h-6.4zM145.5,113.5l3.2,7.2h-6.4zM159.4,126.7l3.2,7.2h-6.4zM157.2,123.6l3.2,7.2h-6.4zM157.4,111.3l3.2,7.2h-6.4zM146.4,120l3.2,7.2h-6.4zM160.9,116.8l3.2,7.2h-6.4zM159.2,115.1l3.2,7.2h-6.4zM148.1,111.8l3.2,7.2h-6.4zM151,120l3.2,7.2h-6.4zM142.2,127l3.2,7.2h-6.4zM139.2,123l3.2,7.2h-6.4zM149.1,127.2l3.2,7.2h-6.4zM159,116l3.2,7.2h-6.4zM162.7,121.7l3.2,7.2h-6.4zM151.8,121.6l3.2,7.2h-6.4zM158.8,115l3.2,7.2h-6.4zM144.7,121.5l3.2,7.2h-6.4zM143.7,117l3.2,7.2h-6.4z" fill="#ffc0cb"/>
<path d="M291.5,176.2h0M276.6,170.1h0M309.6,181.8h0M312,183.3h0M263.4,168.9h0M266.3,169.7h0M277.4,174.7h0M287.5,174.6h0M308.7,182h0M310.5,183.5h0M270.2,171.7h0M267.4,167.5h0M269.3,167.6h0M290.2,177.7h0M296.7,178.3h0M260.3,170.2h0M262.6,169.8h0M260.7,168.6h0M266.1,173.5h0M316.9,184.7h0M319.5,186.8h0M258.2,167.2h0M260.3,167.1h0M268.1,171.2h0M269.6,171.1h0M271.2,171.5h0M273.9,171.9h0M293.6,178.3h0M295.9,178.7h0M297,176.9h0M292.4,175.5h0M284.4,175.6h0M304.7,180.2h0M306.5,180h0M275.3,171.6h0M277,172.2h0M290.8,176.7h0M292.8,178.4h0M304.6,180.8h0M313.1,182h0M277.5,173.3h0M279.9,174.7h0M270.9,171.8h0M259.7,170.7h0M262.4,169.5h0M296.2,179h0M298.2,178.7h0M264.6,169.4h0M277.1,171.8h0M270.8,169.9h0M273.2,170.1h0M263.2,167.3h0M265.4,168.3h0M265.2,170.7h0M267.3,171h0M262.2,169.7h0M298,176.8h0M300.1,179h0M316.6,185.2h0M278.8,173.2h0M281.6,173.9h0M283.1,172.3h0M288.5,174.3h0M289.8,175.2h0M292.2,176.1h0M277.1,171h0M300.9,180.1h0M283.2,176.5h0M305.4,180.8h0M257,169.2h0M264.3,170.3h0M295.8,178.6h0M298.2,178.8h0M284.6,174.4h0M308.5,181.6h0M280.7,173.4h0M309.3,180.1h0M312.5,183.5h0M290.3,176.8h0M292.9,177.6h0M299.6,179.8h0M311.1,183.6h0M279.8,171.9h0M311.4,182.2h0M321,191h0M212.2,175h0M220.1,175.8h0M221.8,176.7h0M219.8,175.8h0M220.4,175h0M223.1,175.5h0M235.8,177.9h0M217.8,175.3h0M219.9,176.2h0M221.9,176.2h0M224.9,176h0M217.2,175.6h0M232.3,177.9h0M218.5,174.9h0M216.1,175h0M218.4,175.6h0M221.1,175.5h0M254.3,181.5h0M232.7,178.2h0M197.1,172.5h0M246.6,180h0M239.5,178.8h0M250.3,180.3h0M215.7,175.1h0M218.5,175.3h0M228.7,177.2h0M230.4,177.3h0M248.2,180.8h0M199.1,172.1h0M213.4,174.7h0M225.3,176.8h0M207.7,173.9h0M249,180.5h0M239.2,179h0M227.3,176.2h0M207.1,173.5h0M238.2,178.2h0M221,175.4h0M215.2,174.9h0M233.3,177.1h0M321,203.8h0M296.9,190.9h0M298.8,192.1h0M277.6,185.4h0M300.5,194.1h0M294.7,192.9h0M294.6,191.5h0M286.2,189.3h0M289,192.2h0M287.6,188.5h0M277.8,188.1h0M283.3,187.3h0M262.2,182h0M264.7,184h0M274,186.2h0M277.1,187.8h0M279.6,188.1h0M302.9,197.2h0M258.2,179.4h0M279.1,186.6h0M271.6,185.1h0M319.4,202.8h0M307,198.4h0M273.2,185.3h0M297.8,192h0M321.2,204.4h0M316,202.9h0M259.1,183.4h0M302,195.9h0M304.7,197.6h0M278.7,185.2h0M272.7,186.7h0M275.7,186.3h0M307,195.3h0M309.4,196.5h0M258.2,182.1h0M286.5,185.3h0M280.8,188.7h0M302,194.4h0M275.9,188.3h0M278.6,189.2h0M256.3,184.3h0M315.5,199.9h0M300.7,194.3h0M302.4,195.6h0M300.9,193.3h0M279.7,184h0M308.8,198.1h0M283.1,188.2h0M269.1,182.7h0M302.3,194.4h0M305.1,197h0M293.4,192h0M270.1,186h0M273,184.8h0M283.3,189h0M269.4,184.4h0M271.1,185.7h0M287.8,190.8h0M290.7,190.1h0M273.6,184.8h0M316.9,200.9h0M282.1,188.8h0M259.6,182.8h0M261.3,182.9h0M314.9,203.5h0M262.6,182h0M316.1,202.1h0M319.5,203.9h0M256.5,181.9h0M258.7,181.2h0M256.2,184.4h0M277.1,187.8h0M279,188.1h0M273.6,188h0M256.1,182.5h0M260.6,185.3h0M274.1,186.6h0M300.9,193.3h0M258.1,182h0M261,182.5h0M266.9,185.5h0M268.5,185.6h0M312.1,200.7h0M314.1,201.1h0M298.1,192.6h0M273.7,187.7h0M276.2,187.7h0M284.4,188.4h0M295.4,190.1h0M297.5,189.3h0M265.1,185.8h0M299.7,192.7h0M302.3,193.8h0M297.6,194.7h0M271.7,185.8h0M261.5,181.6h0M261.3,181.6h0M284.5,186.6h0M293,193.7h0M278.7,186.9h0M281.3,187.7h0M299.4,196h0M259.1,181.5h0M260.9,182.5h0M233.6,185.9h0M235.9,186.5h0M223.5,186.1h0M225.8,186.4h0M195.5,183.3h0M193.2,182.3h0M236.9,186.5h0M206.9,184.1h0M209.8,183.9h0M214.7,184h0M228.8,186.1h0M194.3,183.1h0M197.3,182.5h0M199.1,182.5h0M204.2,183.7h0M219.1,186.6h0M222,186.2h0M225.9,185.6h0M228.9,185.9h0M213.2,184h0M230.6,186.6h0M233,186.2h0M220.7,185.5h0M237.8,187.4h0M240.3,188.2h0M236.3,187.9h0M238.9,187.8h0M236,186.2h0M237.9,187.3h0M228.8,187.1h0M231.3,186.5h0M212.5,184.4h0M219.8,185h0M222.2,185.6h0M232.9,186.8h0M200.7,184.1h0M202.2,184h0M205.7,183.3h0M201.5,182.6h0M204,182.8h0M223.8,186.3h0M223,185.4h0M193.3,182.1h0M195,182.8h0M233.1,187.4h0M235.4,187.7h0M211.3,184.2h0M214.2,184.9h0M214.7,185.5h0M217.4,186h0M230.6,187.2h0M231.5,186.1h0M222.1,186.4h0M210.1,183.5h0M238.3,186.1h0M226.6,187.1h0M228.6,186.8h0M214.9,185.7h0M216.6,185.7h0M200.1,182.7h0M194.3,182.1h0M219.5,185.5h0M215.2,186.1h0M191.9,182.4h0M231.2,187.5h0M236.2,185.6h0M239.2,186.8h0M235.8,186.9h0M238,187.5h0M241.5,188.2h0M277.7,194.7h0M265.9,193.8h0M285.4,195h0M280.4,196.6h0M304.2,203.6h0M266.8,192.1h0M268.8,193.6h0M309.2,205.8h0M261.1,193.6h0M256,192.8h0M298,203.6h0M310.1,203.6h0M257,190.4h0M256.4,192.6h0M259.1,193.4h0M310.4,204.3h0M308.2,204.2h0M302.1,202.7h0M254.3,190.7h0M255.9,191h0M281.3,197.1h0M301.9,202.8h0M304.9,203.3h0M280.5,196h0M304.3,203.1h0M306.5,203.7h0M302.7,201.2h0M298.9,199.5h0M253.4,190.4h0M262,192.5h0M264,193h0M252.2,189.9h0M254.3,188.9h0M296.1,200.6h0M297.8,199.5h0M261.5,191.4h0M271.1,197h0M273.8,195.9h0M286.8,195.5h0M279.2,196.4h0M280.1,197.7h0M283,197.6h0M246.5,188h0M289.2,196.8h0M302.6,202.3h0M304.8,202.8h0M310,203.7h0M267.8,193.8h0M270.5,192.6h0M253.2,191.2h0M254.9,192h0M287.8,195.8h0M290,195.5h0M262.3,193.6h0M268.7,192h0M270.3,192.7h0M248.7,192.6h0M255.2,189.2h0M257.2,190.8h0M265.5,193.1h0M268.2,190.6h0M267.2,191.4h0M269.8,192.1h0M271.7,191.6h0M252.9,190.1h0M288.4,195.1h0M275.6,193h0M269.2,193.8h0M272.9,195.2h0M275.7,196.3h0M191.6,194.9h0M209.5,198.1h0M255,202.2h0M205.6,194.5h0M208.2,195.5h0M216.6,194.6h0M203.1,194.9h0M256.1,206.6h0M239.1,199.4h0M241.7,201.8h0M198.9,192h0M247,203.3h0M207,195.6h0M188.8,192.8h0M202,193.3h0M251.5,203.5h0M210.1,195.4h0M212.8,196.6h0M245.1,200.3h0M247,199.9h0M242.8,204.6h0M244.6,205.3h0M242.8,201.7h0M224.7,197.5h0M227,198.1h0M233.2,201.4h0M254.2,204.2h0M250.5,200.7h0M223.7,201.2h0M225.5,199.7h0M232.2,197.8h0M203,194.8h0M230.7,199h0M232.5,198h0M222.8,197.9h0M204.5,194.3h0M207.3,195.4h0M227.6,201h0M229.9,200.1h0M214.9,196.5h0M222.1,198.8h0M209.1,195.3h0M199.2,192.7h0M191.7,192.6h0M199.1,195.9h0M199.8,194.6h0M226.7,198.9h0M240.1,203.6h0M204.7,193.6h0M239.2,198.3h0M241.4,199h0M236.1,201.5h0M188.2,192.9h0M208.5,197h0M210.4,195.2h0M203.6,195.4h0M235.8,202.1h0M253.9,201h0M256.4,201.7h0M207.8,196.5h0M197.6,196.7h0M190.2,195.2h0M191.7,192.6h0M199,193.9h0M219.7,197.1h0M195.6,192.4h0M244.5,201.4h0M243.9,201.3h0M254.9,201.8h0M257.1,201.9h0M215.3,195.6h0M214.6,197.2h0M216.5,197.8h0M213.2,195.1h0M258.9,203.2h0M260.5,204.1h0M250.9,202h0M249,200.8h0M200.5,192.9h0M226.1,198.7h0M217.5,195.8h0M219.6,196h0M244.2,202.1h0M247.1,202.9h0M188.6,191.3h0M205,198.4h0M224.1,198.4h0M226,198.8h0M217.5,199.9h0M236,199.3h0M246.5,200.2h0M248.4,201.8h0M207.2,194.8h0M190.9,194.3h0M193.3,194.8h0M219,194.9h0M189.8,195.4h0M195.7,193.3h0M209.5,197.3h0M212.5,196h0M202.8,196.4h0M256.7,204.7h0M259.6,204.6h0M198.9,193.5h0M190.3,193.4h0M193.2,194.1h0M248.9,200.1h0M244.6,200.6h0M257.4,204.8h0M206.1,195.2h0M208.5,197.2h0M258.4,204.6h0M206.6,195.2h0M247.3,201.6h0M249,201.5h0M212,197.4h0M213.6,196.7h0M232,197.9h0M234.9,198.8h0M215.6,195h0M219.4,195.7h0M221.6,197h0M194,196.2h0M195.8,195.1h0M235.9,198.4h0M204.2,195h0M191.7,194.7h0M193.5,194.9h0M202.3,194h0M238.7,201.8h0M228.3,198.7h0M230.3,197.8h0M197.4,194h0M199.2,193.5h0M208,196.7h0M209.8,197.3h0M238.1,200h0M196.7,194.5h0M259.1,201.7h0M260.9,202.4h0M245.1,201.1h0M246.7,201.1h0M245,200.5h0M224,196.9h0M226.3,198.8h0M256.9,203.6h0M259.1,202.9h0M243.6,199.9h0M246.3,199.7h0M224.5,199.8h0M316.3,224.4h0M317.9,226.3h0M309.1,219.9h0M311.7,221.5h0M304.4,216.5h0M291.1,213.4h0M293,214.6h0M304.1,216.9h0M289.3,209.1h0M309.5,217.9h0M311.4,217.7h0M291.4,212.4h0M293.5,213.6h0M296.1,213.1h0M298.4,214.3h0M270.9,205.1h0M321.9,227.9h0M324.2,228.2h0M309.5,217.6h0M311.8,218.8h0M307.2,218.5h0M291.8,212.2h0M298.5,214.2h0M308,220h0M261.1,203.9h0M263.4,205.6h0M289.6,211.8h0M315,224.8h0M279.1,208.9h0M273.3,209.4h0M276.1,210.5h0M322,226.6h0M260.6,203.3h0M265.4,208.3h0M290.3,211.8h0M292.4,212.9h0M320.1,223.6h0M322.3,227.3h0M269.5,207.8h0M298.2,215.3h0M300.8,215.4h0M303.5,213.6h0M306.2,217.6h0M301.4,215.1h0M304.2,214.5h0M318.3,224.6h0M319.9,227.7h0M265.4,204h0M314,220.6h0M261.8,203.2h0M269.9,208.8h0M272.7,208.3h0M317.6,219.7h0M320.1,222.4h0M322.6,227.1h0M314.5,225.2h0M316.6,226.4h0M314.3,223.7h0M317.1,224.3h0M301.7,218.3h0M319.3,223.9h0M310.2,221.5h0M276.8,210.2h0M281.1,206.8h0M264.4,205.1h0M297,212.3h0M280,207.9h0M282.4,208.7h0M272.3,209h0M274.1,208.3h0M277.4,207.5h0M280.4,208.6h0M319,228.6h0M320.8,223.5h0M285.8,211.6h0M319.1,227.2h0M287.9,207.5h0M313.9,214.6h0M295,214.5h0M287.3,209.4h0M290.1,210.7h0M289.6,208.7h0M292.4,209.2h0M311.7,218.6h0M314.4,220.8h0M263,204.1h0M276.5,204h0M278.7,205.2h0M263.8,207.6h0M310,217.5h0M312.7,219.9h0M262.1,202h0M264.6,203.9h0M303.3,215.1h0M296.7,213.8h0M294.9,214.4h0M296.8,214.3h0M269.9,208.4h0M282.1,208.1h0M284.9,209.6h0M279.1,208.6h0M282,205h0M319.4,222.5h0M321.4,224h0M288.6,209.9h0M312.8,220.1h0M315.1,222.4h0M296.4,214.8h0M272.1,207.9h0M264.2,202.6h0M269.1,206.7h0M272.1,205.5h0M316.5,222.5h0M281.3,210h0M277.5,209.3h0M279.8,207.5h0M263.7,204h0M310.5,221.6h0M320,227h0M273.4,209.8h0M275.4,208.3h0M189.8,202.7h0M196,203.6h0M198.5,203.7h0M201,203.6h0" stroke="#0000ff" stroke-width="3.7" stroke-linecap="round" fill="none"/>
<path d="M191.2,96.5l3.2,7.2h-6.4zM194.3,96.3l3.2,7.2h-6.4zM198,96.8l3.2,7.2h-6.4zM191,96.5l3.2,7.2h-6.4zM200.4,96.7l3.2,7.2h-6.4zM200.3,96.4l3.2,7.2h-6.4zM192.6,96.3l3.2,7.2h-6.4zM192.7,96.1l3.2,7.2h-6.4zM192.9,96.5l3.2,7.2h-6.4zM198.6,96.9l3.2,7.2h-6.4zM190.7,96.7l3.2,7.2h-6.4zM196.8,96.3l3.2,7.2h-6.4zM190.4,96.8l3.2,7.2h-6.4zM191.7,96.2l3.2,7.2h-6.4zM230.2,110.3l3.2,7.2h-6.4zM312.4,134.5l3.2,7.2h-6.4zM303.6,131.1l3.2,7.2h-6.4zM196.8,105.9l3.2,7.2h-6.4zM220.9,109.1l3.2,7.2h-6.4zM207.4,108l3.2,7.2h-6.4zM232.2,110.6l3.2,7.2h-6.4zM304.4,131.1l3.2,7.2h-6.4zM221.8,107l3.2,7.2h-6.4zM191.4,106.3l3.2,7.2h-6.4zM287.1,122.3l3.2,7.2h-6.4zM309.1,133.2l3.2,7.2h-6.4zM296.3,128.7l3.2,7.2h-6.4zM266.9,116.6l3.2,7.2h-6.4zM274.7,117.6l3.2,7.2h-6.4zM284.1,121.6l3.2,7.2h-6.4zM285.2,121.9l3.2,7.2h-6.4zM266.6,115.3l3.2,7.2h-6.4zM230.7,108.6l3.2,7.2h-6.4zM265.4,116.3l3.2,7.2h-6.4zM205.2,107l3.2,7.2h-6.4zM265.7,113.5l3.2,7.2h-6.4zM317.6,141.2l3.2,7.2h-6.4zM196.8,107l3.2,7.2h-6.4zM229.8,109.3l3.2,7.2h-6.4zM258.1,113.7l3.2,7.2h-6.4zM204.7,107.3l3.2,7.2h-6.4zM223.2,108.7l3.2,7.2h-6.4zM268,116.3l3.2,7.2h-6.4zM298.2,127.8l3.2,7.2h-6.4zM287.7,122.4l3.2,7.2h-6.4zM290.2,124.2l3.2,7.2h-6.4zM306.2,132.7l3.2,7.2h-6.4zM263,114.6l3.2,7.2h-6.4zM282.5,121.2l3.2,7.2h-6.4zM271.2,118.1l3.2,7.2h-6.4zM296.7,128.3l3.2,7.2h-6.4zM279.5,119l3.2,7.2h-6.4zM229.3,109.4l3.2,7.2h-6.4zM298.3,128.7l3.2,7.2h-6.4zM269.5,115.6l3.2,7.2h-6.4zM258.8,114.9l3.2,7.2h-6.4zM321,148.7l3.2,7.2h-6.4zM235.7,108.9l3.2,7.2h-6.4zM322.7,151.7l3.2,7.2h-6.4zM243.6,111l3.2,7.2h-6.4zM259.6,113.6l3.2,7.2h-6.4zM244.9,111.8l3.2,7.2h-6.4zM289.2,123.7l3.2,7.2h-6.4zM275.9,118.6l3.2,7.2h-6.4zM253,111.9l3.2,7.2h-6.4zM248.8,111.2l3.2,7.2h-6.4zM301.1,129.2l3.2,7.2h-6.4zM258.7,112.1l3.2,7.2h-6.4zM242.7,111.2l3.2,7.2h-6.4zM220,108.7l3.2,7.2h-6.4zM306.6,132.3l3.2,7.2h-6.4zM264.3,115.2l3.2,7.2h-6.4zM283.1,120.4l3.2,7.2h-6.4zM235.2,109.4l3.2,7.2h-6.4zM191,106.6l3.2,7.2h-6.4zM228.5,108.6l3.2,7.2h-6.4zM217.2,107.9l3.2,7.2h-6.4zM233.1,109.9l3.2,7.2h-6.4zM203.5,107.8l3.2,7.2h-6.4zM233.4,111l3.2,7.2h-6.4zM203.7,107.6l3.2,7.2h-6.4zM244.8,110.7l3.2,7.2h-6.4zM228.7,110.2l3.2,7.2h-6.4zM248.6,111.6l3.2,7.2h-6.4zM282,120.4l3.2,7.2h-6.4zM310.4,135.9l3.2,7.2h-6.4zM274.7,117l3.2,7.2h-6.4zM295,126.3l3.2,7.2h-6.4zM314.5,139.5l3.2,7.2h-6.4zM239.6,112.3l3.2,7.2h-6.4zM253.7,112.5l3.2,7.2h-6.4zM221.7,109l3.2,7.2h-6.4zM216.6,109.5l3.2,7.2h-6.4zM232.2,107.8l3.2,7.2h-6.4zM297.2,126.8l3.2,7.2h-6.4zM215.5,109.5l3.2,7.2h-6.4zM311.6,134.6l3.2,7.2h-6.4zM296.1,126.6l3.2,7.2h-6.4zM259.7,111.7l3.2,7.2h-6.4zM253.1,111.8l3.2,7.2h-6.4zM266.8,115l3.2,7.2h-6.4zM219.3,109.2l3.2,7.2h-6.4zM319.9,147.4l3.2,7.2h-6.4zM214.5,108.2l3.2,7.2h-6.4zM267.7,112.6l3.2,7.2h-6.4zM310.8,135l3.2,7.2h-6.4zM198.9,107.9l3.2,7.2h-6.4zM289.6,121l3.2,7.2h-6.4zM317.5,141.6l3.2,7.2h-6.4zM281.4,121.2l3.2,7.2h-6.4zM296.4,126.5l3.2,7.2h-6.4zM234.7,108.3l3.2,7.2h-6.4zM296.3,124.8l3.2,7.2h-6.4zM232.9,108.5l3.2,7.2h-6.4zM272.6,117.8l3.2,7.2h-6.4zM283.1,119.7l3.2,7.2h-6.4zM208.9,108.3l3.2,7.2h-6.4zM277,119.2l3.2,7.2h-6.4zM193.7,106.3l3.2,7.2h-6.4zM215.3,107.9l3.2,7.2h-6.4zM226.6,107.9l3.2,7.2h-6.4zM316.6,141.3l3.2,7.2h-6.4zM220,110.3l3.2,7.2h-6.4zM268.6,116.6l3.2,7.2h-6.4zM312.9,137.5l3.2,7.2h-6.4zM238,109.9l3.2,7.2h-6.4zM218.8,107.9l3.2,7.2h-6.4zM305.2,131.5l3.2,7.2h-6.4zM309.8,135.8l3.2,7.2h-6.4zM318.7,149.7l3.2,7.2h-6.4zM241.1,112.2l3.2,7.2h-6.4zM288.1,121.3l3.2,7.2h-6.4zM238.1,109.3l3.2,7.2h-6.4zM235,108.9l3.2,7.2h-6.4zM253.2,112.2l3.2,7.2h-6.4zM296.3,127.1l3.2,7.2h-6.4zM230.8,109.4l3.2,7.2h-6.4zM284.9,120.7l3.2,7.2h-6.4zM227.7,110.6l3.2,7.2h-6.4zM223.9,109.8l3.2,7.2h-6.4zM216.8,107.4l3.2,7.2h-6.4zM309.1,133.6l3.2,7.2h-6.4zM283,120l3.2,7.2h-6.4zM270,116.5l3.2,7.2h-6.4zM206.7,107.2l3.2,7.2h-6.4zM315.7,142.3l3.2,7.2h-6.4zM270.1,116.7l3.2,7.2h-6.4zM296.4,129.2l3.2,7.2h-6.4zM219.3,108.5l3.2,7.2h-6.4zM291.8,124.7l3.2,7.2h-6.4zM218.6,109.3l3.2,7.2h-6.4zM293.7,124.1l3.2,7.2h-6.4zM265.2,114.8l3.2,7.2h-6.4zM269.2,116.1l3.2,7.2h-6.4zM191.1,104.7l3.2,7.2h-6.4zM208.2,107.5l3.2,7.2h-6.4zM248.1,110.7l3.2,7.2h-6.4zM216.4,108.3l3.2,7.2h-6.4zM271.4,116.7l3.2,7.2h-6.4zM219,109.1l3.2,7.2h-6.4zM315.3,140.8l3.2,7.2h-6.4zM266.4,114.8l3.2,7.2h-6.4zM244.6,111.6l3.2,7.2h-6.4zM276.8,118.5l3.2,7.2h-6.4zM191.9,107.1l3.2,7.2h-6.4zM236.1,110l3.2,7.2h-6.4zM317,142.6l3.2,7.2h-6.4zM252.8,112.1l3.2,7.2h-6.4zM231.4,109.2l3.2,7.2h-6.4zM317.1,143.8l3.2,7.2h-6.4zM245.1,111.9l3.2,7.2h-6.4zM304,130.9l3.2,7.2h-6.4zM247.5,111.9l3.2,7.2h-6.4zM219.8,108.9l3.2,7.2h-6.4zM236.5,109.6l3.2,7.2h-6.4zM286,123.4l3.2,7.2h-6.4zM195.3,107.7l3.2,7.2h-6.4zM307.1,133.8l3.2,7.2h-6.4zM295.3,126.9l3.2,7.2h-6.4zM199.4,108.3l3.2,7.2h-6.4zM280.1,120.1l3.2,7.2h-6.4zM302.7,131.9l3.2,7.2h-6.4zM252.1,111.3l3.2,7.2h-6.4zM309.4,131.1l3.2,7.2h-6.4zM276.4,117.6l3.2,7.2h-6.4zM281.2,119.6l3.2,7.2h-6.4zM208.2,107.4l3.2,7.2h-6.4zM201.7,107.3l3.2,7.2h-6.4zM279.1,118.8l3.2,7.2h-6.4zM316.9,142.5l3.2,7.2h-6.4zM228.4,108.4l3.2,7.2h-6.4zM214.1,108l3.2,7.2h-6.4zM322.9,154.3l3.2,7.2h-6.4zM229.6,107.6l3.2,7.2h-6.4zM311.8,138.7l3.2,7.2h-6.4zM213.2,107l3.2,7.2h-6.4zM210.2,108.3l3.2,7.2h-6.4zM283.6,121.4l3.2,7.2h-6.4zM196.1,105.9l3.2,7.2h-6.4zM287.3,122.8l3.2,7.2h-6.4zM195.6,106.3l3.2,7.2h-6.4zM229.2,107.2l3.2,7.2h-6.4zM243.6,110.8l3.2,7.2h-6.4zM303.1,129.4l3.2,7.2h-6.4zM323.3,162.8l3.2,7.2h-6.4zM211.9,120l3.2,7.2h-6.4zM265.9,124.3l3.2,7.2h-6.4zM288,135.5l3.2,7.2h-6.4zM322.8,162.5l3.2,7.2h-6.4zM242.9,120.5l3.2,7.2h-6.4zM279.9,131.3l3.2,7.2h-6.4zM313.5,149.5l3.2,7.2h-6.4zM321.2,159.5l3.2,7.2h-6.4zM245.8,123.2l3.2,7.2h-6.4zM274,127.8l3.2,7.2h-6.4zM308.1,143.5l3.2,7.2h-6.4zM251.8,123.2l3.2,7.2h-6.4zM321.2,157.1l3.2,7.2h-6.4zM260.3,123.4l3.2,7.2h-6.4zM222.9,118.9l3.2,7.2h-6.4zM198.7,118.8l3.2,7.2h-6.4zM291,134.1l3.2,7.2h-6.4zM297.6,139.2l3.2,7.2h-6.4zM276.7,131.1l3.2,7.2h-6.4zM316.5,149.9l3.2,7.2h-6.4zM200.3,117.8l3.2,7.2h-6.4zM214.5,117.9l3.2,7.2h-6.4zM243.4,121.6l3.2,7.2h-6.4zM202.2,118.8l3.2,7.2h-6.4zM309.2,144.4l3.2,7.2h-6.4zM223.3,119.5l3.2,7.2h-6.4zM223.8,118.7l3.2,7.2h-6.4zM235.8,121.2l3.2,7.2h-6.4zM229.2,121.5l3.2,7.2h-6.4zM264,125.5l3.2,7.2h-6.4zM284.1,132.9l3.2,7.2h-6.4zM227.1,121l3.2,7.2h-6.4zM227.2,119.9l3.2,7.2h-6.4zM286.9,134.3l3.2,7.2h-6.4zM288.9,133.9l3.2,7.2h-6.4zM236.2,121.9l3.2,7.2h-6.4zM197.6,118.3l3.2,7.2h-6.4zM193.3,116.9l3.2,7.2h-6.4zM230.3,120.2l3.2,7.2h-6.4zM247,121.7l3.2,7.2h-6.4zM217.6,119.7l3.2,7.2h-6.4zM264.1,125.5l3.2,7.2h-6.4zM308.2,143.8l3.2,7.2h-6.4zM226.8,119.6l3.2,7.2h-6.4zM281,131.3l3.2,7.2h-6.4zM246,121.5l3.2,7.2h-6.4zM259.4,124l3.2,7.2h-6.4zM204.1,119.5l3.2,7.2h-6.4zM236.2,121.1l3.2,7.2h-6.4zM303.7,141.3l3.2,7.2h-6.4zM248.4,124l3.2,7.2h-6.4zM208.1,118.2l3.2,7.2h-6.4zM219.2,119l3.2,7.2h-6.4zM322.5,162.4l3.2,7.2h-6.4zM298.6,138.8l3.2,7.2h-6.4zM280.6,130.9l3.2,7.2h-6.4zM268.9,127.3l3.2,7.2h-6.4zM217.8,119.3l3.2,7.2h-6.4zM221.6,118.4l3.2,7.2h-6.4zM294.6,138.1l3.2,7.2h-6.4zM319.9,156.3l3.2,7.2h-6.4zM251.7,123.9l3.2,7.2h-6.4zM239,121.6l3.2,7.2h-6.4zM313,145.7l3.2,7.2h-6.4zM214.1,118.8l3.2,7.2h-6.4zM243,122.2l3.2,7.2h-6.4zM286,133.3l3.2,7.2h-6.4zM197.1,118.4l3.2,7.2h-6.4zM313.4,149.9l3.2,7.2h-6.4zM223.7,121.2l3.2,7.2h-6.4zM284,132.5l3.2,7.2h-6.4zM211,120.5l3.2,7.2h-6.4zM315.5,149.9l3.2,7.2h-6.4zM300.7,138.9l3.2,7.2h-6.4zM209,118.5l3.2,7.2h-6.4zM277.1,129.1l3.2,7.2h-6.4zM233.8,121.6l3.2,7.2h-6.4zM203.4,119.1l3.2,7.2h-6.4zM194,116.7l3.2,7.2h-6.4zM260,125.6l3.2,7.2h-6.4zM214.7,119.3l3.2,7.2h-6.4zM318.7,154l3.2,7.2h-6.4zM227.2,121.2l3.2,7.2h-6.4zM311.2,147.5l3.2,7.2h-6.4zM222.4,119.7l3.2,7.2h-6.4zM290.6,133.9l3.2,7.2h-6.4zM235.7,122.4l3.2,7.2h-6.4zM209.3,118.5l3.2,7.2h-6.4zM212.8,119.1l3.2,7.2h-6.4zM261.3,124.4l3.2,7.2h-6.4zM216.3,118.9l3.2,7.2h-6.4zM261.1,123.9l3.2,7.2h-6.4zM280.7,131.4l3.2,7.2h-6.4zM211.3,119.3l3.2,7.2h-6.4zM296.9,138.3l3.2,7.2h-6.4zM284.8,133.2l3.2,7.2h-6.4zM233.1,121.5l3.2,7.2h-6.4zM313.7,147.7l3.2,7.2h-6.4zM204.1,119.3l3.2,7.2h-6.4zM198.2,118.5l3.2,7.2h-6.4zM251.3,124.1l3.2,7.2h-6.4zM307.1,144l3.2,7.2h-6.4zM323.4,161.2l3.2,7.2h-6.4zM318.6,154.8l3.2,7.2h-6.4zM245.2,122l3.2,7.2h-6.4zM211.8,118.2l3.2,7.2h-6.4zM204.9,118l3.2,7.2h-6.4zM203.2,117.4l3.2,7.2h-6.4zM246,122.6l3.2,7.2h-6.4zM254.6,122.4l3.2,7.2h-6.4zM285.5,132.1l3.2,7.2h-6.4zM247.2,123.3l3.2,7.2h-6.4zM198.1,119.8l3.2,7.2h-6.4zM219.8,119.8l3.2,7.2h-6.4zM274.2,129.5l3.2,7.2h-6.4zM205.9,117.6l3.2,7.2h-6.4zM282.7,131.8l3.2,7.2h-6.4zM202.5,118.4l3.2,7.2h-6.4zM243.2,121.3l3.2,7.2h-6.4zM209.1,119.5l3.2,7.2h-6.4zM299.2,138.5l3.2,7.2h-6.4zM260.2,125.3l3.2,7.2h-6.4zM203.1,119.1l3.2,7.2h-6.4zM205.7,118.7l3.2,7.2h-6.4zM243.8,122l3.2,7.2h-6.4zM198.3,118.6l3.2,7.2h-6.4zM197.1,115.6l3.2,7.2h-6.4zM240.4,122.3l3.2,7.2h-6.4zM233.4,120.8l3.2,7.2h-6.4zM322.1,161.6l3.2,7.2h-6.4zM280.6,130.6l3.2,7.2h-6.4zM296.8,138.2l3.2,7.2h-6.4zM241.8,121.9l3.2,7.2h-6.4zM283.5,133.1l3.2,7.2h-6.4zM246.6,122.2l3.2,7.2h-6.4zM242.7,121.8l3.2,7.2h-6.4zM312.4,147.6l3.2,7.2h-6.4zM317.8,153.3l3.2,7.2h-6.4zM233.9,121l3.2,7.2h-6.4zM211.9,119.2l3.2,7.2h-6.4zM264.3,123.9l3.2,7.2h-6.4zM316.5,152l3.2,7.2h-6.4zM243.1,122.5l3.2,7.2h-6.4zM251.9,123.6l3.2,7.2h-6.4zM291.2,137.2l3.2,7.2h-6.4zM230.6,120.7l3.2,7.2h-6.4zM244.6,122.8l3.2,7.2h-6.4zM278.5,130.5l3.2,7.2h-6.4zM203.4,116.5l3.2,7.2h-6.4zM218.4,117.8l3.2,7.2h-6.4zM252.7,124.5l3.2,7.2h-6.4zM287,134.1l3.2,7.2h-6.4zM242.2,121l3.2,7.2h-6.4zM294.5,135.3l3.2,7.2h-6.4zM228.3,118.2l3.2,7.2h-6.4zM317.7,150.8l3.2,7.2h-6.4zM276.8,129.6l3.2,7.2h-6.4zM266.6,126.5l3.2,7.2h-6.4zM229.6,120.2l3.2,7.2h-6.4zM256.7,124l3.2,7.2h-6.4zM295,136.8l3.2,7.2h-6.4zM204.4,118.1l3.2,7.2h-6.4zM286.5,134.2l3.2,7.2h-6.4zM261.3,125.7l3.2,7.2h-6.4zM243.1,120.9l3.2,7.2h-6.4zM261,123.5l3.2,7.2h-6.4zM232.6,121.9l3.2,7.2h-6.4zM216.5,119.2l3.2,7.2h-6.4zM298.9,139.9l3.2,7.2h-6.4zM282.8,131.9l3.2,7.2h-6.4zM310,146.5l3.2,7.2h-6.4zM318.7,155l3.2,7.2h-6.4zM200.4,120.5l3.2,7.2h-6.4zM323.6,161.6l3.2,7.2h-6.4zM196.9,120.2l3.2,7.2h-6.4zM283,133.4l3.2,7.2h-6.4zM267.8,125.8l3.2,7.2h-6.4zM213.2,119.2l3.2,7.2h-6.4zM306.3,145.3l3.2,7.2h-6.4zM225.8,129.2l3.2,7.2h-6.4zM236.2,131.9l3.2,7.2h-6.4zM224.8,129.9l3.2,7.2h-6.4zM277.6,138.8l3.2,7.2h-6.4zM249,130.8l3.2,7.2h-6.4zM291.8,144.7l3.2,7.2h-6.4zM295.4,147.7l3.2,7.2h-6.4zM297.7,147.7l3.2,7.2h-6.4zM198.1,127.6l3.2,7.2h-6.4zM307.4,154l3.2,7.2h-6.4zM265.8,135.9l3.2,7.2h-6.4zM230.7,130.1l3.2,7.2h-6.4zM301.2,149.5l3.2,7.2h-6.4zM269.6,136l3.2,7.2h-6.4zM253.1,132.8l3.2,7.2h-6.4zM238.1,130.4l3.2,7.2h-6.4zM293.8,145.2l3.2,7.2h-6.4zM287.9,142.1l3.2,7.2h-6.4zM231,129.8l3.2,7.2h-6.4zM241.3,131.5l3.2,7.2h-6.4zM250.6,133.2l3.2,7.2h-6.4zM242.2,132l3.2,7.2h-6.4zM239.1,129.6l3.2,7.2h-6.4zM304.9,151.2l3.2,7.2h-6.4zM235.2,131.1l3.2,7.2h-6.4zM309.4,154.1l3.2,7.2h-6.4zM293.6,145.2l3.2,7.2h-6.4zM248.5,130.6l3.2,7.2h-6.4zM219.5,129.7l3.2,7.2h-6.4zM294.6,146.3l3.2,7.2h-6.4zM208.7,127.9l3.2,7.2h-6.4zM225,129.8l3.2,7.2h-6.4zM267.6,135l3.2,7.2h-6.4zM238.3,129.7l3.2,7.2h-6.4zM227.2,130.4l3.2,7.2h-6.4zM202.4,127.9l3.2,7.2h-6.4zM198.2,128.1l3.2,7.2h-6.4zM255.5,133.9l3.2,7.2h-6.4zM312.1,155.9l3.2,7.2h-6.4zM216.4,128.8l3.2,7.2h-6.4zM286.1,143.5l3.2,7.2h-6.4zM227.5,129.8l3.2,7.2h-6.4zM241.5,130.8l3.2,7.2h-6.4zM233.5,131l3.2,7.2h-6.4zM217.4,130.5l3.2,7.2h-6.4zM320.7,166.6l3.2,7.2h-6.4zM321,165.7l3.2,7.2h-6.4zM224,130.4l3.2,7.2h-6.4zM212.2,129.2l3.2,7.2h-6.4zM298.4,147.9l3.2,7.2h-6.4zM264.4,135.4l3.2,7.2h-6.4zM266,136.6l3.2,7.2h-6.4zM222.6,127.7l3.2,7.2h-6.4zM254.3,133.6l3.2,7.2h-6.4zM322.6,169.3l3.2,7.2h-6.4zM313.6,157.2l3.2,7.2h-6.4zM285.1,141.4l3.2,7.2h-6.4zM280.8,140.5l3.2,7.2h-6.4zM221.9,128.9l3.2,7.2h-6.4zM250,132.6l3.2,7.2h-6.4zM319.7,163.6l3.2,7.2h-6.4zM275.8,137.9l3.2,7.2h-6.4zM280.4,139.6l3.2,7.2h-6.4zM224.7,129.3l3.2,7.2h-6.4zM274.3,139.3l3.2,7.2h-6.4zM259.4,133.5l3.2,7.2h-6.4zM235.1,130.6l3.2,7.2h-6.4zM260.5,134.3l3.2,7.2h-6.4zM296.6,147.2l3.2,7.2h-6.4zM223.2,129.4l3.2,7.2h-6.4zM258.4,132.3l3.2,7.2h-6.4zM211.5,127.2l3.2,7.2h-6.4zM214.2,127.3l3.2,7.2h-6.4zM201.6,127.8l3.2,7.2h-6.4zM245.9,131.9l3.2,7.2h-6.4zM220.5,128.4l3.2,7.2h-6.4zM207,128.2l3.2,7.2h-6.4zM265.7,134.7l3.2,7.2h-6.4zM284,141.5l3.2,7.2h-6.4zM244,131l3.2,7.2h-6.4zM313.6,159.3l3.2,7.2h-6.4zM256,134l3.2,7.2h-6.4zM265,135.5l3.2,7.2h-6.4zM236.2,132.8l3.2,7.2h-6.4zM238.3,132.7l3.2,7.2h-6.4zM302.4,150.6l3.2,7.2h-6.4zM204.3,128.3l3.2,7.2h-6.4zM201.6,128.2l3.2,7.2h-6.4zM260.6,135.2l3.2,7.2h-6.4zM261.3,133.6l3.2,7.2h-6.4zM321.2,166.8l3.2,7.2h-6.4zM231.4,131.1l3.2,7.2h-6.4zM273.8,137.3l3.2,7.2h-6.4zM259.9,134.4l3.2,7.2h-6.4zM319.6,165.5l3.2,7.2h-6.4zM306.5,151.2l3.2,7.2h-6.4zM259.2,132.9l3.2,7.2h-6.4zM223.4,129.5l3.2,7.2h-6.4zM272.6,136.6l3.2,7.2h-6.4zM260.6,134.4l3.2,7.2h-6.4zM220.4,128.9l3.2,7.2h-6.4zM254.2,132.7l3.2,7.2h-6.4zM205,127.6l3.2,7.2h-6.4zM301.7,149.5l3.2,7.2h-6.4zM200.3,127.8l3.2,7.2h-6.4zM318.1,161.2l3.2,7.2h-6.4zM239.4,132l3.2,7.2h-6.4zM228.6,131l3.2,7.2h-6.4zM300.3,148.2l3.2,7.2h-6.4zM272.3,137.3l3.2,7.2h-6.4zM226.1,129.8l3.2,7.2h-6.4zM227.9,130.3l3.2,7.2h-6.4zM225.5,130.2l3.2,7.2h-6.4zM254.5,133.7l3.2,7.2h-6.4zM272.8,136.2l3.2,7.2h-6.4zM275.2,137.8l3.2,7.2h-6.4zM257.2,133.9l3.2,7.2h-6.4zM232.6,130.2l3.2,7.2h-6.4zM199.5,128.9l3.2,7.2h-6.4zM249.3,131.6l3.2,7.2h-6.4zM304,149l3.2,7.2h-6.4zM311.4,154.8l3.2,7.2h-6.4zM239.7,131.2l3.2,7.2h-6.4zM318.3,163.4l3.2,7.2h-6.4zM256.9,133.4l3.2,7.2h-6.4zM246.4,132.2l3.2,7.2h-6.4zM314.4,157l3.2,7.2h-6.4zM310.8,155.9l3.2,7.2h-6.4zM315.9,159.8l3.2,7.2h-6.4zM235.7,130l3.2,7.2h-6.4zM316.3,160.9l3.2,7.2h-6.4zM205,126.7l3.2,7.2h-6.4zM279.6,139.6l3.2,7.2h-6.4zM239.1,130.9l3.2,7.2h-6.4zM255.2,133.1l3.2,7.2h-6.4zM217.1,129.3l3.2,7.2h-6.4zM255.5,134.6l3.2,7.2h-6.4zM250.5,132.7l3.2,7.2h-6.4zM233.1,130.6l3.2,7.2h-6.4zM273.3,138.2l3.2,7.2h-6.4zM288,141.7l3.2,7.2h-6.4zM270.1,137.2l3.2,7.2h-6.4zM300.1,148.6l3.2,7.2h-6.4zM201.1,126.3l3.2,7.2h-6.4zM242.2,132.8l3.2,7.2h-6.4zM218.6,130l3.2,7.2h-6.4zM314.2,158l3.2,7.2h-6.4zM285.7,142.4l3.2,7.2h-6.4zM221.3,128.7l3.2,7.2h-6.4zM277.7,139.8l3.2,7.2h-6.4zM263.1,134.3l3.2,7.2h-6.4zM319.7,163.1l3.2,7.2h-6.4zM276.1,137.7l3.2,7.2h-6.4zM241.7,132l3.2,7.2h-6.4zM302.9,149l3.2,7.2h-6.4zM301,148.9l3.2,7.2h-6.4zM285.6,142.7l3.2,7.2h-6.4zM285.7,141.5l3.2,7.2h-6.4zM309.3,152l3.2,7.2h-6.4zM233.1,130.7l3.2,7.2h-6.4zM218,129.5l3.2,7.2h-6.4zM319,162.5l3.2,7.2h-6.4zM273.3,137.5l3.2,7.2h-6.4zM311,155.8l3.2,7.2h-6.4zM229.8,130.7l3.2,7.2h-6.4zM288.3,143.8l3.2,7.2h-6.4zM270.2,138.1l3.2,7.2h-6.4zM282.9,141.5l3.2,7.2h-6.4zM238.9,132.1l3.2,7.2h-6.4zM294.6,145.4l3.2,7.2h-6.4zM262.2,146.6l3.2,7.2h-6.4zM302.4,167l3.2,7.2h-6.4zM303.6,165.8l3.2,7.2h-6.4zM314,171.7l3.2,7.2h-6.4zM258.8,146.1l3.2,7.2h-6.4zM289.9,159.1l3.2,7.2h-6.4zM262.5,146.8l3.2,7.2h-6.4zM278.7,153.6l3.2,7.2h-6.4zM279.3,155.1l3.2,7.2h-6.4zM258.1,147.1l3.2,7.2h-6.4zM269.6,150.6l3.2,7.2h-6.4zM320.1,175l3.2,7.2h-6.4zM276.8,151.3l3.2,7.2h-6.4zM283.5,155.3l3.2,7.2h-6.4zM323.1,175.9l3.2,7.2h-6.4zM290.4,159.5l3.2,7.2h-6.4zM279.7,155.2l3.2,7.2h-6.4zM257,143.6l3.2,7.2h-6.4zM296.6,161.9l3.2,7.2h-6.4zM283.4,154.1l3.2,7.2h-6.4zM304.8,167.3l3.2,7.2h-6.4zM269.6,150.8l3.2,7.2h-6.4zM314.6,172.7l3.2,7.2h-6.4zM309.3,168l3.2,7.2h-6.4zM292.8,159.3l3.2,7.2h-6.4zM308.3,167.9l3.2,7.2h-6.4zM300,164.7l3.2,7.2h-6.4zM283.3,155.3l3.2,7.2h-6.4zM308.8,168.8l3.2,7.2h-6.4zM313.6,174l3.2,7.2h-6.4zM267.3,148.8l3.2,7.2h-6.4zM274.5,150.7l3.2,7.2h-6.4zM279.9,154.2l3.2,7.2h-6.4zM282,153.3l3.2,7.2h-6.4zM302.3,165.4l3.2,7.2h-6.4zM314.6,171.6l3.2,7.2h-6.4zM291.3,157.5l3.2,7.2h-6.4zM270.5,148.4l3.2,7.2h-6.4zM287.7,157.2l3.2,7.2h-6.4zM282.5,154.8l3.2,7.2h-6.4zM292.7,158.5l3.2,7.2h-6.4zM312.7,171.7l3.2,7.2h-6.4zM263.7,147.6l3.2,7.2h-6.4zM261.7,146.2l3.2,7.2h-6.4zM287.3,157.9l3.2,7.2h-6.4zM267.4,149.9l3.2,7.2h-6.4zM286.1,158.9l3.2,7.2h-6.4zM270.2,152.7l3.2,7.2h-6.4zM286.1,155.3l3.2,7.2h-6.4zM264.8,147.1l3.2,7.2h-6.4zM313.5,171.3l3.2,7.2h-6.4zM285.2,156.5l3.2,7.2h-6.4zM298.2,161.7l3.2,7.2h-6.4zM277.1,154l3.2,7.2h-6.4zM311.3,172.5l3.2,7.2h-6.4zM260.2,145.7l3.2,7.2h-6.4zM284.5,154.8l3.2,7.2h-6.4zM268.6,149.2l3.2,7.2h-6.4zM295.9,162l3.2,7.2h-6.4zM284.3,156.3l3.2,7.2h-6.4zM323.6,175.5l3.2,7.2h-6.4zM301.6,166.7l3.2,7.2h-6.4zM299.8,165l3.2,7.2h-6.4zM306.1,166.5l3.2,7.2h-6.4zM288,158l3.2,7.2h-6.4zM256.1,143.4l3.2,7.2h-6.4zM319.3,177.4l3.2,7.2h-6.4zM260.9,147.1l3.2,7.2h-6.4zM307.3,167.4l3.2,7.2h-6.4zM313.2,171.8l3.2,7.2h-6.4zM272.8,151.7l3.2,7.2h-6.4zM293.9,159.7l3.2,7.2h-6.4zM286.2,156.7l3.2,7.2h-6.4zM290.8,157.6l3.2,7.2h-6.4zM271.6,150.2l3.2,7.2h-6.4zM273.7,151.7l3.2,7.2h-6.4zM274.9,151.5l3.2,7.2h-6.4zM266.4,148.1l3.2,7.2h-6.4zM322,176.9l3.2,7.2h-6.4zM314.6,171.9l3.2,7.2h-6.4zM307.5,165.7l3.2,7.2h-6.4zM292.2,157.6l3.2,7.2h-6.4zM265.4,148.8l3.2,7.2h-6.4zM287.4,157.2l3.2,7.2h-6.4zM293.5,160.3l3.2,7.2h-6.4zM260.8,146.4l3.2,7.2h-6.4zM262.5,145.7l3.2,7.2h-6.4zM308.9,171.2l3.2,7.2h-6.4zM259,145.6l3.2,7.2h-6.4zM271.3,149.9l3.2,7.2h-6.4zM277.8,153l3.2,7.2h-6.4zM271.2,151.2l3.2,7.2h-6.4zM279.3,152.5l3.2,7.2h-6.4zM305.4,166.1l3.2,7.2h-6.4zM275,153.1l3.2,7.2h-6.4zM277.2,153l3.2,7.2h-6.4zM270.2,147.8l3.2,7.2h-6.4zM296.6,163.3l3.2,7.2h-6.4zM304.6,167.9l3.2,7.2h-6.4zM303.5,166.2l3.2,7.2h-6.4zM314.6,172.4l3.2,7.2h-6.4zM323,177.5l3.2,7.2h-6.4zM257.1,145.8l3.2,7.2h-6.4zM319,173.5l3.2,7.2h-6.4zM320.2,176l3.2,7.2h-6.4zM299.9,163.3l3.2,7.2h-6.4zM264,147.3l3.2,7.2h-6.4zM276.4,152.6l3.2,7.2h-6.4zM259.6,145.9l3.2,7.2h-6.4zM272.5,150.6l3.2,7.2h-6.4zM308.7,168.4l3.2,7.2h-6.4zM314.7,174.1l3.2,7.2h-6.4zM299.1,164.4l3.2,7.2h-6.4zM272.6,148.5l3.2,7.2h-6.4zM268.6,151.8l3.2,7.2h-6.4zM277.8,152.9l3.2,7.2h-6.4zM318.8,175.8l3.2,7.2h-6.4zM314.5,172.8l3.2,7.2h-6.4zM263.1,148l3.2,7.2h-6.4zM308.2,167.9l3.2,7.2h-6.4zM310,157.9l3.2,7.2h-6.4zM317.1,160.3l3.2,7.2h-6.4zM319.2,172.4l3.2,7.2h-6.4zM316.2,147.1l3.2,7.2h-6.4zM320.6,155l3.2,7.2h-6.4zM320.1,171.2l3.2,7.2h-6.4zM308.6,162.9l3.2,7.2h-6.4zM315.5,158.6l3.2,7.2h-6.4zM313.8,161.9l3.2,7.2h-6.4zM320.3,168l3.2,7.2h-6.4zM318.8,172.5l3.2,7.2h-6.4zM310.8,154.3l3.2,7.2h-6.4zM201.2,153.4l3.2,7.2h-6.4zM204.2,152.2l3.2,7.2h-6.4zM201.8,149.3l3.2,7.2h-6.4zM207.2,146l3.2,7.2h-6.4zM201.9,142.7l3.2,7.2h-6.4zM205.9,146.9l3.2,7.2h-6.4zM201.2,145.7l3.2,7.2h-6.4zM202.5,143.2l3.2,7.2h-6.4zM205.5,143.6l3.2,7.2h-6.4zM201.4,146.2l3.2,7.2h-6.4zM209.9,150.7l3.2,7.2h-6.4zM201.3,152.4l3.2,7.2h-6.4zM244.8,146.5l3.2,7.2h-6.4zM241.9,149.3l3.2,7.2h-6.4zM237.1,151.8l3.2,7.2h-6.4zM239.4,149.4l3.2,7.2h-6.4zM244.7,147.6l3.2,7.2h-6.4zM228.1,143.5l3.2,7.2h-6.4zM240.5,147.8l3.2,7.2h-6.4zM243.5,152.4l3.2,7.2h-6.4zM231.1,145.3l3.2,7.2h-6.4zM237.5,143.6l3.2,7.2h-6.4zM228,144.1l3.2,7.2h-6.4zM231.9,147.5l3.2,7.2h-6.4zM229.9,149.8l3.2,7.2h-6.4zM241.2,151.1l3.2,7.2h-6.4zM256.4,154l3.2,7.2h-6.4zM259.5,154.3l3.2,7.2h-6.4z" fill="#ff0000"/>
<path d="M198.8,157h0M204.2,142.7h0M211.3,158.8h0M227.4,161.5h0M232.8,162.4h0M237.3,159.7h0M243.5,164.2h0M247.1,164.2h0M257.8,167.7h0M225,151.5h0M238,153h0M241.5,153.5h0M202,150h0M199.5,160h0" stroke="#0000ff" stroke-width="3.7" stroke-linecap="round" fill="none"/>
</g><g>
<path d="M402,7.6h0M397.7,7.6h0M399.9,7.1h0M402.4,7.6h0M400.3,7.4h0M403.3,7.7h0M399.7,7.1h0M399,7.2h0M398.4,7.5h0M395.7,7.1h0M398.7,7.5h0M399.1,7.6h0M404.3,7.7h0M397,7.4h0M399.7,7.2h0M403.6,7.6h0M403.9,7.3h0M398.8,7.4h0M394.4,7.3h0M400.5,7.7h0M394,7.3h0M398.9,7.3h0M396.2,7.2h0M396.7,7.1h0M396.4,7.1h0M403,7.5h0M398.8,7.3h0M400.8,7.3h0M402.5,7.6h0M395.9,7.4h0M397.3,7.7h0M395.9,7.1h0M404.7,15.3h0M405.2,28.7h0M404.8,40h0M405.9,43h0M405.3,48h0M405,52.8h0M405.3,59h0M404.8,61h0M405.1,65h0M404.7,71h0M405.1,77h0M404.8,84h0M405,89h0M407.7,159h0M407.7,166h0M407.3,172h0M409,174h0M410.5,176h0M408,177.5h0M407,161h0M408.8,210h0M417.4,258.1h0M413.3,227.8h0M415,242.2h0M411.8,238.6h0M416.9,248.2h0M412.7,250.3h0M410.3,205.8h0M413.7,199.4h0M408.8,225.8h0M412.8,215.3h0M418.9,255.7h0M417.1,259h0M410.3,222.2h0M412.5,210.1h0M411.3,229.8h0M410,200h0M411.1,207.1h0M414.5,253h0M410.2,225.8h0M412.4,219.2h0M414.4,260.3h0M409,209.7h0M410.4,229h0M410.6,235.9h0M415.1,254.1h0M409.8,228.4h0M411.1,211.5h0M409.3,220.6h0M418.8,247h0M411.4,202.9h0M411.2,216h0M413,206.1h0M416.2,232.7h0M409,230.2h0M412.2,214.3h0M409.5,206h0M410.8,231.5h0M408.6,197.7h0M409.5,228.3h0M413.6,238.1h0M409.3,212.4h0M416.4,230.8h0M415,256.6h0M409.7,195.6h0M409.1,220.2h0M415.2,223.8h0M409.5,224.8h0M409.7,230h0M411.5,251.7h0M409.9,228.3h0M412.6,235.9h0M414.5,257.7h0M414.2,261.5h0M408.8,216.4h0M422.8,210h0M423.8,215.7h0M445.8,220h0M422.8,224.7h0M416.5,214.5h0M413.5,213h0M439.2,271.8h0M476.7,277.4h0M420.3,267.3h0M515,281.6h0M442,283.6h0M500.8,281.5h0M429.1,270.6h0M482.9,278.8h0M436.8,271.1h0M447.5,274.4h0M479.2,279.6h0M514.7,279.2h0M438.5,280.7h0M414.8,266.3h0M510.1,275.1h0M448,280.1h0M496.6,273.9h0M444.3,280.6h0M439,273.1h0M461.9,275.8h0M483.1,274.2h0M468.7,284.3h0M481.5,281.5h0M502,277h0M484.2,275.7h0M501.7,274h0M508.7,273.9h0M438.1,273.9h0M448.5,274.3h0M470.3,277.1h0M420.9,275.7h0M424.6,279.3h0M503.4,272.8h0M448.3,278.1h0M472.1,275.6h0M420.1,264.8h0M414.2,269.3h0M488,280.3h0M479.1,277.3h0M462.2,277.9h0M497.7,279.3h0M492.5,276.9h0M505.2,283.2h0M442.5,283.5h0M414.1,263.3h0M459.6,282.2h0M427.5,278.9h0M505.9,277.3h0M455.4,277h0M457.2,278.1h0M418.8,263.7h0M473.3,275.2h0M506.8,283.3h0M417.4,272.5h0M429.2,279.4h0M452.9,273.5h0M474.1,275.2h0M464.1,272.6h0M504.7,282.9h0M482.8,272.2h0M498.2,277.4h0M453.2,283.1h0M439.9,282.5h0M418.4,266.1h0M464.7,279.8h0M486.7,280.5h0M508.4,281.6h0M432.1,280h0M512.6,273.1h0M432.5,270.9h0M414.6,262.6h0M459.9,281.6h0M474.5,281.7h0M467,274.9h0M455.9,272.7h0M506.3,282.2h0M433.4,283.1h0M448.5,283.1h0M443.2,282.3h0M462.2,281.3h0M509.7,274.2h0M448.8,277.1h0M420,276.6h0M498.2,283.5h0M450.2,281.1h0M433.4,280.4h0M434.5,271.3h0M436.6,275.1h0M436.5,271.4h0M506.2,278h0M511.7,275.2h0M506.5,277.8h0M419.4,276h0M500.5,272.1h0M455.6,272.9h0M507.5,280.5h0M491.8,274.5h0M482.2,281.6h0M416.5,270.5h0M439.6,276.9h0M448.6,278.9h0M444.5,282.1h0M440.8,275h0M440.9,272.1h0M503.8,278.6h0M442.5,275.3h0M505.7,274h0M433.5,280.5h0M416.2,262.3h0M440.7,278.6h0M492.6,280.8h0M487.9,284.4h0M454.3,284h0M498.4,280.9h0M497.7,274.8h0M422.8,275.6h0M495.6,275.7h0M455.8,282.7h0M428.9,277.3h0M463.4,276.1h0M503.6,275.6h0M470.2,277.7h0M476.3,283.9h0M415.6,267h0M456.8,273.2h0M435.8,279h0M437.8,275.1h0M496.5,283.3h0M452.1,275.4h0M489.7,274.6h0M428.5,272.4h0M459,273h0M431.9,271.9h0M508.5,276.7h0M429.1,277.4h0M450.2,272.7h0M429.4,276.6h0M450.3,277.2h0M488.6,284.2h0M435.8,282.4h0M463.5,276.2h0M494.7,275.2h0M428.3,268.8h0M412.7,264.4h0M478.1,276.2h0M452.6,275.4h0M459.1,280.5h0M444.4,278.3h0M422.5,270h0M429,274.4h0M509.8,274h0M498.1,282.2h0M496.8,284.4h0M435.1,279.9h0M483.2,271.8h0M433.7,276.8h0M441.6,274.3h0M412.1,253.7h0M443,281.5h0M499,275.1h0M494.9,273.2h0M459.3,279h0M495.4,278.2h0M437,275.6h0M457.6,274.6h0M503.8,274.3h0M418.3,268.9h0M458.6,283.9h0M441.7,283.7h0M486.2,281.8h0M429.9,270.9h0M439.6,274.7h0M481.7,276.4h0M419.2,274h0M498.7,279.5h0M443.1,277.4h0M414.7,262.7h0M493.3,272h0M444.6,274.9h0M510.9,273.4h0M460.2,272.2h0M468.8,277.3h0M472.3,282.2h0M452.7,277.7h0M494.8,277.3h0M447.9,271.4h0M419.4,274.6h0M448.1,271.3h0M460.7,279.4h0M498.7,281.6h0M496.2,283.6h0M474.2,272.4h0M475.3,281.4h0M433.7,272.8h0M439.3,271.6h0M456.7,283.1h0M488.6,275h0M482.4,284.5h0M450.5,277.8h0M508.4,283.4h0M456.9,279.9h0M477.6,278.7h0M444.9,277.6h0M468.9,284.1h0M445.1,280.6h0M440.5,279.1h0M440.4,278.9h0M483.9,281.6h0M512.5,283.6h0M442.4,274.3h0M480.6,280.6h0M441.2,274.4h0M451.1,273.7h0M507.7,282.6h0M482.7,281.6h0M471.2,273h0M478.6,273.2h0M447.2,280.3h0M468.7,279.9h0M466.8,281.3h0M433.2,275.2h0M423,276.6h0M420.6,268.9h0M427.8,278h0M502.3,277.8h0M460.7,280.3h0M466,274.5h0M449.4,282.3h0M430.6,273.3h0M461.9,272.5h0M434.5,274.1h0M452.5,280.6h0M487.4,280.4h0M434.6,277.6h0M456.3,283.3h0M515.9,279.4h0M449.6,282.5h0M426.7,278.8h0M418.6,269.2h0M479.8,273.5h0M438.9,273.2h0M490.6,283.8h0M432,280.2h0M503.7,274.9h0M417.7,272.5h0M428.3,273.5h0M456.7,272.2h0M500.2,280.9h0M440,277.2h0M454.2,274h0M431.5,271.4h0M473.7,279.5h0M514,280.1h0M493.1,272.1h0M506,271.8h0M458.2,274.4h0M499.8,280.7h0M459.2,272.6h0M494.2,280.6h0M493.4,283.1h0M452.9,276.8h0M443.7,283.7h0M472.2,276.6h0M481.5,282.4h0M418.5,275.7h0M468.9,284.1h0M432.7,276.5h0M451,275.3h0M425.3,274.1h0M456,281.9h0M507.8,272.5h0M513.7,281.3h0M413.6,260.1h0M507,280.1h0M442.6,273.3h0M469.9,276.9h0M486.7,277.8h0M498.3,277.4h0M489.6,284.5h0M462.3,272.8h0M462.9,275.6h0M467.6,272.5h0M419.1,273.1h0M428.7,270.5h0M514.8,282.1h0M441.5,280.5h0M475.5,275.4h0M438.2,272.8h0M459.1,278.1h0M449.9,278.2h0M414.5,271.1h0M514.1,280.8h0M448.4,271.3h0M444,282.7h0M503.6,279.4h0M480.1,280.7h0M424.5,277.7h0M492.7,277.6h0M481.6,275.1h0M472,275.8h0M431.6,280.3h0M457.6,273.6h0M434.8,273.3h0M499.1,275h0M422.5,277.6h0M497.1,281.7h0M413.4,261.2h0M485.2,273.9h0M487.1,276.8h0M449.4,272.1h0M439.5,277.8h0M422.9,272.1h0M484.1,277.9h0M450.9,283.6h0M478.6,284h0M491.8,276.6h0M502.8,276h0M492.1,280.9h0M511.2,277h0M469.4,279.6h0M500.8,276.4h0M470,276.6h0M494.7,271.7h0M432,270.3h0M441.2,278.1h0M489.2,274h0M447.4,280h0M467.5,278.4h0M453.8,280.4h0M412.2,253.6h0M448.2,272.2h0M477.7,283.2h0M430,277.3h0M432,281.4h0M492.6,278.2h0M427.2,274.7h0M483.4,273.7h0M457.4,281.7h0M415,265.1h0M467.2,271.7h0M437.4,282.9h0M467.4,275.6h0M436,279.9h0M431.1,271.5h0M472.2,281h0M449.3,280.8h0M413.5,258h0M492.8,280.5h0M447.6,271.9h0M439.1,274.5h0M508.6,280.6h0M494.5,280.5h0M515.3,282.7h0M429.6,273h0M447.7,278.1h0M502.3,282.5h0M435,275.4h0M436,277.6h0M434.2,275.2h0M480.7,284h0M494.9,272.4h0M443,273.6h0M443.8,272.2h0M512.8,275.4h0M454.7,279.9h0M430.7,270.9h0M510.2,275.4h0M508.8,280.3h0M419.8,271h0M517.4,276.9h0M500.1,276.2h0M454.8,278h0M436.7,278.4h0M513.2,272.6h0M476.2,275.4h0M445.5,275.6h0M507.1,283.6h0M514.9,282.4h0M415.9,274h0M454.1,274.7h0M436.7,271.3h0M492.6,282.8h0M494.1,281.8h0M486.8,284h0M496.2,280.1h0M484.3,283.7h0M464.2,279.6h0M426.6,275.7h0M514.5,284.1h0M513.4,280.2h0M496.7,274h0M473,276.6h0M514.3,278.8h0M497.1,278.3h0M445.5,271h0M425.9,268.6h0M490.2,282.3h0M505.6,284.1h0M487.6,272.1h0M492.3,272.7h0M485.2,275.1h0M507.6,272.5h0M450.2,281.9h0M451.4,282.8h0M507.3,279h0M515.1,283.2h0M459.7,276.7h0M450.4,274.9h0M439.2,283.3h0M505.6,277.6h0M445.7,273.7h0M422,274.9h0M463.5,273.5h0M473.4,278.6h0M477.7,272.5h0M450.9,281.8h0M468.3,282.9h0M437,275h0M458.9,282.2h0M478.7,277.3h0M461.9,272h0M516.5,272.3h0M480,276.1h0M509.7,281.6h0M463.6,277.2h0M445.6,276.3h0M473.1,272.6h0M460.2,279.3h0M469.5,284.6h0M414.1,270.1h0M504.6,273.3h0M491.6,281.2h0M476.5,282.6h0M468.4,277.8h0M483.1,283h0M509.7,276.9h0M517.4,283.4h0M488.4,274h0M516.8,281.5h0M445.8,272.3h0M485.5,283.2h0M475.6,280.7h0M496.1,283.2h0M488,279.4h0M427.9,278.3h0M496.1,272.3h0M513.8,284.1h0M505,276.4h0M452.5,283.8h0M487.4,277.6h0M434,276.4h0M419.5,264.8h0M501.2,275.1h0M516.8,282.3h0M462.6,272.2h0M507.2,276.3h0M422.8,273.1h0M469.9,277.6h0M441.6,280.9h0M443.2,280.6h0M513.5,282.4h0M433,270.3h0M424.7,280.2h0M452.8,277h0M481,273.3h0M508.6,284.4h0M496.3,281.7h0M475.9,273.9h0M423.9,273.3h0M510.2,279.3h0M479.1,274.6h0M449.8,282.7h0M484.9,284.3h0M509.8,278.3h0M470,282.7h0M468.1,278.9h0M480.5,283.4h0M441.6,276.7h0M493.3,276h0M413.8,257.6h0M453.1,276h0M515.8,273.7h0M449.3,280.8h0M465.1,278.1h0M425.3,272.9h0M500.7,282.3h0M476.7,277.6h0M433.6,272.2h0M425.6,270.7h0M418.8,264.9h0M440,274.6h0M481.7,275.8h0M493.2,281.1h0M457.9,276.8h0M486.8,279.3h0M448.7,276h0M420.8,271h0M453.7,275.4h0M445.9,283.2h0M485.2,280.4h0M418.6,275.7h0M512.2,278.1h0M425.9,280.1h0M470.4,279h0M415.9,267.3h0M465.1,277.1h0M422.6,279.3h0M477.4,284.6h0M465.2,279.5h0M503.2,277.7h0M426.7,279.3h0M498.4,281.6h0M474.4,280h0M443.5,279.1h0M477,279.9h0M446.7,279.3h0M501.5,271.9h0M492.1,274.7h0M451.5,274.7h0M482.6,271.8h0M436.7,271.5h0M465.5,260.7h0M444.8,250.2h0M432.1,260.4h0M501.7,249.8h0M452.1,259.7h0M426.2,261.5h0M425.4,255.1h0M467.9,271.8h0M514.8,265.1h0M502,254.1h0M473.6,266.1h0M483.4,265h0M430.3,270.3h0M492.4,254.1h0M487.1,264.4h0M500.3,267.9h0M440.9,257.8h0M505.2,263.9h0M467.3,262.7h0M452.4,266h0M418.4,254.9h0M496.7,267.5h0M485.8,260.1h0M484.2,270.2h0M458.5,262.9h0M505,272.3h0M422,264.2h0M495.4,270.5h0M468,268.3h0M484.8,266.3h0M440.1,263.5h0M506,256.2h0M467.9,260.5h0M509.4,260.6h0M476.8,259.1h0M423.1,258.7h0M438.9,264h0M420.1,261.4h0M466,257.8h0M515.3,250.7h0M477.2,257.9h0M452.6,270.6h0M443.8,260.6h0M470.9,271.1h0M434.1,260h0M511.2,266h0M466.2,255h0M489.8,261.5h0M468.8,257.7h0M445.7,271.2h0M497.3,261.3h0M421.6,247h0M460.3,265.8h0M419.4,262.9h0M496.9,260.7h0M471.7,264.4h0M448.9,258h0M515.2,271.4h0M439.2,258h0M484.5,258.7h0M425.5,262.8h0M461.1,272.3h0M471.4,270.4h0M464.2,259.1h0M420.7,246.5h0M490.6,267.3h0M421.1,254.7h0M456.9,248.1h0M461.1,262.8h0M447.1,270h0M454.6,269.3h0M464.9,269.1h0M488.2,256.4h0M483.1,268.6h0M514.9,271h0M476.5,256.4h0M444,266.1h0M438.6,271.4h0M513.5,266.7h0M499,272.5h0M507,265.2h0M499.5,268.3h0M435.9,264.6h0M454.7,267.6h0M429.9,269.8h0M413.1,254h0M432.8,255.6h0M481.8,263.8h0M418.8,260h0M512.3,255h0M506.6,267.4h0M480.2,269.1h0M479.4,264.4h0M473.5,271.9h0M435.7,267.5h0M466.2,268.2h0M451,264.6h0M471,267.4h0M447.9,263h0M477.6,259.9h0M478,271h0M448.8,261.7h0M486.9,254.5h0M488.9,263.1h0M476,268.8h0M472.2,267.3h0M446.5,268.9h0M512.8,251.3h0M443.6,264h0M418.2,248.8h0M439.5,255.7h0M435.9,263.6h0M484.5,263.1h0M507.5,260h0M462.1,266.9h0M453.2,265.5h0M499,272.2h0M443.3,260.1h0M422.6,253h0M448.6,254.9h0M436.3,257.9h0M502.4,267.9h0M471.1,258.9h0M511.3,263.6h0M506.2,255.2h0M514.4,269.8h0M459.6,262.7h0M476.1,271.2h0M472.2,254h0M468.6,270.1h0M443.8,253.7h0M455.7,271.3h0M441.3,262.7h0M428.5,262.3h0M462.5,261.7h0M440.5,269.1h0M460.6,270.1h0M470.6,266.8h0M501.6,270.1h0M467.4,268.7h0M425.7,267.1h0M470.6,264.6h0M476.9,261.3h0M419.1,243.2h0M438.7,269.3h0M495.6,271.5h0M479.3,268.2h0M513.7,270.8h0M463.3,270.9h0M424.7,256.4h0M494.9,270.5h0M516.8,270.6h0M442.5,268.3h0M438.1,262.1h0M512.8,262h0M425.1,264.7h0M424.9,249.4h0M475.5,260.5h0M492.7,259.6h0M514.1,270.1h0M449.9,265h0M476.1,265h0M437.6,267.1h0M482.8,271.6h0M499.1,271.4h0M456.2,255.7h0M430.7,262.4h0M433.2,269.7h0M476.2,254.9h0M454.7,253.9h0M445.6,260.7h0M503.5,270.2h0M488.8,268.6h0M453.2,270.3h0M506.6,268.5h0M453.5,256.5h0M454.4,263.3h0M473.6,258.6h0M458.8,255.4h0M435.4,247.6h0M504.3,270.4h0M420.6,252.3h0M455.1,268.5h0M501.1,263.1h0M433.3,262.1h0M474.9,272h0M466.7,263.1h0M430.9,252.8h0M451,263.4h0M444.7,265.5h0M515.3,267h0M460.7,269h0M454.3,268.3h0M513.4,253.2h0M426.4,255.6h0M506.2,261.6h0M511.1,268.8h0M508.3,258.7h0M483.5,265.7h0M488.1,252.7h0M429.9,269.8h0M478.8,271.7h0M506.7,256.6h0M517.1,270.8h0M456.7,271.6h0M485.8,271.1h0M422.8,264.6h0M428.2,253h0M509,260.8h0M485.5,266.2h0M432.6,268.4h0M419.7,264h0M441.1,263.1h0M418.5,255.5h0M464.1,268.3h0M419.4,259h0M501.7,259.9h0M486.6,268.3h0M429.2,256.4h0M420.1,258.5h0M449.3,269.5h0M416.4,258.4h0M472,265h0M497.7,262.2h0M513.5,269.5h0M443.3,266.8h0M426.3,265.1h0M464.3,266.9h0M442.1,258h0M488.6,253.9h0M468.9,263.4h0M474.6,253.8h0M446,255.9h0M465,259.1h0M494.5,268.5h0M474.2,265.8h0M428.5,264.2h0M512.6,267.8h0M424.9,257.2h0M461.3,262.8h0M424.6,260.5h0M458.8,263.5h0M461.5,264h0M516.3,271.1h0M416.7,257.8h0M423.7,267.7h0M490.7,257.1h0M451.5,248.7h0M419.3,259.2h0M467.2,269.8h0M446.9,260.1h0M483.6,258.4h0M485.4,267.8h0M425.5,268.6h0M481.9,258.3h0M485.8,263h0M454.5,271.7h0M458.8,271h0M442.4,258.4h0M473.4,255.1h0M502.6,260.3h0M510.7,270.5h0M489.9,262.4h0M469.6,271h0M464.2,254.6h0M487,253.5h0M494,271.7h0M453.7,256.5h0M487.8,265.2h0M459.4,266.8h0M450.2,267h0M461.1,263.2h0M427.4,267.1h0M478.2,263.6h0M463.2,264.6h0M448.7,247.4h0M442.7,263.6h0M442.8,262.2h0M443.5,265.6h0M416.2,257.6h0M459.3,262.7h0M493.2,271.9h0M445.3,268.6h0M460.1,254.5h0M510.1,260.3h0M510.6,265h0M476.8,270.8h0M488,268.9h0M470,269.4h0M467,245.7h0M504.9,243.8h0M493.3,247.6h0M466.2,243.7h0M446.2,244.8h0M484.4,242.8h0M487.8,249.6h0M436.5,233.4h0M428.1,245.6h0M471.5,244.8h0M504.3,236.9h0M474.4,244.9h0M460,231.1h0M425.5,240.7h0M493,241.2h0M423.9,233.9h0M491.2,248.6h0M506.9,249h0M494.8,243.7h0M421.3,243.9h0M480.9,239.4h0M449.8,238.8h0M547.7,268.9h0M572.1,261.8h0M569,276.8h0M572.3,259.3h0M577.3,263h0M564.7,274.3h0M596.7,249.9h0M538.2,263.5h0M577.3,267.3h0M540.6,271.7h0M530,259.5h0M558.8,254.2h0M534.5,254.7h0M569.1,265.7h0M526.1,279.4h0M557.1,277.9h0M567.9,274.3h0M590.8,260.3h0M521.5,258h0M571.7,274.6h0M547.3,263h0M588.5,267.7h0M581.8,254.3h0M593.2,260.4h0M582.8,277.6h0M574.2,257.2h0M545.2,258.3h0M545.4,258.7h0M543.8,266.2h0M567,277.5h0M524.3,271.8h0M551.9,263.9h0M593.9,251.5h0M527.7,262.1h0M526.9,279.4h0M525.5,257h0M573.9,266.2h0M563.5,264.1h0M525.9,268.3h0M589.7,277.2h0M574,278.3h0M560,276.4h0M523.5,279.5h0M551.5,254.9h0M529.1,269.3h0M541.9,271.3h0M535,270.5h0M595.4,272.7h0M583.6,258.1h0M554.1,262.5h0M561.4,254.4h0M521.8,260.7h0M582.8,262h0M594.7,275.2h0M566.2,260.6h0M523.4,266.7h0M582.5,261.5h0M547.9,259.1h0M590.2,271.8h0M537.4,259h0M577.6,268.4h0M596.3,249.8h0M564.8,270.6h0M524.6,280.9h0M548.8,269.5h0M524.4,275.1h0M586.3,259h0M546.1,278.3h0M591.6,253.2h0M578.2,261.5h0M571.9,273.1h0M561.9,281h0M543.1,276.2h0M526.4,261.6h0M552.7,272.6h0M579.7,262.6h0M571.1,256h0M532.3,269.1h0M523.2,261.4h0M577.2,279.2h0M544.8,279.3h0M582.5,263.3h0M537.2,262.3h0M591.6,253.9h0M548.3,280.6h0M546.9,274.1h0M573.7,271.3h0M584.9,272h0M588.5,253.4h0M560.6,280.2h0M580.2,256.7h0M528.3,261.5h0M524.9,272.6h0M540.5,277h0M568.6,254h0M557.6,255.7h0M538.7,277.7h0M540,259.1h0M543.5,271.8h0M586.8,262.6h0M549.1,257.7h0M528.9,275.8h0M566.6,267.4h0M571.9,258.4h0M572,275.7h0M575,273.8h0M525.2,273.2h0M548.1,267.6h0M526.9,264.1h0M547.8,254.5h0M555.7,258.8h0M581.7,263.4h0M570.3,278.2h0M589.8,252h0M590.7,275.6h0M534.7,272.7h0M531.5,274.3h0M525.3,265.4h0M586.9,269.9h0M583.9,256.2h0M563.2,257.7h0M537.7,264.7h0M568.8,280.5h0M596,269.3h0M558.7,259.9h0M555.6,277.8h0M596.2,252.8h0M556.7,272.5h0M518,272.7h0M595.4,256.1h0M529.3,263.7h0M524.4,267.9h0M593.3,276.4h0M557.4,255.1h0M525.4,269.1h0M581.2,257h0M560.1,265.6h0M560.6,263h0M595.3,258.7h0M535.4,274.9h0M556.5,263.2h0M580.7,272.4h0M532.7,278.8h0M578,279.2h0M518.4,269.3h0M581.6,253.2h0M538.8,271.7h0M526.2,277.6h0M533.2,259.8h0M574,261.4h0M579.1,274.5h0M594.5,262.4h0M538.7,259.5h0M537.3,280.7h0M577.9,276.5h0M596.3,253.5h0M544.2,255.1h0M564.6,266.2h0M540.1,256.9h0M566.3,273h0M542.3,273.1h0M543.7,255.9h0M563.5,264h0M576.7,278.4h0M565.5,259.7h0M524.1,256.1h0M556.6,280.7h0M594.9,265.6h0M583.2,253.2h0M520.3,273.8h0M556.6,273.1h0M574.1,270.4h0M555.6,270.1h0M579.4,265.3h0M548.2,257.7h0M552.5,254.4h0M527.9,278.7h0M572.9,256.3h0M521.6,272h0M575.5,260.7h0M561.6,262.6h0M586.8,263.3h0M547.6,275.6h0M544.1,259.1h0M585.7,269.5h0M536.3,254.8h0M521.9,270.7h0M549.9,262.4h0M520.8,262.8h0M520.6,275.6h0M552.7,260.5h0M532.9,263.5h0M519.5,277h0M541.9,279.1h0M581.7,264.2h0M583.4,267h0M561.8,280.3h0M591.8,269h0M568.6,257.7h0M549.9,271.9h0M578.2,258.2h0M589.9,267.2h0M544.5,267.6h0M564.8,262.7h0M583.4,262.6h0M537.6,260.3h0M579.2,257.3h0M525.5,270.4h0M585.3,268.8h0M530.3,280.2h0M573.6,279.5h0M545,268.8h0M531.1,268.9h0M576,278.2h0M543.4,263.2h0M566.8,265.5h0M540.1,271.6h0M591.7,264.5h0M540.5,268.5h0M526.8,265.8h0M592.3,259.8h0M517.9,258.4h0M533.3,280.2h0M539.7,266.8h0M517.8,254.5h0M549.9,280.9h0M571.8,254h0M519.5,276.9h0M526.8,271.4h0M547.9,280.4h0M594,256.2h0M540.1,264.2h0M555.6,259.6h0M536.7,255.4h0M575.7,263.2h0M562.6,263.4h0M519.4,257.2h0M556.3,275.9h0M546.1,261.7h0M579.9,274h0M548.1,254.5h0M522.6,270.6h0M593.3,257.6h0M558.8,269.1h0M523.1,260.9h0M544.6,279.2h0M594.5,274.4h0M554.8,262.4h0M560.6,270.5h0M576.3,273.5h0M573.3,269h0M594.3,253.8h0M535.3,257.1h0M552.9,272h0M529.3,276.5h0M520.5,275.2h0M548.4,262.7h0M589.5,259.6h0M594.1,251.3h0M586.5,271.2h0M521.1,265.2h0M546.8,254.7h0M519.6,255.7h0M540,262.9h0M575.4,267.2h0M578.9,257.2h0M527.4,259.2h0M595.8,254.1h0M564.6,264.7h0M525.4,266.1h0M541.1,274.9h0M591.5,270.6h0M533.3,258h0M560.1,257.5h0M531.4,256.8h0M550.8,257.3h0M566.1,271.6h0M545.8,278.2h0M561.5,279.1h0M589.4,271.2h0M543,270.8h0M555.5,256.2h0M523.8,271.7h0M560.6,267.2h0M587,264.3h0M570.6,262.4h0M547.2,269.3h0M534.3,278.1h0M593.8,258.7h0M526.9,258.4h0M550.1,270h0M580.3,271.8h0M571.8,259.3h0M570.7,276h0M527.2,260.9h0M565.9,271h0M592,262.5h0M596.1,271.3h0M583.4,253h0M531.1,275.8h0M555.1,272.6h0M564.3,278.1h0M520.5,278.6h0M526.4,272h0M580.2,264.1h0M530.6,265.1h0M595.8,250.4h0M528.4,262.4h0M524.4,257.9h0M543.4,264.2h0M590.2,265.9h0M542.9,279.7h0M570.7,262.3h0M571.6,278.2h0M544.5,273.8h0M530,278.2h0M535.7,258h0M586.4,262.6h0M543.2,272.3h0M589.2,274.5h0M526.8,255.7h0M539.3,255.4h0M541,278.5h0M543.1,258h0M585.7,262.8h0M559.6,269.3h0M545,255.9h0M548.9,278.3h0M564.1,270.8h0M542.7,255.7h0M570.4,268h0M590.9,272.8h0M531.9,254.9h0M526.5,261.2h0M540.4,278.4h0M592.8,257.8h0M543.2,275.5h0M574.5,259.9h0M541,280.2h0M545.6,266.5h0M541.8,260.4h0M555,275.3h0M560.8,277.4h0M573.9,253.9h0M536,276.4h0M563.6,274.4h0M526.5,267.6h0M532.4,262.8h0M557.7,275.2h0M589.7,263.4h0M580.4,258.6h0M538,275.2h0M540.6,267.4h0M576.1,276.8h0M538.5,280.8h0M581.1,254.7h0M564.6,265.1h0M551.8,272.4h0M547.4,281.2h0M536.1,268.3h0M544.5,264.6h0M529.6,270.8h0M591.4,271.7h0M596,276.2h0M594.6,250.5h0M590.2,251.1h0M595.2,263h0M582.2,274.8h0M582.6,275.1h0M585.8,258.5h0M571.9,259.4h0M543.5,259.4h0M590.8,260.6h0M571.9,274.1h0M549.5,262h0M564.3,266.1h0M528.3,280.8h0M555.8,259h0M596.4,272.3h0M595.4,268.9h0M595,265.4h0M581.2,264.4h0M568.6,278.8h0M528.2,256.7h0M522.1,264.6h0M593,259.9h0M563.3,261.9h0M580.2,272h0M526.7,272.9h0M567.6,274.8h0M545.6,268.6h0M544.8,263.7h0M592.1,262.9h0M581.2,273.5h0M588.5,255.3h0M526.4,280.8h0M550.8,274.5h0M518.2,276.8h0M582.8,266.4h0M568.2,267.2h0M526.1,254.6h0M592.1,265.4h0M594.3,258.6h0M550.9,278h0M596,275.3h0M550.8,272.4h0M575.6,269.8h0M522,270.7h0M519.8,265.3h0M591.8,259.6h0M593.8,261.7h0M561.7,265.7h0M519.4,272.7h0M554.7,266.6h0M589.1,259.2h0M544.4,254.6h0M566,278.8h0M558.9,273.2h0M549.4,264.7h0M584.3,260h0M592.9,261.8h0M526.5,265.4h0M587.2,269.9h0M594.9,274.7h0M566.2,274.7h0M564.2,274.5h0M559.6,276.1h0M591,252.9h0M558.3,276.6h0M561.2,275.6h0M591,255h0M527.3,277.3h0M568.6,273.7h0M527.3,276.5h0M520.7,257.9h0M528.5,279.3h0M539.9,280.5h0M579.8,259.2h0M559.9,254.7h0M590.9,262.1h0M530.2,261h0M518.1,255.4h0M580.1,261.6h0M527.5,259.4h0M580,254.4h0M551.8,271.1h0M587.1,267.4h0M571,260.1h0M534,265.9h0M581.7,253.2h0M537.4,272.1h0M554.2,276.7h0M517.8,263.4h0M576.5,268.8h0M528.4,270.3h0M527.3,264.3h0M522.8,273.8h0M521.9,267.6h0M590.6,259.4h0M527.3,277.5h0M570.7,278.1h0M564.7,279.9h0M525.6,257.4h0M549.4,272.5h0M521.6,261.5h0M561.6,261.8h0M525.3,270.9h0M542.9,281h0M552,267h0M557.2,261.7h0M553.3,268.5h0M531.8,270.3h0M535.9,269.6h0M569.5,267.6h0M535.6,260.9h0M528.4,258.7h0M587.7,273.2h0M531.9,266.1h0M520.6,267.4h0M556.5,259.9h0M532.6,261h0M523.8,267.2h0M551,271.1h0M555.9,272.1h0M573.6,262.2h0M517.8,269.7h0M541.4,263.5h0M583.6,258.5h0M589.1,253.3h0M561.1,280.6h0M574,256.4h0M590,266.4h0M527.3,267.9h0M529.9,273.2h0M531.9,258.5h0M594.3,254.5h0M564.3,257.1h0M590.1,266.6h0M547.6,273.2h0M532.8,259.2h0M543.1,270.2h0M585.9,263.2h0M520.7,264.5h0M525.3,267.7h0M537.1,260.2h0M562.7,268.8h0M577.8,255.6h0M550.7,262.4h0M529.7,255.5h0M523.8,263.6h0M548.3,278.5h0M527.8,270.5h0M529.4,267h0M596.5,255.6h0M587.3,266.6h0M532.1,280.1h0M562.6,270h0M571.5,272h0M540.1,264h0M589.8,265.9h0M578.7,279.2h0M558.1,257.6h0M519.6,260.2h0M552.3,278.9h0M568.3,254.2h0M547,277.6h0M559.7,279.6h0M595,259.5h0M555.5,279.2h0M547.2,281.2h0M528.3,268.1h0M541.3,268.3h0M571.6,279.2h0M592.3,260.4h0M561.3,280.1h0M593.4,266.8h0M536.9,262.3h0M555.7,275.7h0M525.7,257.5h0M581.9,253.5h0M571.6,268.7h0M590.4,276h0M553.7,257.8h0M560.4,259.6h0M579.3,272h0M593.6,276.1h0M578.4,279.6h0M526.8,280.2h0M532.5,266h0M550.7,265.8h0M589.3,269.3h0M522.8,256.9h0M595.4,250.4h0M589.7,263.4h0M525.8,256.2h0M593.3,267.4h0M531.7,279.8h0M549.7,275h0M545.1,271.9h0M581.2,268.7h0M530.9,265.1h0M556.1,279.2h0M554.9,273.3h0M537.9,256.9h0M597,262.8h0M588.5,267.1h0M586.2,265.4h0M541.9,272.7h0M589.1,254.9h0M591.4,252.7h0M537.1,280.4h0M572,264.5h0M544.2,274.6h0M575.4,259.2h0M529.3,272.4h0M543.3,273.6h0M578.2,279.5h0M544.3,259.8h0M523.2,269.5h0M594.7,250.3h0M573.5,259.2h0M567,269.7h0M520,268.1h0M517.9,278.7h0M558.5,257h0M549.1,267.4h0M528,264.6h0M589.8,251.5h0M521.9,274.8h0M554.7,268.4h0M590.3,258.5h0M564.7,276.1h0M571.1,266.9h0M572,280.4h0M548.1,272.4h0M549.9,267.5h0M580.2,265.6h0M533.9,268.1h0M563,279.7h0M563.9,265.8h0M568.7,262.4h0M577.8,277.7h0M542.7,273.9h0M567.8,256.7h0M546.6,260.1h0M518.8,274.4h0M560.5,257h0M575.7,256h0M594.1,269.6h0M592.1,273.1h0M563.4,275.5h0M526.3,272.5h0M573.3,261.6h0M530.2,271.8h0M594.3,260.7h0M582.5,252.7h0M526.9,279.8h0M583.1,257.6h0M542.5,259.4h0M572.7,271.3h0M572.4,259.1h0M558.1,266.7h0M533.6,279.2h0M522.6,259.8h0M596.2,254.3h0M586.3,266.5h0M526.1,256.5h0M560.7,265.3h0M574.9,273.9h0M591.8,262.3h0M566.1,271.5h0M562.8,255.3h0M531,275.3h0M573.1,261.1h0M556.7,260.8h0M559.8,275.6h0M542.1,272.7h0M546.7,277.1h0M589.4,269h0M533,278h0M555.4,279.3h0M552.8,277.4h0M555.4,277.7h0M536.9,255.3h0M521.3,267.5h0M582.8,259.1h0M529,272.9h0M562.4,261.3h0M590.5,263.3h0M528.6,280.3h0M563,257.4h0M537.8,262.5h0M577.2,280h0M533,268h0M535.6,278.3h0M569.4,276.6h0M566.6,253.9h0M520.2,274.5h0M525.6,268.4h0M579.7,259.4h0M542.6,272.5h0M560.7,266.6h0M523.7,256.6h0M581.3,259.8h0M524.4,266.2h0M528.7,256.1h0M532,278.5h0M558.4,267.9h0M552.8,261.5h0M562,269.7h0M587.2,273.2h0M559.3,279.3h0M580.4,274.4h0M562.6,262.1h0M524.1,278.8h0M557.6,264.8h0M533.1,272h0M592.5,259.9h0M531.3,264.6h0M538.7,280.3h0M518.4,259.6h0M594.1,270.5h0M575.7,259.4h0M530.3,255.3h0M588.2,277.3h0M536.6,261.6h0M548.5,277.7h0M520.1,257.1h0M592.3,265.3h0M576.4,262h0M596.5,268.2h0M555.7,264.8h0M592.1,252.7h0M579.6,265.5h0M544.4,254.7h0M576.5,254h0M540.1,268.6h0M553.9,269.8h0M587.8,265.5h0M576,266.4h0M589.5,255.7h0M541.6,254.2h0M585.6,257.8h0M571.8,268.6h0M528.6,278.5h0M546,264.3h0M587,268.7h0M573.4,264.2h0M589.2,253.5h0M518.4,261.3h0M540.6,255.8h0M522.9,271.1h0M520.5,264.6h0M521.4,278.9h0M563.7,276.8h0M518.3,257.5h0M584.1,266.1h0M585.1,263.6h0M587,276.1h0M520.7,262.8h0M541.3,265.8h0M576.6,266.3h0M541,255.6h0M548.1,269.1h0M558.8,280.2h0M560.7,264.6h0M531,262.3h0M553.3,255.7h0M547.7,278.9h0M590.7,270.2h0M593.7,259.1h0M545.2,267.7h0M581.1,256.1h0M528.4,273.3h0M525,267.3h0M539.5,273.6h0M569.8,254.3h0M533.8,267h0M551.4,265.8h0M543.8,276.3h0M540.8,256.5h0M556.9,255.5h0M519,276.1h0M590.8,274.8h0M563.9,276.2h0M528.3,268.3h0M586.8,263.8h0M518.7,275.5h0M596.3,255h0M559,272.5h0M542.7,280.2h0M535.9,258.3h0M546.6,258.2h0M593.6,258.6h0M540.7,269.4h0M527.1,275h0M545.3,280.1h0M585.4,265.9h0M545.7,264.3h0M553.6,272.6h0M548.1,269.2h0M541.9,271.3h0M554.6,258h0M581.7,256.4h0M554.8,255.5h0M522.2,258.4h0M570.9,279.7h0M584.7,270.7h0M565.9,279.3h0M569.1,262.8h0M545.6,272.2h0M580.7,255.1h0M517.8,273.1h0M559.4,272.7h0M543.6,266h0M584.9,257.8h0M548.3,257.6h0M595.2,272.6h0M532.2,254.9h0M525.3,274.3h0M596.8,254h0M533.3,270.2h0M596.6,269.3h0M579.2,273.1h0M551.3,255.9h0M570,269h0M594.1,252.6h0M592.7,263.1h0M527.3,272.6h0M532,273.6h0M529.7,263.1h0M579.3,279.3h0M582.3,258h0M557.9,254.7h0M525.6,280.2h0M526.9,277.3h0M578.4,263h0M527.3,258.9h0M574.3,264.7h0M539,270.8h0M595.4,245.9h0M522.1,252.5h0M562.4,249.4h0M560,254.5h0M571.6,251h0M570.7,242.3h0M589.6,250.5h0M578.1,253.3h0M545.1,255.8h0M580.1,253.1h0M583.6,249.1h0M582.9,248h0M532.1,248.9h0M582,251h0M579.9,252.2h0M525.2,251.7h0M523.3,253.1h0M591.1,243.4h0M577.1,251.7h0M529.3,251.6h0M524.4,248.4h0M581.2,254.1h0M542.9,251.5h0M548.2,249.5h0M520.5,248.6h0M570.3,253.7h0M523.9,255.2h0M529.8,252.2h0M529.9,256.1h0M547.2,255.9h0M519.6,247.7h0M565.1,253.7h0M540.4,252.7h0M551.3,250.5h0M531.3,250.6h0M568.1,246.2h0M582.2,246.9h0M564.1,255.5h0M588.8,247.3h0M565.4,252.8h0M524.5,255.3h0M589.6,249.1h0M549.1,246h0M556.1,253.5h0M549.4,251.9h0M566.4,248.8h0M520.8,248.7h0M574.1,244.4h0M545.5,255.2h0M595.1,249.2h0M584.7,243.8h0M575.5,252.8h0M558.2,251h0M539.3,250.9h0M595.7,246.1h0M565.3,252h0M537.9,247h0M524.8,252.1h0M566.5,242.5h0M531.3,244.5h0M568.8,255.2h0M543.1,255.1h0M587.4,247.6h0M588.3,253.2h0M552.4,246.9h0M528.7,253.4h0M566.6,246.2h0M534.9,254.4h0M520.9,251h0M568.8,255.3h0M527.8,252.2h0M567.5,255.3h0M587.7,248.7h0M566.7,249.7h0M547.5,250.7h0M548.7,248.9h0M558.4,255.8h0M547.5,255.7h0M588.4,252.9h0M552.7,248.9h0M550.7,256h0M533.7,252.7h0M537.6,247.4h0M534.9,244.5h0M571.9,253.6h0M551,250.9h0M530.5,245.8h0M528.8,249.7h0M557.9,247.2h0M524.6,255.1h0M562.2,254h0M537.3,253.6h0M578.5,250.2h0M529.1,250.1h0M530.4,256.2h0M539.1,252.9h0M556.4,254.3h0M529.4,247.5h0M526.2,251.5h0M581.6,251.8h0M570.1,253.3h0M569.2,255h0M594,240.5h0M593.8,245.5h0M554,250.5h0M581.5,244.8h0M556.7,253.5h0M532.8,253.8h0M573.5,254.6h0M566.3,255.4h0M579.6,253.1h0M553.2,246.8h0M576.8,254.2h0M570.8,252.2h0M596.1,249.4h0M566.5,251.7h0M557.4,250.2h0M550.8,248.2h0M567.2,253.7h0M534.2,250.1h0M561.3,243.8h0M551.8,233.7h0M550.7,242.6h0M567,244.3h0M545.9,233.8h0M520.4,244.1h0M545.4,243.3h0M520.8,240.4h0M566,244.6h0M574.9,238.9h0M477,230h0M461.5,239.4h0M497,238h0M505,239h0M480.5,245h0M494,245h0M464,245h0M438.5,234.4h0M460,239.6h0" stroke="#add8e6" stroke-width="3.7" stroke-linecap="round" fill="none"/>
<path d="M393.5,285.6l3.2,7.2h-6.4zM393.8,285.4l3.2,7.2h-6.4zM394.1,285.6l3.2,7.2h-6.4zM394.3,285.7l3.2,7.2h-6.4zM394.6,285.7l3.2,7.2h-6.4zM394.9,285.4l3.2,7.2h-6.4zM395.2,285.3l3.2,7.2h-6.4zM395.4,285.4l3.2,7.2h-6.4zM395.7,285.6l3.2,7.2h-6.4zM396,285.5l3.2,7.2h-6.4zM396.3,285.5l3.2,7.2h-6.4zM396.6,285.6l3.2,7.2h-6.4zM396.8,285.5l3.2,7.2h-6.4zM397.1,285.4l3.2,7.2h-6.4zM397.4,285.6l3.2,7.2h-6.4zM397.7,285.5l3.2,7.2h-6.4zM397.9,285.5l3.2,7.2h-6.4zM398.2,285.4l3.2,7.2h-6.4zM398.5,285.5l3.2,7.2h-6.4zM398.8,285.5l3.2,7.2h-6.4zM399,285.6l3.2,7.2h-6.4zM399.3,285.6l3.2,7.2h-6.4zM399.6,285.5l3.2,7.2h-6.4zM399.9,285.6l3.2,7.2h-6.4zM400.2,285.6l3.2,7.2h-6.4zM400.4,285.6l3.2,7.2h-6.4zM400.7,285.3l3.2,7.2h-6.4zM401,285.7l3.2,7.2h-6.4zM401.3,285.5l3.2,7.2h-6.4zM401.5,285.4l3.2,7.2h-6.4zM401.8,285.6l3.2,7.2h-6.4zM402.1,285.4l3.2,7.2h-6.4zM402.4,285.5l3.2,7.2h-6.4zM402.6,285.3l3.2,7.2h-6.4zM402.9,285.6l3.2,7.2h-6.4zM403.2,285.6l3.2,7.2h-6.4zM403.5,285.6l3.2,7.2h-6.4zM403.8,285.5l3.2,7.2h-6.4zM404,285.6l3.2,7.2h-6.4zM404.3,285.4l3.2,7.2h-6.4zM404.6,285.5l3.2,7.2h-6.4zM404.9,285.5l3.2,7.2h-6.4zM405.1,285.4l3.2,7.2h-6.4zM405.4,285.7l3.2,7.2h-6.4zM405.7,285.7l3.2,7.2h-6.4zM405.3,203.3l3.2,7.2h-6.4zM404.5,210.4l3.2,7.2h-6.4zM404.9,215.9l3.2,7.2h-6.4zM405.5,223l3.2,7.2h-6.4zM405.2,230l3.2,7.2h-6.4zM405.5,233.7l3.2,7.2h-6.4zM405.3,237.9l3.2,7.2h-6.4zM405.6,242.6l3.2,7.2h-6.4zM405.7,246.2l3.2,7.2h-6.4zM405.8,251.6l3.2,7.2h-6.4zM405.2,256.4l3.2,7.2h-6.4zM405,264.4l3.2,7.2h-6.4zM404.6,277.4l3.2,7.2h-6.4zM408,169.9l3.2,7.2h-6.4zM408,145.2l3.2,7.2h-6.4zM406.4,149.1l3.2,7.2h-6.4zM405.9,132.8l3.2,7.2h-6.4zM405.8,147l3.2,7.2h-6.4zM408,119.7l3.2,7.2h-6.4zM406.7,141.1l3.2,7.2h-6.4zM406.3,124l3.2,7.2h-6.4zM406.6,130.9l3.2,7.2h-6.4zM407.2,125.9l3.2,7.2h-6.4zM406.5,148.1l3.2,7.2h-6.4zM405.8,124.5l3.2,7.2h-6.4zM406.3,134.3l3.2,7.2h-6.4zM407.7,133.9l3.2,7.2h-6.4zM408.6,133.8l3.2,7.2h-6.4zM405.9,121.8l3.2,7.2h-6.4zM407.5,120.9l3.2,7.2h-6.4zM408,141.2l3.2,7.2h-6.4zM420.6,39.5l3.2,7.2h-6.4zM412.6,43.7l3.2,7.2h-6.4zM413.6,35.5l3.2,7.2h-6.4zM410.7,68.6l3.2,7.2h-6.4zM414.6,34.9l3.2,7.2h-6.4zM410.3,68.9l3.2,7.2h-6.4zM410.7,45.5l3.2,7.2h-6.4zM410.7,46.7l3.2,7.2h-6.4zM415.4,44.6l3.2,7.2h-6.4zM413.7,43.2l3.2,7.2h-6.4zM410.6,51.4l3.2,7.2h-6.4zM410.5,46.3l3.2,7.2h-6.4zM413.5,59.9l3.2,7.2h-6.4zM419.7,33l3.2,7.2h-6.4zM410.3,34.3l3.2,7.2h-6.4zM413.2,34.4l3.2,7.2h-6.4zM413.8,36.4l3.2,7.2h-6.4zM410.5,74.6l3.2,7.2h-6.4zM413.9,76.2l3.2,7.2h-6.4zM411.9,63.8l3.2,7.2h-6.4zM414,57l3.2,7.2h-6.4zM413.1,33l3.2,7.2h-6.4zM415.5,56.8l3.2,7.2h-6.4zM413.8,65.2l3.2,7.2h-6.4zM412.4,49.6l3.2,7.2h-6.4zM412.4,38.8l3.2,7.2h-6.4zM413.1,35.9l3.2,7.2h-6.4zM412.1,38.3l3.2,7.2h-6.4zM411.4,62.4l3.2,7.2h-6.4zM410.7,88.6l3.2,7.2h-6.4zM415.4,43.6l3.2,7.2h-6.4zM411.7,77.2l3.2,7.2h-6.4zM412.1,71.1l3.2,7.2h-6.4zM413.9,56.6l3.2,7.2h-6.4zM411.7,30.6l3.2,7.2h-6.4zM410.4,76.8l3.2,7.2h-6.4zM411.1,40.7l3.2,7.2h-6.4zM410.9,68.9l3.2,7.2h-6.4zM413.5,37.2l3.2,7.2h-6.4zM411.2,59.4l3.2,7.2h-6.4zM411.1,54.6l3.2,7.2h-6.4zM414.7,30.7l3.2,7.2h-6.4zM418.6,36.9l3.2,7.2h-6.4zM416.5,37.2l3.2,7.2h-6.4zM411,58l3.2,7.2h-6.4zM411.1,65.3l3.2,7.2h-6.4zM410.3,67.6l3.2,7.2h-6.4zM412.2,32.6l3.2,7.2h-6.4zM415.1,58.1l3.2,7.2h-6.4zM412,31l3.2,7.2h-6.4zM411.9,58.7l3.2,7.2h-6.4zM411.8,45.5l3.2,7.2h-6.4zM411.5,60.4l3.2,7.2h-6.4zM412,63.4l3.2,7.2h-6.4zM411.4,43.2l3.2,7.2h-6.4zM411.4,40.5l3.2,7.2h-6.4zM413.7,64.3l3.2,7.2h-6.4zM410.7,40.9l3.2,7.2h-6.4zM410.3,57.9l3.2,7.2h-6.4zM413.8,57.9l3.2,7.2h-6.4zM411.8,80l3.2,7.2h-6.4zM413.1,56l3.2,7.2h-6.4zM412.3,31.1l3.2,7.2h-6.4zM412.2,46l3.2,7.2h-6.4zM411.3,30.5l3.2,7.2h-6.4zM413.1,67.1l3.2,7.2h-6.4zM410.9,84.5l3.2,7.2h-6.4zM411.4,33.6l3.2,7.2h-6.4zM411.9,53.3l3.2,7.2h-6.4zM410.4,50.4l3.2,7.2h-6.4zM412.5,79.6l3.2,7.2h-6.4zM410.7,42.7l3.2,7.2h-6.4zM414.4,56.3l3.2,7.2h-6.4zM411.5,43.2l3.2,7.2h-6.4zM414.3,60.3l3.2,7.2h-6.4zM411.4,45.7l3.2,7.2h-6.4zM410.5,33.7l3.2,7.2h-6.4zM414,32.6l3.2,7.2h-6.4zM411.5,44.1l3.2,7.2h-6.4zM417.1,31.2l3.2,7.2h-6.4zM411.2,70.1l3.2,7.2h-6.4zM410.9,62.8l3.2,7.2h-6.4zM412.8,45.7l3.2,7.2h-6.4zM412.2,35.7l3.2,7.2h-6.4zM419.7,42.7l3.2,7.2h-6.4zM415,58.6l3.2,7.2h-6.4zM410.3,50.2l3.2,7.2h-6.4zM416.6,44.7l3.2,7.2h-6.4zM412,32l3.2,7.2h-6.4zM411.9,36.3l3.2,7.2h-6.4zM411.5,41.6l3.2,7.2h-6.4zM413.9,46.1l3.2,7.2h-6.4zM411.4,35.9l3.2,7.2h-6.4zM415.4,56.5l3.2,7.2h-6.4zM414.3,75.9l3.2,7.2h-6.4zM423,68.4l3.2,7.2h-6.4zM423,78.4l3.2,7.2h-6.4zM423,82.4l3.2,7.2h-6.4zM438,58.4l3.2,7.2h-6.4zM446,73.4l3.2,7.2h-6.4zM412,93.4l3.2,7.2h-6.4zM411.5,97.9l3.2,7.2h-6.4zM413.5,86.4l3.2,7.2h-6.4zM555.1,32.9l3.2,7.2h-6.4zM482.8,32.4l3.2,7.2h-6.4zM557.8,46.6l3.2,7.2h-6.4zM420.4,28l3.2,7.2h-6.4zM463.6,8.9l3.2,7.2h-6.4zM563.2,48.3l3.2,7.2h-6.4zM557.1,35.5l3.2,7.2h-6.4zM517.4,13.7l3.2,7.2h-6.4zM534.8,23l3.2,7.2h-6.4zM563.2,25.1l3.2,7.2h-6.4zM448.9,14.1l3.2,7.2h-6.4zM510.6,17.7l3.2,7.2h-6.4zM482.8,20.7l3.2,7.2h-6.4zM440.8,20.6l3.2,7.2h-6.4zM417.1,24.6l3.2,7.2h-6.4zM523,25.4l3.2,7.2h-6.4zM416.8,26.6l3.2,7.2h-6.4zM578.7,38.9l3.2,7.2h-6.4zM462.5,28.3l3.2,7.2h-6.4zM567.1,48l3.2,7.2h-6.4zM498.5,14.9l3.2,7.2h-6.4zM434.8,23.2l3.2,7.2h-6.4zM441.1,23.7l3.2,7.2h-6.4zM438.9,18.5l3.2,7.2h-6.4zM531.7,29.7l3.2,7.2h-6.4zM470.4,22.6l3.2,7.2h-6.4zM577.1,50.9l3.2,7.2h-6.4zM495.8,10.7l3.2,7.2h-6.4zM428.7,13.7l3.2,7.2h-6.4zM418.7,27.7l3.2,7.2h-6.4zM528.6,17.3l3.2,7.2h-6.4zM577.7,33l3.2,7.2h-6.4zM535.4,36.5l3.2,7.2h-6.4zM539.9,23.8l3.2,7.2h-6.4zM584.2,38.5l3.2,7.2h-6.4zM485.6,20.8l3.2,7.2h-6.4zM465,29.6l3.2,7.2h-6.4zM499.3,12.2l3.2,7.2h-6.4zM472.9,26.6l3.2,7.2h-6.4zM577.9,28.9l3.2,7.2h-6.4zM549.1,39l3.2,7.2h-6.4zM413.9,33.2l3.2,7.2h-6.4zM578.5,46.8l3.2,7.2h-6.4zM584.2,49.8l3.2,7.2h-6.4zM458.6,28.8l3.2,7.2h-6.4zM502.7,12.8l3.2,7.2h-6.4zM485.4,9.5l3.2,7.2h-6.4zM575.1,26.7l3.2,7.2h-6.4zM574.2,31.1l3.2,7.2h-6.4zM427.1,24.4l3.2,7.2h-6.4zM516.8,23.2l3.2,7.2h-6.4zM468.7,17.5l3.2,7.2h-6.4zM489.9,30.8l3.2,7.2h-6.4zM513.3,30.5l3.2,7.2h-6.4zM515.3,18.7l3.2,7.2h-6.4zM438.3,20.1l3.2,7.2h-6.4zM535.5,17.8l3.2,7.2h-6.4zM479.5,24.9l3.2,7.2h-6.4zM464.4,31.8l3.2,7.2h-6.4zM515.9,27.9l3.2,7.2h-6.4zM448.4,28.2l3.2,7.2h-6.4zM477,11.7l3.2,7.2h-6.4zM494.6,14.1l3.2,7.2h-6.4zM496.2,30.9l3.2,7.2h-6.4zM485.1,13.9l3.2,7.2h-6.4zM546.4,26.6l3.2,7.2h-6.4zM520.7,30l3.2,7.2h-6.4zM460.9,13.4l3.2,7.2h-6.4zM433.9,23.9l3.2,7.2h-6.4zM426.4,30.2l3.2,7.2h-6.4zM425.4,28.6l3.2,7.2h-6.4zM556,40.4l3.2,7.2h-6.4zM541.9,30.7l3.2,7.2h-6.4zM413.6,34.5l3.2,7.2h-6.4zM535.3,23.6l3.2,7.2h-6.4zM464.7,10.4l3.2,7.2h-6.4zM419.2,17.5l3.2,7.2h-6.4zM423.2,11.5l3.2,7.2h-6.4zM469.5,20.7l3.2,7.2h-6.4zM543.3,21.5l3.2,7.2h-6.4zM582,53.7l3.2,7.2h-6.4zM496.8,12.2l3.2,7.2h-6.4zM516,11.8l3.2,7.2h-6.4zM436.7,22.6l3.2,7.2h-6.4zM477.4,30.8l3.2,7.2h-6.4zM525,28.9l3.2,7.2h-6.4zM568.3,39.3l3.2,7.2h-6.4zM487.4,24.5l3.2,7.2h-6.4zM432.4,12.8l3.2,7.2h-6.4zM431.7,26.7l3.2,7.2h-6.4zM526.9,19.7l3.2,7.2h-6.4zM574.1,30.6l3.2,7.2h-6.4zM450.5,15.8l3.2,7.2h-6.4zM556,36.6l3.2,7.2h-6.4zM556.7,40l3.2,7.2h-6.4zM549.5,31.5l3.2,7.2h-6.4zM507,24.4l3.2,7.2h-6.4zM502.4,18.1l3.2,7.2h-6.4zM535.3,34.3l3.2,7.2h-6.4zM532.9,18.1l3.2,7.2h-6.4zM484.5,18.9l3.2,7.2h-6.4zM465.8,9.7l3.2,7.2h-6.4zM419.3,21l3.2,7.2h-6.4zM489.9,22.5l3.2,7.2h-6.4zM421,32l3.2,7.2h-6.4zM566.3,28.7l3.2,7.2h-6.4zM495.5,26.6l3.2,7.2h-6.4zM432.6,14l3.2,7.2h-6.4zM455.5,21.1l3.2,7.2h-6.4zM548.6,37.3l3.2,7.2h-6.4zM478.5,9.2l3.2,7.2h-6.4zM431.6,17.2l3.2,7.2h-6.4zM430.4,15.6l3.2,7.2h-6.4zM558,34.3l3.2,7.2h-6.4zM468.2,18.3l3.2,7.2h-6.4zM566.9,53.5l3.2,7.2h-6.4zM540.4,19.9l3.2,7.2h-6.4zM562.8,47.7l3.2,7.2h-6.4zM495.2,13.4l3.2,7.2h-6.4zM537.2,34.5l3.2,7.2h-6.4zM456.1,11.9l3.2,7.2h-6.4zM537.2,18.8l3.2,7.2h-6.4zM435.8,21.9l3.2,7.2h-6.4zM518.1,24.6l3.2,7.2h-6.4zM499.5,29.5l3.2,7.2h-6.4zM498.9,30.5l3.2,7.2h-6.4zM493.7,20.6l3.2,7.2h-6.4zM495,9.9l3.2,7.2h-6.4zM490.3,14.7l3.2,7.2h-6.4zM488.4,10.3l3.2,7.2h-6.4zM488.2,18.1l3.2,7.2h-6.4zM561.4,31.3l3.2,7.2h-6.4zM548.7,32.5l3.2,7.2h-6.4zM523.4,30.5l3.2,7.2h-6.4zM574.1,30.1l3.2,7.2h-6.4zM464.8,9l3.2,7.2h-6.4zM519.8,16.3l3.2,7.2h-6.4zM466.9,30.2l3.2,7.2h-6.4zM486.6,18.7l3.2,7.2h-6.4zM463.3,27.3l3.2,7.2h-6.4zM506.8,21.5l3.2,7.2h-6.4zM570.5,29.7l3.2,7.2h-6.4zM417,32.5l3.2,7.2h-6.4zM557.4,40.9l3.2,7.2h-6.4zM560.3,36.4l3.2,7.2h-6.4zM430.6,13.3l3.2,7.2h-6.4zM543.2,21.4l3.2,7.2h-6.4zM523.2,23.2l3.2,7.2h-6.4zM582.6,51.4l3.2,7.2h-6.4zM478.4,11.5l3.2,7.2h-6.4zM512.9,25.2l3.2,7.2h-6.4zM419.8,23.1l3.2,7.2h-6.4zM439.8,15.3l3.2,7.2h-6.4zM549.8,40.8l3.2,7.2h-6.4zM432.1,16.7l3.2,7.2h-6.4zM507.1,31.9l3.2,7.2h-6.4zM576.6,51.9l3.2,7.2h-6.4zM442.1,26.1l3.2,7.2h-6.4zM536.9,18.4l3.2,7.2h-6.4zM488.8,21.3l3.2,7.2h-6.4zM447.6,11.4l3.2,7.2h-6.4zM488,9.3l3.2,7.2h-6.4zM474.6,20.9l3.2,7.2h-6.4zM462.9,20.8l3.2,7.2h-6.4zM576.4,41.4l3.2,7.2h-6.4zM483.7,25.2l3.2,7.2h-6.4zM574.9,29.9l3.2,7.2h-6.4zM564.5,49.6l3.2,7.2h-6.4zM580.4,33.6l3.2,7.2h-6.4zM577.1,37.3l3.2,7.2h-6.4zM477.6,15.4l3.2,7.2h-6.4zM557.8,38.2l3.2,7.2h-6.4zM440.5,14.8l3.2,7.2h-6.4zM519.3,30.3l3.2,7.2h-6.4zM524.6,28.4l3.2,7.2h-6.4zM469.8,29l3.2,7.2h-6.4zM525.9,27.5l3.2,7.2h-6.4zM465.2,22l3.2,7.2h-6.4zM471.6,18l3.2,7.2h-6.4zM585.3,42.3l3.2,7.2h-6.4zM448.2,17.7l3.2,7.2h-6.4zM455.2,25.2l3.2,7.2h-6.4zM452.2,25.2l3.2,7.2h-6.4zM498.2,19.5l3.2,7.2h-6.4zM519.7,33l3.2,7.2h-6.4zM521.8,19.4l3.2,7.2h-6.4zM472,11.8l3.2,7.2h-6.4zM529.2,34.3l3.2,7.2h-6.4zM424.7,16.1l3.2,7.2h-6.4zM434.3,20.8l3.2,7.2h-6.4zM566.1,28.1l3.2,7.2h-6.4zM564.7,34.8l3.2,7.2h-6.4zM511.5,24.3l3.2,7.2h-6.4zM518.6,24.6l3.2,7.2h-6.4zM470.1,12l3.2,7.2h-6.4zM497,15.7l3.2,7.2h-6.4zM413.8,35l3.2,7.2h-6.4zM451.9,31.5l3.2,7.2h-6.4zM505,16.2l3.2,7.2h-6.4zM486.3,11.3l3.2,7.2h-6.4zM514.5,18.1l3.2,7.2h-6.4zM414,31.4l3.2,7.2h-6.4zM489.8,31l3.2,7.2h-6.4zM453.7,28.1l3.2,7.2h-6.4zM493.6,17.7l3.2,7.2h-6.4zM484.9,21.2l3.2,7.2h-6.4zM472,23.1l3.2,7.2h-6.4zM551.5,41l3.2,7.2h-6.4zM490,23.1l3.2,7.2h-6.4zM440.6,20.2l3.2,7.2h-6.4zM574.4,32l3.2,7.2h-6.4zM427.2,9.5l3.2,7.2h-6.4zM459.5,17.1l3.2,7.2h-6.4zM513.4,19.7l3.2,7.2h-6.4zM573.6,33.2l3.2,7.2h-6.4zM458.4,21.1l3.2,7.2h-6.4zM414.3,32.8l3.2,7.2h-6.4zM471.6,25.7l3.2,7.2h-6.4zM507.4,29.6l3.2,7.2h-6.4zM450.5,30.8l3.2,7.2h-6.4zM518.9,12l3.2,7.2h-6.4zM515.8,20.6l3.2,7.2h-6.4zM555.5,39.8l3.2,7.2h-6.4zM542.1,39.5l3.2,7.2h-6.4zM417.1,23l3.2,7.2h-6.4zM525.2,33.2l3.2,7.2h-6.4zM471.7,27.2l3.2,7.2h-6.4zM562,36.3l3.2,7.2h-6.4zM540.9,34l3.2,7.2h-6.4zM534.8,34.4l3.2,7.2h-6.4zM424.1,28.5l3.2,7.2h-6.4zM423.1,23.7l3.2,7.2h-6.4zM479,21.3l3.2,7.2h-6.4zM567.2,32.4l3.2,7.2h-6.4zM505.4,27.5l3.2,7.2h-6.4zM511.2,23.3l3.2,7.2h-6.4zM525.3,34.4l3.2,7.2h-6.4zM428.4,19l3.2,7.2h-6.4zM562.1,23.6l3.2,7.2h-6.4zM555.4,29.9l3.2,7.2h-6.4zM445.9,26.3l3.2,7.2h-6.4zM538.7,33.1l3.2,7.2h-6.4zM550.1,36.9l3.2,7.2h-6.4zM425.5,11.8l3.2,7.2h-6.4zM531.8,23.5l3.2,7.2h-6.4zM474.4,30.5l3.2,7.2h-6.4zM457.9,18l3.2,7.2h-6.4zM522.9,19.4l3.2,7.2h-6.4zM560.2,33.2l3.2,7.2h-6.4zM588.4,40.8l3.2,7.2h-6.4zM484.5,19l3.2,7.2h-6.4zM579.9,50.5l3.2,7.2h-6.4zM524.3,16.6l3.2,7.2h-6.4zM442.2,15.6l3.2,7.2h-6.4zM545.5,26.2l3.2,7.2h-6.4zM478,18.8l3.2,7.2h-6.4zM416.2,31.8l3.2,7.2h-6.4zM468.9,31.7l3.2,7.2h-6.4zM579.5,45.7l3.2,7.2h-6.4zM522.3,28.8l3.2,7.2h-6.4zM424.8,31.8l3.2,7.2h-6.4zM523.2,26.1l3.2,7.2h-6.4zM541.4,30.6l3.2,7.2h-6.4zM564.3,38.1l3.2,7.2h-6.4zM472.4,12.5l3.2,7.2h-6.4zM467.6,17.5l3.2,7.2h-6.4zM472.5,21.6l3.2,7.2h-6.4zM525,22.4l3.2,7.2h-6.4zM498.8,25.9l3.2,7.2h-6.4zM425.4,25.2l3.2,7.2h-6.4zM556,40.2l3.2,7.2h-6.4zM475.4,10.2l3.2,7.2h-6.4zM480,28.6l3.2,7.2h-6.4zM453.2,24.1l3.2,7.2h-6.4zM477.6,30.4l3.2,7.2h-6.4zM416.1,28.9l3.2,7.2h-6.4zM466.1,25.9l3.2,7.2h-6.4zM511.1,20.2l3.2,7.2h-6.4zM531.7,29.5l3.2,7.2h-6.4zM471,22.5l3.2,7.2h-6.4zM491.9,24.1l3.2,7.2h-6.4zM537.2,19.8l3.2,7.2h-6.4zM463.2,22l3.2,7.2h-6.4zM573.1,39.4l3.2,7.2h-6.4zM561.4,38.4l3.2,7.2h-6.4zM565,50.5l3.2,7.2h-6.4zM473.5,17.8l3.2,7.2h-6.4zM421.6,28.5l3.2,7.2h-6.4zM507.7,30.3l3.2,7.2h-6.4zM430.7,19.3l3.2,7.2h-6.4zM566.7,29.8l3.2,7.2h-6.4zM511.7,30.5l3.2,7.2h-6.4zM555.8,26.2l3.2,7.2h-6.4zM493.6,18.3l3.2,7.2h-6.4zM492.8,11.3l3.2,7.2h-6.4zM578.6,44.5l3.2,7.2h-6.4zM571.1,46l3.2,7.2h-6.4zM425.6,17.7l3.2,7.2h-6.4zM441.8,14.8l3.2,7.2h-6.4zM553.5,39.6l3.2,7.2h-6.4zM416.9,30.3l3.2,7.2h-6.4zM419.7,13.9l3.2,7.2h-6.4zM579.1,30.2l3.2,7.2h-6.4zM525.1,31.3l3.2,7.2h-6.4zM422.8,28.8l3.2,7.2h-6.4zM477.1,28.9l3.2,7.2h-6.4zM557.1,33.7l3.2,7.2h-6.4zM524.6,23.9l3.2,7.2h-6.4zM430.1,22.6l3.2,7.2h-6.4zM525.8,17.4l3.2,7.2h-6.4zM501.1,15.8l3.2,7.2h-6.4zM485.3,23.6l3.2,7.2h-6.4zM463.1,16.5l3.2,7.2h-6.4zM418.7,28.4l3.2,7.2h-6.4zM558.4,48.2l3.2,7.2h-6.4zM498,19l3.2,7.2h-6.4zM480,23.6l3.2,7.2h-6.4zM519,14.5l3.2,7.2h-6.4zM496.2,31.2l3.2,7.2h-6.4zM470.8,23.2l3.2,7.2h-6.4zM586.9,39.5l3.2,7.2h-6.4zM506.8,17.5l3.2,7.2h-6.4zM466.2,19l3.2,7.2h-6.4zM533.1,28.4l3.2,7.2h-6.4zM430.1,25.6l3.2,7.2h-6.4zM496.9,11.7l3.2,7.2h-6.4zM482.3,31.2l3.2,7.2h-6.4zM542.8,38.1l3.2,7.2h-6.4zM468.1,11.1l3.2,7.2h-6.4zM423.3,15.4l3.2,7.2h-6.4zM576.4,27.8l3.2,7.2h-6.4zM538.6,18.5l3.2,7.2h-6.4zM414.2,34.9l3.2,7.2h-6.4zM552.1,41.2l3.2,7.2h-6.4zM462.4,11.4l3.2,7.2h-6.4zM562.6,44.4l3.2,7.2h-6.4zM460.8,25.2l3.2,7.2h-6.4zM526.8,17.1l3.2,7.2h-6.4zM529.7,22.6l3.2,7.2h-6.4zM502,28.4l3.2,7.2h-6.4zM437,14.5l3.2,7.2h-6.4zM491.1,17l3.2,7.2h-6.4zM533.3,34.2l3.2,7.2h-6.4zM563.6,41.2l3.2,7.2h-6.4zM511.4,25.7l3.2,7.2h-6.4zM465.8,25.3l3.2,7.2h-6.4zM445.7,30.5l3.2,7.2h-6.4zM553.3,38.5l3.2,7.2h-6.4zM499.2,23.8l3.2,7.2h-6.4zM496.4,25.2l3.2,7.2h-6.4zM428.2,20.7l3.2,7.2h-6.4zM488.4,30l3.2,7.2h-6.4zM428.9,28.9l3.2,7.2h-6.4zM464.4,15.4l3.2,7.2h-6.4zM441.8,27l3.2,7.2h-6.4zM543.3,23.3l3.2,7.2h-6.4zM541.7,23.5l3.2,7.2h-6.4zM556.6,22.7l3.2,7.2h-6.4zM574.4,39.5l3.2,7.2h-6.4zM575.5,42.8l3.2,7.2h-6.4zM436,26.5l3.2,7.2h-6.4zM544.8,19.2l3.2,7.2h-6.4zM440,10.8l3.2,7.2h-6.4zM488,22.2l3.2,7.2h-6.4zM520.8,32.1l3.2,7.2h-6.4zM500.4,22.5l3.2,7.2h-6.4zM540.1,38.2l3.2,7.2h-6.4zM581.6,44.3l3.2,7.2h-6.4zM483.3,11.4l3.2,7.2h-6.4zM443.4,12.3l3.2,7.2h-6.4zM498.3,23.9l3.2,7.2h-6.4zM432.4,20.8l3.2,7.2h-6.4zM573.4,54.2l3.2,7.2h-6.4zM570.6,50.9l3.2,7.2h-6.4zM500.1,21.5l3.2,7.2h-6.4zM427,31.2l3.2,7.2h-6.4zM490.8,9.7l3.2,7.2h-6.4zM571.5,48.6l3.2,7.2h-6.4zM534.2,21.6l3.2,7.2h-6.4zM425.9,22.7l3.2,7.2h-6.4zM451.9,21l3.2,7.2h-6.4zM542.2,26.1l3.2,7.2h-6.4zM563.8,48.3l3.2,7.2h-6.4zM501.5,27.3l3.2,7.2h-6.4zM476.1,26.1l3.2,7.2h-6.4zM438.4,19.8l3.2,7.2h-6.4zM427.8,21.8l3.2,7.2h-6.4zM444.9,20.2l3.2,7.2h-6.4zM575.7,57.4l3.2,7.2h-6.4zM541.3,33l3.2,7.2h-6.4zM490.5,24.7l3.2,7.2h-6.4zM510.9,19.8l3.2,7.2h-6.4zM474.9,19.8l3.2,7.2h-6.4zM415.5,31.5l3.2,7.2h-6.4zM524.6,22.3l3.2,7.2h-6.4zM546.8,35.2l3.2,7.2h-6.4zM500.4,22.6l3.2,7.2h-6.4zM431.1,9.7l3.2,7.2h-6.4zM562.9,30.7l3.2,7.2h-6.4zM547,27.8l3.2,7.2h-6.4zM553.8,42l3.2,7.2h-6.4zM425.5,13.3l3.2,7.2h-6.4zM495.2,11.9l3.2,7.2h-6.4zM415.1,28.2l3.2,7.2h-6.4zM429.5,30.3l3.2,7.2h-6.4zM565.1,24.1l3.2,7.2h-6.4zM526,29.9l3.2,7.2h-6.4zM428.8,9.7l3.2,7.2h-6.4zM453,26.5l3.2,7.2h-6.4zM435.2,11.7l3.2,7.2h-6.4zM544.2,28.6l3.2,7.2h-6.4zM510.9,13.1l3.2,7.2h-6.4zM435.5,17.3l3.2,7.2h-6.4zM507.9,19.9l3.2,7.2h-6.4zM564.7,44.5l3.2,7.2h-6.4zM545.5,33.2l3.2,7.2h-6.4zM475,22.7l3.2,7.2h-6.4zM454.1,30.1l3.2,7.2h-6.4zM484,23.6l3.2,7.2h-6.4zM547.4,35l3.2,7.2h-6.4zM438,8.7l3.2,7.2h-6.4zM465.6,21l3.2,7.2h-6.4zM470.9,14.8l3.2,7.2h-6.4zM550.6,22.7l3.2,7.2h-6.4zM448.8,19.1l3.2,7.2h-6.4zM433.3,27.9l3.2,7.2h-6.4zM524,32.7l3.2,7.2h-6.4zM465.4,20.7l3.2,7.2h-6.4zM502.7,29.4l3.2,7.2h-6.4zM488,24.3l3.2,7.2h-6.4zM588.6,42.9l3.2,7.2h-6.4zM427.9,25.2l3.2,7.2h-6.4zM462.1,23.9l3.2,7.2h-6.4zM439.6,9.5l3.2,7.2h-6.4zM583,39l3.2,7.2h-6.4zM464.3,20.6l3.2,7.2h-6.4zM461.5,22.3l3.2,7.2h-6.4zM454.3,26.8l3.2,7.2h-6.4zM577.2,53l3.2,7.2h-6.4zM586.8,36.9l3.2,7.2h-6.4zM476.4,18.7l3.2,7.2h-6.4zM426.7,21.1l3.2,7.2h-6.4zM441.6,28.6l3.2,7.2h-6.4zM443.2,13.2l3.2,7.2h-6.4zM449.6,25.3l3.2,7.2h-6.4zM506.7,17.4l3.2,7.2h-6.4zM517.2,24.1l3.2,7.2h-6.4zM574.7,29.8l3.2,7.2h-6.4zM513.2,16.7l3.2,7.2h-6.4zM444.4,30.7l3.2,7.2h-6.4zM556.5,27.1l3.2,7.2h-6.4zM560.7,27.3l3.2,7.2h-6.4zM445.4,14l3.2,7.2h-6.4zM546.6,25.1l3.2,7.2h-6.4zM575.7,47.1l3.2,7.2h-6.4zM440.7,30.1l3.2,7.2h-6.4zM487.9,29.8l3.2,7.2h-6.4zM415.1,34.1l3.2,7.2h-6.4zM459.5,29.3l3.2,7.2h-6.4zM515.9,11.9l3.2,7.2h-6.4zM485.9,20l3.2,7.2h-6.4zM581.3,49.3l3.2,7.2h-6.4zM429.4,18.2l3.2,7.2h-6.4zM495.2,15.8l3.2,7.2h-6.4zM582.7,32.8l3.2,7.2h-6.4zM486.5,20.2l3.2,7.2h-6.4zM522.9,31.3l3.2,7.2h-6.4zM548.5,32.4l3.2,7.2h-6.4zM559.9,42.5l3.2,7.2h-6.4zM469.3,10.8l3.2,7.2h-6.4zM580.7,50l3.2,7.2h-6.4zM451.8,21.1l3.2,7.2h-6.4zM491.1,16.9l3.2,7.2h-6.4zM435.9,25.6l3.2,7.2h-6.4zM461.5,9.7l3.2,7.2h-6.4zM484.6,16.8l3.2,7.2h-6.4zM572.3,31.6l3.2,7.2h-6.4zM421.3,32.1l3.2,7.2h-6.4zM502.5,16.5l3.2,7.2h-6.4zM564.3,37l3.2,7.2h-6.4zM483.8,20.7l3.2,7.2h-6.4zM525.9,16.1l3.2,7.2h-6.4zM523.3,30.8l3.2,7.2h-6.4zM532,17.3l3.2,7.2h-6.4zM538.9,25l3.2,7.2h-6.4zM508.4,28.3l3.2,7.2h-6.4zM430.6,12.1l3.2,7.2h-6.4zM452.8,32.1l3.2,7.2h-6.4zM518.4,23.9l3.2,7.2h-6.4zM552.8,43.1l3.2,7.2h-6.4zM492.4,9.6l3.2,7.2h-6.4zM541.7,22.5l3.2,7.2h-6.4zM422.4,22.1l3.2,7.2h-6.4zM578.8,30l3.2,7.2h-6.4zM511.5,29.8l3.2,7.2h-6.4zM512.4,31.7l3.2,7.2h-6.4zM580.1,30.7l3.2,7.2h-6.4zM457.2,25.7l3.2,7.2h-6.4zM444,19.8l3.2,7.2h-6.4zM527.8,18l3.2,7.2h-6.4zM480.7,29.7l3.2,7.2h-6.4zM428.2,12.5l3.2,7.2h-6.4zM424.1,25.1l3.2,7.2h-6.4zM548.3,28.3l3.2,7.2h-6.4zM526.8,35.3l3.2,7.2h-6.4zM464.3,21.1l3.2,7.2h-6.4zM513.6,16.2l3.2,7.2h-6.4zM448.1,27l3.2,7.2h-6.4zM506.3,31.7l3.2,7.2h-6.4zM474,17.4l3.2,7.2h-6.4zM544.2,35.7l3.2,7.2h-6.4zM522.5,33.8l3.2,7.2h-6.4zM539.8,27.8l3.2,7.2h-6.4zM476.5,31.4l3.2,7.2h-6.4zM510.3,26.2l3.2,7.2h-6.4zM413.8,33.5l3.2,7.2h-6.4zM504.4,30.2l3.2,7.2h-6.4zM459.4,22.7l3.2,7.2h-6.4zM536.1,33.4l3.2,7.2h-6.4zM540.5,28.5l3.2,7.2h-6.4zM450,12.9l3.2,7.2h-6.4zM520.9,15.5l3.2,7.2h-6.4zM529.2,32.5l3.2,7.2h-6.4zM452.8,23.7l3.2,7.2h-6.4zM449.6,31.4l3.2,7.2h-6.4zM537.6,37.1l3.2,7.2h-6.4zM463.6,8.9l3.2,7.2h-6.4zM538.1,36.1l3.2,7.2h-6.4zM568.7,53l3.2,7.2h-6.4zM443.2,17.1l3.2,7.2h-6.4zM588.8,41.3l3.2,7.2h-6.4zM444.2,24.6l3.2,7.2h-6.4zM550,37.6l3.2,7.2h-6.4zM554.6,45.6l3.2,7.2h-6.4zM584.1,49.5l3.2,7.2h-6.4zM473.8,20.1l3.2,7.2h-6.4zM428.4,18.6l3.2,7.2h-6.4zM478.6,17.1l3.2,7.2h-6.4zM561.9,24.4l3.2,7.2h-6.4zM489,17.7l3.2,7.2h-6.4zM474.4,25l3.2,7.2h-6.4zM519.4,31.3l3.2,7.2h-6.4zM553.6,39.5l3.2,7.2h-6.4zM577.5,56.4l3.2,7.2h-6.4zM521.9,20l3.2,7.2h-6.4zM455.4,23.3l3.2,7.2h-6.4zM529.9,20.6l3.2,7.2h-6.4zM415.5,25.6l3.2,7.2h-6.4zM530,22.1l3.2,7.2h-6.4zM524.1,26.3l3.2,7.2h-6.4zM588.8,31.1l3.2,7.2h-6.4zM417.5,21.4l3.2,7.2h-6.4zM563.4,33.6l3.2,7.2h-6.4zM488.7,29.3l3.2,7.2h-6.4zM573.2,43l3.2,7.2h-6.4zM493,18.8l3.2,7.2h-6.4zM430.5,18.6l3.2,7.2h-6.4zM415.8,27.6l3.2,7.2h-6.4zM487.9,9.6l3.2,7.2h-6.4zM515.8,19.6l3.2,7.2h-6.4zM522.4,31.9l3.2,7.2h-6.4zM578.5,38.8l3.2,7.2h-6.4zM518.1,32.6l3.2,7.2h-6.4zM463.4,12l3.2,7.2h-6.4zM455.6,29.2l3.2,7.2h-6.4zM574.9,35.2l3.2,7.2h-6.4zM519.2,22l3.2,7.2h-6.4zM565.4,51.1l3.2,7.2h-6.4zM579,35.3l3.2,7.2h-6.4zM421.8,15.9l3.2,7.2h-6.4zM513.4,27.9l3.2,7.2h-6.4zM506.9,30.3l3.2,7.2h-6.4zM479.7,21.1l3.2,7.2h-6.4zM500.3,29.2l3.2,7.2h-6.4zM518.3,21.8l3.2,7.2h-6.4zM481,31.8l3.2,7.2h-6.4zM495.2,10.4l3.2,7.2h-6.4zM577.4,57.9l3.2,7.2h-6.4zM547.3,26.9l3.2,7.2h-6.4zM533.2,19.4l3.2,7.2h-6.4zM441.5,15.7l3.2,7.2h-6.4zM457.5,20.2l3.2,7.2h-6.4zM543,31l3.2,7.2h-6.4zM491.6,29.3l3.2,7.2h-6.4zM477.8,12.5l3.2,7.2h-6.4zM570,40l3.2,7.2h-6.4zM428.4,24.7l3.2,7.2h-6.4zM425.2,27.7l3.2,7.2h-6.4zM491.4,22.9l3.2,7.2h-6.4zM553,36.1l3.2,7.2h-6.4zM587.9,40.1l3.2,7.2h-6.4zM451.9,26.5l3.2,7.2h-6.4zM441,21.1l3.2,7.2h-6.4zM454.8,18.9l3.2,7.2h-6.4zM577.3,34.3l3.2,7.2h-6.4zM524,19.1l3.2,7.2h-6.4zM489.4,30.4l3.2,7.2h-6.4zM533.2,35.4l3.2,7.2h-6.4zM554.8,43.8l3.2,7.2h-6.4zM469.9,14.9l3.2,7.2h-6.4zM437.4,10.8l3.2,7.2h-6.4zM541.7,26.6l3.2,7.2h-6.4zM448.7,14.9l3.2,7.2h-6.4zM460.9,17.3l3.2,7.2h-6.4zM515.2,32.6l3.2,7.2h-6.4zM509.4,32.7l3.2,7.2h-6.4zM554.1,34.6l3.2,7.2h-6.4zM509.3,14l3.2,7.2h-6.4zM512.6,17.9l3.2,7.2h-6.4zM413.7,33.5l3.2,7.2h-6.4zM425,20.8l3.2,7.2h-6.4zM500.5,13.1l3.2,7.2h-6.4zM580.3,41.6l3.2,7.2h-6.4zM473.5,23.6l3.2,7.2h-6.4zM432.4,18.8l3.2,7.2h-6.4zM514.1,14.4l3.2,7.2h-6.4zM436.8,11.5l3.2,7.2h-6.4zM570.2,44.4l3.2,7.2h-6.4zM571.8,44.2l3.2,7.2h-6.4zM518.2,21.5l3.2,7.2h-6.4zM472.9,20.6l3.2,7.2h-6.4zM443.9,31l3.2,7.2h-6.4zM498.4,15.1l3.2,7.2h-6.4zM569.6,52.7l3.2,7.2h-6.4zM447.2,29.3l3.2,7.2h-6.4zM577.6,43.8l3.2,7.2h-6.4zM474.1,8.7l3.2,7.2h-6.4zM533.4,28l3.2,7.2h-6.4zM577.5,47.7l3.2,7.2h-6.4zM573.3,47.9l3.2,7.2h-6.4zM540.6,38.2l3.2,7.2h-6.4zM486.3,32.7l3.2,7.2h-6.4zM520.3,19.9l3.2,7.2h-6.4zM566.1,46.2l3.2,7.2h-6.4zM459.1,19.6l3.2,7.2h-6.4zM444.4,26.4l3.2,7.2h-6.4zM547.9,34.4l3.2,7.2h-6.4zM458,11.1l3.2,7.2h-6.4zM513.2,21.1l3.2,7.2h-6.4zM459.4,30.3l3.2,7.2h-6.4zM530,24.8l3.2,7.2h-6.4zM541.9,22.5l3.2,7.2h-6.4zM553.3,23.5l3.2,7.2h-6.4zM519.6,27l3.2,7.2h-6.4zM483.9,32l3.2,7.2h-6.4zM450.2,13.3l3.2,7.2h-6.4zM560.7,32.3l3.2,7.2h-6.4zM483.2,21.3l3.2,7.2h-6.4zM475.2,11.3l3.2,7.2h-6.4zM471.5,17.5l3.2,7.2h-6.4zM474.6,9.3l3.2,7.2h-6.4zM558.6,45.6l3.2,7.2h-6.4zM441.4,25.6l3.2,7.2h-6.4zM542.1,34.7l3.2,7.2h-6.4zM562.8,33.5l3.2,7.2h-6.4zM475.6,28.4l3.2,7.2h-6.4zM547.5,28.9l3.2,7.2h-6.4zM496.3,23.9l3.2,7.2h-6.4zM438.4,10.8l3.2,7.2h-6.4zM520.4,26.2l3.2,7.2h-6.4zM549.2,21l3.2,7.2h-6.4zM556.6,22.7l3.2,7.2h-6.4zM466.5,8.5l3.2,7.2h-6.4zM445.5,23.7l3.2,7.2h-6.4zM549.8,39.8l3.2,7.2h-6.4zM572.5,54l3.2,7.2h-6.4zM453,20.8l3.2,7.2h-6.4zM446.2,24l3.2,7.2h-6.4zM458.9,30.4l3.2,7.2h-6.4zM559.6,43.2l3.2,7.2h-6.4zM584.1,37.2l3.2,7.2h-6.4zM579.4,45.4l3.2,7.2h-6.4zM567.5,45.3l3.2,7.2h-6.4zM515.4,12.3l3.2,7.2h-6.4zM578.3,47l3.2,7.2h-6.4zM450.6,19.9l3.2,7.2h-6.4zM484.1,31.5l3.2,7.2h-6.4zM470.3,8.9l3.2,7.2h-6.4zM443.8,23.8l3.2,7.2h-6.4zM433.6,28.5l3.2,7.2h-6.4zM488.4,14.6l3.2,7.2h-6.4zM525.3,31.9l3.2,7.2h-6.4zM528,18.1l3.2,7.2h-6.4zM532,24.2l3.2,7.2h-6.4zM577,55.5l3.2,7.2h-6.4zM562.1,39.9l3.2,7.2h-6.4zM561,31.8l3.2,7.2h-6.4zM530,35.7l3.2,7.2h-6.4zM437,26.6l3.2,7.2h-6.4zM521.1,16.4l3.2,7.2h-6.4zM556.7,40.1l3.2,7.2h-6.4zM453,32.1l3.2,7.2h-6.4zM542.8,35.1l3.2,7.2h-6.4zM504.5,13.9l3.2,7.2h-6.4zM464.3,27.6l3.2,7.2h-6.4zM574.5,36.1l3.2,7.2h-6.4zM564.5,26.8l3.2,7.2h-6.4zM472.9,27.3l3.2,7.2h-6.4zM542,21.9l3.2,7.2h-6.4zM561,49.6l3.2,7.2h-6.4zM566.4,41.4l3.2,7.2h-6.4zM470.9,17.7l3.2,7.2h-6.4zM569.4,55l3.2,7.2h-6.4zM471.5,20.2l3.2,7.2h-6.4zM544.1,22l3.2,7.2h-6.4zM528.2,17.4l3.2,7.2h-6.4zM471.8,21l3.2,7.2h-6.4zM581.4,53.6l3.2,7.2h-6.4zM510.7,15.4l3.2,7.2h-6.4zM501.2,16.2l3.2,7.2h-6.4zM493.4,16l3.2,7.2h-6.4zM513.4,24.3l3.2,7.2h-6.4zM496.7,10.1l3.2,7.2h-6.4zM589.5,39.5l3.2,7.2h-6.4zM493.4,20.1l3.2,7.2h-6.4zM464.3,14.8l3.2,7.2h-6.4zM435.1,30.3l3.2,7.2h-6.4zM549.7,28.6l3.2,7.2h-6.4zM575.4,27.6l3.2,7.2h-6.4zM537.2,33.7l3.2,7.2h-6.4zM575.3,48.5l3.2,7.2h-6.4zM436.8,24.2l3.2,7.2h-6.4zM493,19.2l3.2,7.2h-6.4zM548.7,34.4l3.2,7.2h-6.4zM498.8,14.3l3.2,7.2h-6.4zM576.9,43.3l3.2,7.2h-6.4zM465,18.7l3.2,7.2h-6.4zM534.9,23l3.2,7.2h-6.4zM496.9,26.6l3.2,7.2h-6.4zM532.2,27.5l3.2,7.2h-6.4zM534.4,24l3.2,7.2h-6.4zM565.8,43.8l3.2,7.2h-6.4zM424.8,17.9l3.2,7.2h-6.4zM464.1,30.8l3.2,7.2h-6.4zM529.7,29.6l3.2,7.2h-6.4zM524.6,34.7l3.2,7.2h-6.4zM507.9,15.8l3.2,7.2h-6.4zM531,27.7l3.2,7.2h-6.4zM528.1,19l3.2,7.2h-6.4zM443,16.3l3.2,7.2h-6.4zM477.7,12.9l3.2,7.2h-6.4zM531.2,34.5l3.2,7.2h-6.4zM513.3,28l3.2,7.2h-6.4zM481.5,17.9l3.2,7.2h-6.4zM530.6,19.7l3.2,7.2h-6.4zM544.4,33.6l3.2,7.2h-6.4zM475.9,31l3.2,7.2h-6.4zM561.1,42.2l3.2,7.2h-6.4zM496.7,22.9l3.2,7.2h-6.4zM528.4,35.7l3.2,7.2h-6.4zM530.7,21.8l3.2,7.2h-6.4zM568.1,42.3l3.2,7.2h-6.4zM495.5,23.9l3.2,7.2h-6.4zM500.8,19.1l3.2,7.2h-6.4zM510.8,30l3.2,7.2h-6.4zM576.3,56.3l3.2,7.2h-6.4zM535.8,17.6l3.2,7.2h-6.4zM568.8,24.9l3.2,7.2h-6.4zM573.8,38.7l3.2,7.2h-6.4zM499.3,18.7l3.2,7.2h-6.4zM553.8,40.9l3.2,7.2h-6.4zM581.5,37.2l3.2,7.2h-6.4zM513.6,24.1l3.2,7.2h-6.4zM442.3,20.7l3.2,7.2h-6.4zM467.5,13l3.2,7.2h-6.4zM419.6,25.5l3.2,7.2h-6.4zM425.8,25.6l3.2,7.2h-6.4zM531.5,31.2l3.2,7.2h-6.4zM472.3,28.8l3.2,7.2h-6.4zM576.5,48.1l3.2,7.2h-6.4zM459.7,29.7l3.2,7.2h-6.4zM504.7,17l3.2,7.2h-6.4zM470.7,16.8l3.2,7.2h-6.4zM499.7,29.5l3.2,7.2h-6.4zM454.6,20l3.2,7.2h-6.4zM435,11.8l3.2,7.2h-6.4zM496.5,18.9l3.2,7.2h-6.4zM467.1,28.6l3.2,7.2h-6.4zM416.6,19.6l3.2,7.2h-6.4zM426.7,9.8l3.2,7.2h-6.4zM474.9,14.6l3.2,7.2h-6.4zM549.8,27.3l3.2,7.2h-6.4zM434,20.1l3.2,7.2h-6.4zM585.8,44.6l3.2,7.2h-6.4zM443.2,27.4l3.2,7.2h-6.4zM429.8,14.9l3.2,7.2h-6.4zM549.6,35.9l3.2,7.2h-6.4zM506.5,19.7l3.2,7.2h-6.4zM427.3,20.8l3.2,7.2h-6.4zM493.2,13.2l3.2,7.2h-6.4zM546,24.1l3.2,7.2h-6.4zM460.3,15.7l3.2,7.2h-6.4zM514.9,22.8l3.2,7.2h-6.4zM549.3,28.7l3.2,7.2h-6.4zM491.3,19.3l3.2,7.2h-6.4zM414.7,34l3.2,7.2h-6.4zM468.1,26.9l3.2,7.2h-6.4zM552.7,40.6l3.2,7.2h-6.4zM542.4,37.1l3.2,7.2h-6.4zM465.2,24.9l3.2,7.2h-6.4zM443.2,32.2l3.2,7.2h-6.4zM586.9,42l3.2,7.2h-6.4zM520.6,19.9l3.2,7.2h-6.4zM525.5,28.1l3.2,7.2h-6.4zM424.9,11.8l3.2,7.2h-6.4zM577.3,27.7l3.2,7.2h-6.4zM493.9,26.4l3.2,7.2h-6.4zM458.3,15.1l3.2,7.2h-6.4zM555.1,30.9l3.2,7.2h-6.4zM434,21.2l3.2,7.2h-6.4zM468.6,14.6l3.2,7.2h-6.4zM572.9,31.5l3.2,7.2h-6.4zM559.2,29l3.2,7.2h-6.4zM445.1,29.4l3.2,7.2h-6.4zM456.3,13.2l3.2,7.2h-6.4zM569.7,53.9l3.2,7.2h-6.4zM421.8,31.1l3.2,7.2h-6.4zM500.4,22.1l3.2,7.2h-6.4zM415.2,33.7l3.2,7.2h-6.4zM433,27.1l3.2,7.2h-6.4zM488.5,15l3.2,7.2h-6.4zM583.9,53.7l3.2,7.2h-6.4zM556.6,24.7l3.2,7.2h-6.4zM514.1,14.2l3.2,7.2h-6.4zM513,31.3l3.2,7.2h-6.4zM519.5,30.7l3.2,7.2h-6.4zM473.1,21l3.2,7.2h-6.4zM484.4,24.1l3.2,7.2h-6.4zM536.3,23.8l3.2,7.2h-6.4zM501.6,27.6l3.2,7.2h-6.4zM461.7,15.1l3.2,7.2h-6.4zM542.1,37.6l3.2,7.2h-6.4zM448,24.2l3.2,7.2h-6.4zM452,8l3.2,7.2h-6.4zM428.8,12.7l3.2,7.2h-6.4zM444.4,18.4l3.2,7.2h-6.4zM559.4,43.5l3.2,7.2h-6.4zM577.5,30.7l3.2,7.2h-6.4zM482,23.6l3.2,7.2h-6.4zM487.3,15.5l3.2,7.2h-6.4zM482.9,17.4l3.2,7.2h-6.4zM580,49.6l3.2,7.2h-6.4zM478.6,21.7l3.2,7.2h-6.4zM478.7,23.8l3.2,7.2h-6.4zM562.6,33.3l3.2,7.2h-6.4zM470.1,24.5l3.2,7.2h-6.4zM419.8,19.8l3.2,7.2h-6.4zM453.3,19.9l3.2,7.2h-6.4zM487.9,14.5l3.2,7.2h-6.4zM449.6,23.9l3.2,7.2h-6.4zM516.1,13l3.2,7.2h-6.4zM579.5,29.1l3.2,7.2h-6.4zM470.1,12.8l3.2,7.2h-6.4zM518.2,14.6l3.2,7.2h-6.4zM429.1,10.2l3.2,7.2h-6.4zM508.4,12l3.2,7.2h-6.4zM520.4,26.6l3.2,7.2h-6.4zM533.5,28.3l3.2,7.2h-6.4zM441.4,31.4l3.2,7.2h-6.4zM511.3,11.4l3.2,7.2h-6.4zM539.6,19.1l3.2,7.2h-6.4zM474.2,19.4l3.2,7.2h-6.4zM562.1,39.7l3.2,7.2h-6.4zM558.4,29.3l3.2,7.2h-6.4zM571.3,36.8l3.2,7.2h-6.4zM562.7,30l3.2,7.2h-6.4zM471,10.6l3.2,7.2h-6.4zM564.2,42.9l3.2,7.2h-6.4zM533,24.3l3.2,7.2h-6.4zM499.8,27.6l3.2,7.2h-6.4zM530.6,17.8l3.2,7.2h-6.4zM471.1,29.3l3.2,7.2h-6.4zM541,38.9l3.2,7.2h-6.4zM482.6,11.4l3.2,7.2h-6.4zM507.4,20.4l3.2,7.2h-6.4zM507.5,31.6l3.2,7.2h-6.4zM552.5,28.4l3.2,7.2h-6.4zM526.8,29.1l3.2,7.2h-6.4zM472.1,21l3.2,7.2h-6.4zM555.5,25.1l3.2,7.2h-6.4zM474.7,17.3l3.2,7.2h-6.4zM531.3,25.7l3.2,7.2h-6.4zM414.6,27.6l3.2,7.2h-6.4zM475.8,11.8l3.2,7.2h-6.4zM423.5,11.3l3.2,7.2h-6.4zM522.2,24.4l3.2,7.2h-6.4zM520.9,21.4l3.2,7.2h-6.4zM578.5,49.1l3.2,7.2h-6.4zM436.5,12.6l3.2,7.2h-6.4zM487.3,28.7l3.2,7.2h-6.4zM444.1,10l3.2,7.2h-6.4zM453.6,18.2l3.2,7.2h-6.4zM566.6,30.8l3.2,7.2h-6.4zM531.8,25.2l3.2,7.2h-6.4zM528.6,25.7l3.2,7.2h-6.4zM452.6,17.8l3.2,7.2h-6.4zM464.5,18.9l3.2,7.2h-6.4zM430,22.5l3.2,7.2h-6.4zM533.9,37.2l3.2,7.2h-6.4zM426.7,20.9l3.2,7.2h-6.4zM518.6,27.1l3.2,7.2h-6.4zM414.6,25.5l3.2,7.2h-6.4zM505.4,23.1l3.2,7.2h-6.4zM509.2,25.7l3.2,7.2h-6.4zM426.6,14.2l3.2,7.2h-6.4zM480,16.3l3.2,7.2h-6.4zM553,35.9l3.2,7.2h-6.4zM563.6,45.8l3.2,7.2h-6.4zM465.8,17.2l3.2,7.2h-6.4zM555.6,46.3l3.2,7.2h-6.4zM541,38.6l3.2,7.2h-6.4zM544.6,33.1l3.2,7.2h-6.4zM428,31.1l3.2,7.2h-6.4zM513,20.2l3.2,7.2h-6.4zM457.4,17.6l3.2,7.2h-6.4zM426.9,25.2l3.2,7.2h-6.4zM539.3,38.8l3.2,7.2h-6.4zM523.4,31.4l3.2,7.2h-6.4zM565.6,43.8l3.2,7.2h-6.4zM429.9,24.7l3.2,7.2h-6.4zM456.5,15.4l3.2,7.2h-6.4zM476.2,22.1l3.2,7.2h-6.4zM555.3,24.8l3.2,7.2h-6.4zM539.9,37.3l3.2,7.2h-6.4zM474.7,12.9l3.2,7.2h-6.4zM528.9,19.7l3.2,7.2h-6.4zM443.7,32.1l3.2,7.2h-6.4zM482.8,28.5l3.2,7.2h-6.4zM509.7,10.7l3.2,7.2h-6.4zM513.3,17.9l3.2,7.2h-6.4zM441.5,10.7l3.2,7.2h-6.4zM526.4,21.2l3.2,7.2h-6.4zM447.5,26.1l3.2,7.2h-6.4zM478.7,13.6l3.2,7.2h-6.4zM427.2,15.9l3.2,7.2h-6.4zM503.5,18.1l3.2,7.2h-6.4zM552.6,31.4l3.2,7.2h-6.4zM414.1,29.5l3.2,7.2h-6.4zM470.6,28l3.2,7.2h-6.4zM560.5,31.3l3.2,7.2h-6.4zM530.1,30.5l3.2,7.2h-6.4zM571.8,48l3.2,7.2h-6.4zM441.5,11.3l3.2,7.2h-6.4zM477.7,17.3l3.2,7.2h-6.4zM458.9,13.1l3.2,7.2h-6.4zM457.4,22.5l3.2,7.2h-6.4zM417.4,21.1l3.2,7.2h-6.4zM566.1,26.4l3.2,7.2h-6.4zM572.1,37.4l3.2,7.2h-6.4zM549.7,32l3.2,7.2h-6.4zM417.3,33.3l3.2,7.2h-6.4zM455.5,10.5l3.2,7.2h-6.4zM483.6,30.8l3.2,7.2h-6.4zM493.8,28l3.2,7.2h-6.4zM472.5,15.9l3.2,7.2h-6.4zM425.1,14.9l3.2,7.2h-6.4zM587.6,42.3l3.2,7.2h-6.4zM570.5,27l3.2,7.2h-6.4zM534.2,28.5l3.2,7.2h-6.4zM452.9,27.4l3.2,7.2h-6.4zM520,22.1l3.2,7.2h-6.4zM489.1,15.8l3.2,7.2h-6.4zM502.2,30l3.2,7.2h-6.4zM532.1,27.7l3.2,7.2h-6.4zM433.9,9.6l3.2,7.2h-6.4zM452.3,21.5l3.2,7.2h-6.4zM484.9,28.2l3.2,7.2h-6.4zM452.8,31.4l3.2,7.2h-6.4zM424.2,25l3.2,7.2h-6.4zM500.7,29.7l3.2,7.2h-6.4zM428.2,27.1l3.2,7.2h-6.4zM548.8,31.4l3.2,7.2h-6.4zM551.6,35.8l3.2,7.2h-6.4zM518.6,18.8l3.2,7.2h-6.4zM567.4,31.5l3.2,7.2h-6.4zM513.2,11.1l3.2,7.2h-6.4zM447.2,12.8l3.2,7.2h-6.4zM580.9,32.4l3.2,7.2h-6.4zM558.1,26.6l3.2,7.2h-6.4zM517.7,24.5l3.2,7.2h-6.4zM550.2,40l3.2,7.2h-6.4zM426.5,16.6l3.2,7.2h-6.4zM521.8,30.8l3.2,7.2h-6.4zM539.7,38.1l3.2,7.2h-6.4zM497.6,28.4l3.2,7.2h-6.4zM480.2,32.5l3.2,7.2h-6.4zM438.1,29.6l3.2,7.2h-6.4zM447.5,21.6l3.2,7.2h-6.4zM577.6,50.4l3.2,7.2h-6.4zM582.5,52.3l3.2,7.2h-6.4zM546.6,40.4l3.2,7.2h-6.4zM545,36l3.2,7.2h-6.4zM418.4,32.6l3.2,7.2h-6.4zM581.6,40.6l3.2,7.2h-6.4zM429.1,19.6l3.2,7.2h-6.4zM476.3,13.4l3.2,7.2h-6.4zM541.5,31.3l3.2,7.2h-6.4zM524.6,34.1l3.2,7.2h-6.4zM450.7,29.6l3.2,7.2h-6.4zM531.5,22l3.2,7.2h-6.4zM415.6,22.8l3.2,7.2h-6.4zM519.7,33.1l3.2,7.2h-6.4zM422.8,12.3l3.2,7.2h-6.4zM544.5,32.2l3.2,7.2h-6.4zM563.4,24.3l3.2,7.2h-6.4zM511.5,20.1l3.2,7.2h-6.4zM455.8,30.3l3.2,7.2h-6.4zM575.9,47.3l3.2,7.2h-6.4zM563.9,46.2l3.2,7.2h-6.4zM514.2,32.4l3.2,7.2h-6.4zM424.3,29.7l3.2,7.2h-6.4zM489.1,16.1l3.2,7.2h-6.4zM507.5,30.8l3.2,7.2h-6.4zM531.4,31.4l3.2,7.2h-6.4zM537.3,24.7l3.2,7.2h-6.4zM557.6,37l3.2,7.2h-6.4zM438.8,11.7l3.2,7.2h-6.4zM433.2,18.7l3.2,7.2h-6.4zM442.3,21.5l3.2,7.2h-6.4zM434.1,26.4l3.2,7.2h-6.4zM571.4,50.7l3.2,7.2h-6.4zM464,25l3.2,7.2h-6.4zM478.6,17.8l3.2,7.2h-6.4zM439.8,27l3.2,7.2h-6.4zM493.3,14.2l3.2,7.2h-6.4zM464.6,13.2l3.2,7.2h-6.4zM505.8,29.8l3.2,7.2h-6.4zM441.3,27.3l3.2,7.2h-6.4zM560.7,24.9l3.2,7.2h-6.4zM538,30.3l3.2,7.2h-6.4zM516.7,13.9l3.2,7.2h-6.4zM578,43.4l3.2,7.2h-6.4zM507.2,15.5l3.2,7.2h-6.4zM463.9,22.5l3.2,7.2h-6.4zM458.5,24.2l3.2,7.2h-6.4zM551.4,43.1l3.2,7.2h-6.4zM546,29.6l3.2,7.2h-6.4zM551,28.4l3.2,7.2h-6.4zM587.3,40.9l3.2,7.2h-6.4zM463.9,30.3l3.2,7.2h-6.4zM533.2,20.2l3.2,7.2h-6.4zM471.3,15.5l3.2,7.2h-6.4zM418,16.4l3.2,7.2h-6.4zM582.2,46.4l3.2,7.2h-6.4zM438.1,19.5l3.2,7.2h-6.4zM566.8,28.8l3.2,7.2h-6.4zM462.5,20.1l3.2,7.2h-6.4zM489.7,32.8l3.2,7.2h-6.4zM481.4,23.3l3.2,7.2h-6.4zM433.3,13.7l3.2,7.2h-6.4zM574.6,33.6l3.2,7.2h-6.4zM414.7,32.5l3.2,7.2h-6.4zM589.2,39.6l3.2,7.2h-6.4zM467.1,20.4l3.2,7.2h-6.4zM505.6,19.1l3.2,7.2h-6.4zM536.8,34.5l3.2,7.2h-6.4zM414.3,30.3l3.2,7.2h-6.4zM505.8,29.2l3.2,7.2h-6.4zM426,31.2l3.2,7.2h-6.4zM473.8,10.6l3.2,7.2h-6.4zM483.2,10.5l3.2,7.2h-6.4zM474.1,9l3.2,7.2h-6.4zM472.9,18l3.2,7.2h-6.4zM533.1,35.1l3.2,7.2h-6.4zM516.1,29.3l3.2,7.2h-6.4zM452.9,11.9l3.2,7.2h-6.4zM564.1,46.2l3.2,7.2h-6.4zM493.4,27.6l3.2,7.2h-6.4zM423.5,29.1l3.2,7.2h-6.4zM462.4,18.9l3.2,7.2h-6.4zM429.5,28.8l3.2,7.2h-6.4zM568.8,26.4l3.2,7.2h-6.4zM524.6,20.1l3.2,7.2h-6.4zM496.1,22.7l3.2,7.2h-6.4zM588.2,43.2l3.2,7.2h-6.4zM434.4,18.7l3.2,7.2h-6.4zM516.3,11.6l3.2,7.2h-6.4zM582.4,51.6l3.2,7.2h-6.4zM520.6,20.5l3.2,7.2h-6.4zM485.4,17.9l3.2,7.2h-6.4zM583.8,35.2l3.2,7.2h-6.4zM560.4,45.7l3.2,7.2h-6.4zM457.7,31.3l3.2,7.2h-6.4zM572.5,46.2l3.2,7.2h-6.4zM577.7,41.8l3.2,7.2h-6.4zM438.3,16.8l3.2,7.2h-6.4zM477.7,31.4l3.2,7.2h-6.4zM513.9,25.7l3.2,7.2h-6.4zM434.8,17.1l3.2,7.2h-6.4zM569.2,26.7l3.2,7.2h-6.4zM426.4,17.4l3.2,7.2h-6.4zM466.7,21l3.2,7.2h-6.4zM540.4,28.2l3.2,7.2h-6.4zM499.9,22.1l3.2,7.2h-6.4zM567.8,48.2l3.2,7.2h-6.4zM474.9,10.4l3.2,7.2h-6.4zM475.3,19.2l3.2,7.2h-6.4zM422.4,23.3l3.2,7.2h-6.4zM428.6,22.5l3.2,7.2h-6.4zM463.3,25.8l3.2,7.2h-6.4zM488.5,15.5l3.2,7.2h-6.4zM540.2,24.9l3.2,7.2h-6.4zM482.5,28l3.2,7.2h-6.4zM433.6,27.6l3.2,7.2h-6.4zM494.8,30.4l3.2,7.2h-6.4zM452.8,12.6l3.2,7.2h-6.4zM446.4,13.1l3.2,7.2h-6.4zM447.2,21.1l3.2,7.2h-6.4zM560.2,26.1l3.2,7.2h-6.4zM500.3,31.2l3.2,7.2h-6.4zM512.5,31.3l3.2,7.2h-6.4zM551.8,20.1l3.2,7.2h-6.4zM470.1,29.3l3.2,7.2h-6.4zM483.4,29l3.2,7.2h-6.4zM515.7,12.3l3.2,7.2h-6.4zM453.6,10.8l3.2,7.2h-6.4zM495.9,28.7l3.2,7.2h-6.4zM506,10.6l3.2,7.2h-6.4zM563.4,23l3.2,7.2h-6.4zM576.7,47.2l3.2,7.2h-6.4zM486.4,17.4l3.2,7.2h-6.4zM464.2,17.6l3.2,7.2h-6.4zM507.1,32.8l3.2,7.2h-6.4zM457.6,28.2l3.2,7.2h-6.4zM575,46.6l3.2,7.2h-6.4zM577.1,46.5l3.2,7.2h-6.4zM572.5,28.9l3.2,7.2h-6.4zM488.5,26.7l3.2,7.2h-6.4zM582.4,34.6l3.2,7.2h-6.4zM526.5,25.3l3.2,7.2h-6.4zM462.2,20.3l3.2,7.2h-6.4zM507.6,12.6l3.2,7.2h-6.4zM541.7,30.6l3.2,7.2h-6.4zM535.2,22.1l3.2,7.2h-6.4zM418.1,25.5l3.2,7.2h-6.4zM455.4,24.2l3.2,7.2h-6.4zM419.5,16.2l3.2,7.2h-6.4zM431.8,12.9l3.2,7.2h-6.4zM582.2,45.9l3.2,7.2h-6.4zM537,25.8l3.2,7.2h-6.4zM428.1,23.8l3.2,7.2h-6.4zM472,13.2l3.2,7.2h-6.4zM425.2,29.7l3.2,7.2h-6.4zM548.6,27.5l3.2,7.2h-6.4zM452.8,31.8l3.2,7.2h-6.4zM487.8,28.7l3.2,7.2h-6.4zM517.6,19.2l3.2,7.2h-6.4zM461.4,31.9l3.2,7.2h-6.4zM568.6,54.6l3.2,7.2h-6.4zM588,39l3.2,7.2h-6.4zM559.6,27l3.2,7.2h-6.4zM446.2,13.8l3.2,7.2h-6.4zM468.5,16.2l3.2,7.2h-6.4zM567.5,43.1l3.2,7.2h-6.4zM416.4,31.8l3.2,7.2h-6.4zM443.4,26.8l3.2,7.2h-6.4zM459.1,31.4l3.2,7.2h-6.4zM530.4,28.8l3.2,7.2h-6.4zM464.1,28.9l3.2,7.2h-6.4zM427.5,28l3.2,7.2h-6.4zM515.7,20.4l3.2,7.2h-6.4zM487.1,9.7l3.2,7.2h-6.4zM503.2,21.1l3.2,7.2h-6.4zM481.3,13.6l3.2,7.2h-6.4zM519.8,23.5l3.2,7.2h-6.4zM452.8,13.3l3.2,7.2h-6.4zM445,8l3.2,7.2h-6.4zM544.2,22.5l3.2,7.2h-6.4zM537.6,25.5l3.2,7.2h-6.4zM432.3,13.6l3.2,7.2h-6.4zM545.5,25.8l3.2,7.2h-6.4zM516,13.3l3.2,7.2h-6.4zM586.9,43l3.2,7.2h-6.4zM560,28l3.2,7.2h-6.4zM585.1,36.1l3.2,7.2h-6.4zM538.6,36.6l3.2,7.2h-6.4zM528.8,18.6l3.2,7.2h-6.4zM572.1,50.2l3.2,7.2h-6.4zM537.6,30.5l3.2,7.2h-6.4zM423.4,17.3l3.2,7.2h-6.4zM474.2,14l3.2,7.2h-6.4zM560,25.5l3.2,7.2h-6.4zM461.2,12.2l3.2,7.2h-6.4zM445.1,29.1l3.2,7.2h-6.4zM420.4,13.6l3.2,7.2h-6.4zM554.1,28l3.2,7.2h-6.4zM466.8,12.1l3.2,7.2h-6.4zM524.1,17.9l3.2,7.2h-6.4zM491.7,24.4l3.2,7.2h-6.4zM413.7,33.9l3.2,7.2h-6.4zM438,8.5l3.2,7.2h-6.4zM558.3,22.2l3.2,7.2h-6.4zM447.2,31.2l3.2,7.2h-6.4zM422.1,20.8l3.2,7.2h-6.4zM542.3,30.5l3.2,7.2h-6.4zM574.8,34.4l3.2,7.2h-6.4zM484.1,32.7l3.2,7.2h-6.4zM491.1,23.6l3.2,7.2h-6.4zM568.2,50.9l3.2,7.2h-6.4zM581,28.7l3.2,7.2h-6.4zM479.8,31.3l3.2,7.2h-6.4zM480.4,14.2l3.2,7.2h-6.4zM458.6,28.6l3.2,7.2h-6.4zM516.7,19.9l3.2,7.2h-6.4zM448.1,14.2l3.2,7.2h-6.4zM459,20l3.2,7.2h-6.4zM423.7,22.3l3.2,7.2h-6.4zM522.5,29.5l3.2,7.2h-6.4zM513.2,28l3.2,7.2h-6.4zM444.4,28l3.2,7.2h-6.4zM452.4,16.2l3.2,7.2h-6.4zM523.7,17.8l3.2,7.2h-6.4zM562.6,45.7l3.2,7.2h-6.4zM544.3,25.7l3.2,7.2h-6.4zM447,12.3l3.2,7.2h-6.4zM454.7,23.3l3.2,7.2h-6.4zM456.7,21.7l3.2,7.2h-6.4zM553.9,42.4l3.2,7.2h-6.4zM549.8,27l3.2,7.2h-6.4zM546.1,39.7l3.2,7.2h-6.4zM532.7,18.7l3.2,7.2h-6.4zM510.7,21.4l3.2,7.2h-6.4zM416.3,24l3.2,7.2h-6.4zM569.4,39l3.2,7.2h-6.4zM581.7,54l3.2,7.2h-6.4zM499.9,22.4l3.2,7.2h-6.4zM446.8,23.7l3.2,7.2h-6.4zM440.1,20.6l3.2,7.2h-6.4zM501,26.1l3.2,7.2h-6.4zM542.6,38.2l3.2,7.2h-6.4zM576.5,53.3l3.2,7.2h-6.4zM440.3,18.3l3.2,7.2h-6.4zM541.9,27.2l3.2,7.2h-6.4zM413.7,34.3l3.2,7.2h-6.4zM433.3,9l3.2,7.2h-6.4zM444.5,13.1l3.2,7.2h-6.4zM453.9,17.7l3.2,7.2h-6.4zM549.7,33.4l3.2,7.2h-6.4zM486.5,18.1l3.2,7.2h-6.4zM497.3,17.8l3.2,7.2h-6.4zM575.3,38.9l3.2,7.2h-6.4zM549.8,32.3l3.2,7.2h-6.4zM493.6,23.4l3.2,7.2h-6.4zM556.1,33.2l3.2,7.2h-6.4zM534.5,23l3.2,7.2h-6.4zM536.7,22.3l3.2,7.2h-6.4zM465.4,30.9l3.2,7.2h-6.4zM540,31.5l3.2,7.2h-6.4zM468.2,22.2l3.2,7.2h-6.4zM467.8,13.5l3.2,7.2h-6.4zM530.8,19.4l3.2,7.2h-6.4zM418.9,27.3l3.2,7.2h-6.4zM478.6,16.8l3.2,7.2h-6.4zM528.8,33.5l3.2,7.2h-6.4zM533,19.5l3.2,7.2h-6.4zM552.5,33.4l3.2,7.2h-6.4zM583.2,31.9l3.2,7.2h-6.4zM478,10.5l3.2,7.2h-6.4zM468.5,19.4l3.2,7.2h-6.4zM495,17.8l3.2,7.2h-6.4zM548.4,40.1l3.2,7.2h-6.4zM518.7,21.7l3.2,7.2h-6.4zM559.7,38.7l3.2,7.2h-6.4zM525.5,20.8l3.2,7.2h-6.4zM515.3,26.6l3.2,7.2h-6.4zM436.3,22.1l3.2,7.2h-6.4zM523.5,26.4l3.2,7.2h-6.4zM541,37.9l3.2,7.2h-6.4zM565.3,28l3.2,7.2h-6.4zM544.6,34.3l3.2,7.2h-6.4zM509.6,20.8l3.2,7.2h-6.4zM482.7,17.9l3.2,7.2h-6.4zM487.3,14l3.2,7.2h-6.4zM561.3,38.6l3.2,7.2h-6.4zM431.6,21l3.2,7.2h-6.4zM528.3,34.1l3.2,7.2h-6.4zM490,27.3l3.2,7.2h-6.4zM459.5,16.6l3.2,7.2h-6.4zM487.4,23.3l3.2,7.2h-6.4zM461.7,12l3.2,7.2h-6.4zM418.4,18.4l3.2,7.2h-6.4zM572.2,52.5l3.2,7.2h-6.4zM469.7,19.3l3.2,7.2h-6.4zM487.1,22.5l3.2,7.2h-6.4zM457.1,8.8l3.2,7.2h-6.4zM515.1,32.5l3.2,7.2h-6.4zM564.9,41.2l3.2,7.2h-6.4zM435.3,18.1l3.2,7.2h-6.4zM503.7,32.8l3.2,7.2h-6.4zM526.7,29.8l3.2,7.2h-6.4zM499.6,27.2l3.2,7.2h-6.4zM446.1,31.8l3.2,7.2h-6.4zM488.1,29.4l3.2,7.2h-6.4zM415.3,25.8l3.2,7.2h-6.4zM525.7,31.7l3.2,7.2h-6.4zM464.2,25.1l3.2,7.2h-6.4zM579.3,52.1l3.2,7.2h-6.4zM506.8,28.6l3.2,7.2h-6.4zM573.2,40.3l3.2,7.2h-6.4zM456.5,16.2l3.2,7.2h-6.4zM480.8,31.8l3.2,7.2h-6.4zM414.9,30.9l3.2,7.2h-6.4zM446.4,11.8l3.2,7.2h-6.4zM481.8,19l3.2,7.2h-6.4zM552.5,26.5l3.2,7.2h-6.4zM539,18.8l3.2,7.2h-6.4zM477,16.2l3.2,7.2h-6.4zM439.6,20.4l3.2,7.2h-6.4zM477.1,15.4l3.2,7.2h-6.4zM464.2,27l3.2,7.2h-6.4zM482.7,25.2l3.2,7.2h-6.4zM541.3,35.6l3.2,7.2h-6.4zM564.5,43.1l3.2,7.2h-6.4zM507,18.1l3.2,7.2h-6.4zM587,32.3l3.2,7.2h-6.4zM432.3,11l3.2,7.2h-6.4zM486.1,30.2l3.2,7.2h-6.4zM584.3,49.1l3.2,7.2h-6.4zM583.9,35.9l3.2,7.2h-6.4zM514.2,18.6l3.2,7.2h-6.4zM514,30.7l3.2,7.2h-6.4zM442.9,20.1l3.2,7.2h-6.4zM427.9,12l3.2,7.2h-6.4zM476.7,20.7l3.2,7.2h-6.4zM419,30.5l3.2,7.2h-6.4zM415.6,31.8l3.2,7.2h-6.4zM467.4,16.9l3.2,7.2h-6.4zM561.8,23.3l3.2,7.2h-6.4zM498.1,13.5l3.2,7.2h-6.4zM549.4,36.2l3.2,7.2h-6.4zM451.6,27.3l3.2,7.2h-6.4zM441.3,11.1l3.2,7.2h-6.4zM444.3,17.7l3.2,7.2h-6.4zM583.8,37.2l3.2,7.2h-6.4zM493.6,22.1l3.2,7.2h-6.4zM569,30.6l3.2,7.2h-6.4zM474.6,11.9l3.2,7.2h-6.4zM585.2,51l3.2,7.2h-6.4zM505,18.5l3.2,7.2h-6.4zM520.6,21.9l3.2,7.2h-6.4zM478.7,25.2l3.2,7.2h-6.4zM425.4,12.2l3.2,7.2h-6.4zM446,32.2l3.2,7.2h-6.4zM442.4,17.9l3.2,7.2h-6.4zM488.7,20.4l3.2,7.2h-6.4zM539,33.1l3.2,7.2h-6.4zM567.5,30.2l3.2,7.2h-6.4zM541.1,25.1l3.2,7.2h-6.4zM516.5,11.9l3.2,7.2h-6.4zM570.3,36.4l3.2,7.2h-6.4zM532.9,28.2l3.2,7.2h-6.4zM519.9,20.1l3.2,7.2h-6.4zM543.2,22.8l3.2,7.2h-6.4zM576.1,41.5l3.2,7.2h-6.4zM580.5,28.8l3.2,7.2h-6.4zM421,13.3l3.2,7.2h-6.4zM505.3,12.4l3.2,7.2h-6.4zM512.1,13.9l3.2,7.2h-6.4zM432.4,23.2l3.2,7.2h-6.4zM579.7,49.2l3.2,7.2h-6.4zM424.2,22.1l3.2,7.2h-6.4zM584.5,35.1l3.2,7.2h-6.4zM582.3,53.6l3.2,7.2h-6.4zM555.3,36.1l3.2,7.2h-6.4zM477.6,11.3l3.2,7.2h-6.4zM439.5,9l3.2,7.2h-6.4zM576.3,50l3.2,7.2h-6.4zM489,29.7l3.2,7.2h-6.4zM510.5,26.1l3.2,7.2h-6.4zM422.6,31.4l3.2,7.2h-6.4zM463.5,17l3.2,7.2h-6.4zM483.5,20.1l3.2,7.2h-6.4zM534.8,22.7l3.2,7.2h-6.4zM520.4,23.9l3.2,7.2h-6.4zM455.3,27.8l3.2,7.2h-6.4zM436.7,21.9l3.2,7.2h-6.4zM461.5,26.9l3.2,7.2h-6.4zM461.3,24l3.2,7.2h-6.4zM491,23.6l3.2,7.2h-6.4zM513,21l3.2,7.2h-6.4zM547.3,36.8l3.2,7.2h-6.4zM420.4,14.1l3.2,7.2h-6.4zM506.5,27.7l3.2,7.2h-6.4zM548.1,34.9l3.2,7.2h-6.4zM475.5,21.2l3.2,7.2h-6.4zM516.3,13.7l3.2,7.2h-6.4zM534.4,17.8l3.2,7.2h-6.4zM508.4,20.6l3.2,7.2h-6.4zM502.3,29.6l3.2,7.2h-6.4zM543.6,31.5l3.2,7.2h-6.4zM500.6,25.7l3.2,7.2h-6.4zM532,22l3.2,7.2h-6.4zM493.4,13.4l3.2,7.2h-6.4zM584.5,42l3.2,7.2h-6.4zM517.3,30.8l3.2,7.2h-6.4zM492.1,19.2l3.2,7.2h-6.4zM423,21.2l3.2,7.2h-6.4zM480.2,22l3.2,7.2h-6.4zM539.7,29.3l3.2,7.2h-6.4zM462,29.4l3.2,7.2h-6.4zM548.5,23.8l3.2,7.2h-6.4zM572,38.6l3.2,7.2h-6.4zM430.2,22.2l3.2,7.2h-6.4zM513.5,24.4l3.2,7.2h-6.4zM537.5,24.2l3.2,7.2h-6.4zM578.8,29.7l3.2,7.2h-6.4zM418.3,29.3l3.2,7.2h-6.4zM437.3,22l3.2,7.2h-6.4zM445.5,16l3.2,7.2h-6.4zM476.6,21.1l3.2,7.2h-6.4zM438.2,23.2l3.2,7.2h-6.4zM527.2,21.2l3.2,7.2h-6.4zM419.5,32.7l3.2,7.2h-6.4zM489.7,22.8l3.2,7.2h-6.4zM554,41.1l3.2,7.2h-6.4zM542.7,38.1l3.2,7.2h-6.4zM515.6,18.4l3.2,7.2h-6.4zM475.9,24.2l3.2,7.2h-6.4zM544.9,32.5l3.2,7.2h-6.4zM426.2,15.8l3.2,7.2h-6.4zM487.6,27l3.2,7.2h-6.4zM521.9,28.7l3.2,7.2h-6.4zM551.7,26.7l3.2,7.2h-6.4zM546,38l3.2,7.2h-6.4zM539.3,24l3.2,7.2h-6.4zM583,40.1l3.2,7.2h-6.4zM519.8,21.9l3.2,7.2h-6.4zM498.6,29.3l3.2,7.2h-6.4zM522.4,32.2l3.2,7.2h-6.4zM569.3,26.6l3.2,7.2h-6.4zM578.3,56.6l3.2,7.2h-6.4zM453.9,27.4l3.2,7.2h-6.4zM537.1,30.9l3.2,7.2h-6.4zM444.9,29.4l3.2,7.2h-6.4zM480.8,20l3.2,7.2h-6.4zM418.8,18.3l3.2,7.2h-6.4zM586.6,38.3l3.2,7.2h-6.4zM584.8,35.1l3.2,7.2h-6.4zM545.7,28.5l3.2,7.2h-6.4zM535.5,17.5l3.2,7.2h-6.4zM524.4,24.9l3.2,7.2h-6.4zM467,23.9l3.2,7.2h-6.4zM441.7,14.2l3.2,7.2h-6.4zM428,24l3.2,7.2h-6.4zM434.2,29.6l3.2,7.2h-6.4zM579.7,27.9l3.2,7.2h-6.4zM537.4,33.3l3.2,7.2h-6.4zM558.9,38.3l3.2,7.2h-6.4zM448.3,27.8l3.2,7.2h-6.4zM553.4,28.9l3.2,7.2h-6.4zM482.6,16.4l3.2,7.2h-6.4zM544.1,20.4l3.2,7.2h-6.4zM556.7,34l3.2,7.2h-6.4zM494,19.9l3.2,7.2h-6.4zM484,17.5l3.2,7.2h-6.4zM500.1,12.6l3.2,7.2h-6.4zM462.7,21.5l3.2,7.2h-6.4zM495.9,10.7l3.2,7.2h-6.4zM501,20.7l3.2,7.2h-6.4zM473.4,9.7l3.2,7.2h-6.4zM496,30.3l3.2,7.2h-6.4zM452.7,8.9l3.2,7.2h-6.4zM448.6,18.4l3.2,7.2h-6.4zM519.1,23.2l3.2,7.2h-6.4zM555,37.6l3.2,7.2h-6.4zM574.5,57.9l3.2,7.2h-6.4zM574.5,32.9l3.2,7.2h-6.4zM447.7,25.4l3.2,7.2h-6.4zM552.7,26.1l3.2,7.2h-6.4zM502,23.8l3.2,7.2h-6.4zM536.9,30l3.2,7.2h-6.4zM535.8,21.6l3.2,7.2h-6.4zM499.7,20.8l3.2,7.2h-6.4zM431.6,12.9l3.2,7.2h-6.4zM531.5,25.9l3.2,7.2h-6.4zM496.1,31.5l3.2,7.2h-6.4zM574.7,44l3.2,7.2h-6.4zM525.7,31.1l3.2,7.2h-6.4zM500,12.1l3.2,7.2h-6.4zM550.9,20.8l3.2,7.2h-6.4zM466.8,12.8l3.2,7.2h-6.4zM570.8,44.6l3.2,7.2h-6.4zM518.5,12.1l3.2,7.2h-6.4zM457,30.8l3.2,7.2h-6.4zM437.8,17l3.2,7.2h-6.4zM464.6,11.5l3.2,7.2h-6.4zM436.6,26.1l3.2,7.2h-6.4zM498.5,16.5l3.2,7.2h-6.4zM559.5,34.2l3.2,7.2h-6.4zM531.7,19.7l3.2,7.2h-6.4zM415.1,27l3.2,7.2h-6.4zM421.3,30.2l3.2,7.2h-6.4zM488.3,12l3.2,7.2h-6.4zM553.8,26.9l3.2,7.2h-6.4zM557.9,37.9l3.2,7.2h-6.4zM561.7,25.6l3.2,7.2h-6.4zM554.4,25.7l3.2,7.2h-6.4zM416.2,23.8l3.2,7.2h-6.4zM580.7,45.4l3.2,7.2h-6.4zM490.1,24.1l3.2,7.2h-6.4zM426.2,35.9l3.2,7.2h-6.4zM411.7,41.4l3.2,7.2h-6.4zM481.4,35.6l3.2,7.2h-6.4zM500.3,41l3.2,7.2h-6.4zM442.1,38.1l3.2,7.2h-6.4zM508.4,33.7l3.2,7.2h-6.4zM498,37.9l3.2,7.2h-6.4zM494.7,34.3l3.2,7.2h-6.4zM480.9,34.8l3.2,7.2h-6.4zM533.6,38.5l3.2,7.2h-6.4zM431,33.6l3.2,7.2h-6.4zM511.7,33.5l3.2,7.2h-6.4zM426,34.3l3.2,7.2h-6.4zM455.5,42.4l3.2,7.2h-6.4zM528,40.5l3.2,7.2h-6.4zM486.8,34.1l3.2,7.2h-6.4zM473.3,49.8l3.2,7.2h-6.4zM558.4,52.8l3.2,7.2h-6.4zM545.5,45.1l3.2,7.2h-6.4zM533.6,37.4l3.2,7.2h-6.4zM556.5,62l3.2,7.2h-6.4zM530.7,46.1l3.2,7.2h-6.4zM510.7,34.1l3.2,7.2h-6.4zM453.4,35.1l3.2,7.2h-6.4zM509.9,36.2l3.2,7.2h-6.4zM411.8,41.4l3.2,7.2h-6.4zM494.7,35.4l3.2,7.2h-6.4zM513.4,38.4l3.2,7.2h-6.4zM528.5,42.4l3.2,7.2h-6.4zM574.2,67l3.2,7.2h-6.4zM557.5,48l3.2,7.2h-6.4zM534,39.1l3.2,7.2h-6.4zM558.4,49.2l3.2,7.2h-6.4zM473.4,36.7l3.2,7.2h-6.4zM418.7,40.1l3.2,7.2h-6.4zM565,53.5l3.2,7.2h-6.4zM449,33.6l3.2,7.2h-6.4zM452.7,36.8l3.2,7.2h-6.4zM415.5,40.1l3.2,7.2h-6.4zM544.7,42.3l3.2,7.2h-6.4zM521.5,35.4l3.2,7.2h-6.4zM527.6,37.9l3.2,7.2h-6.4zM430.3,32.6l3.2,7.2h-6.4zM455.9,39.2l3.2,7.2h-6.4zM574.2,58.6l3.2,7.2h-6.4zM546.1,41.8l3.2,7.2h-6.4zM556.5,50.6l3.2,7.2h-6.4zM453.9,42.4l3.2,7.2h-6.4zM544.7,43.5l3.2,7.2h-6.4zM474.2,39.3l3.2,7.2h-6.4zM476.2,48.7l3.2,7.2h-6.4zM571.1,61.5l3.2,7.2h-6.4zM551.3,44.3l3.2,7.2h-6.4zM483.9,35.6l3.2,7.2h-6.4zM476.1,34.9l3.2,7.2h-6.4zM550.8,44.5l3.2,7.2h-6.4zM426.8,31.9l3.2,7.2h-6.4zM520,33.6l3.2,7.2h-6.4zM565.6,58.2l3.2,7.2h-6.4zM449.5,35l3.2,7.2h-6.4zM558.4,49.2l3.2,7.2h-6.4zM501.6,36.7l3.2,7.2h-6.4zM501.3,43.5l3.2,7.2h-6.4zM453.8,36.7l3.2,7.2h-6.4zM438.6,35.8l3.2,7.2h-6.4zM424.1,32.9l3.2,7.2h-6.4zM504.6,40.5l3.2,7.2h-6.4zM504.4,33.3l3.2,7.2h-6.4zM519.2,43.2l3.2,7.2h-6.4zM553.4,45.3l3.2,7.2h-6.4zM538.1,38.7l3.2,7.2h-6.4zM532,40.3l3.2,7.2h-6.4zM422.6,34.9l3.2,7.2h-6.4zM453.8,39.8l3.2,7.2h-6.4zM472.8,35.7l3.2,7.2h-6.4zM485.7,32.9l3.2,7.2h-6.4zM411.1,38l3.2,7.2h-6.4zM537.1,41.8l3.2,7.2h-6.4zM436.8,32.7l3.2,7.2h-6.4zM528.1,39.6l3.2,7.2h-6.4zM415,37.3l3.2,7.2h-6.4zM578.6,61.8l3.2,7.2h-6.4zM568.3,75.1l3.2,7.2h-6.4zM416.2,35.9l3.2,7.2h-6.4zM561.2,50.4l3.2,7.2h-6.4zM437.6,34.7l3.2,7.2h-6.4zM540.1,41.7l3.2,7.2h-6.4zM432.3,36.8l3.2,7.2h-6.4zM490,36.6l3.2,7.2h-6.4zM421.3,39.8l3.2,7.2h-6.4zM481.9,33.7l3.2,7.2h-6.4zM546.2,44.1l3.2,7.2h-6.4zM518,33.8l3.2,7.2h-6.4zM460.1,37.1l3.2,7.2h-6.4zM509.1,43.8l3.2,7.2h-6.4zM467.4,37.8l3.2,7.2h-6.4zM528.2,35.9l3.2,7.2h-6.4zM457.2,38.6l3.2,7.2h-6.4zM414.3,44.8l3.2,7.2h-6.4zM502.6,35.7l3.2,7.2h-6.4zM482.6,42.8l3.2,7.2h-6.4zM458.3,35.6l3.2,7.2h-6.4zM519.3,35.6l3.2,7.2h-6.4zM492.3,45l3.2,7.2h-6.4zM550.3,56.9l3.2,7.2h-6.4zM497.5,36l3.2,7.2h-6.4zM439.4,43.5l3.2,7.2h-6.4zM415.5,41.8l3.2,7.2h-6.4zM509.2,40.2l3.2,7.2h-6.4zM412,36.4l3.2,7.2h-6.4zM498.1,34.7l3.2,7.2h-6.4zM451.5,44.7l3.2,7.2h-6.4zM467.3,33.7l3.2,7.2h-6.4zM443.2,33.8l3.2,7.2h-6.4zM465.2,39.2l3.2,7.2h-6.4zM420.7,38.4l3.2,7.2h-6.4zM516.1,39.1l3.2,7.2h-6.4zM508.9,33.4l3.2,7.2h-6.4zM498.9,35.1l3.2,7.2h-6.4zM498.5,39.4l3.2,7.2h-6.4zM490,37.8l3.2,7.2h-6.4zM503.1,50.1l3.2,7.2h-6.4zM529.6,41.7l3.2,7.2h-6.4zM506.4,33.8l3.2,7.2h-6.4zM423.9,37.7l3.2,7.2h-6.4zM466.4,34.6l3.2,7.2h-6.4zM455.8,34l3.2,7.2h-6.4zM480.6,33.5l3.2,7.2h-6.4zM462.7,35l3.2,7.2h-6.4zM430.8,45.9l3.2,7.2h-6.4zM577.2,63.4l3.2,7.2h-6.4zM575.3,65l3.2,7.2h-6.4zM536.7,40.1l3.2,7.2h-6.4zM552.1,52.6l3.2,7.2h-6.4zM457,33.6l3.2,7.2h-6.4zM484.9,36.7l3.2,7.2h-6.4zM503,36.4l3.2,7.2h-6.4zM446.8,37.3l3.2,7.2h-6.4zM568.3,68l3.2,7.2h-6.4zM506.3,41.7l3.2,7.2h-6.4zM567.5,54.4l3.2,7.2h-6.4zM510.9,39.5l3.2,7.2h-6.4zM416.8,34.5l3.2,7.2h-6.4zM566.2,67l3.2,7.2h-6.4zM476.4,39.5l3.2,7.2h-6.4zM489.7,33.7l3.2,7.2h-6.4zM568.6,59.4l3.2,7.2h-6.4zM492.8,33.2l3.2,7.2h-6.4zM452.9,39.4l3.2,7.2h-6.4zM568.8,61.2l3.2,7.2h-6.4zM556.8,56.8l3.2,7.2h-6.4zM516.6,35.8l3.2,7.2h-6.4zM489.1,34l3.2,7.2h-6.4zM545.3,42.7l3.2,7.2h-6.4zM551.8,45.3l3.2,7.2h-6.4zM424.3,33l3.2,7.2h-6.4zM513.3,38.6l3.2,7.2h-6.4zM577.7,60.8l3.2,7.2h-6.4zM556.1,47.2l3.2,7.2h-6.4zM418.4,40.4l3.2,7.2h-6.4zM488.2,34.3l3.2,7.2h-6.4zM505,36.7l3.2,7.2h-6.4zM528.1,38.7l3.2,7.2h-6.4zM472.4,37.3l3.2,7.2h-6.4zM502.1,35.4l3.2,7.2h-6.4zM474.9,40.3l3.2,7.2h-6.4zM478.4,36.4l3.2,7.2h-6.4zM429.7,33.6l3.2,7.2h-6.4zM531.4,49l3.2,7.2h-6.4zM502.4,35.4l3.2,7.2h-6.4zM513.2,42.1l3.2,7.2h-6.4zM578.6,58.6l3.2,7.2h-6.4zM421.6,36l3.2,7.2h-6.4zM416.4,38.7l3.2,7.2h-6.4zM473.7,32.8l3.2,7.2h-6.4zM433,36l3.2,7.2h-6.4zM562.8,52.8l3.2,7.2h-6.4zM475.7,37.9l3.2,7.2h-6.4zM559.5,54.3l3.2,7.2h-6.4zM538.3,41l3.2,7.2h-6.4zM452.3,43.1l3.2,7.2h-6.4zM518.3,34.2l3.2,7.2h-6.4zM533.5,37.8l3.2,7.2h-6.4zM544.2,46.7l3.2,7.2h-6.4zM558.7,51.3l3.2,7.2h-6.4zM452.5,49l3.2,7.2h-6.4zM494,50.9l3.2,7.2h-6.4zM445.6,51.2l3.2,7.2h-6.4zM564.3,66.7l3.2,7.2h-6.4zM416.3,52.5l3.2,7.2h-6.4zM420.3,65.6l3.2,7.2h-6.4zM462,54.9l3.2,7.2h-6.4zM469.8,48.8l3.2,7.2h-6.4zM540.8,50.2l3.2,7.2h-6.4zM550.5,59.2l3.2,7.2h-6.4zM421.8,73.2l3.2,7.2h-6.4zM448.6,49.2l3.2,7.2h-6.4zM510.3,51.4l3.2,7.2h-6.4zM487.3,74.2l3.2,7.2h-6.4zM531.8,49.1l3.2,7.2h-6.4zM517.4,55.7l3.2,7.2h-6.4zM479,55.2l3.2,7.2h-6.4zM560.4,66l3.2,7.2h-6.4zM552.5,61.4l3.2,7.2h-6.4zM437.9,52.7l3.2,7.2h-6.4zM500.4,60.9l3.2,7.2h-6.4zM569.5,71.7l3.2,7.2h-6.4zM518.2,58.4l3.2,7.2h-6.4zM494.7,61.6l3.2,7.2h-6.4zM445.5,77.2l3.2,7.2h-6.4zM476.6,68.8l3.2,7.2h-6.4zM422.7,80.9l3.2,7.2h-6.4zM422.7,86.9l3.2,7.2h-6.4zM446,77.4l3.2,7.2h-6.4zM504.6,63.2l3.2,7.2h-6.4zM497,62.9l3.2,7.2h-6.4z" fill="#ffc0cb"/>
<path d="M608.7,229.3h0M628.3,267.9h0M624.1,255.9h0M615.9,252.9h0M632.5,267.1h0M585.5,238.9h0M594.5,258h0M588.3,253h0M585.2,231.6h0M641.1,259.4h0M626.5,243.9h0M624.1,231h0M598.9,257.6h0M634.4,267.4h0M620.8,249.2h0M604.4,240h0M639,247.2h0M637.6,264.2h0M643.5,230.6h0M628.1,244.4h0M623.2,270.8h0M599.6,235.9h0M620.6,232.8h0M603.1,227.5h0M640.8,244.7h0M631.5,256.2h0M599.5,237.7h0M637.1,238.3h0M603.7,246.2h0M613.2,232.4h0M610.6,224.1h0M599.7,246.9h0M641.6,224.7h0M639,263.3h0M648,242h0M629.2,262.6h0M613.7,262.7h0M630.8,252.2h0M643.6,253.6h0M603.2,229.7h0M630.1,226.5h0M638.7,264.4h0M606.7,266.8h0M638,262.1h0M611.6,253h0M621.9,233.8h0M624.4,222.6h0M590.5,249.6h0M611.7,232.9h0M659,253.5h0M658,241.1h0M659.1,223.9h0M593.3,247.8h0M625.1,249.3h0M613.2,257.3h0M601.1,252.4h0M593.7,242.7h0M624.9,262.5h0M616.7,266.9h0M633.3,238.3h0M614.5,245.9h0M602.9,257h0M620.7,246.8h0M581.4,238.9h0M591.9,232.8h0M596,259.5h0M620.6,242.5h0M592.2,259.1h0M641.3,260.5h0M611.9,260.5h0M651.9,253h0M640.2,237.7h0M606.7,251.1h0M619.9,259.3h0M620.3,239.2h0M662.8,226.9h0M640.8,235.5h0M592.8,264h0M625.1,238.7h0M612.3,250h0M637.3,247.3h0M634.2,253.4h0M631.4,225.3h0M621.3,249.1h0M639,226.4h0M631.2,263h0M592.2,269.8h0M625.2,266.4h0M626.2,265.5h0M663.5,240.1h0M608.4,241.7h0M638.3,255.4h0M636.9,249h0M618.7,234.5h0M580.7,239.8h0M607.2,227.6h0M606.5,269.1h0M641.9,217.4h0M599.9,251.7h0M633.9,262.6h0M643.8,262.1h0M647.2,229.7h0M609.9,272.2h0M608.1,267.6h0M619,255.1h0M621.4,236.8h0M596.5,262.1h0M626,256.3h0M621.1,235.3h0M629.7,249.2h0M636,234.2h0M608.9,270.8h0M594.8,249.7h0M639.7,241.6h0M612.8,238.1h0M629.2,251.9h0M630.1,235.6h0M590.2,258.6h0M604.6,244.9h0M593.1,239.2h0M617,271h0M590.3,232.8h0M621.4,258.3h0M596.9,263h0M644.2,253.5h0M622.6,252.5h0M602,269h0M609.9,271.3h0M611,265.3h0M630.2,248.1h0M623,256.5h0M621.9,255.3h0M647.1,243.1h0M651.5,246.6h0M643.6,242.7h0M580.4,234h0M615.8,249.2h0M665.4,244.5h0M600.6,248.8h0M642.2,243.7h0M597.9,258.2h0M625.1,235.6h0M614.8,269.1h0M605.5,265.1h0M590.7,241.1h0M621.8,242.4h0M648.2,250.5h0M625.1,218.5h0M612.2,270.6h0M613,266.4h0M596.2,249.8h0M591.2,256.4h0M633.5,266.4h0M630.8,246.4h0M619.7,228.3h0M610,249.3h0M653.8,246.8h0M647.8,236.8h0M592.8,253.4h0M613,261.3h0M598.3,257h0M664,234.7h0M667.9,236.1h0M599.6,258.7h0M640.9,258.1h0M612.5,263.2h0M625.4,234.8h0M640.9,266h0M609.5,271.6h0M610,237.5h0M613.6,232.6h0M626.2,251.9h0M592.4,253.7h0M655.1,233.5h0M592.3,254.5h0M653.2,247h0M647.1,239.4h0M640.7,260.7h0M636.8,247h0M596.2,270.7h0M585.1,245.7h0M632.1,266h0M635.1,257.5h0M651.8,258.3h0M640.9,229.6h0M632.1,236.5h0M590.8,268.3h0M585.6,249.2h0M638.9,266.2h0M638.6,233.2h0M621,262.8h0M614,235.7h0M599.6,254.7h0M582.9,234.4h0M589.2,249.8h0M595.7,230.4h0M616.1,226.9h0M598.5,267.4h0M659,243h0M611.7,237.1h0M659.6,243h0M618,246.8h0M605.7,238.2h0M586,247.4h0M632.3,212h0M646.6,224.4h0M635.5,245.6h0M630.8,235.2h0M630.2,247.1h0M654.5,255h0M612.1,234.6h0M606.3,241.1h0M601.4,259.7h0M623.3,245.4h0M611.5,244.8h0M607.9,237.5h0M611.9,259.3h0M603.4,270.1h0M605.6,234h0M604.5,263.3h0M623.6,234.3h0M598.1,263.1h0M636.3,237.3h0M666.3,238.3h0M634.3,215h0M588.5,245.3h0M580,235.8h0M637.8,264.9h0M596.7,257.1h0M606.2,273.9h0M594.2,249.8h0M594.9,251.1h0M616.1,257.5h0M585.6,244.8h0M596.4,235.6h0M645.3,258.2h0M589.5,238.9h0M642.4,258.4h0M633.8,236.5h0M595.3,262h0M620.1,250.9h0M593.3,235.3h0M595.5,261.2h0M640.1,243.5h0M591.2,265.3h0M596.8,273.5h0M648.9,258.2h0M592.5,243.5h0M652.3,223.5h0M631.8,216.3h0M644.9,262.9h0M585.6,235.7h0M660.2,240.7h0M622.2,266.1h0M614.7,228.7h0M640.2,249.1h0M592.3,269.9h0M645.5,263.7h0M582.6,243.6h0M646.1,242.6h0M600.4,245.5h0M605.8,257.7h0M586.8,247.4h0M593.4,238.6h0M590.1,250.6h0M627.1,251.9h0M640.8,265.6h0M643.6,231.6h0M608.7,253.8h0M604.2,251.7h0M636.1,238.9h0M599.1,250.5h0M626,262.1h0M613.4,254.7h0M580.8,237.5h0M609.2,260.9h0M583.7,244.5h0M629.8,260.9h0M584.4,250.6h0M599.6,264.4h0M629.6,253.1h0M637.7,234.5h0M619.9,264.4h0M654.6,238h0M613.5,259.9h0M619.9,244.6h0M614.1,239.1h0M648.9,227.5h0M610.2,261.8h0M601.4,265.4h0M628,238.5h0M601.3,266.8h0M607.6,260.1h0M607.8,224.7h0M644.8,264.8h0M595.6,241.2h0M659.9,223h0M614.8,255.6h0M605,246.4h0M598.7,235.3h0M640.7,258h0M617,247.4h0M603.4,253.8h0M617.6,262.8h0M588,234.1h0M617.5,259.7h0M591.8,263.4h0M597,246.1h0M603.9,266.4h0M641.8,232.2h0M633.9,243.3h0M610.7,244.6h0M629.7,270.3h0M615.4,267.1h0M621.3,253h0M585.8,237h0M601.7,258.5h0M627.4,242.5h0M643.6,231.3h0M619.2,272.4h0M627.9,243.1h0M617.4,254.6h0M631.2,242.9h0M605.9,271.7h0M648.7,235.9h0M640.1,260.7h0M621.9,251.9h0M608.2,272.8h0M625.4,254.2h0M601.8,239.7h0M594.5,257.7h0M634.6,237.7h0M610.3,258.2h0M588.5,253.3h0M586.4,238.1h0M600.5,260.1h0M589,263.2h0M595.9,270.7h0M637,257.8h0M597.7,237.4h0M627.7,241.3h0M650.8,247.1h0M626.1,269.7h0M597.9,267.2h0M608.6,250.1h0M610.7,239.7h0M619.9,263.5h0M594.8,239.5h0M601.2,262.3h0M602.1,248.7h0M622.3,226.7h0M630.6,270.4h0M587.6,247.4h0M595.3,270.2h0M609.3,254.9h0M589.6,238.5h0M610.3,236.7h0M633.5,221.4h0M594.3,265.1h0M634,256.4h0M618.3,269.9h0M603.7,263.7h0M631.9,260.8h0M621.4,249.2h0M594.4,258.4h0M603.5,235.1h0M603.9,274.2h0M599.7,246.9h0M594.6,270.9h0M589.7,252h0M639.8,249.6h0M613.3,240.7h0M604.2,248.4h0M589.2,240h0M659.2,239.1h0M622.7,240.1h0M627.6,255.9h0M592.6,270.8h0M608.5,239.1h0M610.9,263.9h0M612.5,232.2h0M598.9,249.9h0M611.9,233.3h0M649.9,221.4h0M591.1,254.3h0M603.6,235.4h0M618.6,265.6h0M594.8,247.4h0M596.4,246.5h0M607.8,267h0M612.1,237.4h0M587.3,237.7h0M650.1,213.8h0M629,240.2h0M619.7,246.8h0M620.4,268.6h0M608.4,265.4h0M627.8,213.9h0M641.1,242.8h0M595.1,266.1h0M586.8,252.5h0M653.3,225.4h0M603.2,244.9h0M587.4,246.3h0M607.6,268.3h0M642.7,252.5h0M643,227.7h0M618,254.8h0M603.1,243.1h0M661.6,235h0M613.5,243.3h0M603.2,269.5h0M602.2,261.7h0M649.5,261.9h0M608.8,273.5h0M621.3,242.2h0M652,252.6h0M627.7,264.9h0M628.8,258.9h0M596.4,235h0M611.5,269h0M632,255.6h0M643.9,245.7h0M590.1,234.8h0M588.6,242.9h0M585.9,248.9h0M611.7,233.8h0M596.3,230.5h0M633.5,264.4h0M618.9,248.9h0M623.1,257.5h0M621.6,224h0M602.6,261.7h0M609.9,266.9h0M639.2,244.2h0M611.6,270.4h0M593.1,265.9h0M617.3,249.5h0M618.9,240.9h0M657.2,206.6h0M633.2,267.5h0M610,261.1h0M608.4,244.8h0M640.3,258.7h0M593.6,238.5h0M584.6,245.7h0M635.9,224.3h0M595.6,247.5h0M617.9,236.5h0M610.6,236.9h0M586.3,255.5h0M633.5,229.6h0M654.8,243.5h0M632.5,239h0M621.6,253.6h0M640.2,244.7h0M614.4,264.3h0M625.5,261.5h0M637.6,264.2h0M628.3,245.4h0M611.8,250.3h0M597.9,242.9h0M638.5,265.8h0M622.1,268.7h0M627.6,246.1h0M635.4,243.6h0M622.4,234.4h0M603.7,238.9h0M630.4,238.4h0M602.8,260.8h0M650.1,247.6h0M613.6,254.8h0M618.2,253.1h0M657.1,249.4h0M645.6,263.2h0M592.2,272.7h0M597,272.9h0M599.1,260.9h0M597.2,269.9h0M595.3,235.6h0M617,238.7h0M661.3,237.7h0M602.2,244.8h0M605.9,261.9h0M604.9,231.2h0M594.7,248.6h0M609.8,272.8h0M615.5,273.1h0M594.9,261.2h0M602.5,249.8h0M620.3,256.2h0M604.6,258.5h0M610.5,267.6h0M608.3,269.4h0M634.1,244.1h0M652.6,214.1h0M629.1,234.3h0M594,252.8h0M614.5,228.9h0M643.4,262.5h0M591.1,235.1h0M634.8,253.9h0M660,250.4h0M665.3,222.1h0M636.5,225.9h0M589.4,252.8h0M624.6,243.8h0M613.1,268.3h0M591.6,267.3h0M655.3,223.3h0M660.5,247.2h0M593.4,262.4h0M595.8,262.1h0M601.6,239.5h0M646,228.2h0M632.1,257.6h0M588.9,237.6h0M599.3,246.3h0M639.5,249.7h0M650.5,256.8h0M593.6,265h0M589.6,241.5h0M614.2,222.2h0M604.2,268h0M646.6,234.9h0M614.9,234.3h0M608.3,240.2h0M614.4,256.3h0M619.2,246h0M646,248.2h0M609.1,258.4h0M609.4,252.2h0M617.2,267.2h0M588.5,252.7h0M629.4,264.4h0M620.5,234.5h0M619.1,261.7h0M596.2,273h0M593.7,236.6h0M628,250h0M619.8,261.4h0M621.6,243.5h0M606.6,262.1h0M662.1,244.2h0M627.9,264.4h0M618.6,241.2h0M603.9,269.5h0M589.4,243.6h0M619.7,268.2h0M594,246.2h0M602,228.3h0M645.6,237.8h0M639,230.7h0M599,266.9h0M637.5,235.8h0M658.3,251.6h0M626.7,245.8h0M594.8,258.3h0M634.9,225.6h0M596.2,254.8h0M652.4,199.6h0M650,201.5h0M645.5,206h0M653.5,207h0M640,210.5h0M657,210h0M660,213.5h0M662.5,217h0M664,226h0" stroke="#0000ff" stroke-width="3.7" stroke-linecap="round" fill="none"/>
<path d="M589.3,62.6l3.2,7.2h-6.4zM661.7,128.1l3.2,7.2h-6.4zM658,122.2l3.2,7.2h-6.4zM611.9,59.2l3.2,7.2h-6.4zM651.4,132.2l3.2,7.2h-6.4zM623.4,77.7l3.2,7.2h-6.4zM600.8,38.7l3.2,7.2h-6.4zM624.3,53.5l3.2,7.2h-6.4zM601.6,36.8l3.2,7.2h-6.4zM630.8,60.9l3.2,7.2h-6.4zM606.7,92l3.2,7.2h-6.4zM616.3,65.1l3.2,7.2h-6.4zM615.5,48.3l3.2,7.2h-6.4zM655.9,129.5l3.2,7.2h-6.4zM610.3,64.6l3.2,7.2h-6.4zM654.9,122l3.2,7.2h-6.4zM664.2,132.5l3.2,7.2h-6.4zM589.5,58.3l3.2,7.2h-6.4zM631.8,102.7l3.2,7.2h-6.4zM644.8,111.3l3.2,7.2h-6.4zM599,39.8l3.2,7.2h-6.4zM603.6,50.5l3.2,7.2h-6.4zM589.1,63.4l3.2,7.2h-6.4zM650.7,109.9l3.2,7.2h-6.4zM614.1,47.1l3.2,7.2h-6.4zM649.4,86.7l3.2,7.2h-6.4zM592.7,41.9l3.2,7.2h-6.4zM650,107.9l3.2,7.2h-6.4zM657.2,150.7l3.2,7.2h-6.4zM649.9,107.4l3.2,7.2h-6.4zM653,94.9l3.2,7.2h-6.4zM624.1,94.3l3.2,7.2h-6.4zM619.3,53.9l3.2,7.2h-6.4zM656.1,126.6l3.2,7.2h-6.4zM602.2,40.1l3.2,7.2h-6.4zM627.4,67.5l3.2,7.2h-6.4zM605.7,56.8l3.2,7.2h-6.4zM654.2,116.2l3.2,7.2h-6.4zM587.2,72.6l3.2,7.2h-6.4zM609.4,40.8l3.2,7.2h-6.4zM659.1,114.4l3.2,7.2h-6.4zM578.4,72.9l3.2,7.2h-6.4zM647.9,81.7l3.2,7.2h-6.4zM602.6,63.3l3.2,7.2h-6.4zM620.5,67.5l3.2,7.2h-6.4zM640,69.9l3.2,7.2h-6.4zM607.6,57.5l3.2,7.2h-6.4zM618.1,47.6l3.2,7.2h-6.4zM655.6,101l3.2,7.2h-6.4zM649.3,110.8l3.2,7.2h-6.4zM614.4,50.4l3.2,7.2h-6.4zM655.2,112.2l3.2,7.2h-6.4zM648.3,132.4l3.2,7.2h-6.4zM648.6,94.8l3.2,7.2h-6.4zM615.6,50.2l3.2,7.2h-6.4zM641.6,73.2l3.2,7.2h-6.4zM645.2,81.9l3.2,7.2h-6.4zM593.1,55.1l3.2,7.2h-6.4zM659.1,148.8l3.2,7.2h-6.4zM620.2,101.4l3.2,7.2h-6.4zM600.3,57.3l3.2,7.2h-6.4zM594.6,78.9l3.2,7.2h-6.4zM635.1,119.1l3.2,7.2h-6.4zM577.7,76.3l3.2,7.2h-6.4zM648.7,85.8l3.2,7.2h-6.4zM638.7,68.5l3.2,7.2h-6.4zM588.9,69.3l3.2,7.2h-6.4zM607.6,49l3.2,7.2h-6.4zM590.1,47.6l3.2,7.2h-6.4zM617.8,50.4l3.2,7.2h-6.4zM640.3,90.5l3.2,7.2h-6.4zM640.3,97.6l3.2,7.2h-6.4zM652.6,89.6l3.2,7.2h-6.4zM595.7,34.3l3.2,7.2h-6.4zM654.2,147.1l3.2,7.2h-6.4zM617.7,47l3.2,7.2h-6.4zM584.9,76.5l3.2,7.2h-6.4zM603.1,48.1l3.2,7.2h-6.4zM606.1,93.9l3.2,7.2h-6.4zM643.6,88.9l3.2,7.2h-6.4zM607.9,85.9l3.2,7.2h-6.4zM591.9,44.2l3.2,7.2h-6.4zM646.4,105.9l3.2,7.2h-6.4zM641.1,77.8l3.2,7.2h-6.4zM618.8,62.7l3.2,7.2h-6.4zM614.6,49.5l3.2,7.2h-6.4zM649.1,85.2l3.2,7.2h-6.4zM625.2,62.7l3.2,7.2h-6.4zM584.2,66.1l3.2,7.2h-6.4zM659.9,128l3.2,7.2h-6.4zM617.2,55l3.2,7.2h-6.4zM597.3,36.8l3.2,7.2h-6.4zM649.6,115.6l3.2,7.2h-6.4zM594,59l3.2,7.2h-6.4zM629.4,55.5l3.2,7.2h-6.4zM645.6,112.2l3.2,7.2h-6.4zM660.5,115.4l3.2,7.2h-6.4zM635.8,86.9l3.2,7.2h-6.4zM625.2,52.1l3.2,7.2h-6.4zM653.5,106.5l3.2,7.2h-6.4zM636.1,91.7l3.2,7.2h-6.4zM605,48.2l3.2,7.2h-6.4zM601.4,36.4l3.2,7.2h-6.4zM619,57.8l3.2,7.2h-6.4zM596.1,56.1l3.2,7.2h-6.4zM633.7,60.6l3.2,7.2h-6.4zM628,60l3.2,7.2h-6.4zM630.5,82.9l3.2,7.2h-6.4zM585.8,65.6l3.2,7.2h-6.4zM614,81.9l3.2,7.2h-6.4zM637.6,102.6l3.2,7.2h-6.4zM618.2,48.4l3.2,7.2h-6.4zM584.1,66.8l3.2,7.2h-6.4zM594.6,49.9l3.2,7.2h-6.4zM621.8,100.2l3.2,7.2h-6.4zM592.5,82.6l3.2,7.2h-6.4zM636.2,130.3l3.2,7.2h-6.4zM634.8,62.6l3.2,7.2h-6.4zM662.9,115.2l3.2,7.2h-6.4zM627.8,69l3.2,7.2h-6.4zM594.7,83.4l3.2,7.2h-6.4zM626.8,120.4l3.2,7.2h-6.4zM638.6,69.2l3.2,7.2h-6.4zM625.6,89.7l3.2,7.2h-6.4zM618,48.8l3.2,7.2h-6.4zM659.3,106.6l3.2,7.2h-6.4zM655.2,105.1l3.2,7.2h-6.4zM613.5,45.8l3.2,7.2h-6.4zM605.1,43.6l3.2,7.2h-6.4zM659.3,113.6l3.2,7.2h-6.4zM637.6,92.1l3.2,7.2h-6.4zM619.8,47.5l3.2,7.2h-6.4zM651.3,123.9l3.2,7.2h-6.4zM623.2,53.3l3.2,7.2h-6.4zM666.5,128.1l3.2,7.2h-6.4zM648.6,96.3l3.2,7.2h-6.4zM616.7,67.4l3.2,7.2h-6.4zM629.2,71.8l3.2,7.2h-6.4zM661,145.9l3.2,7.2h-6.4zM643.6,92.1l3.2,7.2h-6.4zM597.5,46.6l3.2,7.2h-6.4zM579.2,74l3.2,7.2h-6.4zM599.2,40.9l3.2,7.2h-6.4zM622.6,83.5l3.2,7.2h-6.4zM639.9,125.9l3.2,7.2h-6.4zM641.4,96.7l3.2,7.2h-6.4zM659.1,127.9l3.2,7.2h-6.4zM666.1,133.5l3.2,7.2h-6.4zM660.2,133.6l3.2,7.2h-6.4zM619,71.3l3.2,7.2h-6.4zM579.2,77.1l3.2,7.2h-6.4zM595.4,45l3.2,7.2h-6.4zM598.8,34.8l3.2,7.2h-6.4zM611.8,40.8l3.2,7.2h-6.4zM584.7,70.2l3.2,7.2h-6.4zM609.9,62.4l3.2,7.2h-6.4zM639.6,77.3l3.2,7.2h-6.4zM642.9,78.5l3.2,7.2h-6.4zM620,70.6l3.2,7.2h-6.4zM609.3,60.5l3.2,7.2h-6.4zM649,107.4l3.2,7.2h-6.4zM611.8,67.7l3.2,7.2h-6.4zM630.9,58.6l3.2,7.2h-6.4zM600.4,39.5l3.2,7.2h-6.4zM632.8,59.3l3.2,7.2h-6.4zM585.9,81.5l3.2,7.2h-6.4zM618.4,91.1l3.2,7.2h-6.4zM666.2,131.1l3.2,7.2h-6.4zM647.9,81.9l3.2,7.2h-6.4zM619.3,95.8l3.2,7.2h-6.4zM655.1,135.6l3.2,7.2h-6.4zM631.4,91.5l3.2,7.2h-6.4zM607,89.8l3.2,7.2h-6.4zM628.3,56.1l3.2,7.2h-6.4zM620.3,50l3.2,7.2h-6.4zM621.7,50.2l3.2,7.2h-6.4zM601.4,46.6l3.2,7.2h-6.4zM654.3,109.1l3.2,7.2h-6.4zM643,93.1l3.2,7.2h-6.4zM598.2,47l3.2,7.2h-6.4zM631.1,97.4l3.2,7.2h-6.4zM655.7,102.8l3.2,7.2h-6.4zM617.5,49.2l3.2,7.2h-6.4zM615.7,45.2l3.2,7.2h-6.4zM584.4,60.6l3.2,7.2h-6.4zM644.4,84.3l3.2,7.2h-6.4zM636.3,105.3l3.2,7.2h-6.4zM591.1,50.1l3.2,7.2h-6.4zM663.5,117.3l3.2,7.2h-6.4zM614.9,61.8l3.2,7.2h-6.4zM579.7,78.2l3.2,7.2h-6.4zM597,58l3.2,7.2h-6.4zM661.7,109.7l3.2,7.2h-6.4zM646.6,105l3.2,7.2h-6.4zM608.8,63l3.2,7.2h-6.4zM593.6,57l3.2,7.2h-6.4zM623.6,111.1l3.2,7.2h-6.4zM598.8,86.2l3.2,7.2h-6.4zM592.6,73.5l3.2,7.2h-6.4zM595.4,84.2l3.2,7.2h-6.4zM643.2,78.1l3.2,7.2h-6.4zM649.9,144.7l3.2,7.2h-6.4zM615.2,48.1l3.2,7.2h-6.4zM592.7,52.7l3.2,7.2h-6.4zM606.2,42.4l3.2,7.2h-6.4zM641.3,73.9l3.2,7.2h-6.4zM584,75.5l3.2,7.2h-6.4zM599.3,73.8l3.2,7.2h-6.4zM606.6,66.1l3.2,7.2h-6.4zM608.2,47l3.2,7.2h-6.4zM652.4,89.5l3.2,7.2h-6.4zM606.4,38.5l3.2,7.2h-6.4zM636.9,72.1l3.2,7.2h-6.4zM661.8,135.1l3.2,7.2h-6.4zM647,97.5l3.2,7.2h-6.4zM626.9,78.6l3.2,7.2h-6.4zM660,106.5l3.2,7.2h-6.4zM616.7,73.9l3.2,7.2h-6.4zM628.9,62l3.2,7.2h-6.4zM608.6,79.8l3.2,7.2h-6.4zM620.4,88.1l3.2,7.2h-6.4zM640.5,114.7l3.2,7.2h-6.4zM629.7,91.5l3.2,7.2h-6.4zM656.2,121.5l3.2,7.2h-6.4zM608.2,93.7l3.2,7.2h-6.4zM607.1,71.1l3.2,7.2h-6.4zM586.5,71.4l3.2,7.2h-6.4zM621.1,94.8l3.2,7.2h-6.4zM646.8,96.1l3.2,7.2h-6.4zM656.9,130.9l3.2,7.2h-6.4zM601.5,56.1l3.2,7.2h-6.4zM638.2,125l3.2,7.2h-6.4zM623.4,56.3l3.2,7.2h-6.4zM608.3,75.5l3.2,7.2h-6.4zM664.4,127l3.2,7.2h-6.4zM579.7,73.8l3.2,7.2h-6.4zM593.6,37.2l3.2,7.2h-6.4zM642.4,87.5l3.2,7.2h-6.4zM635.8,65.7l3.2,7.2h-6.4zM621.8,99.6l3.2,7.2h-6.4zM607.7,90.5l3.2,7.2h-6.4zM606.9,53.7l3.2,7.2h-6.4zM641.2,76l3.2,7.2h-6.4zM631.7,126.9l3.2,7.2h-6.4zM645.5,110.8l3.2,7.2h-6.4zM636.7,122.9l3.2,7.2h-6.4zM581.5,73.4l3.2,7.2h-6.4zM586.9,71.8l3.2,7.2h-6.4zM655.2,103.4l3.2,7.2h-6.4zM624.2,54.2l3.2,7.2h-6.4zM626.9,120.2l3.2,7.2h-6.4zM643.6,132.3l3.2,7.2h-6.4zM649.8,89.1l3.2,7.2h-6.4zM579.9,78l3.2,7.2h-6.4zM666,129.4l3.2,7.2h-6.4zM628.9,114.7l3.2,7.2h-6.4zM601.9,48l3.2,7.2h-6.4zM622.3,103.4l3.2,7.2h-6.4zM623.4,64.2l3.2,7.2h-6.4zM590.6,50.5l3.2,7.2h-6.4zM629.3,57.5l3.2,7.2h-6.4zM643,92.8l3.2,7.2h-6.4zM607.5,48.1l3.2,7.2h-6.4zM634.9,67.1l3.2,7.2h-6.4zM633.9,78.7l3.2,7.2h-6.4zM594.7,35.7l3.2,7.2h-6.4zM628.2,61.7l3.2,7.2h-6.4zM608,76l3.2,7.2h-6.4zM595.9,35.8l3.2,7.2h-6.4zM597.9,35.6l3.2,7.2h-6.4zM605.9,77.6l3.2,7.2h-6.4zM590.9,52l3.2,7.2h-6.4zM620.5,54l3.2,7.2h-6.4zM608.6,72l3.2,7.2h-6.4zM592.4,53.7l3.2,7.2h-6.4zM666.6,126.4l3.2,7.2h-6.4zM600.4,58.3l3.2,7.2h-6.4zM602.6,56.8l3.2,7.2h-6.4zM582.6,68l3.2,7.2h-6.4zM616.1,103.6l3.2,7.2h-6.4zM654.8,96.6l3.2,7.2h-6.4zM648.6,92.5l3.2,7.2h-6.4zM607.2,65.8l3.2,7.2h-6.4zM666.8,130.4l3.2,7.2h-6.4zM596.2,37.7l3.2,7.2h-6.4zM629.4,65.8l3.2,7.2h-6.4zM642.6,98.4l3.2,7.2h-6.4zM630,90.6l3.2,7.2h-6.4zM611.8,72l3.2,7.2h-6.4zM616.6,61.8l3.2,7.2h-6.4zM646.3,108.2l3.2,7.2h-6.4zM661.4,115.8l3.2,7.2h-6.4zM634,82.6l3.2,7.2h-6.4zM642.1,132.3l3.2,7.2h-6.4zM588.4,83.3l3.2,7.2h-6.4zM625.2,55.7l3.2,7.2h-6.4zM603.6,56.1l3.2,7.2h-6.4zM624,58.4l3.2,7.2h-6.4zM583.8,75.3l3.2,7.2h-6.4zM639.5,118l3.2,7.2h-6.4zM577.6,75.4l3.2,7.2h-6.4zM605.4,66.4l3.2,7.2h-6.4zM587,54l3.2,7.2h-6.4zM637.7,83.7l3.2,7.2h-6.4zM614.6,102l3.2,7.2h-6.4zM619.2,103.8l3.2,7.2h-6.4zM612.1,65.1l3.2,7.2h-6.4zM600.6,91.7l3.2,7.2h-6.4zM604,40.3l3.2,7.2h-6.4zM646.3,106.7l3.2,7.2h-6.4zM653.1,119.7l3.2,7.2h-6.4zM605.3,81.1l3.2,7.2h-6.4zM624.3,74l3.2,7.2h-6.4zM604,47.9l3.2,7.2h-6.4zM644.7,114.1l3.2,7.2h-6.4zM610.4,44.9l3.2,7.2h-6.4zM629.4,83l3.2,7.2h-6.4zM623.3,96.5l3.2,7.2h-6.4zM612.2,59.9l3.2,7.2h-6.4zM600.9,52.6l3.2,7.2h-6.4zM641.7,133.2l3.2,7.2h-6.4zM601,88.6l3.2,7.2h-6.4zM589.3,60.5l3.2,7.2h-6.4zM634.8,62.9l3.2,7.2h-6.4zM649.2,85.1l3.2,7.2h-6.4zM636.1,126.9l3.2,7.2h-6.4zM632.3,59.2l3.2,7.2h-6.4zM614.2,80.2l3.2,7.2h-6.4zM619.1,77.8l3.2,7.2h-6.4zM608.9,65.7l3.2,7.2h-6.4zM599.2,74.1l3.2,7.2h-6.4zM605,84.5l3.2,7.2h-6.4zM600.3,40.7l3.2,7.2h-6.4zM644.9,82.2l3.2,7.2h-6.4zM594.6,61.1l3.2,7.2h-6.4zM604.6,37.6l3.2,7.2h-6.4zM622,52.3l3.2,7.2h-6.4zM606.6,39.5l3.2,7.2h-6.4zM665.6,141.6l3.2,7.2h-6.4zM623.6,95.9l3.2,7.2h-6.4zM619.3,58.4l3.2,7.2h-6.4zM643.9,134.2l3.2,7.2h-6.4zM636.1,102.4l3.2,7.2h-6.4zM634.3,99.5l3.2,7.2h-6.4zM612.1,50.2l3.2,7.2h-6.4zM645.3,98.3l3.2,7.2h-6.4zM596,55.2l3.2,7.2h-6.4zM647.6,86.6l3.2,7.2h-6.4zM596.4,53.1l3.2,7.2h-6.4zM612.2,104.5l3.2,7.2h-6.4zM655.1,127.2l3.2,7.2h-6.4zM637.2,79.5l3.2,7.2h-6.4zM601.8,64.6l3.2,7.2h-6.4zM600.1,37.8l3.2,7.2h-6.4zM653.6,97.5l3.2,7.2h-6.4zM629.4,106.3l3.2,7.2h-6.4zM601.3,90.5l3.2,7.2h-6.4zM622.1,69.3l3.2,7.2h-6.4zM622.3,108.4l3.2,7.2h-6.4zM622.6,72.7l3.2,7.2h-6.4zM624.3,104.7l3.2,7.2h-6.4zM641.1,93.3l3.2,7.2h-6.4zM653.9,120.9l3.2,7.2h-6.4zM621,76.4l3.2,7.2h-6.4zM645.6,80.9l3.2,7.2h-6.4zM621.2,90.3l3.2,7.2h-6.4zM658,125.7l3.2,7.2h-6.4zM650.9,115.4l3.2,7.2h-6.4zM651.7,123l3.2,7.2h-6.4zM667.8,138.1l3.2,7.2h-6.4zM619.7,75l3.2,7.2h-6.4zM647.9,99.7l3.2,7.2h-6.4zM614.2,56.2l3.2,7.2h-6.4zM602,68.6l3.2,7.2h-6.4zM585.4,62.9l3.2,7.2h-6.4zM629.6,76.8l3.2,7.2h-6.4zM644.9,108.5l3.2,7.2h-6.4zM639.1,77.9l3.2,7.2h-6.4zM629.7,66.2l3.2,7.2h-6.4zM612.1,49.5l3.2,7.2h-6.4zM587.7,80.4l3.2,7.2h-6.4zM592.4,81.7l3.2,7.2h-6.4zM622.3,78.7l3.2,7.2h-6.4zM654.2,124.7l3.2,7.2h-6.4zM612.2,67.8l3.2,7.2h-6.4zM610.2,83.7l3.2,7.2h-6.4zM660.6,124.8l3.2,7.2h-6.4zM594.6,48.8l3.2,7.2h-6.4zM638.2,69.4l3.2,7.2h-6.4zM610.6,57.9l3.2,7.2h-6.4zM596.5,76.2l3.2,7.2h-6.4zM578,75.1l3.2,7.2h-6.4zM622.5,58.1l3.2,7.2h-6.4zM656.2,102.9l3.2,7.2h-6.4zM616.2,103.9l3.2,7.2h-6.4zM666,146.8l3.2,7.2h-6.4zM651.6,90.5l3.2,7.2h-6.4zM667.4,151.8l3.2,7.2h-6.4zM653.3,95l3.2,7.2h-6.4zM631.6,95l3.2,7.2h-6.4zM645.4,82.1l3.2,7.2h-6.4zM658.2,109.1l3.2,7.2h-6.4zM632.1,117.3l3.2,7.2h-6.4zM629.6,66.1l3.2,7.2h-6.4zM662.5,118.6l3.2,7.2h-6.4zM634.9,69.9l3.2,7.2h-6.4zM641.8,94.3l3.2,7.2h-6.4zM648.3,86.4l3.2,7.2h-6.4zM619.9,50.2l3.2,7.2h-6.4zM628.1,54.7l3.2,7.2h-6.4zM594,33.2l3.2,7.2h-6.4zM648.5,93.7l3.2,7.2h-6.4zM615.5,44.2l3.2,7.2h-6.4zM590.4,81l3.2,7.2h-6.4zM590.4,65.3l3.2,7.2h-6.4zM643.6,82.6l3.2,7.2h-6.4zM635.5,85.8l3.2,7.2h-6.4zM666.2,125.3l3.2,7.2h-6.4zM603.8,55.8l3.2,7.2h-6.4zM641.2,75.8l3.2,7.2h-6.4zM616,86.2l3.2,7.2h-6.4zM586.9,57.9l3.2,7.2h-6.4zM617.6,106.8l3.2,7.2h-6.4zM593.8,53.7l3.2,7.2h-6.4zM622.9,106.5l3.2,7.2h-6.4zM595.8,60.4l3.2,7.2h-6.4zM640.2,97.2l3.2,7.2h-6.4zM647.3,87.6l3.2,7.2h-6.4zM667.7,133.4l3.2,7.2h-6.4zM619.6,73.2l3.2,7.2h-6.4zM595.3,78.8l3.2,7.2h-6.4zM596.4,79.9l3.2,7.2h-6.4zM643.2,101.2l3.2,7.2h-6.4zM632,59l3.2,7.2h-6.4zM639.8,69.4l3.2,7.2h-6.4zM663.2,128.1l3.2,7.2h-6.4zM597,47.7l3.2,7.2h-6.4zM596.7,43.3l3.2,7.2h-6.4zM617,58.6l3.2,7.2h-6.4zM604.5,37.5l3.2,7.2h-6.4zM628.1,83.2l3.2,7.2h-6.4zM616.6,83.1l3.2,7.2h-6.4zM635.4,114.2l3.2,7.2h-6.4zM653.9,107.9l3.2,7.2h-6.4zM630.2,84.6l3.2,7.2h-6.4zM653.5,106.6l3.2,7.2h-6.4zM617.9,56.9l3.2,7.2h-6.4zM659.8,107.5l3.2,7.2h-6.4zM578.6,75l3.2,7.2h-6.4zM597.9,59.1l3.2,7.2h-6.4zM643.8,105l3.2,7.2h-6.4zM633.6,105.3l3.2,7.2h-6.4zM662,126.8l3.2,7.2h-6.4zM623.2,71l3.2,7.2h-6.4zM616,75.8l3.2,7.2h-6.4zM664.4,129.9l3.2,7.2h-6.4zM652.8,135.7l3.2,7.2h-6.4zM589,75.7l3.2,7.2h-6.4zM609.2,57.9l3.2,7.2h-6.4zM619,61.4l3.2,7.2h-6.4zM657,103l3.2,7.2h-6.4zM622,67.3l3.2,7.2h-6.4zM599.9,36l3.2,7.2h-6.4zM645.6,119.3l3.2,7.2h-6.4zM622.2,84.3l3.2,7.2h-6.4zM589.2,80.2l3.2,7.2h-6.4zM640.4,72.1l3.2,7.2h-6.4zM668.9,147.4l3.2,7.2h-6.4zM639.8,85.7l3.2,7.2h-6.4zM618.2,46.3l3.2,7.2h-6.4zM652.6,122.2l3.2,7.2h-6.4zM644.2,79l3.2,7.2h-6.4zM655.4,126.5l3.2,7.2h-6.4zM604.1,58.5l3.2,7.2h-6.4zM644.4,125.6l3.2,7.2h-6.4zM653.3,98.4l3.2,7.2h-6.4zM624.7,112l3.2,7.2h-6.4zM646.3,82.2l3.2,7.2h-6.4zM585.3,78.9l3.2,7.2h-6.4zM632.1,58.6l3.2,7.2h-6.4zM599,85.7l3.2,7.2h-6.4zM596.6,48l3.2,7.2h-6.4zM605.1,76.8l3.2,7.2h-6.4zM613.6,42.7l3.2,7.2h-6.4zM666,152.3l3.2,7.2h-6.4zM615.8,102.6l3.2,7.2h-6.4zM646.1,81.5l3.2,7.2h-6.4zM613.3,62l3.2,7.2h-6.4zM586.3,63.5l3.2,7.2h-6.4zM643.3,74.5l3.2,7.2h-6.4zM629.9,98.8l3.2,7.2h-6.4zM657.7,139.2l3.2,7.2h-6.4zM582.4,68.7l3.2,7.2h-6.4zM634.4,73.9l3.2,7.2h-6.4zM590.2,47.9l3.2,7.2h-6.4zM581.1,69.3l3.2,7.2h-6.4zM623.2,115l3.2,7.2h-6.4zM598.3,43.1l3.2,7.2h-6.4zM587.9,79l3.2,7.2h-6.4zM616.1,87.6l3.2,7.2h-6.4zM596,56.3l3.2,7.2h-6.4zM667.9,135.6l3.2,7.2h-6.4zM621.4,112.3l3.2,7.2h-6.4zM644.6,75.8l3.2,7.2h-6.4zM584.3,60.2l3.2,7.2h-6.4zM600.2,41.3l3.2,7.2h-6.4zM625.8,91.3l3.2,7.2h-6.4zM632.9,107.9l3.2,7.2h-6.4zM579.7,69.8l3.2,7.2h-6.4zM664.5,121l3.2,7.2h-6.4zM603,55.8l3.2,7.2h-6.4zM589.1,75.2l3.2,7.2h-6.4zM594.8,64.7l3.2,7.2h-6.4zM583.6,81.1l3.2,7.2h-6.4zM610.2,57.1l3.2,7.2h-6.4zM611.7,64.7l3.2,7.2h-6.4zM599.6,54.6l3.2,7.2h-6.4zM627.3,55.5l3.2,7.2h-6.4zM612,89l3.2,7.2h-6.4zM611,67l3.2,7.2h-6.4zM633.3,60.9l3.2,7.2h-6.4zM607.1,94.4l3.2,7.2h-6.4zM618,52.8l3.2,7.2h-6.4zM647.4,97.4l3.2,7.2h-6.4zM612.8,47.1l3.2,7.2h-6.4zM598.1,36.1l3.2,7.2h-6.4zM621.9,64.5l3.2,7.2h-6.4zM620.4,60.8l3.2,7.2h-6.4zM630.5,65.5l3.2,7.2h-6.4zM589,56.5l3.2,7.2h-6.4zM602.3,36.5l3.2,7.2h-6.4zM627.8,71.6l3.2,7.2h-6.4zM609.7,42.8l3.2,7.2h-6.4zM652.5,125.8l3.2,7.2h-6.4zM618.9,75.5l3.2,7.2h-6.4zM607.5,49.9l3.2,7.2h-6.4zM637.8,119.6l3.2,7.2h-6.4zM601.3,38.6l3.2,7.2h-6.4zM619.9,81.8l3.2,7.2h-6.4zM637.3,98.6l3.2,7.2h-6.4zM663.2,117.2l3.2,7.2h-6.4zM586.3,65.8l3.2,7.2h-6.4zM631.6,66.3l3.2,7.2h-6.4zM625.6,74.9l3.2,7.2h-6.4zM619.1,55.6l3.2,7.2h-6.4zM626.5,79.5l3.2,7.2h-6.4zM634.8,64.2l3.2,7.2h-6.4zM619.2,93.3l3.2,7.2h-6.4zM584.9,67.8l3.2,7.2h-6.4zM666.8,126.7l3.2,7.2h-6.4zM594,67.4l3.2,7.2h-6.4zM624.8,75l3.2,7.2h-6.4zM651.8,96.7l3.2,7.2h-6.4zM625.9,111.2l3.2,7.2h-6.4zM666.7,131.6l3.2,7.2h-6.4zM618.2,47.7l3.2,7.2h-6.4zM624,87.7l3.2,7.2h-6.4zM584,68.5l3.2,7.2h-6.4zM633.3,91.4l3.2,7.2h-6.4zM612.6,43.7l3.2,7.2h-6.4zM665.2,135.1l3.2,7.2h-6.4zM665.2,125.1l3.2,7.2h-6.4zM665.9,144.7l3.2,7.2h-6.4zM632.6,59.6l3.2,7.2h-6.4zM624.3,60.2l3.2,7.2h-6.4zM635.8,87.9l3.2,7.2h-6.4zM650.1,84.9l3.2,7.2h-6.4zM628.7,59l3.2,7.2h-6.4zM660.3,106.6l3.2,7.2h-6.4zM648,117.4l3.2,7.2h-6.4zM639.1,82.2l3.2,7.2h-6.4zM646.3,84.9l3.2,7.2h-6.4zM665.7,127.3l3.2,7.2h-6.4zM662.6,125.7l3.2,7.2h-6.4zM649,88.4l3.2,7.2h-6.4zM658.5,106.3l3.2,7.2h-6.4zM643.2,74.6l3.2,7.2h-6.4zM664.5,133.6l3.2,7.2h-6.4zM651.7,100.5l3.2,7.2h-6.4zM654.8,94.3l3.2,7.2h-6.4zM669.4,154l3.2,7.2h-6.4zM659.2,114.4l3.2,7.2h-6.4zM639.5,77.8l3.2,7.2h-6.4zM622.5,59.5l3.2,7.2h-6.4zM631.5,62.2l3.2,7.2h-6.4zM658.1,124.7l3.2,7.2h-6.4zM647.4,100.2l3.2,7.2h-6.4zM660,111.2l3.2,7.2h-6.4zM659.4,104.4l3.2,7.2h-6.4zM654,109.2l3.2,7.2h-6.4zM654.4,103.7l3.2,7.2h-6.4zM659.2,111.7l3.2,7.2h-6.4zM636.8,69.8l3.2,7.2h-6.4zM654.7,99.8l3.2,7.2h-6.4zM664.4,134.1l3.2,7.2h-6.4zM667.2,145.9l3.2,7.2h-6.4zM634.6,63.2l3.2,7.2h-6.4zM654,123.8l3.2,7.2h-6.4zM650.6,91.6l3.2,7.2h-6.4zM660.1,140.7l3.2,7.2h-6.4zM636.9,78.6l3.2,7.2h-6.4zM664.1,121.2l3.2,7.2h-6.4zM660.4,136.5l3.2,7.2h-6.4zM642,80.8l3.2,7.2h-6.4zM655.7,119.7l3.2,7.2h-6.4zM641.9,82.4l3.2,7.2h-6.4zM664.8,129.6l3.2,7.2h-6.4zM656.9,131l3.2,7.2h-6.4zM654.1,104.7l3.2,7.2h-6.4zM638.5,87.7l3.2,7.2h-6.4zM648,85.6l3.2,7.2h-6.4zM632.5,75.7l3.2,7.2h-6.4zM657.1,128.3l3.2,7.2h-6.4zM662,153.1l3.2,7.2h-6.4zM655.7,110.6l3.2,7.2h-6.4zM666.6,133.8l3.2,7.2h-6.4zM635.3,63.8l3.2,7.2h-6.4zM664.3,143.5l3.2,7.2h-6.4zM645.8,88.8l3.2,7.2h-6.4zM653.2,98.4l3.2,7.2h-6.4zM649.2,88.6l3.2,7.2h-6.4zM654.6,97.5l3.2,7.2h-6.4zM666.3,145.7l3.2,7.2h-6.4zM633.3,60.4l3.2,7.2h-6.4zM649.5,99l3.2,7.2h-6.4zM643,87.2l3.2,7.2h-6.4zM658.7,118.5l3.2,7.2h-6.4zM631.2,66l3.2,7.2h-6.4zM643.4,74.8l3.2,7.2h-6.4zM650.8,92.1l3.2,7.2h-6.4zM666.4,146.4l3.2,7.2h-6.4zM645,79.8l3.2,7.2h-6.4zM655.6,98.3l3.2,7.2h-6.4zM654.4,121.6l3.2,7.2h-6.4zM642.6,80.2l3.2,7.2h-6.4zM659.4,123.4l3.2,7.2h-6.4zM641.1,80.3l3.2,7.2h-6.4zM629.5,71l3.2,7.2h-6.4zM623.1,66.9l3.2,7.2h-6.4zM630.6,65.9l3.2,7.2h-6.4zM652.5,107.6l3.2,7.2h-6.4zM648.4,83l3.2,7.2h-6.4zM657.1,110.2l3.2,7.2h-6.4zM626,60.6l3.2,7.2h-6.4zM647.6,95.5l3.2,7.2h-6.4zM667.6,147.8l3.2,7.2h-6.4zM661.7,112.2l3.2,7.2h-6.4zM649.3,87.4l3.2,7.2h-6.4zM639.8,81.3l3.2,7.2h-6.4zM641.8,79.6l3.2,7.2h-6.4zM652.4,101.9l3.2,7.2h-6.4zM665.7,152.1l3.2,7.2h-6.4zM663.5,129.8l3.2,7.2h-6.4zM617.5,59.2l3.2,7.2h-6.4zM627.3,67.5l3.2,7.2h-6.4z" fill="#ff0000"/>
</g>
<rect x="33.90" y="1.35" width="301.60" height="293.55" fill="none" stroke="#000" stroke-width="1.3"/><path d="M33.90,289.20h3.4M33.90,283.55h1.8M33.90,277.90h1.8M33.90,272.25h1.8M33.90,266.60h1.8M33.90,260.95h1.8M33.90,255.31h1.8M33.90,249.66h1.8M33.90,244.01h1.8M33.90,238.36h1.8M33.90,232.71h3.4M33.90,227.06h1.8M33.90,221.41h1.8M33.90,215.76h1.8M33.90,210.11h1.8M33.90,204.46h1.8M33.90,198.82h1.8M33.90,193.17h1.8M33.90,187.52h1.8M33.90,181.87h1.8M33.90,176.22h3.4M33.90,170.57h1.8M33.90,164.92h1.8M33.90,159.27h1.8M33.90,153.62h1.8M33.90,147.97h1.8M33.90,142.33h1.8M33.90,136.68h1.8M33.90,131.03h1.8M33.90,125.38h1.8M33.90,119.73h3.4M33.90,114.08h1.8M33.90,108.43h1.8M33.90,102.78h1.8M33.90,97.13h1.8M33.90,91.48h1.8M33.90,85.84h1.8M33.90,80.19h1.8M33.90,74.54h1.8M33.90,68.89h1.8M33.90,63.24h3.4M33.90,57.59h1.8M33.90,51.94h1.8M33.90,46.29h1.8M33.90,40.64h1.8M33.90,34.99h1.8M33.90,29.35h1.8M33.90,23.70h1.8M33.90,18.05h1.8M33.90,12.40h1.8M33.90,6.75h3.4M35.77,294.90v-2.0M38.24,294.90v-2.0M40.70,294.90v-2.0M43.16,294.90v-2.0M45.62,294.90v-2.0M48.09,294.90v-2.0M50.55,294.90v-2.0M53.01,294.90v-2.0M55.48,294.90v-2.0M57.94,294.90v-2.0M60.40,294.90v-4.0M62.86,294.90v-2.0M65.33,294.90v-2.0M67.79,294.90v-2.0M70.25,294.90v-2.0M72.71,294.90v-2.0M75.17,294.90v-2.0M77.64,294.90v-2.0M80.10,294.90v-2.0M82.56,294.90v-2.0M85.03,294.90v-2.0M87.49,294.90v-2.0M89.95,294.90v-4.0M92.41,294.90v-2.0M94.88,294.90v-2.0M97.34,294.90v-2.0M99.80,294.90v-2.0M102.26,294.90v-2.0M104.72,294.90v-2.0M107.19,294.90v-2.0M109.65,294.90v-2.0M112.11,294.90v-2.0M114.57,294.90v-2.0M117.04,294.90v-2.0M119.50,294.90v-4.0M121.96,294.90v-2.0M124.42,294.90v-2.0M126.89,294.90v-2.0M129.35,294.90v-2.0M131.81,294.90v-2.0M134.28,294.90v-2.0M136.74,294.90v-2.0M139.20,294.90v-2.0M141.66,294.90v-2.0M144.12,294.90v-2.0M146.59,294.90v-2.0M149.05,294.90v-4.0M151.51,294.90v-2.0M153.97,294.90v-2.0M156.44,294.90v-2.0M158.90,294.90v-2.0M161.36,294.90v-2.0M163.82,294.90v-2.0M166.29,294.90v-2.0M168.75,294.90v-2.0M171.21,294.90v-2.0M173.67,294.90v-2.0M176.14,294.90v-2.0M178.60,294.90v-4.0M181.06,294.90v-2.0M183.53,294.90v-2.0M185.99,294.90v-2.0M188.45,294.90v-2.0M190.91,294.90v-2.0M193.38,294.90v-2.0M195.84,294.90v-2.0M198.30,294.90v-2.0M200.76,294.90v-2.0M203.22,294.90v-2.0M205.69,294.90v-2.0M208.15,294.90v-4.0M210.61,294.90v-2.0M213.07,294.90v-2.0M215.54,294.90v-2.0M218.00,294.90v-2.0M220.46,294.90v-2.0M222.93,294.90v-2.0M225.39,294.90v-2.0M227.85,294.90v-2.0M230.31,294.90v-2.0M232.78,294.90v-2.0M235.24,294.90v-2.0M237.70,294.90v-4.0M240.16,294.90v-2.0M242.62,294.90v-2.0M245.09,294.90v-2.0M247.55,294.90v-2.0M250.01,294.90v-2.0M252.47,294.90v-2.0M254.94,294.90v-2.0M257.40,294.90v-2.0M259.86,294.90v-2.0M262.32,294.90v-2.0M264.79,294.90v-2.0M267.25,294.90v-4.0M269.71,294.90v-2.0M272.18,294.90v-2.0M274.64,294.90v-2.0M277.10,294.90v-2.0M279.56,294.90v-2.0M282.02,294.90v-2.0M284.49,294.90v-2.0M286.95,294.90v-2.0M289.41,294.90v-2.0M291.88,294.90v-2.0M294.34,294.90v-2.0M296.80,294.90v-4.0M299.26,294.90v-2.0M301.72,294.90v-2.0M304.19,294.90v-2.0M306.65,294.90v-2.0M309.11,294.90v-2.0M311.57,294.90v-2.0M314.04,294.90v-2.0M316.50,294.90v-2.0M318.96,294.90v-2.0M321.42,294.90v-2.0M323.89,294.90v-2.0M326.35,294.90v-4.0M328.81,294.90v-2.0M331.27,294.90v-2.0M333.74,294.90v-2.0" stroke="#000" stroke-width="1" fill="none"/>
<rect x="379.80" y="1.35" width="301.80" height="293.55" fill="none" stroke="#000" stroke-width="1.3"/><path d="M379.80,289.20h3.4M379.80,283.55h1.8M379.80,277.90h1.8M379.80,272.25h1.8M379.80,266.60h1.8M379.80,260.95h1.8M379.80,255.31h1.8M379.80,249.66h1.8M379.80,244.01h1.8M379.80,238.36h1.8M379.80,232.71h3.4M379.80,227.06h1.8M379.80,221.41h1.8M379.80,215.76h1.8M379.80,210.11h1.8M379.80,204.46h1.8M379.80,198.82h1.8M379.80,193.17h1.8M379.80,187.52h1.8M379.80,181.87h1.8M379.80,176.22h3.4M379.80,170.57h1.8M379.80,164.92h1.8M379.80,159.27h1.8M379.80,153.62h1.8M379.80,147.97h1.8M379.80,142.33h1.8M379.80,136.68h1.8M379.80,131.03h1.8M379.80,125.38h1.8M379.80,119.73h3.4M379.80,114.08h1.8M379.80,108.43h1.8M379.80,102.78h1.8M379.80,97.13h1.8M379.80,91.48h1.8M379.80,85.84h1.8M379.80,80.19h1.8M379.80,74.54h1.8M379.80,68.89h1.8M379.80,63.24h3.4M379.80,57.59h1.8M379.80,51.94h1.8M379.80,46.29h1.8M379.80,40.64h1.8M379.80,34.99h1.8M379.80,29.35h1.8M379.80,23.70h1.8M379.80,18.05h1.8M379.80,12.40h1.8M379.80,6.75h3.4M380.91,294.90v-2.0M383.38,294.90v-2.0M385.84,294.90v-2.0M388.30,294.90v-2.0M390.76,294.90v-2.0M393.23,294.90v-2.0M395.69,294.90v-2.0M398.15,294.90v-2.0M400.61,294.90v-2.0M403.07,294.90v-2.0M405.54,294.90v-2.0M408.00,294.90v-4.0M410.46,294.90v-2.0M412.93,294.90v-2.0M415.39,294.90v-2.0M417.85,294.90v-2.0M420.31,294.90v-2.0M422.77,294.90v-2.0M425.24,294.90v-2.0M427.70,294.90v-2.0M430.16,294.90v-2.0M432.62,294.90v-2.0M435.09,294.90v-2.0M437.55,294.90v-4.0M440.01,294.90v-2.0M442.48,294.90v-2.0M444.94,294.90v-2.0M447.40,294.90v-2.0M449.86,294.90v-2.0M452.32,294.90v-2.0M454.79,294.90v-2.0M457.25,294.90v-2.0M459.71,294.90v-2.0M462.18,294.90v-2.0M464.64,294.90v-2.0M467.10,294.90v-4.0M469.56,294.90v-2.0M472.02,294.90v-2.0M474.49,294.90v-2.0M476.95,294.90v-2.0M479.41,294.90v-2.0M481.88,294.90v-2.0M484.34,294.90v-2.0M486.80,294.90v-2.0M489.26,294.90v-2.0M491.73,294.90v-2.0M494.19,294.90v-2.0M496.65,294.90v-4.0M499.11,294.90v-2.0M501.57,294.90v-2.0M504.04,294.90v-2.0M506.50,294.90v-2.0M508.96,294.90v-2.0M511.43,294.90v-2.0M513.89,294.90v-2.0M516.35,294.90v-2.0M518.81,294.90v-2.0M521.27,294.90v-2.0M523.74,294.90v-2.0M526.20,294.90v-4.0M528.66,294.90v-2.0M531.12,294.90v-2.0M533.59,294.90v-2.0M536.05,294.90v-2.0M538.51,294.90v-2.0M540.98,294.90v-2.0M543.44,294.90v-2.0M545.90,294.90v-2.0M548.36,294.90v-2.0M550.83,294.90v-2.0M553.29,294.90v-2.0M555.75,294.90v-4.0M558.21,294.90v-2.0M560.67,294.90v-2.0M563.14,294.90v-2.0M565.60,294.90v-2.0M568.06,294.90v-2.0M570.52,294.90v-2.0M572.99,294.90v-2.0M575.45,294.90v-2.0M577.91,294.90v-2.0M580.38,294.90v-2.0M582.84,294.90v-2.0M585.30,294.90v-4.0M587.76,294.90v-2.0M590.23,294.90v-2.0M592.69,294.90v-2.0M595.15,294.90v-2.0M597.61,294.90v-2.0M600.08,294.90v-2.0M602.54,294.90v-2.0M605.00,294.90v-2.0M607.46,294.90v-2.0M609.92,294.90v-2.0M612.39,294.90v-2.0M614.85,294.90v-4.0M617.31,294.90v-2.0M619.77,294.90v-2.0M622.24,294.90v-2.0M624.70,294.90v-2.0M627.16,294.90v-2.0M629.62,294.90v-2.0M632.09,294.90v-2.0M634.55,294.90v-2.0M637.01,294.90v-2.0M639.48,294.90v-2.0M641.94,294.90v-2.0M644.40,294.90v-4.0M646.86,294.90v-2.0M649.33,294.90v-2.0M651.79,294.90v-2.0M654.25,294.90v-2.0M656.71,294.90v-2.0M659.17,294.90v-2.0M661.64,294.90v-2.0M664.10,294.90v-2.0M666.56,294.90v-2.0M669.02,294.90v-2.0M671.49,294.90v-2.0M673.95,294.90v-4.0M676.41,294.90v-2.0M678.88,294.90v-2.0" stroke="#000" stroke-width="1" fill="none"/>
<text x="60.4" y="309.0" font-size="15" font-family="Liberation Serif, serif" text-anchor="middle"  textLength="17.0" lengthAdjust="spacingAndGlyphs">200</text>
<text x="90.0" y="309.0" font-size="15" font-family="Liberation Serif, serif" text-anchor="middle"  textLength="17.0" lengthAdjust="spacingAndGlyphs">400</text>
<text x="119.5" y="309.0" font-size="15" font-family="Liberation Serif, serif" text-anchor="middle"  textLength="17.0" lengthAdjust="spacingAndGlyphs">600</text>
<text x="149.1" y="309.0" font-size="15" font-family="Liberation Serif, serif" text-anchor="middle"  textLength="17.0" lengthAdjust="spacingAndGlyphs">800</text>
<text x="178.6" y="309.0" font-size="15" font-family="Liberation Serif, serif" text-anchor="middle"  textLength="22.6" lengthAdjust="spacingAndGlyphs">1000</text>
<text x="208.2" y="309.0" font-size="15" font-family="Liberation Serif, serif" text-anchor="middle"  textLength="22.6" lengthAdjust="spacingAndGlyphs">1200</text>
<text x="237.7" y="309.0" font-size="15" font-family="Liberation Serif, serif" text-anchor="middle"  textLength="22.6" lengthAdjust="spacingAndGlyphs">1400</text>
<text x="267.2" y="309.0" font-size="15" font-family="Liberation Serif, serif" text-anchor="middle"  textLength="22.6" lengthAdjust="spacingAndGlyphs">1600</text>
<text x="296.8" y="309.0" font-size="15" font-family="Liberation Serif, serif" text-anchor="middle"  textLength="22.6" lengthAdjust="spacingAndGlyphs">1800</text>
<text x="326.3" y="309.0" font-size="15" font-family="Liberation Serif, serif" text-anchor="middle"  textLength="22.6" lengthAdjust="spacingAndGlyphs">2000</text>
<text x="30.1" y="294.7" font-size="15" font-family="Liberation Serif, serif" text-anchor="end"  textLength="14.6" lengthAdjust="spacingAndGlyphs">0.0</text>
<text x="30.1" y="238.2" font-size="15" font-family="Liberation Serif, serif" text-anchor="end"  textLength="14.6" lengthAdjust="spacingAndGlyphs">0.2</text>
<text x="30.1" y="181.7" font-size="15" font-family="Liberation Serif, serif" text-anchor="end"  textLength="14.6" lengthAdjust="spacingAndGlyphs">0.4</text>
<text x="30.1" y="125.2" font-size="15" font-family="Liberation Serif, serif" text-anchor="end"  textLength="14.6" lengthAdjust="spacingAndGlyphs">0.6</text>
<text x="30.1" y="68.7" font-size="15" font-family="Liberation Serif, serif" text-anchor="end"  textLength="14.6" lengthAdjust="spacingAndGlyphs">0.8</text>
<text x="30.1" y="12.2" font-size="15" font-family="Liberation Serif, serif" text-anchor="end"  textLength="14.6" lengthAdjust="spacingAndGlyphs">1.0</text>
<text x="408.0" y="309.0" font-size="15" font-family="Liberation Serif, serif" text-anchor="middle"  textLength="17.0" lengthAdjust="spacingAndGlyphs">200</text>
<text x="437.6" y="309.0" font-size="15" font-family="Liberation Serif, serif" text-anchor="middle"  textLength="17.0" lengthAdjust="spacingAndGlyphs">400</text>
<text x="467.1" y="309.0" font-size="15" font-family="Liberation Serif, serif" text-anchor="middle"  textLength="17.0" lengthAdjust="spacingAndGlyphs">600</text>
<text x="496.6" y="309.0" font-size="15" font-family="Liberation Serif, serif" text-anchor="middle"  textLength="17.0" lengthAdjust="spacingAndGlyphs">800</text>
<text x="526.2" y="309.0" font-size="15" font-family="Liberation Serif, serif" text-anchor="middle"  textLength="22.6" lengthAdjust="spacingAndGlyphs">1000</text>
<text x="555.8" y="309.0" font-size="15" font-family="Liberation Serif, serif" text-anchor="middle"  textLength="22.6" lengthAdjust="spacingAndGlyphs">1200</text>
<text x="585.3" y="309.0" font-size="15" font-family="Liberation Serif, serif" text-anchor="middle"  textLength="22.6" lengthAdjust="spacingAndGlyphs">1400</text>
<text x="614.9" y="309.0" font-size="15" font-family="Liberation Serif, serif" text-anchor="middle"  textLength="22.6" lengthAdjust="spacingAndGlyphs">1600</text>
<text x="644.4" y="309.0" font-size="15" font-family="Liberation Serif, serif" text-anchor="middle"  textLength="22.6" lengthAdjust="spacingAndGlyphs">1800</text>
<text x="674.0" y="309.0" font-size="15" font-family="Liberation Serif, serif" text-anchor="middle"  textLength="22.6" lengthAdjust="spacingAndGlyphs">2000</text>
<text x="376.6" y="294.7" font-size="15" font-family="Liberation Serif, serif" text-anchor="end"  textLength="14.6" lengthAdjust="spacingAndGlyphs">0.0</text>
<text x="376.6" y="238.2" font-size="15" font-family="Liberation Serif, serif" text-anchor="end"  textLength="14.6" lengthAdjust="spacingAndGlyphs">0.2</text>
<text x="376.6" y="181.7" font-size="15" font-family="Liberation Serif, serif" text-anchor="end"  textLength="14.6" lengthAdjust="spacingAndGlyphs">0.4</text>
<text x="376.6" y="125.2" font-size="15" font-family="Liberation Serif, serif" text-anchor="end"  textLength="14.6" lengthAdjust="spacingAndGlyphs">0.6</text>
<text x="376.6" y="68.7" font-size="15" font-family="Liberation Serif, serif" text-anchor="end"  textLength="14.6" lengthAdjust="spacingAndGlyphs">0.8</text>
<text x="376.6" y="12.2" font-size="15" font-family="Liberation Serif, serif" text-anchor="end"  textLength="14.6" lengthAdjust="spacingAndGlyphs">1.0</text>
<text transform="translate(10.5,147.4) rotate(-90)" font-size="13.4" font-family="Liberation Sans, sans-serif" text-anchor="middle">BR</text>
<text transform="translate(356.5,147.4) rotate(-90)" font-size="13.4" font-family="Liberation Sans, sans-serif" text-anchor="middle">BR</text>
<text x="155.6" y="327.3" font-size="15" font-family="Liberation Serif, serif" font-style="italic" >m</text>
<text x="168.4" y="330.4" font-size="9.5" font-family="Liberation Serif, serif" font-style="italic" >t</text>
<text x="167.8" y="325.6" font-size="9" font-family="Liberation Serif, serif" textLength="5.6" lengthAdjust="spacingAndGlyphs">~</text>
<text x="172.8" y="332.8" font-size="6.5" font-family="Liberation Serif, serif" font-style="italic" >L</text>
<text x="181.8" y="328.0" font-size="13.5" font-family="Liberation Sans, sans-serif" textLength="31.6" lengthAdjust="spacingAndGlyphs">(GeV)</text>
<text x="501.5" y="327.3" font-size="15" font-family="Liberation Serif, serif" font-style="italic" >m</text>
<text x="514.3" y="330.4" font-size="9.5" font-family="Liberation Serif, serif" font-style="italic" >t</text>
<text x="513.7" y="325.6" font-size="9" font-family="Liberation Serif, serif" textLength="5.6" lengthAdjust="spacingAndGlyphs">~</text>
<text x="518.7" y="332.8" font-size="6.5" font-family="Liberation Serif, serif" font-style="italic" >R</text>
<text x="527.7" y="328.0" font-size="13.5" font-family="Liberation Sans, sans-serif" textLength="31.6" lengthAdjust="spacingAndGlyphs">(GeV)</text>
<text x="165.4" y="20.6" font-size="15.5" font-family="Liberation Serif, serif" font-style="italic" >t</text><text x="164.5" y="12.7" font-size="15" font-family="Liberation Serif, serif" textLength="9.4" lengthAdjust="spacingAndGlyphs">~</text><text x="170.6" y="24.1" font-size="10.5" font-family="Liberation Serif, serif" font-style="italic" >L</text><text x="179.6" y="20.0" font-size="19" font-family="Liberation Serif, serif" textLength="17.4" lengthAdjust="spacingAndGlyphs">→</text><text x="198.4" y="20.6" font-size="15.5" font-family="Liberation Serif, serif" font-style="italic" >ν</text><text x="205.8" y="20.6" font-size="15.5" font-family="Liberation Serif, serif" font-style="italic" >t</text><text x="166.3" y="42.7" font-size="15.5" font-family="Liberation Serif, serif" font-style="italic" >t</text><text x="165.4" y="34.8" font-size="15" font-family="Liberation Serif, serif" textLength="9.4" lengthAdjust="spacingAndGlyphs">~</text><text x="171.5" y="46.2" font-size="10.5" font-family="Liberation Serif, serif" font-style="italic" >L</text><text x="180.5" y="42.1" font-size="19" font-family="Liberation Serif, serif" textLength="17.4" lengthAdjust="spacingAndGlyphs">→</text><text x="199.4" y="42.7" font-size="15.5" font-family="Liberation Serif, serif" font-style="italic" textLength="5.4" lengthAdjust="spacingAndGlyphs">ℓ</text><text x="205.6" y="42.7" font-size="15.5" font-family="Liberation Serif, serif" font-style="italic" >b</text><path d="M146.2,9.7l5.1,10.6h-10.2z" fill="none" stroke="#000" stroke-width="0.8" stroke-linejoin="miter"/><ellipse cx="146.2" cy="40.0" rx="2.3" ry="2.9" fill="none" stroke="#000" stroke-width="1.05"/>
<text x="513.0" y="134.4" font-size="15.5" font-family="Liberation Serif, serif" font-style="italic" >t</text><text x="512.1" y="126.5" font-size="15" font-family="Liberation Serif, serif" textLength="9.4" lengthAdjust="spacingAndGlyphs">~</text><text x="518.2" y="136.6" font-size="10.5" font-family="Liberation Serif, serif" font-style="italic" >R</text><text x="527.2" y="133.8" font-size="19" font-family="Liberation Serif, serif" textLength="17.4" lengthAdjust="spacingAndGlyphs">→</text><text x="546.8" y="134.4" font-size="15.5" font-family="Liberation Serif, serif" font-style="italic" >ν</text><text x="553.4" y="134.4" font-size="15.5" font-family="Liberation Serif, serif" font-style="italic" >t</text><text x="513.9" y="156.0" font-size="15.5" font-family="Liberation Serif, serif" font-style="italic" >t</text><text x="513.0" y="148.1" font-size="15" font-family="Liberation Serif, serif" textLength="9.4" lengthAdjust="spacingAndGlyphs">~</text><text x="519.1" y="158.2" font-size="10.5" font-family="Liberation Serif, serif" font-style="italic" >R</text><text x="528.1" y="155.4" font-size="19" font-family="Liberation Serif, serif" textLength="17.4" lengthAdjust="spacingAndGlyphs">→</text><text x="547.8" y="156.0" font-size="15.5" font-family="Liberation Serif, serif" font-style="italic" textLength="5.4" lengthAdjust="spacingAndGlyphs">ℓ</text><text x="553.2" y="156.0" font-size="15.5" font-family="Liberation Serif, serif" font-style="italic" >b</text><path d="M493.8,123.5l5.1,10.6h-10.2z" fill="none" stroke="#000" stroke-width="0.8" stroke-linejoin="miter"/><ellipse cx="493.8" cy="153.3" rx="2.3" ry="2.9" fill="none" stroke="#000" stroke-width="1.05"/>
</svg>
</body></html>
